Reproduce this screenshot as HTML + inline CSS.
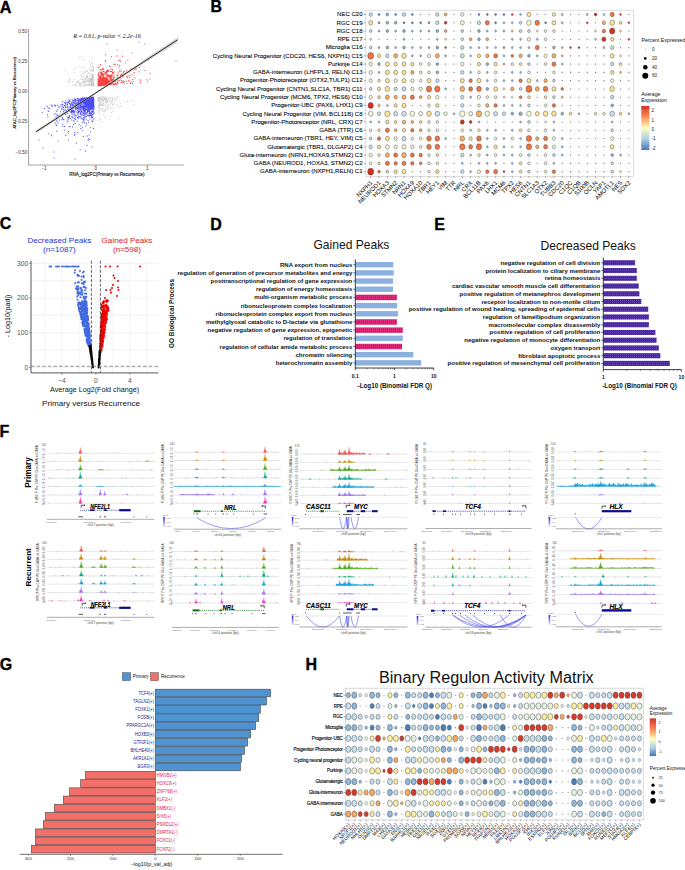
<!DOCTYPE html>
<html><head><meta charset="utf-8"><style>
html,body{margin:0;padding:0;background:#fff;}
svg{display:block;font-family:"Liberation Sans",sans-serif;}
.c0{fill:#c7e0ef;stroke:#444;stroke-width:0.45}
.c1{fill:#8db8da;stroke:#555;stroke-width:0.35}
.c2{fill:#8fb9de;stroke:#444;stroke-width:0.45}
.c3{fill:#f3f8d6;stroke:#333;stroke-width:0.4}
.c4{fill:#e6f2e4;stroke:#444;stroke-width:0.45}
.c5{fill:#fde48f;stroke:#333;stroke-width:0.4}
.c6{font-size:2.6px;text-anchor:middle;fill:#666}
.c7{stroke:#c8c8c8;stroke-width:0.45}
.c8{stroke:#555;stroke-width:0.5}
.c9{fill:#fbeea0;stroke:#444;stroke-width:0.45}
.c10{stroke:#e4e4e4;stroke-width:0.35}
.c11{fill:#c8e3ef;stroke:#333;stroke-width:0.4}
.c12{stroke:#ececec;stroke-width:0.35}
.c13{stroke:#555;stroke-width:0.45}
.c14{font-size:4.7px;text-anchor:end}
.c15{fill:#f4743f;stroke:#333;stroke-width:0.4}
.c16{stroke:#888;stroke-width:0.4}
.c17{font-size:2.4px;text-anchor:middle;fill:#666}
.c18{fill:#d93a2a;stroke:#444;stroke-width:0.45}
.c19{font-size:6.0px;text-anchor:end}
.c20{stroke:#000;stroke-width:0.08}
.c21{fill:#fcae5f;stroke:#333;stroke-width:0.4}
.c22{stroke:#111;stroke-width:0.6}
.c23{fill:#8db8da;stroke:#333;stroke-width:0.4}
.c24{font-size:6.06px;text-anchor:end;stroke:#000;stroke-width:0.08}
.c25{font-size:2.8px;text-anchor:middle;fill:#555}
.c26{fill:#c7e0ef;stroke:#555;stroke-width:0.35}
.c27{fill:none;stroke:#4848f0;stroke-width:0.55}
.c28{fill:#f6a963;stroke:#444;stroke-width:0.45}
.c29{font-size:6.1px;text-anchor:end;fill:#111;font-weight:bold}
.c30{font-size:6.03px;text-anchor:end;fill:#111;font-weight:bold}
</style></head><body>
<svg width="685" height="870" viewBox="0 0 685 870">
<rect width="685" height="870" fill="#fff"/>
<text x="-0.30" y="12.90" font-size="16.2" font-weight="bold" stroke="#000" stroke-width="0.35">A</text>
<line x1="28.60" y1="29.00" x2="28.60" y2="165.30" stroke="#9a9a9a" stroke-width="0.9"/>
<line x1="28.20" y1="165.00" x2="184.00" y2="165.00" stroke="#9a9a9a" stroke-width="0.9"/>
<line x1="27.00" y1="31.20" x2="28.60" y2="31.20" stroke="#9a9a9a" stroke-width="0.5"/>
<text x="27.00" y="32.70" font-size="4.5" text-anchor="end" fill="#333">0.50</text>
<line x1="27.00" y1="61.30" x2="28.60" y2="61.30" stroke="#9a9a9a" stroke-width="0.5"/>
<text x="27.00" y="62.80" font-size="4.5" text-anchor="end" fill="#333">0.25</text>
<line x1="27.00" y1="91.50" x2="28.60" y2="91.50" stroke="#9a9a9a" stroke-width="0.5"/>
<text x="27.00" y="93.00" font-size="4.5" text-anchor="end" fill="#333">0.00</text>
<line x1="27.00" y1="121.40" x2="28.60" y2="121.40" stroke="#9a9a9a" stroke-width="0.5"/>
<text x="27.00" y="122.90" font-size="4.5" text-anchor="end" fill="#333">−0.25</text>
<line x1="27.00" y1="152.00" x2="28.60" y2="152.00" stroke="#9a9a9a" stroke-width="0.5"/>
<text x="27.00" y="153.50" font-size="4.5" text-anchor="end" fill="#333">−0.50</text>
<line x1="44.30" y1="164.90" x2="44.30" y2="166.50" stroke="#9a9a9a" stroke-width="0.5"/>
<text x="44.30" y="170.30" font-size="4.5" text-anchor="middle" fill="#333">−1</text>
<line x1="95.70" y1="164.90" x2="95.70" y2="166.50" stroke="#9a9a9a" stroke-width="0.5"/>
<text x="95.70" y="170.30" font-size="4.5" text-anchor="middle" fill="#333">0</text>
<line x1="147.30" y1="164.90" x2="147.30" y2="166.50" stroke="#9a9a9a" stroke-width="0.5"/>
<text x="147.30" y="170.30" font-size="4.5" text-anchor="middle" fill="#333">1</text>
<text x="106.80" y="175.60" font-size="4.5" text-anchor="middle" stroke="#000" stroke-width="0.1">RNA_log2FC(Primary vs Recurrence)</text>
<text x="16.40" y="93.00" font-size="4.2" text-anchor="middle" transform="rotate(-90 16.40 93.00)" stroke="#000" stroke-width="0.1">ATAC_log2FC(Primary vs Recurrence)</text>
<path fill="#bdbdbd" opacity="0.85" d="M92.6 70.5h1v1h-1zM84.8 83.1h1v1h-1zM89.4 80.7h1v1h-1zM87.2 73.1h1v1h-1zM92.9 85.3h1v1h-1zM82.7 81.0h1v1h-1zM84.9 85.5h1v1h-1zM90.0 75.3h1v1h-1zM91.9 62.3h1v1h-1zM79.6 85.3h1v1h-1zM93.3 79.3h1v1h-1zM76.7 81.7h1v1h-1zM92.0 81.1h1v1h-1zM93.3 83.5h1v1h-1zM90.0 80.0h1v1h-1zM91.9 83.4h1v1h-1zM92.0 80.6h1v1h-1zM91.4 85.3h1v1h-1zM82.6 79.0h1v1h-1zM87.3 83.9h1v1h-1zM64.1 69.8h1v1h-1zM92.7 82.3h1v1h-1zM85.8 75.6h1v1h-1zM77.0 81.1h1v1h-1zM82.9 76.6h1v1h-1zM91.3 78.4h1v1h-1zM80.7 70.5h1v1h-1zM89.3 78.4h1v1h-1zM93.3 83.3h1v1h-1zM83.9 81.2h1v1h-1zM92.4 79.1h1v1h-1zM86.2 76.5h1v1h-1zM90.7 80.9h1v1h-1zM89.2 73.4h1v1h-1zM89.1 81.5h1v1h-1zM89.5 85.3h1v1h-1zM93.2 75.8h1v1h-1zM69.0 78.3h1v1h-1zM90.5 84.0h1v1h-1zM84.7 79.3h1v1h-1zM81.7 83.4h1v1h-1zM89.2 61.1h1v1h-1zM88.3 80.6h1v1h-1zM91.6 79.1h1v1h-1zM74.6 85.5h1v1h-1zM84.3 71.8h1v1h-1zM80.5 74.7h1v1h-1zM83.6 79.7h1v1h-1zM88.6 81.1h1v1h-1zM93.2 69.2h1v1h-1zM88.4 83.7h1v1h-1zM89.3 80.2h1v1h-1zM90.9 82.1h1v1h-1zM88.9 77.7h1v1h-1zM87.8 80.6h1v1h-1zM93.3 83.4h1v1h-1zM92.3 78.5h1v1h-1zM81.7 72.7h1v1h-1zM83.9 71.9h1v1h-1zM91.7 70.8h1v1h-1zM86.8 84.8h1v1h-1zM93.4 85.4h1v1h-1zM85.0 83.2h1v1h-1zM92.8 77.7h1v1h-1zM91.0 84.9h1v1h-1zM92.5 79.5h1v1h-1zM92.4 83.0h1v1h-1zM86.0 80.6h1v1h-1zM91.2 80.4h1v1h-1zM93.4 81.6h1v1h-1zM90.2 83.8h1v1h-1zM92.8 67.1h1v1h-1zM89.2 83.6h1v1h-1zM87.9 71.9h1v1h-1zM93.4 85.4h1v1h-1zM92.5 75.3h1v1h-1zM92.5 75.7h1v1h-1zM86.7 79.2h1v1h-1zM92.0 55.8h1v1h-1zM83.9 79.7h1v1h-1zM92.0 77.1h1v1h-1zM90.5 78.6h1v1h-1zM91.2 77.5h1v1h-1zM93.1 82.7h1v1h-1zM72.9 68.8h1v1h-1zM91.3 69.9h1v1h-1zM91.3 63.1h1v1h-1zM85.3 81.2h1v1h-1zM91.8 85.4h1v1h-1zM80.8 85.2h1v1h-1zM83.2 59.3h1v1h-1zM88.4 84.0h1v1h-1zM81.4 56.4h1v1h-1zM86.2 79.8h1v1h-1zM90.7 82.1h1v1h-1zM92.1 76.5h1v1h-1zM90.1 83.8h1v1h-1zM92.8 76.7h1v1h-1zM91.4 80.0h1v1h-1zM91.1 69.1h1v1h-1zM79.7 85.4h1v1h-1zM92.2 82.3h1v1h-1zM67.4 73.3h1v1h-1zM91.0 83.6h1v1h-1zM86.8 71.0h1v1h-1zM77.4 82.1h1v1h-1zM80.7 76.2h1v1h-1zM91.9 75.2h1v1h-1zM93.0 84.0h1v1h-1zM79.0 83.6h1v1h-1zM85.0 78.2h1v1h-1zM82.5 81.8h1v1h-1zM91.0 82.7h1v1h-1zM81.4 78.1h1v1h-1zM75.0 68.0h1v1h-1zM92.6 79.1h1v1h-1zM92.8 85.2h1v1h-1zM93.0 69.4h1v1h-1zM84.2 71.4h1v1h-1zM91.0 77.9h1v1h-1zM84.4 81.7h1v1h-1zM88.4 83.5h1v1h-1zM93.0 83.0h1v1h-1zM80.2 78.9h1v1h-1zM78.0 80.6h1v1h-1zM91.6 73.1h1v1h-1zM82.9 85.4h1v1h-1zM86.8 84.7h1v1h-1zM92.8 68.2h1v1h-1zM93.3 83.3h1v1h-1zM66.9 81.1h1v1h-1zM92.8 84.0h1v1h-1zM91.8 74.6h1v1h-1zM92.8 66.2h1v1h-1zM90.6 57.4h1v1h-1zM79.1 82.7h1v1h-1zM91.7 80.3h1v1h-1zM92.9 77.1h1v1h-1zM93.3 85.4h1v1h-1zM69.2 82.7h1v1h-1zM88.1 80.7h1v1h-1zM91.2 85.0h1v1h-1zM78.8 57.5h1v1h-1zM72.5 84.6h1v1h-1zM92.0 77.8h1v1h-1zM70.0 79.2h1v1h-1zM86.5 76.8h1v1h-1zM91.7 79.3h1v1h-1zM91.3 83.2h1v1h-1zM93.0 82.9h1v1h-1zM68.9 80.7h1v1h-1zM87.2 77.2h1v1h-1zM76.5 81.5h1v1h-1zM91.3 82.3h1v1h-1zM91.2 70.5h1v1h-1zM80.1 82.6h1v1h-1zM91.1 79.2h1v1h-1zM88.3 78.3h1v1h-1zM91.8 85.3h1v1h-1zM91.8 84.9h1v1h-1zM88.7 84.9h1v1h-1zM93.0 77.4h1v1h-1zM91.4 72.9h1v1h-1zM89.4 69.6h1v1h-1zM92.5 79.9h1v1h-1zM84.0 84.9h1v1h-1zM75.6 84.0h1v1h-1zM83.2 82.4h1v1h-1zM92.8 79.7h1v1h-1zM78.4 82.7h1v1h-1zM80.0 84.3h1v1h-1zM79.0 85.2h1v1h-1zM91.2 66.8h1v1h-1zM83.7 66.5h1v1h-1zM82.5 74.5h1v1h-1zM86.5 83.9h1v1h-1zM90.1 84.1h1v1h-1zM86.0 76.7h1v1h-1zM91.8 85.0h1v1h-1zM73.7 72.3h1v1h-1zM88.7 79.3h1v1h-1zM82.1 80.7h1v1h-1zM90.5 82.2h1v1h-1zM91.7 85.3h1v1h-1zM87.3 81.2h1v1h-1zM88.4 85.0h1v1h-1zM90.9 84.3h1v1h-1zM92.7 83.1h1v1h-1zM82.9 81.4h1v1h-1zM90.4 77.9h1v1h-1zM91.9 85.4h1v1h-1zM89.0 79.9h1v1h-1zM87.2 80.9h1v1h-1zM86.5 75.0h1v1h-1zM91.9 80.0h1v1h-1zM89.6 83.5h1v1h-1zM90.3 78.9h1v1h-1zM79.3 65.5h1v1h-1zM91.6 77.2h1v1h-1zM93.2 84.9h1v1h-1zM89.2 68.7h1v1h-1zM92.5 73.9h1v1h-1zM80.6 82.5h1v1h-1zM86.4 70.4h1v1h-1zM90.7 75.8h1v1h-1zM85.5 78.3h1v1h-1zM81.9 67.3h1v1h-1zM74.2 78.7h1v1h-1zM92.3 83.2h1v1h-1zM92.0 78.8h1v1h-1zM85.0 85.1h1v1h-1zM86.6 75.4h1v1h-1zM90.9 79.7h1v1h-1zM92.4 75.0h1v1h-1zM83.6 77.6h1v1h-1zM91.6 66.0h1v1h-1zM74.3 84.3h1v1h-1zM84.5 70.7h1v1h-1zM87.0 75.9h1v1h-1zM90.0 64.9h1v1h-1zM72.2 81.6h1v1h-1zM83.8 81.0h1v1h-1zM92.4 82.4h1v1h-1zM92.7 66.3h1v1h-1zM74.3 84.5h1v1h-1zM88.0 81.3h1v1h-1z"/>
<path fill="#c4c4c4" opacity="0.85" d="M98.5 98.6h1v1h-1zM99.8 104.8h1v1h-1zM97.5 97.8h1v1h-1zM102.1 96.6h1v1h-1zM105.4 102.1h1v1h-1zM111.9 97.9h1v1h-1zM100.2 101.2h1v1h-1zM100.1 101.8h1v1h-1zM99.8 103.4h1v1h-1zM110.0 106.4h1v1h-1zM126.6 101.2h1v1h-1zM102.9 108.1h1v1h-1zM109.2 101.6h1v1h-1zM101.4 98.5h1v1h-1zM98.4 106.4h1v1h-1zM98.5 104.8h1v1h-1zM103.8 116.6h1v1h-1zM109.0 118.3h1v1h-1zM98.7 100.7h1v1h-1zM104.3 98.7h1v1h-1zM103.1 99.1h1v1h-1zM103.5 96.5h1v1h-1zM102.2 100.1h1v1h-1zM100.4 99.6h1v1h-1zM109.7 103.4h1v1h-1zM102.9 102.8h1v1h-1zM101.3 97.9h1v1h-1zM97.5 98.5h1v1h-1zM104.8 109.3h1v1h-1zM111.6 100.8h1v1h-1zM132.3 100.2h1v1h-1zM111.9 99.7h1v1h-1zM100.4 97.6h1v1h-1zM105.2 101.0h1v1h-1zM101.1 96.5h1v1h-1zM101.4 99.8h1v1h-1zM101.7 108.4h1v1h-1zM104.5 104.4h1v1h-1zM115.8 104.8h1v1h-1zM102.9 104.7h1v1h-1zM105.7 102.8h1v1h-1zM105.4 99.6h1v1h-1zM105.4 102.5h1v1h-1zM119.6 105.7h1v1h-1zM112.5 105.3h1v1h-1zM111.0 102.1h1v1h-1zM100.9 98.3h1v1h-1zM107.3 108.9h1v1h-1zM103.8 97.5h1v1h-1zM111.8 100.5h1v1h-1zM102.5 96.8h1v1h-1zM103.2 104.7h1v1h-1zM101.9 99.1h1v1h-1zM106.1 96.6h1v1h-1zM103.2 114.0h1v1h-1zM106.9 99.6h1v1h-1zM106.8 102.1h1v1h-1zM99.4 97.9h1v1h-1zM114.9 98.4h1v1h-1zM98.1 107.2h1v1h-1zM103.4 99.3h1v1h-1zM103.2 104.5h1v1h-1zM99.0 102.9h1v1h-1zM107.5 106.6h1v1h-1zM100.0 102.1h1v1h-1zM99.6 101.4h1v1h-1zM99.0 105.9h1v1h-1zM113.6 98.9h1v1h-1zM99.5 116.4h1v1h-1zM107.3 107.6h1v1h-1zM97.7 110.3h1v1h-1zM105.3 98.8h1v1h-1zM102.0 105.1h1v1h-1zM109.8 97.8h1v1h-1zM105.4 97.6h1v1h-1zM126.4 100.0h1v1h-1zM117.0 104.3h1v1h-1zM105.0 98.3h1v1h-1zM103.5 97.4h1v1h-1zM98.7 104.0h1v1h-1zM101.1 104.9h1v1h-1zM99.7 104.1h1v1h-1zM107.6 98.7h1v1h-1zM98.4 99.5h1v1h-1zM102.9 97.1h1v1h-1zM99.2 96.8h1v1h-1zM104.8 109.7h1v1h-1zM99.5 96.7h1v1h-1zM107.2 106.6h1v1h-1zM124.1 102.2h1v1h-1zM100.9 107.4h1v1h-1zM98.5 103.6h1v1h-1zM98.3 99.6h1v1h-1zM103.0 99.3h1v1h-1zM99.0 98.1h1v1h-1zM111.2 100.2h1v1h-1zM104.4 97.9h1v1h-1zM107.5 98.9h1v1h-1zM104.7 110.9h1v1h-1zM110.3 108.2h1v1h-1zM100.6 99.4h1v1h-1zM104.4 111.6h1v1h-1zM101.6 109.2h1v1h-1zM108.9 97.5h1v1h-1zM117.1 96.6h1v1h-1zM98.8 103.1h1v1h-1zM98.0 99.4h1v1h-1zM98.6 100.2h1v1h-1zM112.2 110.7h1v1h-1zM97.8 96.9h1v1h-1zM112.2 96.8h1v1h-1zM100.1 97.2h1v1h-1zM98.3 96.7h1v1h-1zM105.6 104.7h1v1h-1zM106.8 107.7h1v1h-1zM106.2 99.5h1v1h-1zM105.5 117.5h1v1h-1zM105.7 98.2h1v1h-1zM98.0 112.9h1v1h-1zM104.6 99.1h1v1h-1zM104.9 101.4h1v1h-1zM103.4 96.9h1v1h-1zM101.0 99.7h1v1h-1zM99.3 109.2h1v1h-1zM101.9 103.0h1v1h-1zM107.5 104.7h1v1h-1zM107.7 104.9h1v1h-1zM99.8 119.0h1v1h-1zM98.8 111.6h1v1h-1zM112.9 108.0h1v1h-1zM97.9 97.1h1v1h-1zM110.9 100.3h1v1h-1zM101.2 121.6h1v1h-1zM97.8 101.0h1v1h-1zM102.2 97.3h1v1h-1zM101.5 103.9h1v1h-1zM114.6 96.6h1v1h-1zM103.4 97.1h1v1h-1zM110.4 97.0h1v1h-1zM97.8 99.4h1v1h-1zM108.1 98.8h1v1h-1zM98.6 106.0h1v1h-1zM110.7 108.1h1v1h-1zM100.4 99.8h1v1h-1zM99.8 101.4h1v1h-1zM100.7 99.0h1v1h-1zM109.7 115.3h1v1h-1zM104.5 97.2h1v1h-1zM106.0 100.1h1v1h-1zM132.9 104.1h1v1h-1zM111.9 103.7h1v1h-1zM103.6 110.1h1v1h-1zM111.8 98.6h1v1h-1zM98.9 99.3h1v1h-1zM103.4 97.1h1v1h-1zM100.9 101.6h1v1h-1zM97.9 106.6h1v1h-1zM105.9 98.8h1v1h-1zM100.3 99.1h1v1h-1zM100.6 104.8h1v1h-1zM103.1 101.0h1v1h-1zM98.8 111.2h1v1h-1zM100.7 98.9h1v1h-1zM98.1 119.8h1v1h-1zM102.7 111.1h1v1h-1zM118.5 117.5h1v1h-1zM111.0 112.1h1v1h-1zM117.9 106.2h1v1h-1zM98.7 101.0h1v1h-1zM109.8 103.8h1v1h-1zM108.5 99.2h1v1h-1zM120.3 102.7h1v1h-1zM101.6 100.2h1v1h-1zM128.7 101.1h1v1h-1zM99.0 97.5h1v1h-1zM106.8 101.5h1v1h-1zM116.5 97.7h1v1h-1zM101.7 104.3h1v1h-1zM97.9 97.1h1v1h-1zM103.8 98.4h1v1h-1zM98.4 98.3h1v1h-1zM105.5 101.0h1v1h-1zM98.2 97.0h1v1h-1zM112.7 102.7h1v1h-1zM99.0 108.4h1v1h-1zM97.7 99.3h1v1h-1zM112.6 103.9h1v1h-1zM100.2 109.8h1v1h-1zM104.8 108.5h1v1h-1zM115.4 99.8h1v1h-1zM106.5 101.2h1v1h-1zM120.7 106.1h1v1h-1zM107.9 106.6h1v1h-1zM99.3 104.7h1v1h-1zM109.3 100.8h1v1h-1zM102.8 99.6h1v1h-1z"/>
<path fill="#f42020" opacity="0.85" d="M123.9 71.0h1v1h-1zM102.4 83.6h1v1h-1zM110.6 75.1h1v1h-1zM103.7 76.7h1v1h-1zM98.3 84.4h1v1h-1zM109.9 78.5h1v1h-1zM122.7 72.3h1v1h-1zM122.1 81.6h1v1h-1zM120.3 78.2h1v1h-1zM122.2 81.9h1v1h-1zM118.2 60.0h1v1h-1zM121.1 75.8h1v1h-1zM103.5 76.6h1v1h-1zM124.1 83.3h1v1h-1zM149.6 73.2h1v1h-1zM112.3 71.5h1v1h-1zM130.1 82.9h1v1h-1zM115.1 80.3h1v1h-1zM135.9 68.6h1v1h-1zM121.1 74.3h1v1h-1zM134.1 68.7h1v1h-1zM108.7 76.1h1v1h-1zM132.3 79.1h1v1h-1zM120.7 71.2h1v1h-1zM115.5 83.3h1v1h-1zM107.1 83.5h1v1h-1zM110.1 75.9h1v1h-1zM109.7 84.0h1v1h-1zM100.0 64.1h1v1h-1zM111.4 79.9h1v1h-1zM112.9 84.5h1v1h-1zM130.2 82.0h1v1h-1zM105.2 74.3h1v1h-1zM101.4 73.0h1v1h-1zM102.5 72.9h1v1h-1zM128.7 80.6h1v1h-1zM106.3 81.9h1v1h-1zM111.6 83.0h1v1h-1zM112.6 83.2h1v1h-1zM146.4 79.2h1v1h-1zM123.3 73.7h1v1h-1zM101.9 81.2h1v1h-1zM148.0 59.4h1v1h-1zM121.0 80.0h1v1h-1zM125.1 62.4h1v1h-1zM106.7 84.0h1v1h-1zM117.2 80.6h1v1h-1zM102.3 80.4h1v1h-1zM99.1 76.7h1v1h-1zM132.7 80.9h1v1h-1zM119.5 69.4h1v1h-1zM101.3 81.1h1v1h-1zM120.4 73.9h1v1h-1zM104.0 72.7h1v1h-1zM105.7 82.0h1v1h-1zM103.2 81.1h1v1h-1zM130.3 68.2h1v1h-1zM104.8 72.6h1v1h-1zM133.7 72.0h1v1h-1zM114.0 84.1h1v1h-1zM139.9 81.9h1v1h-1zM110.9 82.6h1v1h-1zM98.6 75.7h1v1h-1zM100.1 85.2h1v1h-1zM126.7 82.7h1v1h-1zM144.5 69.9h1v1h-1zM100.2 71.9h1v1h-1zM128.9 76.9h1v1h-1zM105.4 78.5h1v1h-1zM102.3 68.5h1v1h-1zM106.5 82.0h1v1h-1zM106.1 71.9h1v1h-1zM138.8 67.1h1v1h-1zM124.3 80.9h1v1h-1zM109.8 75.8h1v1h-1zM103.2 68.8h1v1h-1zM99.0 78.0h1v1h-1zM112.7 75.6h1v1h-1zM111.9 72.1h1v1h-1zM114.8 64.3h1v1h-1zM106.0 72.4h1v1h-1zM114.1 81.1h1v1h-1zM108.1 70.4h1v1h-1zM113.5 63.5h1v1h-1zM106.8 73.4h1v1h-1zM102.5 80.2h1v1h-1zM107.3 78.5h1v1h-1zM118.7 77.2h1v1h-1zM105.0 71.8h1v1h-1zM103.2 78.1h1v1h-1zM105.6 71.7h1v1h-1zM113.2 77.0h1v1h-1zM101.5 85.2h1v1h-1zM106.9 70.9h1v1h-1zM109.8 80.9h1v1h-1zM122.0 55.7h1v1h-1zM112.2 72.3h1v1h-1zM101.8 85.0h1v1h-1zM102.8 80.0h1v1h-1zM97.7 67.0h1v1h-1zM99.9 82.5h1v1h-1zM125.9 75.7h1v1h-1zM111.4 79.0h1v1h-1zM98.3 82.0h1v1h-1zM108.2 83.7h1v1h-1zM135.1 68.4h1v1h-1zM107.1 78.8h1v1h-1zM104.3 77.3h1v1h-1zM115.0 83.5h1v1h-1zM115.2 81.2h1v1h-1zM107.0 70.3h1v1h-1zM112.6 72.3h1v1h-1zM111.5 76.7h1v1h-1zM109.5 71.2h1v1h-1zM122.9 81.6h1v1h-1zM117.0 81.9h1v1h-1zM120.2 75.0h1v1h-1zM103.8 84.0h1v1h-1zM109.9 84.4h1v1h-1zM102.2 74.0h1v1h-1zM112.1 82.3h1v1h-1zM100.7 72.1h1v1h-1zM117.5 82.5h1v1h-1zM112.9 78.2h1v1h-1zM111.7 73.5h1v1h-1zM134.5 77.5h1v1h-1zM102.6 69.0h1v1h-1zM114.4 82.7h1v1h-1zM102.3 79.5h1v1h-1zM107.0 81.8h1v1h-1zM107.6 79.7h1v1h-1zM118.6 66.6h1v1h-1zM118.9 64.8h1v1h-1zM118.4 66.5h1v1h-1zM113.4 76.7h1v1h-1zM117.5 74.4h1v1h-1zM101.2 69.4h1v1h-1zM105.8 71.0h1v1h-1zM146.8 81.2h1v1h-1zM122.6 76.5h1v1h-1zM116.2 74.8h1v1h-1zM113.9 76.5h1v1h-1zM102.4 70.9h1v1h-1zM138.6 71.2h1v1h-1zM120.4 76.1h1v1h-1zM118.8 80.2h1v1h-1zM127.9 79.8h1v1h-1zM103.4 85.1h1v1h-1zM105.9 81.2h1v1h-1zM116.2 83.9h1v1h-1zM105.0 54.3h1v1h-1zM122.0 75.5h1v1h-1zM109.4 65.9h1v1h-1zM98.6 65.8h1v1h-1zM99.1 71.5h1v1h-1zM104.9 80.1h1v1h-1zM105.0 61.3h1v1h-1zM113.5 64.1h1v1h-1zM114.1 71.5h1v1h-1zM131.9 82.9h1v1h-1zM117.6 80.3h1v1h-1zM109.4 78.5h1v1h-1zM106.2 74.3h1v1h-1zM106.4 70.4h1v1h-1zM104.2 84.7h1v1h-1zM117.1 64.2h1v1h-1zM111.0 71.0h1v1h-1zM115.7 83.6h1v1h-1zM110.9 56.2h1v1h-1zM139.8 79.8h1v1h-1zM125.6 70.1h1v1h-1zM112.0 69.4h1v1h-1zM112.2 78.9h1v1h-1zM126.2 80.8h1v1h-1zM102.3 73.5h1v1h-1zM120.4 81.9h1v1h-1zM102.1 68.1h1v1h-1zM105.0 74.1h1v1h-1zM122.6 80.3h1v1h-1zM131.8 74.3h1v1h-1zM108.9 76.3h1v1h-1zM101.1 83.7h1v1h-1zM108.8 81.7h1v1h-1zM100.5 69.4h1v1h-1zM102.4 76.7h1v1h-1zM127.4 59.8h1v1h-1zM119.8 60.9h1v1h-1zM117.5 83.0h1v1h-1zM119.3 71.1h1v1h-1zM118.7 77.2h1v1h-1zM99.1 84.7h1v1h-1zM116.3 55.5h1v1h-1zM122.1 75.3h1v1h-1zM105.6 78.3h1v1h-1zM104.8 60.1h1v1h-1zM109.5 83.1h1v1h-1zM118.1 77.6h1v1h-1zM129.4 75.1h1v1h-1zM127.0 76.9h1v1h-1zM106.9 69.2h1v1h-1zM103.2 78.6h1v1h-1zM97.7 74.5h1v1h-1zM105.9 78.6h1v1h-1zM105.3 79.6h1v1h-1zM103.3 79.4h1v1h-1zM103.4 84.3h1v1h-1zM117.4 82.6h1v1h-1zM100.0 80.6h1v1h-1zM106.8 80.4h1v1h-1zM110.0 83.5h1v1h-1zM101.6 78.1h1v1h-1zM106.5 82.4h1v1h-1zM101.7 83.2h1v1h-1zM103.8 81.1h1v1h-1zM102.0 74.0h1v1h-1zM100.4 82.5h1v1h-1zM111.6 79.3h1v1h-1zM99.6 76.7h1v1h-1zM98.4 79.8h1v1h-1zM101.3 81.4h1v1h-1zM101.3 81.0h1v1h-1zM102.0 84.4h1v1h-1zM101.7 81.6h1v1h-1zM102.2 74.4h1v1h-1zM102.7 84.1h1v1h-1zM112.1 78.7h1v1h-1zM106.5 81.0h1v1h-1zM101.6 82.5h1v1h-1zM99.8 83.5h1v1h-1zM98.1 83.3h1v1h-1zM97.7 79.3h1v1h-1zM101.9 77.4h1v1h-1zM104.3 79.2h1v1h-1zM102.8 82.9h1v1h-1zM102.3 81.6h1v1h-1zM109.9 68.7h1v1h-1zM107.0 75.2h1v1h-1zM99.5 75.5h1v1h-1zM103.2 78.6h1v1h-1zM110.2 78.1h1v1h-1zM99.8 78.5h1v1h-1zM101.2 74.1h1v1h-1zM106.7 79.9h1v1h-1zM97.7 80.7h1v1h-1zM111.5 80.0h1v1h-1zM103.4 74.4h1v1h-1zM108.4 82.2h1v1h-1zM110.0 76.9h1v1h-1zM101.5 81.6h1v1h-1zM100.0 78.0h1v1h-1zM110.1 74.9h1v1h-1zM101.4 73.9h1v1h-1zM111.0 74.8h1v1h-1zM106.0 77.3h1v1h-1zM97.5 85.0h1v1h-1zM101.4 82.2h1v1h-1zM98.2 79.3h1v1h-1zM108.5 83.6h1v1h-1zM98.8 76.5h1v1h-1zM106.0 72.2h1v1h-1zM113.2 83.9h1v1h-1zM110.9 82.2h1v1h-1zM103.1 82.6h1v1h-1zM109.8 77.6h1v1h-1zM104.5 79.0h1v1h-1zM99.8 84.8h1v1h-1zM100.8 73.8h1v1h-1zM115.1 80.5h1v1h-1zM100.5 83.7h1v1h-1zM98.5 83.7h1v1h-1zM105.1 81.7h1v1h-1zM107.9 82.3h1v1h-1zM101.0 78.2h1v1h-1zM102.8 84.5h1v1h-1zM107.9 74.6h1v1h-1zM111.3 83.0h1v1h-1zM113.5 78.7h1v1h-1zM112.1 81.1h1v1h-1zM99.5 82.1h1v1h-1zM103.0 82.2h1v1h-1zM106.6 82.7h1v1h-1zM112.7 83.5h1v1h-1zM117.6 71.7h1v1h-1zM101.9 73.5h1v1h-1zM102.4 80.1h1v1h-1zM105.0 80.9h1v1h-1zM106.8 81.5h1v1h-1zM105.2 81.0h1v1h-1zM107.1 80.9h1v1h-1zM99.4 82.1h1v1h-1zM110.7 77.8h1v1h-1zM100.3 72.8h1v1h-1zM100.7 74.6h1v1h-1zM122.7 71.6h1v1h-1zM100.2 77.3h1v1h-1zM105.4 79.4h1v1h-1zM114.7 82.8h1v1h-1zM101.5 80.0h1v1h-1zM108.3 81.7h1v1h-1zM105.5 81.2h1v1h-1zM107.8 75.5h1v1h-1zM106.4 82.3h1v1h-1zM97.7 85.0h1v1h-1zM101.3 80.4h1v1h-1zM101.3 72.1h1v1h-1zM99.8 82.9h1v1h-1zM101.4 78.3h1v1h-1zM109.0 65.8h1v1h-1zM104.0 78.0h1v1h-1zM100.3 84.7h1v1h-1zM107.6 76.1h1v1h-1zM99.6 68.8h1v1h-1zM107.4 82.1h1v1h-1zM99.8 83.6h1v1h-1zM106.5 71.7h1v1h-1zM97.9 82.9h1v1h-1zM100.1 75.3h1v1h-1zM97.9 81.1h1v1h-1zM99.1 78.3h1v1h-1zM98.0 80.1h1v1h-1zM112.8 71.9h1v1h-1zM98.9 83.1h1v1h-1zM104.8 71.7h1v1h-1zM100.2 82.7h1v1h-1zM104.6 82.7h1v1h-1zM97.5 84.0h1v1h-1zM102.8 75.4h1v1h-1zM99.2 84.2h1v1h-1zM107.5 79.7h1v1h-1zM103.4 80.2h1v1h-1zM102.7 84.3h1v1h-1zM100.7 83.0h1v1h-1zM101.0 83.5h1v1h-1zM98.1 81.3h1v1h-1zM116.8 78.3h1v1h-1zM108.0 70.6h1v1h-1zM98.4 81.0h1v1h-1zM98.5 85.1h1v1h-1zM99.5 85.1h1v1h-1zM97.7 77.5h1v1h-1zM111.1 83.7h1v1h-1zM110.2 78.5h1v1h-1zM107.1 83.0h1v1h-1zM99.2 80.3h1v1h-1zM105.2 84.5h1v1h-1zM106.6 78.9h1v1h-1zM99.2 81.6h1v1h-1zM100.2 80.4h1v1h-1zM105.2 82.1h1v1h-1zM99.2 85.1h1v1h-1zM101.2 84.8h1v1h-1zM105.8 78.2h1v1h-1zM105.6 82.8h1v1h-1zM99.4 79.8h1v1h-1zM105.0 81.9h1v1h-1zM101.8 74.3h1v1h-1zM111.9 80.7h1v1h-1zM106.8 81.6h1v1h-1zM106.6 84.7h1v1h-1zM101.9 77.6h1v1h-1zM103.0 79.6h1v1h-1zM112.4 82.1h1v1h-1zM101.9 78.3h1v1h-1zM110.8 79.9h1v1h-1zM102.3 82.0h1v1h-1zM101.5 77.2h1v1h-1zM106.0 82.8h1v1h-1zM102.0 82.2h1v1h-1zM109.1 81.1h1v1h-1zM108.5 80.1h1v1h-1zM103.0 80.6h1v1h-1zM108.1 81.1h1v1h-1zM106.2 76.1h1v1h-1zM110.8 83.8h1v1h-1zM97.8 80.1h1v1h-1zM104.7 84.3h1v1h-1zM109.4 78.6h1v1h-1zM101.3 82.0h1v1h-1zM101.0 83.6h1v1h-1zM109.0 83.9h1v1h-1zM106.0 77.8h1v1h-1zM108.1 82.4h1v1h-1zM99.7 69.3h1v1h-1zM99.1 81.6h1v1h-1zM98.5 78.0h1v1h-1zM104.3 82.2h1v1h-1zM99.8 79.0h1v1h-1zM106.3 83.6h1v1h-1zM99.6 83.5h1v1h-1zM103.4 70.9h1v1h-1zM106.1 79.3h1v1h-1zM101.6 81.7h1v1h-1zM101.8 82.5h1v1h-1zM111.5 68.8h1v1h-1zM98.1 72.5h1v1h-1zM110.0 84.3h1v1h-1zM100.8 78.3h1v1h-1zM98.4 84.0h1v1h-1zM104.5 79.1h1v1h-1zM104.3 79.5h1v1h-1zM102.0 77.3h1v1h-1zM103.3 82.4h1v1h-1zM103.6 83.5h1v1h-1zM104.4 84.5h1v1h-1zM105.5 81.0h1v1h-1zM113.7 84.0h1v1h-1zM97.7 75.0h1v1h-1zM103.8 84.6h1v1h-1zM101.5 81.9h1v1h-1zM105.2 80.3h1v1h-1zM101.7 84.9h1v1h-1zM117.1 75.6h1v1h-1zM98.1 85.2h1v1h-1zM109.5 80.6h1v1h-1zM99.3 83.5h1v1h-1zM107.4 84.2h1v1h-1zM98.3 84.4h1v1h-1zM103.0 84.8h1v1h-1zM99.6 80.3h1v1h-1zM103.3 83.5h1v1h-1zM98.1 81.1h1v1h-1zM102.0 82.1h1v1h-1zM105.8 82.4h1v1h-1zM101.5 79.5h1v1h-1zM102.6 84.7h1v1h-1zM106.1 76.5h1v1h-1zM98.5 81.6h1v1h-1zM100.5 83.6h1v1h-1zM102.1 72.7h1v1h-1zM106.7 75.2h1v1h-1zM98.9 83.9h1v1h-1zM99.2 79.7h1v1h-1zM104.8 81.2h1v1h-1zM100.7 76.3h1v1h-1zM101.4 82.3h1v1h-1zM97.6 82.4h1v1h-1zM111.5 80.9h1v1h-1zM98.7 80.3h1v1h-1zM97.6 78.9h1v1h-1zM97.5 83.9h1v1h-1zM97.6 81.3h1v1h-1zM102.7 79.4h1v1h-1zM105.8 78.2h1v1h-1zM109.5 76.1h1v1h-1zM103.9 80.6h1v1h-1zM98.0 73.6h1v1h-1zM110.1 74.7h1v1h-1zM100.6 83.3h1v1h-1zM110.3 79.4h1v1h-1zM104.9 79.7h1v1h-1zM113.7 77.1h1v1h-1zM97.7 79.4h1v1h-1zM104.7 83.3h1v1h-1zM104.7 80.5h1v1h-1zM101.7 84.8h1v1h-1zM102.6 78.0h1v1h-1zM106.2 77.6h1v1h-1zM102.7 79.4h1v1h-1zM100.5 82.8h1v1h-1zM107.2 80.5h1v1h-1zM98.6 76.4h1v1h-1zM105.0 73.9h1v1h-1zM100.6 79.0h1v1h-1zM113.4 80.1h1v1h-1zM110.9 78.2h1v1h-1zM98.7 83.2h1v1h-1zM101.3 78.0h1v1h-1zM110.3 83.4h1v1h-1zM100.2 79.7h1v1h-1zM106.8 82.9h1v1h-1zM108.3 75.5h1v1h-1zM99.7 76.6h1v1h-1zM101.2 80.2h1v1h-1zM111.7 73.7h1v1h-1zM103.7 83.9h1v1h-1zM113.1 73.4h1v1h-1zM99.0 80.8h1v1h-1zM101.6 80.6h1v1h-1zM103.7 81.6h1v1h-1zM115.7 79.3h1v1h-1zM97.8 84.8h1v1h-1zM101.0 83.2h1v1h-1zM108.9 74.8h1v1h-1zM101.1 81.7h1v1h-1zM101.1 78.2h1v1h-1zM105.6 80.2h1v1h-1zM105.7 80.3h1v1h-1zM112.3 78.9h1v1h-1zM105.4 81.3h1v1h-1zM105.0 84.4h1v1h-1zM100.4 84.2h1v1h-1zM101.3 74.9h1v1h-1zM101.2 82.0h1v1h-1zM101.4 80.0h1v1h-1zM104.7 83.1h1v1h-1zM106.8 78.7h1v1h-1zM99.8 83.3h1v1h-1zM100.8 81.9h1v1h-1zM103.2 78.1h1v1h-1zM103.8 77.0h1v1h-1zM99.0 85.3h1v1h-1zM101.2 78.6h1v1h-1zM100.1 84.8h1v1h-1zM104.4 78.9h1v1h-1zM99.5 83.5h1v1h-1zM103.0 75.6h1v1h-1zM122.2 74.6h1v1h-1zM110.8 76.2h1v1h-1zM105.7 81.6h1v1h-1zM100.2 84.0h1v1h-1zM108.3 81.0h1v1h-1zM98.5 84.5h1v1h-1zM100.5 80.2h1v1h-1zM103.4 74.0h1v1h-1zM97.6 80.1h1v1h-1zM117.1 82.6h1v1h-1zM100.6 76.6h1v1h-1zM105.6 82.8h1v1h-1zM102.5 83.1h1v1h-1zM104.7 77.7h1v1h-1zM107.1 81.4h1v1h-1zM106.8 78.7h1v1h-1zM100.8 79.9h1v1h-1zM105.3 80.2h1v1h-1zM112.4 79.0h1v1h-1zM104.4 80.7h1v1h-1zM108.1 70.0h1v1h-1zM98.1 75.3h1v1h-1zM97.7 75.1h1v1h-1zM106.7 82.9h1v1h-1zM108.7 80.4h1v1h-1zM109.9 78.8h1v1h-1zM106.2 81.9h1v1h-1zM107.6 84.0h1v1h-1zM109.7 80.5h1v1h-1zM102.9 77.8h1v1h-1zM109.7 81.2h1v1h-1zM101.2 79.1h1v1h-1zM102.0 76.5h1v1h-1zM98.6 82.8h1v1h-1zM97.9 79.6h1v1h-1zM102.1 79.3h1v1h-1zM107.4 71.1h1v1h-1zM116.8 77.0h1v1h-1zM101.8 78.6h1v1h-1zM103.3 84.7h1v1h-1zM99.5 83.8h1v1h-1zM102.9 78.8h1v1h-1zM122.8 81.7h1v1h-1zM102.0 81.7h1v1h-1zM104.6 84.6h1v1h-1zM105.0 72.3h1v1h-1zM102.6 81.4h1v1h-1zM105.5 82.6h1v1h-1zM107.3 82.6h1v1h-1zM102.8 77.4h1v1h-1zM107.8 82.3h1v1h-1zM99.0 80.4h1v1h-1zM98.0 84.9h1v1h-1zM101.5 84.8h1v1h-1zM106.0 78.5h1v1h-1zM98.6 76.7h1v1h-1zM111.1 80.0h1v1h-1zM111.7 80.0h1v1h-1zM109.6 81.1h1v1h-1zM104.0 81.4h1v1h-1zM102.3 83.7h1v1h-1zM112.4 80.3h1v1h-1zM102.6 84.1h1v1h-1zM106.1 83.7h1v1h-1zM111.1 75.4h1v1h-1zM98.3 81.6h1v1h-1zM101.6 82.8h1v1h-1zM99.1 77.4h1v1h-1zM98.4 83.2h1v1h-1zM102.7 83.1h1v1h-1zM102.6 79.5h1v1h-1zM100.3 83.4h1v1h-1zM106.0 82.4h1v1h-1zM105.6 81.8h1v1h-1zM102.3 84.9h1v1h-1zM105.7 83.1h1v1h-1zM107.5 77.9h1v1h-1zM102.0 84.6h1v1h-1zM110.5 71.0h1v1h-1zM101.9 82.2h1v1h-1zM99.6 81.2h1v1h-1zM113.2 80.4h1v1h-1zM100.5 83.5h1v1h-1zM101.8 83.9h1v1h-1zM102.5 81.1h1v1h-1zM97.8 84.4h1v1h-1zM106.2 84.2h1v1h-1zM97.9 80.1h1v1h-1zM103.6 82.3h1v1h-1zM97.6 81.6h1v1h-1zM106.2 84.3h1v1h-1zM107.1 82.7h1v1h-1zM104.3 83.7h1v1h-1zM106.3 70.9h1v1h-1zM108.1 81.3h1v1h-1zM98.7 79.9h1v1h-1zM105.0 81.0h1v1h-1zM105.5 84.2h1v1h-1zM103.0 84.0h1v1h-1zM97.8 81.3h1v1h-1zM102.5 82.4h1v1h-1zM100.8 71.8h1v1h-1zM97.9 79.9h1v1h-1zM104.4 82.9h1v1h-1zM104.4 78.4h1v1h-1zM101.9 79.6h1v1h-1zM101.1 73.2h1v1h-1zM98.9 81.0h1v1h-1zM107.4 78.8h1v1h-1zM99.9 81.9h1v1h-1zM110.7 75.6h1v1h-1zM108.0 82.4h1v1h-1zM100.4 73.4h1v1h-1zM98.0 83.2h1v1h-1zM175.5 60.5h1v1h-1zM138.5 41.5h1v1h-1zM144.5 43.5h1v1h-1zM106.5 43.5h1v1h-1zM116.5 49.5h1v1h-1zM131.5 52.5h1v1h-1zM139.5 79.5h1v1h-1zM149.5 78.5h1v1h-1zM127.5 75.5h1v1h-1zM119.5 59.5h1v1h-1z"/>
<path fill="#2a2af6" opacity="0.85" d="M76.9 109.7h1v1h-1zM89.0 110.3h1v1h-1zM56.9 114.9h1v1h-1zM74.7 109.0h1v1h-1zM78.0 115.5h1v1h-1zM86.5 144.7h1v1h-1zM93.2 105.5h1v1h-1zM68.1 108.8h1v1h-1zM71.3 119.5h1v1h-1zM41.7 112.3h1v1h-1zM90.2 106.2h1v1h-1zM80.7 100.6h1v1h-1zM82.6 100.1h1v1h-1zM83.5 102.6h1v1h-1zM80.3 109.7h1v1h-1zM84.2 122.2h1v1h-1zM88.6 105.3h1v1h-1zM84.9 105.7h1v1h-1zM91.1 115.6h1v1h-1zM43.9 108.1h1v1h-1zM70.6 111.2h1v1h-1zM82.3 102.1h1v1h-1zM85.8 104.6h1v1h-1zM77.5 108.6h1v1h-1zM70.6 107.9h1v1h-1zM48.3 110.8h1v1h-1zM90.6 107.7h1v1h-1zM91.6 97.7h1v1h-1zM91.4 101.3h1v1h-1zM87.5 107.0h1v1h-1zM81.7 126.7h1v1h-1zM92.1 104.4h1v1h-1zM85.1 102.4h1v1h-1zM79.7 149.2h1v1h-1zM61.9 105.6h1v1h-1zM87.4 105.3h1v1h-1zM79.4 109.8h1v1h-1zM93.4 113.0h1v1h-1zM74.7 114.8h1v1h-1zM91.3 102.6h1v1h-1zM93.2 99.8h1v1h-1zM81.7 114.1h1v1h-1zM72.3 114.2h1v1h-1zM55.4 113.2h1v1h-1zM92.4 98.5h1v1h-1zM58.5 114.8h1v1h-1zM55.9 119.4h1v1h-1zM82.6 120.6h1v1h-1zM61.8 117.8h1v1h-1zM87.6 100.1h1v1h-1zM61.3 109.3h1v1h-1zM64.6 104.8h1v1h-1zM68.8 125.9h1v1h-1zM92.6 119.5h1v1h-1zM82.0 102.1h1v1h-1zM82.0 99.6h1v1h-1zM87.6 115.1h1v1h-1zM85.4 99.0h1v1h-1zM75.8 142.7h1v1h-1zM71.0 108.2h1v1h-1zM85.6 102.3h1v1h-1zM61.5 108.1h1v1h-1zM63.8 109.8h1v1h-1zM71.8 105.0h1v1h-1zM70.7 110.9h1v1h-1zM58.1 106.6h1v1h-1zM85.9 100.2h1v1h-1zM56.5 120.7h1v1h-1zM86.8 103.0h1v1h-1zM55.8 124.8h1v1h-1zM68.9 116.0h1v1h-1zM71.0 110.6h1v1h-1zM79.9 105.2h1v1h-1zM82.8 119.0h1v1h-1zM68.2 110.2h1v1h-1zM88.6 100.3h1v1h-1zM78.9 106.4h1v1h-1zM76.3 111.4h1v1h-1zM85.0 150.6h1v1h-1zM68.0 139.5h1v1h-1zM66.6 104.2h1v1h-1zM91.9 106.6h1v1h-1zM86.9 114.7h1v1h-1zM81.5 103.9h1v1h-1zM61.3 103.8h1v1h-1zM91.5 120.5h1v1h-1zM64.8 114.3h1v1h-1zM72.9 110.7h1v1h-1zM80.6 108.8h1v1h-1zM82.0 102.1h1v1h-1zM47.7 110.6h1v1h-1zM85.6 108.9h1v1h-1zM72.9 124.2h1v1h-1zM75.4 103.3h1v1h-1zM50.6 104.5h1v1h-1zM60.0 111.2h1v1h-1zM70.2 111.4h1v1h-1zM51.0 135.2h1v1h-1zM56.9 109.6h1v1h-1zM87.7 101.6h1v1h-1zM90.2 97.7h1v1h-1zM87.9 138.2h1v1h-1zM83.3 117.6h1v1h-1zM68.0 116.9h1v1h-1zM68.8 115.0h1v1h-1zM74.4 133.9h1v1h-1zM64.9 108.8h1v1h-1zM64.7 105.7h1v1h-1zM87.4 106.9h1v1h-1zM83.2 101.1h1v1h-1zM66.5 106.8h1v1h-1zM80.4 125.3h1v1h-1zM86.9 105.5h1v1h-1zM87.2 102.8h1v1h-1zM73.2 119.7h1v1h-1zM77.5 104.2h1v1h-1zM74.4 115.7h1v1h-1zM93.0 128.1h1v1h-1zM88.7 134.4h1v1h-1zM63.6 104.9h1v1h-1zM88.5 115.2h1v1h-1zM56.6 114.5h1v1h-1zM78.6 124.3h1v1h-1zM62.9 106.9h1v1h-1zM83.1 113.6h1v1h-1zM81.5 110.9h1v1h-1zM63.9 129.7h1v1h-1zM54.8 105.2h1v1h-1zM86.7 135.6h1v1h-1zM64.1 125.9h1v1h-1zM86.8 107.8h1v1h-1zM91.9 121.3h1v1h-1zM67.0 103.8h1v1h-1zM67.4 116.4h1v1h-1zM62.7 118.7h1v1h-1zM74.5 100.1h1v1h-1zM87.8 122.1h1v1h-1zM46.5 105.9h1v1h-1zM83.5 121.7h1v1h-1zM89.2 100.2h1v1h-1zM90.7 114.6h1v1h-1zM85.8 104.3h1v1h-1zM73.7 118.1h1v1h-1zM67.7 117.5h1v1h-1zM69.1 108.5h1v1h-1zM80.1 105.8h1v1h-1zM81.2 103.3h1v1h-1zM73.6 118.0h1v1h-1zM54.9 122.5h1v1h-1zM68.0 109.4h1v1h-1zM61.0 115.1h1v1h-1zM56.2 130.7h1v1h-1zM86.3 104.3h1v1h-1zM85.5 119.3h1v1h-1zM84.0 106.4h1v1h-1zM89.5 118.6h1v1h-1zM89.8 127.2h1v1h-1zM63.4 119.3h1v1h-1zM73.6 120.9h1v1h-1zM82.9 136.0h1v1h-1zM89.5 99.3h1v1h-1zM67.9 131.0h1v1h-1zM90.4 114.5h1v1h-1zM93.5 109.6h1v1h-1zM86.1 113.3h1v1h-1zM88.4 98.1h1v1h-1zM83.4 102.5h1v1h-1zM87.6 139.8h1v1h-1zM51.3 105.7h1v1h-1zM92.9 100.4h1v1h-1zM86.1 113.4h1v1h-1zM65.1 113.7h1v1h-1zM86.0 101.8h1v1h-1zM77.9 108.8h1v1h-1zM85.2 99.6h1v1h-1zM75.4 103.6h1v1h-1zM83.8 116.8h1v1h-1zM62.4 123.6h1v1h-1zM85.2 105.7h1v1h-1zM62.2 125.7h1v1h-1zM93.5 118.3h1v1h-1zM62.4 103.8h1v1h-1zM87.8 110.7h1v1h-1zM52.0 105.5h1v1h-1zM85.3 110.2h1v1h-1zM68.3 101.6h1v1h-1zM66.5 121.4h1v1h-1zM83.7 107.8h1v1h-1zM84.5 108.7h1v1h-1zM89.6 106.4h1v1h-1zM47.4 116.5h1v1h-1zM74.8 117.6h1v1h-1zM74.1 132.0h1v1h-1zM92.0 101.1h1v1h-1zM85.3 125.6h1v1h-1zM87.7 110.7h1v1h-1zM87.6 120.0h1v1h-1zM54.5 105.6h1v1h-1zM84.8 100.3h1v1h-1zM79.1 104.1h1v1h-1zM59.0 106.5h1v1h-1zM90.6 97.8h1v1h-1zM70.2 105.9h1v1h-1zM79.6 101.7h1v1h-1zM92.9 107.7h1v1h-1zM55.7 125.1h1v1h-1zM91.7 111.6h1v1h-1zM92.3 100.5h1v1h-1zM55.2 105.3h1v1h-1zM87.1 98.3h1v1h-1zM72.1 108.5h1v1h-1zM88.0 108.9h1v1h-1zM83.7 105.9h1v1h-1zM77.2 132.2h1v1h-1zM69.6 117.9h1v1h-1zM91.0 100.1h1v1h-1zM88.2 98.0h1v1h-1zM90.0 115.1h1v1h-1zM65.4 134.9h1v1h-1zM81.5 99.2h1v1h-1zM81.6 99.5h1v1h-1zM85.6 101.4h1v1h-1zM79.5 101.6h1v1h-1zM75.7 100.4h1v1h-1zM92.0 116.8h1v1h-1zM74.5 114.0h1v1h-1zM76.1 102.4h1v1h-1zM82.8 115.0h1v1h-1zM56.2 124.6h1v1h-1zM92.2 100.3h1v1h-1zM75.3 104.3h1v1h-1zM89.2 113.1h1v1h-1zM67.6 118.9h1v1h-1zM58.9 119.5h1v1h-1zM87.7 101.6h1v1h-1zM89.1 105.2h1v1h-1zM75.0 108.3h1v1h-1zM92.6 101.4h1v1h-1zM81.7 122.2h1v1h-1zM47.0 114.2h1v1h-1zM65.2 104.6h1v1h-1zM83.8 116.3h1v1h-1zM80.7 100.8h1v1h-1zM72.1 110.0h1v1h-1zM53.6 113.7h1v1h-1zM90.6 98.8h1v1h-1zM80.3 127.9h1v1h-1zM65.1 106.9h1v1h-1zM80.0 100.5h1v1h-1zM81.6 117.4h1v1h-1zM73.9 134.7h1v1h-1zM61.6 106.7h1v1h-1zM87.9 101.7h1v1h-1zM80.4 114.3h1v1h-1zM72.5 101.5h1v1h-1zM81.6 118.0h1v1h-1zM79.9 113.2h1v1h-1zM74.2 105.4h1v1h-1zM65.1 102.5h1v1h-1zM71.5 116.0h1v1h-1zM67.2 116.4h1v1h-1zM61.3 119.3h1v1h-1zM73.1 107.8h1v1h-1zM86.8 100.6h1v1h-1zM89.8 131.4h1v1h-1zM67.2 120.6h1v1h-1zM70.7 106.7h1v1h-1zM47.6 107.4h1v1h-1zM85.6 109.5h1v1h-1zM61.7 116.8h1v1h-1zM87.0 104.7h1v1h-1zM76.8 120.7h1v1h-1zM86.0 123.2h1v1h-1zM71.9 101.5h1v1h-1zM77.1 102.5h1v1h-1zM92.4 100.2h1v1h-1zM66.9 112.7h1v1h-1zM85.4 107.6h1v1h-1zM92.7 106.4h1v1h-1zM71.8 116.9h1v1h-1zM89.4 114.6h1v1h-1zM84.6 115.0h1v1h-1zM72.0 126.4h1v1h-1zM67.4 109.1h1v1h-1zM88.2 99.2h1v1h-1zM87.6 98.1h1v1h-1zM83.3 116.8h1v1h-1zM68.9 117.3h1v1h-1zM49.0 108.1h1v1h-1zM89.0 139.1h1v1h-1zM69.4 126.3h1v1h-1zM92.4 100.1h1v1h-1zM71.6 101.7h1v1h-1zM77.5 99.9h1v1h-1zM82.7 104.5h1v1h-1zM66.2 102.1h1v1h-1zM84.0 104.8h1v1h-1zM85.4 107.6h1v1h-1zM63.1 111.2h1v1h-1zM70.3 103.8h1v1h-1zM77.7 117.9h1v1h-1zM88.6 113.5h1v1h-1zM76.0 100.6h1v1h-1zM67.4 132.4h1v1h-1zM56.9 117.4h1v1h-1zM93.5 106.0h1v1h-1zM55.6 116.2h1v1h-1zM67.3 102.3h1v1h-1zM80.0 99.2h1v1h-1zM57.0 104.7h1v1h-1zM89.0 111.7h1v1h-1zM81.8 129.8h1v1h-1zM76.4 103.8h1v1h-1zM76.1 115.2h1v1h-1zM67.6 117.6h1v1h-1zM92.8 99.8h1v1h-1zM84.1 108.7h1v1h-1zM84.2 104.8h1v1h-1zM54.0 104.4h1v1h-1zM93.4 99.4h1v1h-1zM88.9 104.3h1v1h-1zM81.0 111.6h1v1h-1zM88.9 103.6h1v1h-1zM62.9 109.2h1v1h-1zM91.8 102.2h1v1h-1zM69.9 106.5h1v1h-1zM92.7 107.6h1v1h-1zM84.7 102.5h1v1h-1zM57.5 122.4h1v1h-1zM83.4 100.5h1v1h-1zM75.9 105.4h1v1h-1zM84.0 100.0h1v1h-1zM78.0 103.4h1v1h-1zM91.9 105.2h1v1h-1zM92.8 101.2h1v1h-1zM66.9 105.4h1v1h-1zM89.5 97.4h1v1h-1zM68.8 110.5h1v1h-1zM67.5 108.5h1v1h-1zM82.8 107.6h1v1h-1zM90.6 100.1h1v1h-1zM86.0 115.9h1v1h-1zM91.9 107.8h1v1h-1zM78.8 104.4h1v1h-1zM92.2 103.4h1v1h-1zM90.0 100.4h1v1h-1zM83.2 102.9h1v1h-1zM92.7 98.6h1v1h-1zM84.1 100.8h1v1h-1zM80.0 112.3h1v1h-1zM79.7 101.4h1v1h-1zM74.0 105.3h1v1h-1zM72.4 106.1h1v1h-1zM80.3 103.0h1v1h-1zM89.4 114.7h1v1h-1zM81.9 100.6h1v1h-1zM92.9 97.5h1v1h-1zM84.7 98.2h1v1h-1zM91.4 104.7h1v1h-1zM85.0 98.9h1v1h-1zM69.1 101.5h1v1h-1zM92.5 104.5h1v1h-1zM84.8 102.2h1v1h-1zM92.5 109.6h1v1h-1zM87.1 108.4h1v1h-1zM76.5 100.0h1v1h-1zM87.6 102.1h1v1h-1zM90.6 112.8h1v1h-1zM79.4 104.6h1v1h-1zM80.0 101.6h1v1h-1zM92.8 103.6h1v1h-1zM79.1 107.2h1v1h-1zM87.1 109.9h1v1h-1zM74.4 102.8h1v1h-1zM77.7 101.9h1v1h-1zM86.8 104.0h1v1h-1zM91.6 112.6h1v1h-1zM91.4 96.7h1v1h-1zM77.2 105.0h1v1h-1zM78.1 105.5h1v1h-1zM87.0 103.8h1v1h-1zM69.1 103.2h1v1h-1zM88.8 106.0h1v1h-1zM77.9 107.6h1v1h-1zM86.3 106.2h1v1h-1zM91.1 107.3h1v1h-1zM85.1 98.1h1v1h-1zM85.3 109.9h1v1h-1zM73.3 110.3h1v1h-1zM88.2 99.3h1v1h-1zM88.2 104.0h1v1h-1zM69.2 100.0h1v1h-1zM80.4 104.6h1v1h-1zM77.7 98.0h1v1h-1zM71.9 110.6h1v1h-1zM84.9 102.2h1v1h-1zM90.9 111.2h1v1h-1zM93.1 101.3h1v1h-1zM87.7 101.7h1v1h-1zM92.2 102.8h1v1h-1zM88.0 97.2h1v1h-1zM84.2 110.0h1v1h-1zM72.6 110.4h1v1h-1zM74.7 101.1h1v1h-1zM89.2 97.7h1v1h-1zM91.5 100.0h1v1h-1zM77.8 100.5h1v1h-1zM82.5 99.7h1v1h-1zM91.3 100.3h1v1h-1zM80.2 112.4h1v1h-1zM78.5 99.5h1v1h-1zM90.7 101.0h1v1h-1zM73.4 105.6h1v1h-1zM89.0 100.6h1v1h-1zM88.2 104.1h1v1h-1zM73.9 99.2h1v1h-1zM88.7 103.2h1v1h-1zM77.8 112.5h1v1h-1zM92.2 99.0h1v1h-1zM79.2 98.7h1v1h-1zM89.7 98.8h1v1h-1zM91.1 98.5h1v1h-1zM91.7 103.4h1v1h-1zM69.2 106.6h1v1h-1zM90.9 105.5h1v1h-1zM72.5 112.2h1v1h-1zM90.9 108.1h1v1h-1zM91.2 106.2h1v1h-1zM73.9 110.7h1v1h-1zM82.0 106.9h1v1h-1zM83.8 102.1h1v1h-1zM89.4 102.6h1v1h-1zM80.5 107.3h1v1h-1zM87.5 114.8h1v1h-1zM88.6 101.4h1v1h-1zM87.5 100.8h1v1h-1zM87.9 103.4h1v1h-1zM82.1 106.1h1v1h-1zM79.7 102.6h1v1h-1zM90.7 98.5h1v1h-1zM89.8 106.2h1v1h-1zM91.1 101.9h1v1h-1zM89.3 102.0h1v1h-1zM80.7 111.0h1v1h-1zM74.6 98.2h1v1h-1zM81.6 108.1h1v1h-1zM76.9 105.7h1v1h-1zM92.2 102.2h1v1h-1zM88.1 99.0h1v1h-1zM83.3 110.4h1v1h-1zM83.6 109.8h1v1h-1zM88.9 102.4h1v1h-1zM88.4 103.1h1v1h-1zM93.2 107.0h1v1h-1zM88.9 101.5h1v1h-1zM72.5 106.3h1v1h-1zM91.9 97.5h1v1h-1zM67.7 100.6h1v1h-1zM88.4 108.9h1v1h-1zM92.1 114.3h1v1h-1zM78.4 103.2h1v1h-1zM89.5 104.0h1v1h-1zM90.8 101.6h1v1h-1zM68.6 103.0h1v1h-1zM88.3 103.1h1v1h-1zM90.7 103.9h1v1h-1zM79.2 104.2h1v1h-1zM76.2 102.5h1v1h-1zM91.8 104.1h1v1h-1zM75.8 104.6h1v1h-1zM89.1 101.6h1v1h-1zM83.5 98.6h1v1h-1zM93.0 98.5h1v1h-1zM71.2 109.5h1v1h-1zM84.7 109.2h1v1h-1zM91.5 106.6h1v1h-1zM86.8 104.0h1v1h-1zM90.5 98.8h1v1h-1zM85.1 106.0h1v1h-1zM86.7 104.7h1v1h-1zM81.8 101.3h1v1h-1zM77.2 105.4h1v1h-1zM72.7 106.5h1v1h-1zM89.4 101.6h1v1h-1zM88.4 106.6h1v1h-1zM84.5 98.8h1v1h-1zM91.5 102.6h1v1h-1zM87.9 102.5h1v1h-1zM86.9 102.5h1v1h-1zM89.7 102.7h1v1h-1zM84.3 114.1h1v1h-1zM82.0 101.7h1v1h-1zM92.7 103.2h1v1h-1zM90.5 103.7h1v1h-1zM87.0 103.5h1v1h-1zM81.4 114.6h1v1h-1zM87.1 105.2h1v1h-1zM82.3 112.1h1v1h-1zM79.4 100.3h1v1h-1zM84.0 98.5h1v1h-1zM84.2 98.3h1v1h-1zM88.9 98.8h1v1h-1zM80.9 106.0h1v1h-1zM92.4 97.4h1v1h-1zM92.9 104.1h1v1h-1zM77.6 102.9h1v1h-1zM90.7 97.0h1v1h-1zM81.7 98.5h1v1h-1zM83.7 110.1h1v1h-1zM93.0 111.2h1v1h-1zM87.9 100.7h1v1h-1zM91.1 103.2h1v1h-1zM91.9 98.6h1v1h-1zM72.4 111.1h1v1h-1zM87.0 107.9h1v1h-1zM84.9 103.1h1v1h-1zM59.2 115.4h1v1h-1zM86.2 106.4h1v1h-1zM86.1 97.6h1v1h-1zM88.8 97.1h1v1h-1zM90.3 104.7h1v1h-1zM82.7 109.0h1v1h-1zM91.1 116.3h1v1h-1zM80.9 98.3h1v1h-1zM79.4 102.7h1v1h-1zM90.1 101.9h1v1h-1zM91.9 103.1h1v1h-1zM93.2 99.9h1v1h-1zM80.0 106.9h1v1h-1zM90.3 103.3h1v1h-1zM92.4 99.2h1v1h-1zM89.7 102.4h1v1h-1zM92.7 98.9h1v1h-1zM92.2 97.3h1v1h-1zM92.7 96.6h1v1h-1zM89.8 99.3h1v1h-1zM84.6 107.9h1v1h-1zM76.3 104.1h1v1h-1zM86.8 107.5h1v1h-1zM76.2 100.4h1v1h-1zM91.4 104.8h1v1h-1zM92.5 96.7h1v1h-1zM80.4 103.2h1v1h-1zM73.0 101.5h1v1h-1zM70.3 104.4h1v1h-1zM84.5 102.3h1v1h-1zM90.9 99.7h1v1h-1zM80.3 100.6h1v1h-1zM83.8 106.9h1v1h-1zM88.2 107.1h1v1h-1zM89.9 102.3h1v1h-1zM91.3 102.7h1v1h-1zM87.4 97.8h1v1h-1zM86.5 102.7h1v1h-1zM91.5 106.1h1v1h-1zM89.3 112.6h1v1h-1zM91.2 97.1h1v1h-1zM92.2 101.4h1v1h-1zM90.6 101.1h1v1h-1zM84.3 106.0h1v1h-1zM87.0 101.1h1v1h-1zM86.5 103.0h1v1h-1zM91.0 112.8h1v1h-1zM88.6 115.7h1v1h-1zM86.7 112.1h1v1h-1zM75.5 106.9h1v1h-1zM86.8 101.5h1v1h-1zM89.4 112.5h1v1h-1zM87.2 97.5h1v1h-1zM88.2 99.1h1v1h-1zM85.6 99.5h1v1h-1zM92.3 102.1h1v1h-1zM91.4 98.4h1v1h-1zM93.0 97.2h1v1h-1zM87.7 107.3h1v1h-1zM89.2 111.4h1v1h-1zM83.8 101.9h1v1h-1zM83.4 105.6h1v1h-1zM86.3 97.6h1v1h-1zM83.5 100.6h1v1h-1zM90.0 98.9h1v1h-1zM91.0 109.2h1v1h-1zM81.3 102.9h1v1h-1zM91.9 100.6h1v1h-1zM91.0 98.6h1v1h-1zM89.3 99.3h1v1h-1zM91.3 108.9h1v1h-1zM81.0 105.8h1v1h-1zM92.6 100.1h1v1h-1zM86.0 105.0h1v1h-1zM85.4 112.3h1v1h-1zM74.5 111.5h1v1h-1zM87.0 99.0h1v1h-1zM76.9 98.1h1v1h-1zM93.0 100.6h1v1h-1zM79.7 99.4h1v1h-1zM84.5 97.4h1v1h-1zM91.7 99.0h1v1h-1zM87.2 108.3h1v1h-1zM81.3 106.7h1v1h-1zM86.1 100.5h1v1h-1zM91.9 99.6h1v1h-1zM87.0 109.9h1v1h-1zM87.3 100.4h1v1h-1zM76.8 107.7h1v1h-1zM91.6 99.3h1v1h-1zM86.1 97.2h1v1h-1zM90.1 102.3h1v1h-1zM87.9 107.3h1v1h-1zM80.1 100.2h1v1h-1zM60.3 104.5h1v1h-1zM93.4 107.1h1v1h-1zM90.4 99.1h1v1h-1zM86.7 98.0h1v1h-1zM82.8 100.9h1v1h-1zM80.0 101.3h1v1h-1zM70.1 105.3h1v1h-1zM88.3 98.3h1v1h-1zM80.0 106.5h1v1h-1zM85.5 103.6h1v1h-1zM83.4 100.4h1v1h-1zM74.7 123.1h1v1h-1zM70.2 104.2h1v1h-1zM71.6 99.3h1v1h-1zM77.7 100.5h1v1h-1zM83.1 99.0h1v1h-1zM89.4 101.3h1v1h-1zM84.6 98.2h1v1h-1zM89.6 107.5h1v1h-1zM89.3 111.8h1v1h-1zM86.8 100.1h1v1h-1zM86.7 99.6h1v1h-1zM86.8 105.1h1v1h-1zM86.6 99.1h1v1h-1zM90.5 103.3h1v1h-1zM91.2 102.0h1v1h-1zM75.0 99.1h1v1h-1zM89.7 102.2h1v1h-1zM83.2 103.2h1v1h-1zM91.6 116.2h1v1h-1zM91.6 97.3h1v1h-1zM80.8 97.8h1v1h-1zM82.5 100.0h1v1h-1zM80.2 102.4h1v1h-1zM67.5 106.8h1v1h-1zM92.1 96.7h1v1h-1zM73.6 113.2h1v1h-1zM89.3 101.3h1v1h-1zM91.9 98.5h1v1h-1zM90.1 100.4h1v1h-1zM89.8 101.1h1v1h-1zM88.4 101.8h1v1h-1zM76.6 98.2h1v1h-1zM89.3 97.1h1v1h-1zM73.6 103.2h1v1h-1zM91.5 98.3h1v1h-1zM69.7 109.7h1v1h-1zM87.1 98.4h1v1h-1zM83.6 118.3h1v1h-1zM84.5 107.8h1v1h-1zM75.0 104.6h1v1h-1zM88.4 107.4h1v1h-1zM90.6 102.3h1v1h-1zM87.2 100.2h1v1h-1zM80.0 107.3h1v1h-1zM75.0 98.8h1v1h-1zM90.1 99.2h1v1h-1zM86.7 98.0h1v1h-1zM82.6 99.5h1v1h-1zM84.7 105.1h1v1h-1zM89.0 109.3h1v1h-1zM77.1 112.5h1v1h-1zM84.1 100.4h1v1h-1zM86.4 97.8h1v1h-1zM76.4 107.0h1v1h-1zM84.1 101.4h1v1h-1zM85.9 97.5h1v1h-1zM80.6 109.6h1v1h-1zM90.0 99.3h1v1h-1zM88.2 110.0h1v1h-1zM91.1 101.4h1v1h-1zM91.0 115.7h1v1h-1zM91.6 103.8h1v1h-1zM79.3 116.0h1v1h-1zM91.5 97.2h1v1h-1zM88.4 105.1h1v1h-1zM90.6 97.2h1v1h-1zM89.5 106.3h1v1h-1zM71.6 111.6h1v1h-1zM91.8 102.7h1v1h-1zM92.1 97.3h1v1h-1zM82.2 98.1h1v1h-1zM90.6 113.4h1v1h-1zM82.6 97.5h1v1h-1zM89.6 104.8h1v1h-1zM93.3 106.3h1v1h-1zM85.6 99.6h1v1h-1zM87.2 97.2h1v1h-1zM90.1 109.3h1v1h-1zM88.0 99.1h1v1h-1zM72.9 105.7h1v1h-1zM77.4 114.1h1v1h-1zM72.3 99.8h1v1h-1zM72.6 103.9h1v1h-1zM90.2 100.3h1v1h-1zM82.6 106.9h1v1h-1zM86.5 98.4h1v1h-1zM78.6 110.5h1v1h-1zM89.4 99.8h1v1h-1zM84.8 98.6h1v1h-1zM93.3 97.5h1v1h-1zM80.7 109.7h1v1h-1zM82.3 100.9h1v1h-1zM89.9 109.3h1v1h-1zM91.4 100.7h1v1h-1zM84.2 100.7h1v1h-1zM84.8 99.4h1v1h-1zM64.1 102.3h1v1h-1zM85.6 97.4h1v1h-1zM86.0 104.9h1v1h-1zM92.6 99.8h1v1h-1zM92.7 96.6h1v1h-1zM91.6 102.6h1v1h-1zM88.8 111.1h1v1h-1zM90.8 116.8h1v1h-1zM89.8 112.4h1v1h-1zM88.3 100.4h1v1h-1zM92.5 100.0h1v1h-1zM85.4 101.3h1v1h-1zM90.3 100.2h1v1h-1zM88.9 106.6h1v1h-1zM88.0 110.8h1v1h-1zM74.5 101.3h1v1h-1zM90.3 105.0h1v1h-1zM79.1 111.1h1v1h-1zM91.4 100.1h1v1h-1zM82.9 106.9h1v1h-1zM80.0 102.6h1v1h-1zM81.8 97.5h1v1h-1zM78.5 102.4h1v1h-1zM93.4 104.6h1v1h-1zM86.9 102.3h1v1h-1zM78.7 98.9h1v1h-1zM72.5 105.6h1v1h-1zM83.1 108.2h1v1h-1zM90.3 100.1h1v1h-1zM89.7 101.9h1v1h-1zM88.0 108.3h1v1h-1zM90.4 101.5h1v1h-1zM89.3 107.6h1v1h-1zM85.9 106.2h1v1h-1zM78.4 101.9h1v1h-1zM92.1 107.4h1v1h-1zM77.6 102.6h1v1h-1zM80.2 101.4h1v1h-1zM93.3 105.6h1v1h-1zM81.4 100.7h1v1h-1zM80.8 99.4h1v1h-1zM92.6 114.0h1v1h-1zM88.2 98.7h1v1h-1zM80.4 98.2h1v1h-1zM89.9 98.1h1v1h-1zM89.9 112.3h1v1h-1zM86.6 98.1h1v1h-1zM91.6 101.7h1v1h-1zM88.8 101.8h1v1h-1zM77.8 99.8h1v1h-1zM87.3 98.7h1v1h-1zM92.8 102.2h1v1h-1zM65.2 100.2h1v1h-1zM81.3 110.8h1v1h-1zM91.4 97.6h1v1h-1zM85.9 98.7h1v1h-1zM84.7 108.6h1v1h-1zM74.7 107.3h1v1h-1zM80.9 103.2h1v1h-1zM89.7 97.6h1v1h-1zM92.1 98.6h1v1h-1zM87.3 102.3h1v1h-1zM85.0 116.4h1v1h-1zM87.4 102.3h1v1h-1zM86.6 101.5h1v1h-1zM73.6 111.8h1v1h-1zM83.3 107.7h1v1h-1zM86.8 99.6h1v1h-1zM87.9 101.4h1v1h-1zM70.8 108.4h1v1h-1zM86.0 98.2h1v1h-1zM87.2 112.5h1v1h-1zM79.8 99.9h1v1h-1zM91.8 102.1h1v1h-1zM89.0 97.6h1v1h-1zM65.1 102.9h1v1h-1zM90.8 107.8h1v1h-1zM90.9 103.2h1v1h-1zM62.8 111.5h1v1h-1zM77.9 112.1h1v1h-1zM76.8 107.5h1v1h-1zM92.4 102.3h1v1h-1zM91.9 97.3h1v1h-1zM92.0 106.0h1v1h-1zM84.0 100.1h1v1h-1zM79.9 105.8h1v1h-1zM90.8 100.3h1v1h-1zM89.4 104.3h1v1h-1zM70.5 107.5h1v1h-1zM78.5 117.1h1v1h-1zM90.3 104.4h1v1h-1zM89.2 100.0h1v1h-1zM81.5 101.5h1v1h-1zM85.7 106.2h1v1h-1zM90.4 106.1h1v1h-1zM83.6 102.7h1v1h-1zM85.2 100.3h1v1h-1zM82.1 106.9h1v1h-1zM78.5 102.6h1v1h-1zM83.1 101.5h1v1h-1zM88.5 101.2h1v1h-1zM86.1 97.4h1v1h-1zM71.0 102.5h1v1h-1zM80.8 118.6h1v1h-1zM87.1 101.7h1v1h-1zM90.8 98.9h1v1h-1zM82.3 100.5h1v1h-1zM83.8 112.9h1v1h-1zM73.3 99.9h1v1h-1zM86.6 105.3h1v1h-1zM86.5 100.3h1v1h-1zM84.0 107.9h1v1h-1zM88.4 104.4h1v1h-1zM82.1 99.1h1v1h-1zM92.8 99.6h1v1h-1zM85.9 106.6h1v1h-1zM79.2 107.6h1v1h-1zM90.7 107.6h1v1h-1zM92.5 103.2h1v1h-1zM82.8 108.2h1v1h-1zM90.3 108.6h1v1h-1zM88.2 106.5h1v1h-1zM84.8 107.7h1v1h-1zM78.0 105.8h1v1h-1zM73.4 99.9h1v1h-1zM90.6 98.5h1v1h-1zM87.8 102.5h1v1h-1zM84.1 97.9h1v1h-1zM83.9 99.5h1v1h-1zM86.4 99.1h1v1h-1zM85.0 98.8h1v1h-1zM65.6 110.1h1v1h-1zM82.8 110.1h1v1h-1zM91.1 98.0h1v1h-1zM82.9 98.8h1v1h-1zM83.0 109.7h1v1h-1zM92.2 98.3h1v1h-1zM91.5 97.0h1v1h-1zM84.3 105.3h1v1h-1zM75.4 105.2h1v1h-1zM92.5 98.2h1v1h-1zM77.5 108.6h1v1h-1zM89.1 99.5h1v1h-1zM91.7 97.3h1v1h-1zM83.9 103.6h1v1h-1zM90.3 107.2h1v1h-1zM87.7 105.1h1v1h-1zM86.6 98.4h1v1h-1zM81.1 98.0h1v1h-1zM93.4 107.9h1v1h-1zM83.8 102.5h1v1h-1zM74.4 99.5h1v1h-1zM71.6 103.7h1v1h-1zM79.5 112.6h1v1h-1zM84.7 113.0h1v1h-1zM89.4 98.4h1v1h-1zM84.0 105.6h1v1h-1zM85.6 107.5h1v1h-1zM88.4 100.9h1v1h-1zM84.3 112.2h1v1h-1zM91.3 99.6h1v1h-1zM93.3 103.3h1v1h-1zM90.0 98.3h1v1h-1zM75.0 103.9h1v1h-1zM83.7 99.9h1v1h-1zM91.8 106.4h1v1h-1zM86.8 97.8h1v1h-1zM84.6 111.0h1v1h-1zM84.1 97.3h1v1h-1zM89.9 100.6h1v1h-1zM89.8 100.2h1v1h-1zM93.0 105.5h1v1h-1zM78.0 111.2h1v1h-1zM82.6 97.7h1v1h-1zM79.5 106.3h1v1h-1zM78.2 101.0h1v1h-1zM88.6 104.8h1v1h-1zM92.4 100.7h1v1h-1zM87.9 103.7h1v1h-1zM85.1 99.1h1v1h-1zM91.1 105.2h1v1h-1zM87.4 103.7h1v1h-1zM82.1 106.1h1v1h-1zM89.0 101.6h1v1h-1zM85.3 106.2h1v1h-1zM83.4 113.1h1v1h-1zM83.7 97.8h1v1h-1zM88.8 107.9h1v1h-1zM92.9 99.5h1v1h-1zM88.6 104.2h1v1h-1zM91.5 99.4h1v1h-1zM90.8 96.7h1v1h-1zM89.3 98.4h1v1h-1zM84.6 105.0h1v1h-1zM56.1 110.8h1v1h-1zM78.4 102.9h1v1h-1zM88.1 103.4h1v1h-1zM80.3 116.4h1v1h-1zM84.8 101.3h1v1h-1zM75.1 105.1h1v1h-1zM88.4 97.0h1v1h-1zM77.4 98.6h1v1h-1zM82.3 108.5h1v1h-1zM87.4 100.3h1v1h-1zM78.6 102.7h1v1h-1zM77.0 117.1h1v1h-1zM83.7 97.9h1v1h-1zM88.4 107.5h1v1h-1zM83.0 109.4h1v1h-1zM90.4 97.5h1v1h-1zM75.2 119.0h1v1h-1zM91.8 97.9h1v1h-1zM90.4 99.8h1v1h-1zM92.8 108.3h1v1h-1zM80.6 102.2h1v1h-1zM68.6 98.6h1v1h-1zM77.5 110.5h1v1h-1zM88.5 101.6h1v1h-1zM92.7 101.6h1v1h-1zM83.3 102.2h1v1h-1zM73.3 110.1h1v1h-1zM90.0 104.1h1v1h-1zM87.8 101.8h1v1h-1zM85.8 101.0h1v1h-1zM79.2 107.9h1v1h-1zM69.6 103.6h1v1h-1zM80.3 109.2h1v1h-1zM62.2 101.1h1v1h-1zM92.0 100.2h1v1h-1zM92.5 105.3h1v1h-1zM90.3 99.6h1v1h-1zM82.7 99.2h1v1h-1zM92.2 96.8h1v1h-1zM90.1 105.6h1v1h-1zM88.4 101.0h1v1h-1zM79.7 98.9h1v1h-1zM81.2 101.3h1v1h-1zM89.9 108.1h1v1h-1zM82.5 107.0h1v1h-1zM93.2 109.4h1v1h-1zM90.0 96.9h1v1h-1zM79.5 116.3h1v1h-1zM90.5 97.7h1v1h-1zM77.1 103.3h1v1h-1zM74.2 102.8h1v1h-1zM82.7 104.8h1v1h-1zM81.7 105.2h1v1h-1zM88.4 100.9h1v1h-1zM86.3 100.4h1v1h-1zM87.4 105.7h1v1h-1zM92.2 110.8h1v1h-1zM77.9 108.1h1v1h-1zM83.7 110.9h1v1h-1zM82.8 105.9h1v1h-1zM83.4 119.6h1v1h-1zM90.2 104.4h1v1h-1zM86.9 111.1h1v1h-1zM87.8 103.6h1v1h-1zM65.7 112.4h1v1h-1zM84.5 111.0h1v1h-1zM85.8 101.1h1v1h-1zM88.4 108.9h1v1h-1zM86.0 102.2h1v1h-1zM77.8 102.5h1v1h-1zM93.4 112.1h1v1h-1zM73.3 102.5h1v1h-1zM70.8 112.0h1v1h-1zM90.3 98.5h1v1h-1zM93.1 101.9h1v1h-1zM86.7 103.2h1v1h-1zM65.2 111.6h1v1h-1zM69.5 108.5h1v1h-1zM74.6 102.3h1v1h-1zM88.7 103.6h1v1h-1zM88.2 109.7h1v1h-1zM81.6 113.7h1v1h-1zM92.3 97.4h1v1h-1zM86.9 103.4h1v1h-1zM89.8 97.5h1v1h-1zM86.2 105.2h1v1h-1zM91.4 106.0h1v1h-1zM87.6 104.4h1v1h-1zM71.5 102.9h1v1h-1zM89.3 101.7h1v1h-1zM82.4 98.0h1v1h-1zM90.9 101.8h1v1h-1zM88.4 100.1h1v1h-1zM86.1 100.0h1v1h-1zM92.7 100.1h1v1h-1zM91.7 117.3h1v1h-1zM87.2 99.2h1v1h-1zM92.6 97.9h1v1h-1zM91.5 100.8h1v1h-1zM83.0 102.2h1v1h-1zM82.4 102.2h1v1h-1zM71.2 110.4h1v1h-1zM88.5 98.0h1v1h-1zM90.1 103.1h1v1h-1zM77.9 100.5h1v1h-1zM73.7 105.3h1v1h-1zM85.0 98.2h1v1h-1zM85.6 99.5h1v1h-1zM90.9 96.9h1v1h-1zM86.1 98.7h1v1h-1zM93.1 101.4h1v1h-1zM93.0 106.3h1v1h-1zM89.1 97.6h1v1h-1zM69.6 101.1h1v1h-1zM82.0 98.6h1v1h-1zM75.2 105.0h1v1h-1zM91.3 104.8h1v1h-1zM89.3 102.7h1v1h-1zM89.1 97.4h1v1h-1zM83.2 105.9h1v1h-1zM70.8 113.4h1v1h-1zM76.6 108.0h1v1h-1zM84.8 104.6h1v1h-1zM92.7 101.6h1v1h-1zM90.1 104.9h1v1h-1zM83.6 99.5h1v1h-1zM92.4 111.1h1v1h-1zM86.5 109.0h1v1h-1zM87.0 102.1h1v1h-1zM84.0 102.5h1v1h-1zM83.0 112.3h1v1h-1zM91.6 101.1h1v1h-1zM85.1 104.0h1v1h-1zM82.5 106.9h1v1h-1zM80.5 102.3h1v1h-1zM86.3 101.2h1v1h-1zM90.1 103.8h1v1h-1zM89.3 100.2h1v1h-1zM86.1 104.5h1v1h-1zM80.8 111.2h1v1h-1zM91.4 110.7h1v1h-1zM87.7 106.5h1v1h-1zM86.8 97.2h1v1h-1zM83.6 101.3h1v1h-1zM91.6 107.8h1v1h-1zM85.8 104.4h1v1h-1zM86.0 100.2h1v1h-1zM91.2 105.5h1v1h-1zM85.4 98.9h1v1h-1zM84.0 98.6h1v1h-1zM90.6 104.4h1v1h-1zM75.9 108.8h1v1h-1zM88.1 105.2h1v1h-1zM81.6 98.6h1v1h-1zM87.9 99.2h1v1h-1zM87.1 97.2h1v1h-1zM77.6 102.5h1v1h-1zM84.4 108.7h1v1h-1zM90.5 96.9h1v1h-1zM91.3 97.6h1v1h-1zM83.5 101.1h1v1h-1zM91.1 103.3h1v1h-1zM73.5 104.9h1v1h-1zM77.6 107.3h1v1h-1zM93.4 100.6h1v1h-1zM79.4 108.5h1v1h-1zM88.4 109.4h1v1h-1zM77.8 107.2h1v1h-1z"/>
<path fill="#3a3af6" opacity="0.85" d="M38.5 139.5h1v1h-1zM42.5 147.5h1v1h-1zM53.5 151.5h1v1h-1zM91.5 146.5h1v1h-1zM74.5 158.5h1v1h-1zM53.5 157.5h1v1h-1zM48.5 133.5h1v1h-1zM57.5 140.5h1v1h-1z"/>
<path d="M36,129.9 L100,89.3 L177.6,37.3 L177.6,42.3 L100,90.9 L36,133.5 Z" fill="#c4c4c4" opacity="0.7"/>
<line x1="36.20" y1="131.70" x2="177.60" y2="39.80" stroke="#111" stroke-width="0.9"/>
<text x="106.90" y="37.90" font-size="7.0" text-anchor="middle" fill="#111" font-style="italic" font-family="Liberation Serif" textLength="67.5" lengthAdjust="spacingAndGlyphs">R = 0.61, p-value &lt; 2.2e-16</text>
<text x="210.60" y="11.80" font-size="15.8" font-weight="bold" stroke="#000" stroke-width="0.35">B</text>
<line x1="370.70" y1="10.20" x2="370.70" y2="176.30" class="c10" stroke-dasharray="0.8,0.8"/>
<line x1="379.03" y1="10.20" x2="379.03" y2="176.30" class="c10" stroke-dasharray="0.8,0.8"/>
<line x1="387.36" y1="10.20" x2="387.36" y2="176.30" class="c10" stroke-dasharray="0.8,0.8"/>
<line x1="395.68" y1="10.20" x2="395.68" y2="176.30" class="c10" stroke-dasharray="0.8,0.8"/>
<line x1="404.01" y1="10.20" x2="404.01" y2="176.30" class="c10" stroke-dasharray="0.8,0.8"/>
<line x1="412.34" y1="10.20" x2="412.34" y2="176.30" class="c10" stroke-dasharray="0.8,0.8"/>
<line x1="420.67" y1="10.20" x2="420.67" y2="176.30" class="c10" stroke-dasharray="0.8,0.8"/>
<line x1="429.00" y1="10.20" x2="429.00" y2="176.30" class="c10" stroke-dasharray="0.8,0.8"/>
<line x1="437.32" y1="10.20" x2="437.32" y2="176.30" class="c10" stroke-dasharray="0.8,0.8"/>
<line x1="445.65" y1="10.20" x2="445.65" y2="176.30" class="c10" stroke-dasharray="0.8,0.8"/>
<line x1="453.98" y1="10.20" x2="453.98" y2="176.30" class="c10" stroke-dasharray="0.8,0.8"/>
<line x1="462.31" y1="10.20" x2="462.31" y2="176.30" class="c10" stroke-dasharray="0.8,0.8"/>
<line x1="470.64" y1="10.20" x2="470.64" y2="176.30" class="c10" stroke-dasharray="0.8,0.8"/>
<line x1="478.96" y1="10.20" x2="478.96" y2="176.30" class="c10" stroke-dasharray="0.8,0.8"/>
<line x1="487.29" y1="10.20" x2="487.29" y2="176.30" class="c10" stroke-dasharray="0.8,0.8"/>
<line x1="495.62" y1="10.20" x2="495.62" y2="176.30" class="c10" stroke-dasharray="0.8,0.8"/>
<line x1="503.95" y1="10.20" x2="503.95" y2="176.30" class="c10" stroke-dasharray="0.8,0.8"/>
<line x1="512.28" y1="10.20" x2="512.28" y2="176.30" class="c10" stroke-dasharray="0.8,0.8"/>
<line x1="520.60" y1="10.20" x2="520.60" y2="176.30" class="c10" stroke-dasharray="0.8,0.8"/>
<line x1="528.93" y1="10.20" x2="528.93" y2="176.30" class="c10" stroke-dasharray="0.8,0.8"/>
<line x1="537.26" y1="10.20" x2="537.26" y2="176.30" class="c10" stroke-dasharray="0.8,0.8"/>
<line x1="545.59" y1="10.20" x2="545.59" y2="176.30" class="c10" stroke-dasharray="0.8,0.8"/>
<line x1="553.92" y1="10.20" x2="553.92" y2="176.30" class="c10" stroke-dasharray="0.8,0.8"/>
<line x1="562.24" y1="10.20" x2="562.24" y2="176.30" class="c10" stroke-dasharray="0.8,0.8"/>
<line x1="570.57" y1="10.20" x2="570.57" y2="176.30" class="c10" stroke-dasharray="0.8,0.8"/>
<line x1="578.90" y1="10.20" x2="578.90" y2="176.30" class="c10" stroke-dasharray="0.8,0.8"/>
<line x1="587.23" y1="10.20" x2="587.23" y2="176.30" class="c10" stroke-dasharray="0.8,0.8"/>
<line x1="595.56" y1="10.20" x2="595.56" y2="176.30" class="c10" stroke-dasharray="0.8,0.8"/>
<line x1="603.88" y1="10.20" x2="603.88" y2="176.30" class="c10" stroke-dasharray="0.8,0.8"/>
<line x1="612.21" y1="10.20" x2="612.21" y2="176.30" class="c10" stroke-dasharray="0.8,0.8"/>
<line x1="620.54" y1="10.20" x2="620.54" y2="176.30" class="c10" stroke-dasharray="0.8,0.8"/>
<line x1="628.87" y1="10.20" x2="628.87" y2="176.30" class="c10" stroke-dasharray="0.8,0.8"/>
<line x1="365.80" y1="14.50" x2="633.50" y2="14.50" class="c10" stroke-dasharray="0.8,0.8"/>
<line x1="365.80" y1="22.77" x2="633.50" y2="22.77" class="c10" stroke-dasharray="0.8,0.8"/>
<line x1="365.80" y1="31.04" x2="633.50" y2="31.04" class="c10" stroke-dasharray="0.8,0.8"/>
<line x1="365.80" y1="39.31" x2="633.50" y2="39.31" class="c10" stroke-dasharray="0.8,0.8"/>
<line x1="365.80" y1="47.58" x2="633.50" y2="47.58" class="c10" stroke-dasharray="0.8,0.8"/>
<line x1="365.80" y1="55.85" x2="633.50" y2="55.85" class="c10" stroke-dasharray="0.8,0.8"/>
<line x1="365.80" y1="64.12" x2="633.50" y2="64.12" class="c10" stroke-dasharray="0.8,0.8"/>
<line x1="365.80" y1="72.39" x2="633.50" y2="72.39" class="c10" stroke-dasharray="0.8,0.8"/>
<line x1="365.80" y1="80.66" x2="633.50" y2="80.66" class="c10" stroke-dasharray="0.8,0.8"/>
<line x1="365.80" y1="88.93" x2="633.50" y2="88.93" class="c10" stroke-dasharray="0.8,0.8"/>
<line x1="365.80" y1="97.20" x2="633.50" y2="97.20" class="c10" stroke-dasharray="0.8,0.8"/>
<line x1="365.80" y1="105.47" x2="633.50" y2="105.47" class="c10" stroke-dasharray="0.8,0.8"/>
<line x1="365.80" y1="113.74" x2="633.50" y2="113.74" class="c10" stroke-dasharray="0.8,0.8"/>
<line x1="365.80" y1="122.01" x2="633.50" y2="122.01" class="c10" stroke-dasharray="0.8,0.8"/>
<line x1="365.80" y1="130.28" x2="633.50" y2="130.28" class="c10" stroke-dasharray="0.8,0.8"/>
<line x1="365.80" y1="138.55" x2="633.50" y2="138.55" class="c10" stroke-dasharray="0.8,0.8"/>
<line x1="365.80" y1="146.82" x2="633.50" y2="146.82" class="c10" stroke-dasharray="0.8,0.8"/>
<line x1="365.80" y1="155.09" x2="633.50" y2="155.09" class="c10" stroke-dasharray="0.8,0.8"/>
<line x1="365.80" y1="163.36" x2="633.50" y2="163.36" class="c10" stroke-dasharray="0.8,0.8"/>
<line x1="365.80" y1="171.63" x2="633.50" y2="171.63" class="c10" stroke-dasharray="0.8,0.8"/>
<rect x="365.8" y="10.2" width="267.70" height="166.10" fill="none" stroke="#c8c8c8" stroke-width="0.6"/>
<line x1="363.80" y1="14.50" x2="365.80" y2="14.50" class="c8"/>
<text x="362.60" y="16.30" font-size="6.06" text-anchor="end" class="c20">NEC C20</text>
<line x1="363.80" y1="22.77" x2="365.80" y2="22.77" class="c8"/>
<text x="362.60" y="24.57" font-size="6.06" text-anchor="end" class="c20">RGC C19</text>
<line x1="363.80" y1="31.04" x2="365.80" y2="31.04" class="c8"/>
<text x="362.60" y="32.84" font-size="6.06" text-anchor="end" class="c20">RGC C18</text>
<line x1="363.80" y1="39.31" x2="365.80" y2="39.31" class="c8"/>
<text x="362.60" y="41.11" font-size="6.06" text-anchor="end" class="c20">RPE C17</text>
<line x1="363.80" y1="47.58" x2="365.80" y2="47.58" class="c8"/>
<text x="362.60" y="49.38" font-size="6.06" text-anchor="end" class="c20">Microglia C16</text>
<line x1="363.80" y1="55.85" x2="365.80" y2="55.85" class="c8"/>
<text x="362.60" y="57.65" font-size="6.06" text-anchor="end" class="c20">Cycling Neural Progenitor (CDC20, HES6, NXPH1) C15</text>
<line x1="363.80" y1="64.12" x2="365.80" y2="64.12" class="c8"/>
<text x="362.60" y="65.92" font-size="6.06" text-anchor="end" class="c20">Purkinje C14</text>
<line x1="363.80" y1="72.39" x2="365.80" y2="72.39" class="c8"/>
<text x="362.60" y="74.19" font-size="6.06" text-anchor="end" class="c20">GABA-interneuron (LHFPL3, RELN) C13</text>
<line x1="363.80" y1="80.66" x2="365.80" y2="80.66" class="c8"/>
<text x="362.60" y="82.46" font-size="6.06" text-anchor="end" class="c20">Progenitor-Photoreceptor (OTX2,TULP1) C12</text>
<line x1="363.80" y1="88.93" x2="365.80" y2="88.93" class="c8"/>
<text x="362.60" y="90.73" font-size="6.06" text-anchor="end" class="c20">Cycling Neural Progenitor (CNTN1,SLC1A, TBR1) C11</text>
<line x1="363.80" y1="97.20" x2="365.80" y2="97.20" class="c8"/>
<text x="362.60" y="99.00" font-size="6.06" text-anchor="end" class="c20">Cycling Neural Progenitor (MCM6, TPX2, HES6) C10</text>
<line x1="363.80" y1="105.47" x2="365.80" y2="105.47" class="c8"/>
<text x="362.60" y="107.27" font-size="6.06" text-anchor="end" class="c20">Progenitor-UBC (PAX6, LHX1) C9</text>
<line x1="363.80" y1="113.74" x2="365.80" y2="113.74" class="c8"/>
<text x="362.60" y="115.54" font-size="6.06" text-anchor="end" class="c20">Cycling Neural Progenitor (VIM, BCL11B) C8</text>
<line x1="363.80" y1="122.01" x2="365.80" y2="122.01" class="c8"/>
<text x="362.60" y="123.81" font-size="6.06" text-anchor="end" class="c20">Progenitor-Photoreceptor (NRL, CRX) C7</text>
<line x1="363.80" y1="130.28" x2="365.80" y2="130.28" class="c8"/>
<text x="362.60" y="132.08" font-size="6.06" text-anchor="end" class="c20">GABA (TTR) C6</text>
<line x1="363.80" y1="138.55" x2="365.80" y2="138.55" class="c8"/>
<text x="362.60" y="140.35" font-size="6.06" text-anchor="end" class="c20">GABA-interneuron (TBR1, HEY, VIM) C5</text>
<line x1="363.80" y1="146.82" x2="365.80" y2="146.82" class="c8"/>
<text x="362.60" y="148.62" font-size="6.06" text-anchor="end" class="c20">Glutamatergic (TBR1, DLGAP2) C4</text>
<line x1="363.80" y1="155.09" x2="365.80" y2="155.09" class="c8"/>
<text x="362.60" y="156.89" font-size="6.06" text-anchor="end" class="c20">Gluta-interneuron (NRN1,HOXA9,STMN2) C3</text>
<line x1="363.80" y1="163.36" x2="365.80" y2="163.36" class="c8"/>
<text x="362.60" y="165.16" font-size="6.06" text-anchor="end" class="c20">GABA (NEUROD1, HOXA3, STMN2) C2</text>
<line x1="363.80" y1="171.63" x2="365.80" y2="171.63" class="c8"/>
<text x="362.60" y="173.43" font-size="6.06" text-anchor="end" class="c20">GABA-interneuron (NXPH1,RELN) C1</text>
<ellipse cx="370.70" cy="14.50" rx="1.64" ry="1.84" class="c11"/>
<ellipse cx="379.03" cy="14.50" rx="0.97" ry="1.09" fill="#4575b4" stroke="#555" stroke-width="0.35"/>
<ellipse cx="387.36" cy="14.50" rx="1.31" ry="1.46" class="c23"/>
<ellipse cx="395.68" cy="14.50" rx="0.97" ry="1.09" fill="#4575b4" stroke="#555" stroke-width="0.35"/>
<ellipse cx="404.01" cy="14.50" rx="1.64" ry="1.84" class="c11"/>
<ellipse cx="412.34" cy="14.50" rx="0.97" ry="1.09" fill="#4575b4" stroke="#555" stroke-width="0.35"/>
<circle cx="420.67" cy="14.50" r="0.55" fill="#666"/>
<circle cx="429.00" cy="14.50" r="0.55" fill="#666"/>
<ellipse cx="437.32" cy="14.50" rx="1.64" ry="1.84" class="c11"/>
<ellipse cx="445.65" cy="14.50" rx="1.31" ry="1.46" class="c21"/>
<circle cx="453.98" cy="14.50" r="0.55" fill="#666"/>
<ellipse cx="462.31" cy="14.50" rx="1.64" ry="1.84" class="c3"/>
<circle cx="470.64" cy="14.50" r="0.55" fill="#666"/>
<ellipse cx="478.96" cy="14.50" rx="0.97" ry="1.09" fill="#4575b4" stroke="#555" stroke-width="0.35"/>
<ellipse cx="487.29" cy="14.50" rx="0.97" ry="1.09" fill="#4575b4" stroke="#555" stroke-width="0.35"/>
<ellipse cx="495.62" cy="14.50" rx="0.97" ry="1.09" fill="#4575b4" stroke="#555" stroke-width="0.35"/>
<ellipse cx="503.95" cy="14.50" rx="0.97" ry="1.09" fill="#4575b4" stroke="#555" stroke-width="0.35"/>
<ellipse cx="512.28" cy="14.50" rx="0.97" ry="1.09" fill="#d7301f" stroke="#555" stroke-width="0.35"/>
<ellipse cx="520.60" cy="14.50" rx="0.97" ry="1.09" class="c1"/>
<ellipse cx="528.93" cy="14.50" rx="1.98" ry="2.21" class="c5"/>
<circle cx="537.26" cy="14.50" r="0.55" fill="#666"/>
<circle cx="545.59" cy="14.50" r="0.55" fill="#666"/>
<ellipse cx="553.92" cy="14.50" rx="1.64" ry="1.84" class="c5"/>
<ellipse cx="562.24" cy="14.50" rx="0.97" ry="1.09" class="c1"/>
<circle cx="570.57" cy="14.50" r="0.55" fill="#666"/>
<circle cx="578.90" cy="14.50" r="0.55" fill="#666"/>
<ellipse cx="587.23" cy="14.50" rx="0.97" ry="1.09" class="c1"/>
<ellipse cx="595.56" cy="14.50" rx="1.31" ry="1.46" fill="#d7301f" stroke="#333" stroke-width="0.4"/>
<ellipse cx="603.88" cy="14.50" rx="0.97" ry="1.09" class="c1"/>
<ellipse cx="612.21" cy="14.50" rx="1.98" ry="2.21" class="c15"/>
<ellipse cx="620.54" cy="14.50" rx="0.97" ry="1.09" fill="#d7301f" stroke="#555" stroke-width="0.35"/>
<circle cx="628.87" cy="14.50" r="0.55" fill="#666"/>
<ellipse cx="370.70" cy="22.77" rx="1.98" ry="2.21" class="c5"/>
<ellipse cx="379.03" cy="22.77" rx="0.97" ry="1.09" fill="#4575b4" stroke="#555" stroke-width="0.35"/>
<ellipse cx="387.36" cy="22.77" rx="1.31" ry="1.46" class="c23"/>
<ellipse cx="395.68" cy="22.77" rx="1.31" ry="1.46" class="c23"/>
<ellipse cx="404.01" cy="22.77" rx="0.97" ry="1.09" fill="#4575b4" stroke="#555" stroke-width="0.35"/>
<ellipse cx="412.34" cy="22.77" rx="0.97" ry="1.09" fill="#4575b4" stroke="#555" stroke-width="0.35"/>
<ellipse cx="420.67" cy="22.77" rx="0.97" ry="1.09" fill="#4575b4" stroke="#555" stroke-width="0.35"/>
<ellipse cx="429.00" cy="22.77" rx="0.97" ry="1.09" fill="#4575b4" stroke="#555" stroke-width="0.35"/>
<ellipse cx="437.32" cy="22.77" rx="1.64" ry="1.84" class="c11"/>
<ellipse cx="445.65" cy="22.77" rx="1.31" ry="1.46" fill="#d7301f" stroke="#333" stroke-width="0.4"/>
<circle cx="453.98" cy="22.77" r="0.55" fill="#666"/>
<ellipse cx="462.31" cy="22.77" rx="1.98" ry="2.21" class="c3"/>
<circle cx="470.64" cy="22.77" r="0.55" fill="#666"/>
<ellipse cx="478.96" cy="22.77" rx="1.64" ry="1.84" class="c11"/>
<ellipse cx="487.29" cy="22.77" rx="1.98" ry="2.21" class="c15"/>
<ellipse cx="495.62" cy="22.77" rx="0.97" ry="1.09" fill="#4575b4" stroke="#555" stroke-width="0.35"/>
<ellipse cx="503.95" cy="22.77" rx="0.97" ry="1.09" class="c1"/>
<ellipse cx="512.28" cy="22.77" rx="0.97" ry="1.09" class="c1"/>
<ellipse cx="520.60" cy="22.77" rx="1.31" ry="1.46" class="c11"/>
<ellipse cx="528.93" cy="22.77" rx="2.31" ry="2.59" class="c3"/>
<ellipse cx="537.26" cy="22.77" rx="2.31" ry="2.59" class="c15"/>
<ellipse cx="545.59" cy="22.77" rx="0.97" ry="1.09" fill="#4575b4" stroke="#555" stroke-width="0.35"/>
<ellipse cx="553.92" cy="22.77" rx="1.98" ry="2.21" class="c5"/>
<ellipse cx="562.24" cy="22.77" rx="0.97" ry="1.09" class="c1"/>
<circle cx="570.57" cy="22.77" r="0.55" fill="#666"/>
<circle cx="578.90" cy="22.77" r="0.55" fill="#666"/>
<ellipse cx="587.23" cy="22.77" rx="0.97" ry="1.09" fill="#d7301f" stroke="#555" stroke-width="0.35"/>
<circle cx="595.56" cy="22.77" r="0.55" fill="#666"/>
<ellipse cx="603.88" cy="22.77" rx="1.64" ry="1.84" class="c21"/>
<ellipse cx="612.21" cy="22.77" rx="2.31" ry="2.59" class="c5"/>
<ellipse cx="620.54" cy="22.77" rx="1.31" ry="1.46" class="c5"/>
<ellipse cx="628.87" cy="22.77" rx="0.97" ry="1.09" fill="#d7301f" stroke="#555" stroke-width="0.35"/>
<ellipse cx="370.70" cy="31.04" rx="1.31" ry="1.46" class="c11"/>
<ellipse cx="379.03" cy="31.04" rx="0.97" ry="1.09" class="c1"/>
<ellipse cx="387.36" cy="31.04" rx="1.31" ry="1.46" class="c23"/>
<ellipse cx="395.68" cy="31.04" rx="0.97" ry="1.09" class="c1"/>
<ellipse cx="404.01" cy="31.04" rx="1.31" ry="1.46" class="c23"/>
<ellipse cx="412.34" cy="31.04" rx="0.97" ry="1.09" class="c1"/>
<ellipse cx="420.67" cy="31.04" rx="0.97" ry="1.09" class="c1"/>
<ellipse cx="429.00" cy="31.04" rx="0.97" ry="1.09" class="c1"/>
<ellipse cx="437.32" cy="31.04" rx="1.31" ry="1.46" class="c23"/>
<ellipse cx="445.65" cy="31.04" rx="1.31" ry="1.46" class="c21"/>
<circle cx="453.98" cy="31.04" r="0.55" fill="#666"/>
<ellipse cx="462.31" cy="31.04" rx="1.31" ry="1.46" class="c11"/>
<circle cx="470.64" cy="31.04" r="0.55" fill="#666"/>
<ellipse cx="478.96" cy="31.04" rx="1.31" ry="1.46" class="c23"/>
<ellipse cx="487.29" cy="31.04" rx="0.97" ry="1.09" class="c1"/>
<ellipse cx="495.62" cy="31.04" rx="0.97" ry="1.09" class="c1"/>
<ellipse cx="503.95" cy="31.04" rx="0.97" ry="1.09" class="c1"/>
<ellipse cx="512.28" cy="31.04" rx="0.97" ry="1.09" fill="#fcae5f" stroke="#555" stroke-width="0.35"/>
<ellipse cx="520.60" cy="31.04" rx="1.31" ry="1.46" class="c11"/>
<ellipse cx="528.93" cy="31.04" rx="1.31" ry="1.46" class="c11"/>
<ellipse cx="537.26" cy="31.04" rx="0.97" ry="1.09" fill="#fde48f" stroke="#555" stroke-width="0.35"/>
<ellipse cx="545.59" cy="31.04" rx="1.31" ry="1.46" class="c3"/>
<ellipse cx="553.92" cy="31.04" rx="1.31" ry="1.46" class="c3"/>
<circle cx="562.24" cy="31.04" r="0.55" fill="#666"/>
<circle cx="570.57" cy="31.04" r="0.55" fill="#666"/>
<circle cx="578.90" cy="31.04" r="0.55" fill="#666"/>
<circle cx="587.23" cy="31.04" r="0.55" fill="#666"/>
<ellipse cx="595.56" cy="31.04" rx="0.97" ry="1.09" fill="#fde48f" stroke="#555" stroke-width="0.35"/>
<ellipse cx="603.88" cy="31.04" rx="1.64" ry="1.84" class="c15"/>
<ellipse cx="612.21" cy="31.04" rx="2.65" ry="2.96" fill="#d7301f" stroke="#333" stroke-width="0.4"/>
<ellipse cx="620.54" cy="31.04" rx="0.97" ry="1.09" fill="#fde48f" stroke="#555" stroke-width="0.35"/>
<circle cx="628.87" cy="31.04" r="0.55" fill="#666"/>
<ellipse cx="370.70" cy="39.31" rx="0.97" ry="1.09" fill="#c8e3ef" stroke="#555" stroke-width="0.35"/>
<circle cx="379.03" cy="39.31" r="0.55" fill="#666"/>
<circle cx="387.36" cy="39.31" r="0.55" fill="#666"/>
<circle cx="395.68" cy="39.31" r="0.55" fill="#666"/>
<ellipse cx="404.01" cy="39.31" rx="0.97" ry="1.09" class="c1"/>
<circle cx="412.34" cy="39.31" r="0.55" fill="#666"/>
<circle cx="420.67" cy="39.31" r="0.55" fill="#666"/>
<circle cx="429.00" cy="39.31" r="0.55" fill="#666"/>
<ellipse cx="437.32" cy="39.31" rx="0.97" ry="1.09" class="c1"/>
<ellipse cx="445.65" cy="39.31" rx="0.97" ry="1.09" fill="#fde48f" stroke="#555" stroke-width="0.35"/>
<circle cx="453.98" cy="39.31" r="0.55" fill="#666"/>
<ellipse cx="462.31" cy="39.31" rx="1.31" ry="1.46" class="c11"/>
<ellipse cx="470.64" cy="39.31" rx="1.31" ry="1.46" class="c21"/>
<ellipse cx="478.96" cy="39.31" rx="1.31" ry="1.46" class="c23"/>
<ellipse cx="487.29" cy="39.31" rx="1.31" ry="1.46" class="c21"/>
<circle cx="495.62" cy="39.31" r="0.55" fill="#666"/>
<circle cx="503.95" cy="39.31" r="0.55" fill="#666"/>
<ellipse cx="512.28" cy="39.31" rx="0.97" ry="1.09" class="c1"/>
<ellipse cx="520.60" cy="39.31" rx="0.97" ry="1.09" class="c1"/>
<ellipse cx="528.93" cy="39.31" rx="1.64" ry="1.84" class="c3"/>
<ellipse cx="537.26" cy="39.31" rx="0.97" ry="1.09" class="c1"/>
<ellipse cx="545.59" cy="39.31" rx="1.31" ry="1.46" class="c3"/>
<circle cx="553.92" cy="39.31" r="0.55" fill="#666"/>
<circle cx="562.24" cy="39.31" r="0.55" fill="#666"/>
<circle cx="570.57" cy="39.31" r="0.55" fill="#666"/>
<circle cx="578.90" cy="39.31" r="0.55" fill="#666"/>
<circle cx="587.23" cy="39.31" r="0.55" fill="#666"/>
<ellipse cx="595.56" cy="39.31" rx="0.97" ry="1.09" fill="#fcae5f" stroke="#555" stroke-width="0.35"/>
<ellipse cx="603.88" cy="39.31" rx="1.98" ry="2.21" fill="#d7301f" stroke="#333" stroke-width="0.4"/>
<ellipse cx="612.21" cy="39.31" rx="1.64" ry="1.84" class="c5"/>
<circle cx="620.54" cy="39.31" r="0.55" fill="#666"/>
<ellipse cx="628.87" cy="39.31" rx="0.97" ry="1.09" fill="#d7301f" stroke="#555" stroke-width="0.35"/>
<ellipse cx="370.70" cy="47.58" rx="1.31" ry="1.46" class="c11"/>
<ellipse cx="379.03" cy="47.58" rx="0.97" ry="1.09" class="c1"/>
<ellipse cx="387.36" cy="47.58" rx="1.31" ry="1.46" class="c23"/>
<ellipse cx="395.68" cy="47.58" rx="0.97" ry="1.09" class="c1"/>
<ellipse cx="404.01" cy="47.58" rx="1.31" ry="1.46" class="c23"/>
<ellipse cx="412.34" cy="47.58" rx="0.97" ry="1.09" class="c1"/>
<ellipse cx="420.67" cy="47.58" rx="0.97" ry="1.09" class="c1"/>
<ellipse cx="429.00" cy="47.58" rx="0.97" ry="1.09" class="c1"/>
<ellipse cx="437.32" cy="47.58" rx="1.31" ry="1.46" class="c23"/>
<ellipse cx="445.65" cy="47.58" rx="0.97" ry="1.09" fill="#d7301f" stroke="#555" stroke-width="0.35"/>
<circle cx="453.98" cy="47.58" r="0.55" fill="#666"/>
<ellipse cx="462.31" cy="47.58" rx="1.64" ry="1.84" class="c11"/>
<ellipse cx="470.64" cy="47.58" rx="0.97" ry="1.09" class="c1"/>
<ellipse cx="478.96" cy="47.58" rx="0.97" ry="1.09" class="c1"/>
<ellipse cx="487.29" cy="47.58" rx="0.97" ry="1.09" class="c1"/>
<ellipse cx="495.62" cy="47.58" rx="0.97" ry="1.09" class="c1"/>
<ellipse cx="503.95" cy="47.58" rx="0.97" ry="1.09" fill="#f4743f" stroke="#555" stroke-width="0.35"/>
<ellipse cx="512.28" cy="47.58" rx="0.97" ry="1.09" class="c1"/>
<ellipse cx="520.60" cy="47.58" rx="0.97" ry="1.09" class="c1"/>
<ellipse cx="528.93" cy="47.58" rx="0.97" ry="1.09" class="c1"/>
<ellipse cx="537.26" cy="47.58" rx="1.98" ry="2.21" class="c15"/>
<circle cx="545.59" cy="47.58" r="0.55" fill="#666"/>
<ellipse cx="553.92" cy="47.58" rx="1.31" ry="1.46" class="c23"/>
<ellipse cx="562.24" cy="47.58" rx="0.97" ry="1.09" fill="#fcae5f" stroke="#555" stroke-width="0.35"/>
<ellipse cx="570.57" cy="47.58" rx="0.97" ry="1.09" fill="#d7301f" stroke="#555" stroke-width="0.35"/>
<ellipse cx="578.90" cy="47.58" rx="0.97" ry="1.09" fill="#d7301f" stroke="#555" stroke-width="0.35"/>
<circle cx="587.23" cy="47.58" r="0.55" fill="#666"/>
<circle cx="595.56" cy="47.58" r="0.55" fill="#666"/>
<ellipse cx="603.88" cy="47.58" rx="0.97" ry="1.09" class="c1"/>
<ellipse cx="612.21" cy="47.58" rx="1.64" ry="1.84" class="c11"/>
<circle cx="620.54" cy="47.58" r="0.55" fill="#666"/>
<circle cx="628.87" cy="47.58" r="0.55" fill="#666"/>
<ellipse cx="370.70" cy="55.85" rx="2.98" ry="3.34" class="c15"/>
<ellipse cx="379.03" cy="55.85" rx="1.64" ry="1.84" class="c5"/>
<ellipse cx="387.36" cy="55.85" rx="1.64" ry="1.84" class="c11"/>
<ellipse cx="395.68" cy="55.85" rx="1.98" ry="2.21" class="c21"/>
<ellipse cx="404.01" cy="55.85" rx="2.31" ry="2.59" class="c5"/>
<ellipse cx="412.34" cy="55.85" rx="0.97" ry="1.09" class="c1"/>
<ellipse cx="420.67" cy="55.85" rx="0.97" ry="1.09" class="c1"/>
<ellipse cx="429.00" cy="55.85" rx="1.64" ry="1.84" class="c3"/>
<ellipse cx="437.32" cy="55.85" rx="1.98" ry="2.21" class="c21"/>
<ellipse cx="445.65" cy="55.85" rx="0.97" ry="1.09" class="c1"/>
<circle cx="453.98" cy="55.85" r="0.55" fill="#666"/>
<ellipse cx="462.31" cy="55.85" rx="1.98" ry="2.21" class="c11"/>
<ellipse cx="470.64" cy="55.85" rx="0.97" ry="1.09" class="c1"/>
<ellipse cx="478.96" cy="55.85" rx="1.64" ry="1.84" class="c5"/>
<ellipse cx="487.29" cy="55.85" rx="1.64" ry="1.84" class="c21"/>
<ellipse cx="495.62" cy="55.85" rx="1.98" ry="2.21" class="c15"/>
<ellipse cx="503.95" cy="55.85" rx="0.97" ry="1.09" class="c1"/>
<ellipse cx="512.28" cy="55.85" rx="1.31" ry="1.46" class="c15"/>
<ellipse cx="520.60" cy="55.85" rx="1.64" ry="1.84" class="c21"/>
<ellipse cx="528.93" cy="55.85" rx="1.31" ry="1.46" class="c23"/>
<ellipse cx="537.26" cy="55.85" rx="0.97" ry="1.09" class="c1"/>
<ellipse cx="545.59" cy="55.85" rx="1.64" ry="1.84" class="c3"/>
<ellipse cx="553.92" cy="55.85" rx="1.98" ry="2.21" class="c21"/>
<ellipse cx="562.24" cy="55.85" rx="0.97" ry="1.09" fill="#fcae5f" stroke="#555" stroke-width="0.35"/>
<circle cx="570.57" cy="55.85" r="0.55" fill="#666"/>
<circle cx="578.90" cy="55.85" r="0.55" fill="#666"/>
<circle cx="587.23" cy="55.85" r="0.55" fill="#666"/>
<circle cx="595.56" cy="55.85" r="0.55" fill="#666"/>
<circle cx="603.88" cy="55.85" r="0.55" fill="#666"/>
<ellipse cx="612.21" cy="55.85" rx="1.98" ry="2.21" class="c5"/>
<ellipse cx="620.54" cy="55.85" rx="0.97" ry="1.09" fill="#fde48f" stroke="#555" stroke-width="0.35"/>
<circle cx="628.87" cy="55.85" r="0.55" fill="#666"/>
<ellipse cx="370.70" cy="64.12" rx="1.64" ry="1.84" class="c3"/>
<ellipse cx="379.03" cy="64.12" rx="1.31" ry="1.46" class="c23"/>
<ellipse cx="387.36" cy="64.12" rx="1.98" ry="2.21" class="c5"/>
<ellipse cx="395.68" cy="64.12" rx="1.64" ry="1.84" class="c5"/>
<ellipse cx="404.01" cy="64.12" rx="1.98" ry="2.21" class="c5"/>
<ellipse cx="412.34" cy="64.12" rx="1.64" ry="1.84" class="c5"/>
<ellipse cx="420.67" cy="64.12" rx="1.31" ry="1.46" class="c3"/>
<ellipse cx="429.00" cy="64.12" rx="1.31" ry="1.46" class="c3"/>
<ellipse cx="437.32" cy="64.12" rx="1.31" ry="1.46" class="c23"/>
<circle cx="445.65" cy="64.12" r="0.55" fill="#666"/>
<circle cx="453.98" cy="64.12" r="0.55" fill="#666"/>
<ellipse cx="462.31" cy="64.12" rx="1.64" ry="1.84" class="c3"/>
<circle cx="470.64" cy="64.12" r="0.55" fill="#666"/>
<ellipse cx="478.96" cy="64.12" rx="1.64" ry="1.84" class="c5"/>
<ellipse cx="487.29" cy="64.12" rx="1.31" ry="1.46" class="c23"/>
<ellipse cx="495.62" cy="64.12" rx="1.64" ry="1.84" class="c5"/>
<ellipse cx="503.95" cy="64.12" rx="0.97" ry="1.09" fill="#fcae5f" stroke="#555" stroke-width="0.35"/>
<ellipse cx="512.28" cy="64.12" rx="1.31" ry="1.46" class="c3"/>
<ellipse cx="520.60" cy="64.12" rx="1.31" ry="1.46" class="c5"/>
<ellipse cx="528.93" cy="64.12" rx="1.31" ry="1.46" class="c11"/>
<circle cx="537.26" cy="64.12" r="0.55" fill="#666"/>
<ellipse cx="545.59" cy="64.12" rx="1.31" ry="1.46" class="c3"/>
<ellipse cx="553.92" cy="64.12" rx="1.98" ry="2.21" class="c15"/>
<ellipse cx="562.24" cy="64.12" rx="0.97" ry="1.09" class="c1"/>
<circle cx="570.57" cy="64.12" r="0.55" fill="#666"/>
<circle cx="578.90" cy="64.12" r="0.55" fill="#666"/>
<circle cx="587.23" cy="64.12" r="0.55" fill="#666"/>
<circle cx="595.56" cy="64.12" r="0.55" fill="#666"/>
<circle cx="603.88" cy="64.12" r="0.55" fill="#666"/>
<ellipse cx="612.21" cy="64.12" rx="1.64" ry="1.84" class="c11"/>
<ellipse cx="620.54" cy="64.12" rx="1.31" ry="1.46" class="c5"/>
<circle cx="628.87" cy="64.12" r="0.55" fill="#666"/>
<ellipse cx="370.70" cy="72.39" rx="1.64" ry="1.84" class="c3"/>
<ellipse cx="379.03" cy="72.39" rx="0.97" ry="1.09" class="c1"/>
<ellipse cx="387.36" cy="72.39" rx="1.98" ry="2.21" class="c5"/>
<ellipse cx="395.68" cy="72.39" rx="1.98" ry="2.21" class="c5"/>
<ellipse cx="404.01" cy="72.39" rx="1.98" ry="2.21" class="c5"/>
<ellipse cx="412.34" cy="72.39" rx="1.64" ry="1.84" class="c21"/>
<ellipse cx="420.67" cy="72.39" rx="1.31" ry="1.46" class="c5"/>
<ellipse cx="429.00" cy="72.39" rx="1.31" ry="1.46" class="c3"/>
<ellipse cx="437.32" cy="72.39" rx="1.31" ry="1.46" class="c23"/>
<circle cx="445.65" cy="72.39" r="0.55" fill="#666"/>
<circle cx="453.98" cy="72.39" r="0.55" fill="#666"/>
<ellipse cx="462.31" cy="72.39" rx="1.64" ry="1.84" class="c11"/>
<ellipse cx="470.64" cy="72.39" rx="0.97" ry="1.09" class="c1"/>
<ellipse cx="478.96" cy="72.39" rx="1.31" ry="1.46" class="c3"/>
<ellipse cx="487.29" cy="72.39" rx="0.97" ry="1.09" class="c1"/>
<ellipse cx="495.62" cy="72.39" rx="1.31" ry="1.46" class="c3"/>
<circle cx="503.95" cy="72.39" r="0.55" fill="#666"/>
<ellipse cx="512.28" cy="72.39" rx="0.97" ry="1.09" class="c1"/>
<ellipse cx="520.60" cy="72.39" rx="0.97" ry="1.09" class="c1"/>
<ellipse cx="528.93" cy="72.39" rx="1.31" ry="1.46" class="c3"/>
<circle cx="537.26" cy="72.39" r="0.55" fill="#666"/>
<circle cx="545.59" cy="72.39" r="0.55" fill="#666"/>
<ellipse cx="553.92" cy="72.39" rx="1.31" ry="1.46" class="c3"/>
<circle cx="562.24" cy="72.39" r="0.55" fill="#666"/>
<circle cx="570.57" cy="72.39" r="0.55" fill="#666"/>
<circle cx="578.90" cy="72.39" r="0.55" fill="#666"/>
<circle cx="587.23" cy="72.39" r="0.55" fill="#666"/>
<circle cx="595.56" cy="72.39" r="0.55" fill="#666"/>
<circle cx="603.88" cy="72.39" r="0.55" fill="#666"/>
<ellipse cx="612.21" cy="72.39" rx="1.64" ry="1.84" class="c5"/>
<ellipse cx="620.54" cy="72.39" rx="0.97" ry="1.09" fill="#fcae5f" stroke="#555" stroke-width="0.35"/>
<circle cx="628.87" cy="72.39" r="0.55" fill="#666"/>
<ellipse cx="370.70" cy="80.66" rx="1.64" ry="1.84" class="c3"/>
<ellipse cx="379.03" cy="80.66" rx="1.31" ry="1.46" class="c5"/>
<ellipse cx="387.36" cy="80.66" rx="1.98" ry="2.21" class="c5"/>
<ellipse cx="395.68" cy="80.66" rx="1.64" ry="1.84" class="c3"/>
<ellipse cx="404.01" cy="80.66" rx="1.98" ry="2.21" class="c5"/>
<ellipse cx="412.34" cy="80.66" rx="1.64" ry="1.84" class="c3"/>
<ellipse cx="420.67" cy="80.66" rx="1.31" ry="1.46" class="c3"/>
<ellipse cx="429.00" cy="80.66" rx="1.98" ry="2.21" class="c5"/>
<ellipse cx="437.32" cy="80.66" rx="1.64" ry="1.84" class="c11"/>
<circle cx="445.65" cy="80.66" r="0.55" fill="#666"/>
<circle cx="453.98" cy="80.66" r="0.55" fill="#666"/>
<ellipse cx="462.31" cy="80.66" rx="1.98" ry="2.21" class="c5"/>
<ellipse cx="470.64" cy="80.66" rx="1.64" ry="1.84" class="c15"/>
<ellipse cx="478.96" cy="80.66" rx="1.98" ry="2.21" class="c5"/>
<ellipse cx="487.29" cy="80.66" rx="0.97" ry="1.09" class="c1"/>
<ellipse cx="495.62" cy="80.66" rx="1.31" ry="1.46" class="c3"/>
<ellipse cx="503.95" cy="80.66" rx="0.97" ry="1.09" class="c1"/>
<ellipse cx="512.28" cy="80.66" rx="0.97" ry="1.09" class="c1"/>
<ellipse cx="520.60" cy="80.66" rx="1.64" ry="1.84" class="c15"/>
<ellipse cx="528.93" cy="80.66" rx="1.98" ry="2.21" class="c5"/>
<ellipse cx="537.26" cy="80.66" rx="0.97" ry="1.09" class="c1"/>
<ellipse cx="545.59" cy="80.66" rx="1.64" ry="1.84" class="c21"/>
<ellipse cx="553.92" cy="80.66" rx="1.31" ry="1.46" class="c11"/>
<circle cx="562.24" cy="80.66" r="0.55" fill="#666"/>
<circle cx="570.57" cy="80.66" r="0.55" fill="#666"/>
<circle cx="578.90" cy="80.66" r="0.55" fill="#666"/>
<circle cx="587.23" cy="80.66" r="0.55" fill="#666"/>
<circle cx="595.56" cy="80.66" r="0.55" fill="#666"/>
<circle cx="603.88" cy="80.66" r="0.55" fill="#666"/>
<ellipse cx="612.21" cy="80.66" rx="1.64" ry="1.84" class="c3"/>
<circle cx="620.54" cy="80.66" r="0.55" fill="#666"/>
<circle cx="628.87" cy="80.66" r="0.55" fill="#666"/>
<ellipse cx="370.70" cy="88.93" rx="1.31" ry="1.46" class="c11"/>
<ellipse cx="379.03" cy="88.93" rx="1.64" ry="1.84" class="c5"/>
<ellipse cx="387.36" cy="88.93" rx="2.31" ry="2.59" class="c5"/>
<ellipse cx="395.68" cy="88.93" rx="1.64" ry="1.84" class="c11"/>
<ellipse cx="404.01" cy="88.93" rx="1.98" ry="2.21" class="c11"/>
<ellipse cx="412.34" cy="88.93" rx="1.64" ry="1.84" class="c3"/>
<ellipse cx="420.67" cy="88.93" rx="1.64" ry="1.84" class="c3"/>
<ellipse cx="429.00" cy="88.93" rx="2.65" ry="2.96" class="c15"/>
<ellipse cx="437.32" cy="88.93" rx="2.65" ry="2.96" class="c15"/>
<ellipse cx="445.65" cy="88.93" rx="0.97" ry="1.09" class="c1"/>
<circle cx="453.98" cy="88.93" r="0.55" fill="#666"/>
<ellipse cx="462.31" cy="88.93" rx="2.31" ry="2.59" class="c21"/>
<ellipse cx="470.64" cy="88.93" rx="1.98" ry="2.21" class="c15"/>
<ellipse cx="478.96" cy="88.93" rx="2.31" ry="2.59" class="c15"/>
<ellipse cx="487.29" cy="88.93" rx="1.31" ry="1.46" class="c23"/>
<ellipse cx="495.62" cy="88.93" rx="1.98" ry="2.21" class="c5"/>
<ellipse cx="503.95" cy="88.93" rx="0.97" ry="1.09" fill="#fde48f" stroke="#555" stroke-width="0.35"/>
<ellipse cx="512.28" cy="88.93" rx="1.64" ry="1.84" class="c21"/>
<ellipse cx="520.60" cy="88.93" rx="1.31" ry="1.46" class="c11"/>
<ellipse cx="528.93" cy="88.93" rx="2.98" ry="3.34" class="c15"/>
<ellipse cx="537.26" cy="88.93" rx="1.98" ry="2.21" class="c21"/>
<ellipse cx="545.59" cy="88.93" rx="2.31" ry="2.59" class="c15"/>
<ellipse cx="553.92" cy="88.93" rx="1.98" ry="2.21" class="c5"/>
<ellipse cx="562.24" cy="88.93" rx="1.31" ry="1.46" class="c15"/>
<circle cx="570.57" cy="88.93" r="0.55" fill="#666"/>
<circle cx="578.90" cy="88.93" r="0.55" fill="#666"/>
<circle cx="587.23" cy="88.93" r="0.55" fill="#666"/>
<circle cx="595.56" cy="88.93" r="0.55" fill="#666"/>
<circle cx="603.88" cy="88.93" r="0.55" fill="#666"/>
<ellipse cx="612.21" cy="88.93" rx="2.31" ry="2.59" class="c5"/>
<circle cx="620.54" cy="88.93" r="0.55" fill="#666"/>
<circle cx="628.87" cy="88.93" r="0.55" fill="#666"/>
<ellipse cx="370.70" cy="97.20" rx="1.64" ry="1.84" class="c3"/>
<ellipse cx="379.03" cy="97.20" rx="1.31" ry="1.46" class="c5"/>
<ellipse cx="387.36" cy="97.20" rx="1.98" ry="2.21" class="c21"/>
<ellipse cx="395.68" cy="97.20" rx="1.64" ry="1.84" class="c21"/>
<ellipse cx="404.01" cy="97.20" rx="1.98" ry="2.21" class="c21"/>
<ellipse cx="412.34" cy="97.20" rx="1.98" ry="2.21" class="c15"/>
<ellipse cx="420.67" cy="97.20" rx="1.31" ry="1.46" class="c21"/>
<ellipse cx="429.00" cy="97.20" rx="1.64" ry="1.84" class="c5"/>
<ellipse cx="437.32" cy="97.20" rx="1.64" ry="1.84" class="c3"/>
<circle cx="445.65" cy="97.20" r="0.55" fill="#666"/>
<circle cx="453.98" cy="97.20" r="0.55" fill="#666"/>
<ellipse cx="462.31" cy="97.20" rx="1.64" ry="1.84" class="c11"/>
<ellipse cx="470.64" cy="97.20" rx="0.97" ry="1.09" class="c1"/>
<ellipse cx="478.96" cy="97.20" rx="1.64" ry="1.84" class="c3"/>
<ellipse cx="487.29" cy="97.20" rx="1.31" ry="1.46" class="c3"/>
<ellipse cx="495.62" cy="97.20" rx="1.31" ry="1.46" class="c3"/>
<ellipse cx="503.95" cy="97.20" rx="0.97" ry="1.09" fill="#fde48f" stroke="#555" stroke-width="0.35"/>
<ellipse cx="512.28" cy="97.20" rx="0.97" ry="1.09" fill="#f3f8d6" stroke="#555" stroke-width="0.35"/>
<ellipse cx="520.60" cy="97.20" rx="1.31" ry="1.46" class="c15"/>
<ellipse cx="528.93" cy="97.20" rx="1.31" ry="1.46" class="c5"/>
<circle cx="537.26" cy="97.20" r="0.55" fill="#666"/>
<ellipse cx="545.59" cy="97.20" rx="1.31" ry="1.46" class="c5"/>
<ellipse cx="553.92" cy="97.20" rx="1.31" ry="1.46" class="c11"/>
<ellipse cx="562.24" cy="97.20" rx="0.97" ry="1.09" fill="#fcae5f" stroke="#555" stroke-width="0.35"/>
<circle cx="570.57" cy="97.20" r="0.55" fill="#666"/>
<circle cx="578.90" cy="97.20" r="0.55" fill="#666"/>
<circle cx="587.23" cy="97.20" r="0.55" fill="#666"/>
<circle cx="595.56" cy="97.20" r="0.55" fill="#666"/>
<circle cx="603.88" cy="97.20" r="0.55" fill="#666"/>
<ellipse cx="612.21" cy="97.20" rx="1.64" ry="1.84" class="c11"/>
<circle cx="620.54" cy="97.20" r="0.55" fill="#666"/>
<circle cx="628.87" cy="97.20" r="0.55" fill="#666"/>
<ellipse cx="370.70" cy="105.47" rx="2.65" ry="2.96" fill="#d7301f" stroke="#333" stroke-width="0.4"/>
<ellipse cx="379.03" cy="105.47" rx="1.31" ry="1.46" class="c5"/>
<ellipse cx="387.36" cy="105.47" rx="0.97" ry="1.09" class="c1"/>
<ellipse cx="395.68" cy="105.47" rx="1.64" ry="1.84" class="c5"/>
<ellipse cx="404.01" cy="105.47" rx="1.98" ry="2.21" class="c5"/>
<circle cx="412.34" cy="105.47" r="0.55" fill="#666"/>
<circle cx="420.67" cy="105.47" r="0.55" fill="#666"/>
<ellipse cx="429.00" cy="105.47" rx="1.31" ry="1.46" class="c3"/>
<ellipse cx="437.32" cy="105.47" rx="1.64" ry="1.84" class="c5"/>
<circle cx="445.65" cy="105.47" r="0.55" fill="#666"/>
<circle cx="453.98" cy="105.47" r="0.55" fill="#666"/>
<ellipse cx="462.31" cy="105.47" rx="1.64" ry="1.84" class="c11"/>
<circle cx="470.64" cy="105.47" r="0.55" fill="#666"/>
<ellipse cx="478.96" cy="105.47" rx="1.31" ry="1.46" class="c3"/>
<ellipse cx="487.29" cy="105.47" rx="1.64" ry="1.84" class="c21"/>
<ellipse cx="495.62" cy="105.47" rx="1.64" ry="1.84" class="c15"/>
<ellipse cx="503.95" cy="105.47" rx="0.97" ry="1.09" class="c1"/>
<ellipse cx="512.28" cy="105.47" rx="0.97" ry="1.09" class="c1"/>
<ellipse cx="520.60" cy="105.47" rx="0.97" ry="1.09" class="c1"/>
<ellipse cx="528.93" cy="105.47" rx="1.31" ry="1.46" class="c11"/>
<circle cx="537.26" cy="105.47" r="0.55" fill="#666"/>
<ellipse cx="545.59" cy="105.47" rx="1.31" ry="1.46" class="c3"/>
<ellipse cx="553.92" cy="105.47" rx="1.64" ry="1.84" class="c15"/>
<circle cx="562.24" cy="105.47" r="0.55" fill="#666"/>
<circle cx="570.57" cy="105.47" r="0.55" fill="#666"/>
<circle cx="578.90" cy="105.47" r="0.55" fill="#666"/>
<circle cx="587.23" cy="105.47" r="0.55" fill="#666"/>
<circle cx="595.56" cy="105.47" r="0.55" fill="#666"/>
<circle cx="603.88" cy="105.47" r="0.55" fill="#666"/>
<ellipse cx="612.21" cy="105.47" rx="1.31" ry="1.46" class="c23"/>
<circle cx="620.54" cy="105.47" r="0.55" fill="#666"/>
<circle cx="628.87" cy="105.47" r="0.55" fill="#666"/>
<ellipse cx="370.70" cy="113.74" rx="2.31" ry="2.59" class="c3"/>
<ellipse cx="379.03" cy="113.74" rx="1.64" ry="1.84" class="c11"/>
<ellipse cx="387.36" cy="113.74" rx="2.65" ry="2.96" class="c5"/>
<ellipse cx="395.68" cy="113.74" rx="1.98" ry="2.21" class="c11"/>
<ellipse cx="404.01" cy="113.74" rx="2.31" ry="2.59" class="c11"/>
<ellipse cx="412.34" cy="113.74" rx="2.31" ry="2.59" class="c3"/>
<ellipse cx="420.67" cy="113.74" rx="1.98" ry="2.21" class="c3"/>
<ellipse cx="429.00" cy="113.74" rx="2.31" ry="2.59" class="c5"/>
<ellipse cx="437.32" cy="113.74" rx="2.31" ry="2.59" class="c11"/>
<ellipse cx="445.65" cy="113.74" rx="1.64" ry="1.84" class="c3"/>
<ellipse cx="453.98" cy="113.74" rx="0.97" ry="1.09" class="c1"/>
<ellipse cx="462.31" cy="113.74" rx="2.65" ry="2.96" class="c3"/>
<ellipse cx="470.64" cy="113.74" rx="1.98" ry="2.21" class="c3"/>
<ellipse cx="478.96" cy="113.74" rx="2.65" ry="2.96" class="c21"/>
<ellipse cx="487.29" cy="113.74" rx="2.31" ry="2.59" class="c3"/>
<ellipse cx="495.62" cy="113.74" rx="1.98" ry="2.21" class="c11"/>
<ellipse cx="503.95" cy="113.74" rx="1.64" ry="1.84" class="c11"/>
<ellipse cx="512.28" cy="113.74" rx="1.31" ry="1.46" class="c23"/>
<ellipse cx="520.60" cy="113.74" rx="1.64" ry="1.84" class="c23"/>
<ellipse cx="528.93" cy="113.74" rx="2.31" ry="2.59" class="c3"/>
<ellipse cx="537.26" cy="113.74" rx="1.98" ry="2.21" class="c5"/>
<ellipse cx="545.59" cy="113.74" rx="2.31" ry="2.59" class="c5"/>
<ellipse cx="553.92" cy="113.74" rx="2.31" ry="2.59" class="c5"/>
<ellipse cx="562.24" cy="113.74" rx="1.31" ry="1.46" class="c23"/>
<ellipse cx="570.57" cy="113.74" rx="1.31" ry="1.46" class="c5"/>
<ellipse cx="578.90" cy="113.74" rx="0.97" ry="1.09" class="c1"/>
<circle cx="587.23" cy="113.74" r="0.55" fill="#666"/>
<ellipse cx="595.56" cy="113.74" rx="1.31" ry="1.46" class="c5"/>
<ellipse cx="603.88" cy="113.74" rx="1.31" ry="1.46" class="c3"/>
<ellipse cx="612.21" cy="113.74" rx="2.31" ry="2.59" class="c11"/>
<ellipse cx="620.54" cy="113.74" rx="1.31" ry="1.46" class="c5"/>
<ellipse cx="628.87" cy="113.74" rx="0.97" ry="1.09" class="c1"/>
<ellipse cx="370.70" cy="122.01" rx="0.97" ry="1.09" class="c1"/>
<ellipse cx="379.03" cy="122.01" rx="0.97" ry="1.09" class="c1"/>
<ellipse cx="387.36" cy="122.01" rx="1.64" ry="1.84" class="c5"/>
<ellipse cx="395.68" cy="122.01" rx="1.31" ry="1.46" class="c5"/>
<ellipse cx="404.01" cy="122.01" rx="1.64" ry="1.84" class="c21"/>
<ellipse cx="412.34" cy="122.01" rx="1.31" ry="1.46" class="c21"/>
<ellipse cx="420.67" cy="122.01" rx="1.31" ry="1.46" class="c5"/>
<ellipse cx="429.00" cy="122.01" rx="1.31" ry="1.46" class="c3"/>
<ellipse cx="437.32" cy="122.01" rx="1.31" ry="1.46" class="c3"/>
<circle cx="445.65" cy="122.01" r="0.55" fill="#666"/>
<circle cx="453.98" cy="122.01" r="0.55" fill="#666"/>
<ellipse cx="462.31" cy="122.01" rx="1.98" ry="2.21" fill="#d7301f" stroke="#333" stroke-width="0.4"/>
<ellipse cx="470.64" cy="122.01" rx="1.31" ry="1.46" fill="#d7301f" stroke="#333" stroke-width="0.4"/>
<ellipse cx="478.96" cy="122.01" rx="0.97" ry="1.09" class="c1"/>
<circle cx="487.29" cy="122.01" r="0.55" fill="#666"/>
<circle cx="495.62" cy="122.01" r="0.55" fill="#666"/>
<circle cx="503.95" cy="122.01" r="0.55" fill="#666"/>
<circle cx="512.28" cy="122.01" r="0.55" fill="#666"/>
<ellipse cx="520.60" cy="122.01" rx="0.97" ry="1.09" class="c1"/>
<ellipse cx="528.93" cy="122.01" rx="1.31" ry="1.46" class="c11"/>
<circle cx="537.26" cy="122.01" r="0.55" fill="#666"/>
<ellipse cx="545.59" cy="122.01" rx="0.97" ry="1.09" fill="#fde48f" stroke="#555" stroke-width="0.35"/>
<ellipse cx="553.92" cy="122.01" rx="0.97" ry="1.09" class="c1"/>
<circle cx="562.24" cy="122.01" r="0.55" fill="#666"/>
<circle cx="570.57" cy="122.01" r="0.55" fill="#666"/>
<circle cx="578.90" cy="122.01" r="0.55" fill="#666"/>
<circle cx="587.23" cy="122.01" r="0.55" fill="#666"/>
<circle cx="595.56" cy="122.01" r="0.55" fill="#666"/>
<circle cx="603.88" cy="122.01" r="0.55" fill="#666"/>
<ellipse cx="612.21" cy="122.01" rx="0.97" ry="1.09" class="c1"/>
<circle cx="620.54" cy="122.01" r="0.55" fill="#666"/>
<circle cx="628.87" cy="122.01" r="0.55" fill="#666"/>
<ellipse cx="370.70" cy="130.28" rx="1.31" ry="1.46" class="c3"/>
<ellipse cx="379.03" cy="130.28" rx="1.31" ry="1.46" class="c5"/>
<ellipse cx="387.36" cy="130.28" rx="1.98" ry="2.21" class="c15"/>
<ellipse cx="395.68" cy="130.28" rx="1.31" ry="1.46" class="c21"/>
<ellipse cx="404.01" cy="130.28" rx="1.64" ry="1.84" class="c5"/>
<ellipse cx="412.34" cy="130.28" rx="1.64" ry="1.84" class="c15"/>
<ellipse cx="420.67" cy="130.28" rx="1.31" ry="1.46" class="c21"/>
<ellipse cx="429.00" cy="130.28" rx="1.31" ry="1.46" class="c3"/>
<ellipse cx="437.32" cy="130.28" rx="1.31" ry="1.46" class="c3"/>
<circle cx="445.65" cy="130.28" r="0.55" fill="#666"/>
<circle cx="453.98" cy="130.28" r="0.55" fill="#666"/>
<ellipse cx="462.31" cy="130.28" rx="1.31" ry="1.46" class="c3"/>
<ellipse cx="470.64" cy="130.28" rx="0.97" ry="1.09" class="c1"/>
<ellipse cx="478.96" cy="130.28" rx="1.31" ry="1.46" class="c3"/>
<ellipse cx="487.29" cy="130.28" rx="0.97" ry="1.09" class="c1"/>
<ellipse cx="495.62" cy="130.28" rx="0.97" ry="1.09" class="c1"/>
<circle cx="503.95" cy="130.28" r="0.55" fill="#666"/>
<ellipse cx="512.28" cy="130.28" rx="0.97" ry="1.09" class="c1"/>
<ellipse cx="520.60" cy="130.28" rx="1.31" ry="1.46" class="c5"/>
<ellipse cx="528.93" cy="130.28" rx="1.31" ry="1.46" class="c3"/>
<circle cx="537.26" cy="130.28" r="0.55" fill="#666"/>
<ellipse cx="545.59" cy="130.28" rx="1.31" ry="1.46" class="c3"/>
<ellipse cx="553.92" cy="130.28" rx="0.97" ry="1.09" class="c1"/>
<circle cx="562.24" cy="130.28" r="0.55" fill="#666"/>
<circle cx="570.57" cy="130.28" r="0.55" fill="#666"/>
<circle cx="578.90" cy="130.28" r="0.55" fill="#666"/>
<circle cx="587.23" cy="130.28" r="0.55" fill="#666"/>
<circle cx="595.56" cy="130.28" r="0.55" fill="#666"/>
<circle cx="603.88" cy="130.28" r="0.55" fill="#666"/>
<ellipse cx="612.21" cy="130.28" rx="1.31" ry="1.46" class="c11"/>
<circle cx="620.54" cy="130.28" r="0.55" fill="#666"/>
<circle cx="628.87" cy="130.28" r="0.55" fill="#666"/>
<ellipse cx="370.70" cy="138.55" rx="1.31" ry="1.46" class="c11"/>
<ellipse cx="379.03" cy="138.55" rx="1.64" ry="1.84" class="c15"/>
<ellipse cx="387.36" cy="138.55" rx="1.98" ry="2.21" class="c5"/>
<ellipse cx="395.68" cy="138.55" rx="1.64" ry="1.84" class="c3"/>
<ellipse cx="404.01" cy="138.55" rx="1.98" ry="2.21" class="c11"/>
<ellipse cx="412.34" cy="138.55" rx="1.31" ry="1.46" class="c3"/>
<ellipse cx="420.67" cy="138.55" rx="1.31" ry="1.46" class="c3"/>
<ellipse cx="429.00" cy="138.55" rx="2.31" ry="2.59" class="c15"/>
<ellipse cx="437.32" cy="138.55" rx="2.31" ry="2.59" class="c15"/>
<ellipse cx="445.65" cy="138.55" rx="0.97" ry="1.09" class="c1"/>
<circle cx="453.98" cy="138.55" r="0.55" fill="#666"/>
<ellipse cx="462.31" cy="138.55" rx="2.31" ry="2.59" class="c21"/>
<ellipse cx="470.64" cy="138.55" rx="1.64" ry="1.84" class="c5"/>
<ellipse cx="478.96" cy="138.55" rx="2.31" ry="2.59" class="c15"/>
<ellipse cx="487.29" cy="138.55" rx="0.97" ry="1.09" class="c1"/>
<ellipse cx="495.62" cy="138.55" rx="1.31" ry="1.46" class="c3"/>
<ellipse cx="503.95" cy="138.55" rx="0.97" ry="1.09" class="c1"/>
<ellipse cx="512.28" cy="138.55" rx="1.31" ry="1.46" class="c3"/>
<ellipse cx="520.60" cy="138.55" rx="0.97" ry="1.09" class="c1"/>
<ellipse cx="528.93" cy="138.55" rx="2.65" ry="2.96" class="c15"/>
<ellipse cx="537.26" cy="138.55" rx="1.64" ry="1.84" class="c21"/>
<ellipse cx="545.59" cy="138.55" rx="1.98" ry="2.21" class="c15"/>
<ellipse cx="553.92" cy="138.55" rx="1.64" ry="1.84" class="c3"/>
<ellipse cx="562.24" cy="138.55" rx="0.97" ry="1.09" class="c1"/>
<circle cx="570.57" cy="138.55" r="0.55" fill="#666"/>
<circle cx="578.90" cy="138.55" r="0.55" fill="#666"/>
<circle cx="587.23" cy="138.55" r="0.55" fill="#666"/>
<circle cx="595.56" cy="138.55" r="0.55" fill="#666"/>
<circle cx="603.88" cy="138.55" r="0.55" fill="#666"/>
<ellipse cx="612.21" cy="138.55" rx="1.64" ry="1.84" class="c3"/>
<circle cx="620.54" cy="138.55" r="0.55" fill="#666"/>
<circle cx="628.87" cy="138.55" r="0.55" fill="#666"/>
<ellipse cx="370.70" cy="146.82" rx="1.64" ry="1.84" class="c11"/>
<ellipse cx="379.03" cy="146.82" rx="1.64" ry="1.84" class="c5"/>
<ellipse cx="387.36" cy="146.82" rx="1.98" ry="2.21" class="c3"/>
<ellipse cx="395.68" cy="146.82" rx="1.64" ry="1.84" class="c3"/>
<ellipse cx="404.01" cy="146.82" rx="1.98" ry="2.21" class="c3"/>
<ellipse cx="412.34" cy="146.82" rx="1.64" ry="1.84" class="c3"/>
<ellipse cx="420.67" cy="146.82" rx="1.31" ry="1.46" class="c3"/>
<ellipse cx="429.00" cy="146.82" rx="2.31" ry="2.59" class="c15"/>
<ellipse cx="437.32" cy="146.82" rx="2.31" ry="2.59" class="c15"/>
<circle cx="445.65" cy="146.82" r="0.55" fill="#666"/>
<circle cx="453.98" cy="146.82" r="0.55" fill="#666"/>
<ellipse cx="462.31" cy="146.82" rx="2.65" ry="2.96" class="c15"/>
<ellipse cx="470.64" cy="146.82" rx="1.98" ry="2.21" class="c15"/>
<ellipse cx="478.96" cy="146.82" rx="2.65" ry="2.96" class="c15"/>
<ellipse cx="487.29" cy="146.82" rx="0.97" ry="1.09" class="c1"/>
<ellipse cx="495.62" cy="146.82" rx="1.64" ry="1.84" class="c5"/>
<ellipse cx="503.95" cy="146.82" rx="0.97" ry="1.09" class="c1"/>
<ellipse cx="512.28" cy="146.82" rx="0.97" ry="1.09" fill="#f3f8d6" stroke="#555" stroke-width="0.35"/>
<ellipse cx="520.60" cy="146.82" rx="0.97" ry="1.09" class="c1"/>
<ellipse cx="528.93" cy="146.82" rx="2.65" ry="2.96" class="c15"/>
<ellipse cx="537.26" cy="146.82" rx="1.64" ry="1.84" class="c21"/>
<ellipse cx="545.59" cy="146.82" rx="1.98" ry="2.21" class="c15"/>
<ellipse cx="553.92" cy="146.82" rx="1.64" ry="1.84" class="c3"/>
<ellipse cx="562.24" cy="146.82" rx="0.97" ry="1.09" class="c1"/>
<circle cx="570.57" cy="146.82" r="0.55" fill="#666"/>
<circle cx="578.90" cy="146.82" r="0.55" fill="#666"/>
<circle cx="587.23" cy="146.82" r="0.55" fill="#666"/>
<circle cx="595.56" cy="146.82" r="0.55" fill="#666"/>
<circle cx="603.88" cy="146.82" r="0.55" fill="#666"/>
<ellipse cx="612.21" cy="146.82" rx="1.98" ry="2.21" class="c5"/>
<circle cx="620.54" cy="146.82" r="0.55" fill="#666"/>
<circle cx="628.87" cy="146.82" r="0.55" fill="#666"/>
<ellipse cx="370.70" cy="155.09" rx="1.64" ry="1.84" class="c3"/>
<ellipse cx="379.03" cy="155.09" rx="1.31" ry="1.46" class="c3"/>
<ellipse cx="387.36" cy="155.09" rx="1.98" ry="2.21" class="c21"/>
<ellipse cx="395.68" cy="155.09" rx="1.98" ry="2.21" class="c15"/>
<ellipse cx="404.01" cy="155.09" rx="2.31" ry="2.59" class="c21"/>
<ellipse cx="412.34" cy="155.09" rx="1.98" ry="2.21" class="c15"/>
<ellipse cx="420.67" cy="155.09" rx="1.64" ry="1.84" class="c15"/>
<ellipse cx="429.00" cy="155.09" rx="1.31" ry="1.46" class="c3"/>
<ellipse cx="437.32" cy="155.09" rx="1.31" ry="1.46" class="c5"/>
<circle cx="445.65" cy="155.09" r="0.55" fill="#666"/>
<circle cx="453.98" cy="155.09" r="0.55" fill="#666"/>
<ellipse cx="462.31" cy="155.09" rx="1.64" ry="1.84" class="c11"/>
<ellipse cx="470.64" cy="155.09" rx="0.97" ry="1.09" class="c1"/>
<ellipse cx="478.96" cy="155.09" rx="1.31" ry="1.46" class="c3"/>
<ellipse cx="487.29" cy="155.09" rx="0.97" ry="1.09" class="c1"/>
<ellipse cx="495.62" cy="155.09" rx="1.31" ry="1.46" class="c3"/>
<ellipse cx="503.95" cy="155.09" rx="0.97" ry="1.09" class="c1"/>
<ellipse cx="512.28" cy="155.09" rx="0.97" ry="1.09" class="c1"/>
<ellipse cx="520.60" cy="155.09" rx="1.31" ry="1.46" class="c3"/>
<ellipse cx="528.93" cy="155.09" rx="1.31" ry="1.46" class="c11"/>
<circle cx="537.26" cy="155.09" r="0.55" fill="#666"/>
<ellipse cx="545.59" cy="155.09" rx="1.31" ry="1.46" class="c3"/>
<ellipse cx="553.92" cy="155.09" rx="1.31" ry="1.46" class="c11"/>
<ellipse cx="562.24" cy="155.09" rx="0.97" ry="1.09" class="c1"/>
<circle cx="570.57" cy="155.09" r="0.55" fill="#666"/>
<circle cx="578.90" cy="155.09" r="0.55" fill="#666"/>
<circle cx="587.23" cy="155.09" r="0.55" fill="#666"/>
<circle cx="595.56" cy="155.09" r="0.55" fill="#666"/>
<circle cx="603.88" cy="155.09" r="0.55" fill="#666"/>
<ellipse cx="612.21" cy="155.09" rx="1.31" ry="1.46" class="c23"/>
<ellipse cx="620.54" cy="155.09" rx="0.97" ry="1.09" class="c1"/>
<circle cx="628.87" cy="155.09" r="0.55" fill="#666"/>
<ellipse cx="370.70" cy="163.36" rx="1.31" ry="1.46" class="c3"/>
<ellipse cx="379.03" cy="163.36" rx="1.31" ry="1.46" class="c5"/>
<ellipse cx="387.36" cy="163.36" rx="1.98" ry="2.21" class="c15"/>
<ellipse cx="395.68" cy="163.36" rx="1.64" ry="1.84" class="c15"/>
<ellipse cx="404.01" cy="163.36" rx="1.98" ry="2.21" class="c15"/>
<ellipse cx="412.34" cy="163.36" rx="1.64" ry="1.84" class="c15"/>
<ellipse cx="420.67" cy="163.36" rx="1.31" ry="1.46" class="c15"/>
<ellipse cx="429.00" cy="163.36" rx="1.31" ry="1.46" class="c3"/>
<ellipse cx="437.32" cy="163.36" rx="1.31" ry="1.46" class="c3"/>
<circle cx="445.65" cy="163.36" r="0.55" fill="#666"/>
<circle cx="453.98" cy="163.36" r="0.55" fill="#666"/>
<ellipse cx="462.31" cy="163.36" rx="0.97" ry="1.09" class="c1"/>
<circle cx="470.64" cy="163.36" r="0.55" fill="#666"/>
<ellipse cx="478.96" cy="163.36" rx="0.97" ry="1.09" class="c1"/>
<ellipse cx="487.29" cy="163.36" rx="0.97" ry="1.09" class="c1"/>
<ellipse cx="495.62" cy="163.36" rx="0.97" ry="1.09" class="c1"/>
<circle cx="503.95" cy="163.36" r="0.55" fill="#666"/>
<ellipse cx="512.28" cy="163.36" rx="0.97" ry="1.09" class="c1"/>
<ellipse cx="520.60" cy="163.36" rx="1.31" ry="1.46" class="c5"/>
<ellipse cx="528.93" cy="163.36" rx="1.31" ry="1.46" class="c3"/>
<circle cx="537.26" cy="163.36" r="0.55" fill="#666"/>
<ellipse cx="545.59" cy="163.36" rx="1.31" ry="1.46" class="c3"/>
<ellipse cx="553.92" cy="163.36" rx="0.97" ry="1.09" class="c1"/>
<circle cx="562.24" cy="163.36" r="0.55" fill="#666"/>
<circle cx="570.57" cy="163.36" r="0.55" fill="#666"/>
<circle cx="578.90" cy="163.36" r="0.55" fill="#666"/>
<circle cx="587.23" cy="163.36" r="0.55" fill="#666"/>
<circle cx="595.56" cy="163.36" r="0.55" fill="#666"/>
<circle cx="603.88" cy="163.36" r="0.55" fill="#666"/>
<ellipse cx="612.21" cy="163.36" rx="1.31" ry="1.46" class="c11"/>
<circle cx="620.54" cy="163.36" r="0.55" fill="#666"/>
<circle cx="628.87" cy="163.36" r="0.55" fill="#666"/>
<ellipse cx="370.70" cy="171.63" rx="2.98" ry="3.34" fill="#d7301f" stroke="#333" stroke-width="0.4"/>
<ellipse cx="379.03" cy="171.63" rx="1.31" ry="1.46" class="c15"/>
<ellipse cx="387.36" cy="171.63" rx="1.31" ry="1.46" class="c11"/>
<ellipse cx="395.68" cy="171.63" rx="1.64" ry="1.84" class="c5"/>
<ellipse cx="404.01" cy="171.63" rx="1.98" ry="2.21" class="c5"/>
<circle cx="412.34" cy="171.63" r="0.55" fill="#666"/>
<circle cx="420.67" cy="171.63" r="0.55" fill="#666"/>
<ellipse cx="429.00" cy="171.63" rx="1.31" ry="1.46" class="c3"/>
<ellipse cx="437.32" cy="171.63" rx="1.64" ry="1.84" class="c5"/>
<circle cx="445.65" cy="171.63" r="0.55" fill="#666"/>
<circle cx="453.98" cy="171.63" r="0.55" fill="#666"/>
<ellipse cx="462.31" cy="171.63" rx="1.64" ry="1.84" class="c11"/>
<ellipse cx="470.64" cy="171.63" rx="0.97" ry="1.09" class="c1"/>
<ellipse cx="478.96" cy="171.63" rx="1.64" ry="1.84" class="c3"/>
<ellipse cx="487.29" cy="171.63" rx="1.64" ry="1.84" class="c15"/>
<ellipse cx="495.62" cy="171.63" rx="1.98" ry="2.21" class="c15"/>
<ellipse cx="503.95" cy="171.63" rx="0.97" ry="1.09" fill="#d7301f" stroke="#555" stroke-width="0.35"/>
<ellipse cx="512.28" cy="171.63" rx="0.97" ry="1.09" class="c1"/>
<ellipse cx="520.60" cy="171.63" rx="1.31" ry="1.46" class="c5"/>
<ellipse cx="528.93" cy="171.63" rx="1.31" ry="1.46" class="c11"/>
<circle cx="537.26" cy="171.63" r="0.55" fill="#666"/>
<ellipse cx="545.59" cy="171.63" rx="1.31" ry="1.46" class="c3"/>
<ellipse cx="553.92" cy="171.63" rx="1.64" ry="1.84" class="c15"/>
<circle cx="562.24" cy="171.63" r="0.55" fill="#666"/>
<circle cx="570.57" cy="171.63" r="0.55" fill="#666"/>
<circle cx="578.90" cy="171.63" r="0.55" fill="#666"/>
<circle cx="587.23" cy="171.63" r="0.55" fill="#666"/>
<circle cx="595.56" cy="171.63" r="0.55" fill="#666"/>
<circle cx="603.88" cy="171.63" r="0.55" fill="#666"/>
<ellipse cx="612.21" cy="171.63" rx="1.31" ry="1.46" class="c11"/>
<ellipse cx="620.54" cy="171.63" rx="0.97" ry="1.09" fill="#fde48f" stroke="#555" stroke-width="0.35"/>
<circle cx="628.87" cy="171.63" r="0.55" fill="#666"/>
<line x1="370.70" y1="176.30" x2="370.70" y2="178.00" class="c8"/>
<text x="372.90" y="183.20" class="c19" transform="rotate(-45 372.90 183.20)" class="c20">NXPH1</text>
<line x1="379.03" y1="176.30" x2="379.03" y2="178.00" class="c8"/>
<text x="381.23" y="183.20" class="c19" transform="rotate(-45 381.23 183.20)" class="c20">NEUROD1</text>
<line x1="387.36" y1="176.30" x2="387.36" y2="178.00" class="c8"/>
<text x="389.56" y="183.20" class="c19" transform="rotate(-45 389.56 183.20)" class="c20">HOXA3</text>
<line x1="395.68" y1="176.30" x2="395.68" y2="178.00" class="c8"/>
<text x="397.88" y="183.20" class="c19" transform="rotate(-45 397.88 183.20)" class="c20">STMN2</text>
<line x1="404.01" y1="176.30" x2="404.01" y2="178.00" class="c8"/>
<text x="406.21" y="183.20" class="c19" transform="rotate(-45 406.21 183.20)" class="c20">NRN1</text>
<line x1="412.34" y1="176.30" x2="412.34" y2="178.00" class="c8"/>
<text x="414.54" y="183.20" class="c19" transform="rotate(-45 414.54 183.20)" class="c20">HOXA9</text>
<line x1="420.67" y1="176.30" x2="420.67" y2="178.00" class="c8"/>
<text x="422.87" y="183.20" class="c19" transform="rotate(-45 422.87 183.20)" class="c20">HOXA10</text>
<line x1="429.00" y1="176.30" x2="429.00" y2="178.00" class="c8"/>
<text x="431.20" y="183.20" class="c19" transform="rotate(-45 431.20 183.20)" class="c20">TBR1</text>
<line x1="437.32" y1="176.30" x2="437.32" y2="178.00" class="c8"/>
<text x="439.52" y="183.20" class="c19" transform="rotate(-45 439.52 183.20)" class="c20">HEY1</text>
<line x1="445.65" y1="176.30" x2="445.65" y2="178.00" class="c8"/>
<text x="447.85" y="183.20" class="c19" transform="rotate(-45 447.85 183.20)" class="c20">VIM</text>
<line x1="453.98" y1="176.30" x2="453.98" y2="178.00" class="c8"/>
<text x="456.18" y="183.20" class="c19" transform="rotate(-45 456.18 183.20)" class="c20">TTR</text>
<line x1="462.31" y1="176.30" x2="462.31" y2="178.00" class="c8"/>
<text x="464.51" y="183.20" class="c19" transform="rotate(-45 464.51 183.20)" class="c20">NRL</text>
<line x1="470.64" y1="176.30" x2="470.64" y2="178.00" class="c8"/>
<text x="472.84" y="183.20" class="c19" transform="rotate(-45 472.84 183.20)" class="c20">CRX</text>
<line x1="478.96" y1="176.30" x2="478.96" y2="178.00" class="c8"/>
<text x="481.16" y="183.20" class="c19" transform="rotate(-45 481.16 183.20)" class="c20">BCL11B</text>
<line x1="487.29" y1="176.30" x2="487.29" y2="178.00" class="c8"/>
<text x="489.49" y="183.20" class="c19" transform="rotate(-45 489.49 183.20)" class="c20">PAX6</text>
<line x1="495.62" y1="176.30" x2="495.62" y2="178.00" class="c8"/>
<text x="497.82" y="183.20" class="c19" transform="rotate(-45 497.82 183.20)" class="c20">LHX1</text>
<line x1="503.95" y1="176.30" x2="503.95" y2="178.00" class="c8"/>
<text x="506.15" y="183.20" class="c19" transform="rotate(-45 506.15 183.20)" class="c20">MCM6</text>
<line x1="512.28" y1="176.30" x2="512.28" y2="178.00" class="c8"/>
<text x="514.48" y="183.20" class="c19" transform="rotate(-45 514.48 183.20)" class="c20">TPX2</text>
<line x1="520.60" y1="176.30" x2="520.60" y2="178.00" class="c8"/>
<text x="522.80" y="183.20" class="c19" transform="rotate(-45 522.80 183.20)" class="c20">HES6</text>
<line x1="528.93" y1="176.30" x2="528.93" y2="178.00" class="c8"/>
<text x="531.13" y="183.20" class="c19" transform="rotate(-45 531.13 183.20)" class="c20">CNTN1</text>
<line x1="537.26" y1="176.30" x2="537.26" y2="178.00" class="c8"/>
<text x="539.46" y="183.20" class="c19" transform="rotate(-45 539.46 183.20)" class="c20">SLC1A3</text>
<line x1="545.59" y1="176.30" x2="545.59" y2="178.00" class="c8"/>
<text x="547.79" y="183.20" class="c19" transform="rotate(-45 547.79 183.20)" class="c20">OTX2</text>
<line x1="553.92" y1="176.30" x2="553.92" y2="178.00" class="c8"/>
<text x="556.12" y="183.20" class="c19" transform="rotate(-45 556.12 183.20)" class="c20">TUBB3</text>
<line x1="562.24" y1="176.30" x2="562.24" y2="178.00" class="c8"/>
<text x="564.44" y="183.20" class="c19" transform="rotate(-45 564.44 183.20)" class="c20">CDC20</text>
<line x1="570.57" y1="176.30" x2="570.57" y2="178.00" class="c8"/>
<text x="572.77" y="183.20" class="c19" transform="rotate(-45 572.77 183.20)" class="c20">C1QC</text>
<line x1="578.90" y1="176.30" x2="578.90" y2="178.00" class="c8"/>
<text x="581.10" y="183.20" class="c19" transform="rotate(-45 581.10 183.20)" class="c20">C1QB</text>
<line x1="587.23" y1="176.30" x2="587.23" y2="178.00" class="c8"/>
<text x="589.43" y="183.20" class="c19" transform="rotate(-45 589.43 183.20)" class="c20">S100B</text>
<line x1="595.56" y1="176.30" x2="595.56" y2="178.00" class="c8"/>
<text x="597.76" y="183.20" class="c19" transform="rotate(-45 597.76 183.20)" class="c20">OCLN</text>
<line x1="603.88" y1="176.30" x2="603.88" y2="178.00" class="c8"/>
<text x="606.08" y="183.20" class="c19" transform="rotate(-45 606.08 183.20)" class="c20">YAP1</text>
<line x1="612.21" y1="176.30" x2="612.21" y2="178.00" class="c8"/>
<text x="614.41" y="183.20" class="c19" transform="rotate(-45 614.41 183.20)" class="c20">AMOTL1</text>
<line x1="620.54" y1="176.30" x2="620.54" y2="178.00" class="c8"/>
<text x="622.74" y="183.20" class="c19" transform="rotate(-45 622.74 183.20)" class="c20">NES</text>
<line x1="628.87" y1="176.30" x2="628.87" y2="178.00" class="c8"/>
<text x="631.07" y="183.20" class="c19" transform="rotate(-45 631.07 183.20)" class="c20">SOX2</text>
<text x="641.50" y="41.50" font-size="5.2" fill="#111">Percent Expressed</text>
<circle cx="645.30" cy="49.30" r="0.35" fill="#000"/>
<text x="652.00" y="51.00" font-size="4.6" fill="#222">0</text>
<circle cx="645.30" cy="58.40" r="1.30" fill="#000"/>
<text x="652.00" y="60.10" font-size="4.6" fill="#222">20</text>
<circle cx="645.30" cy="67.20" r="2.25" fill="#000"/>
<text x="652.00" y="68.90" font-size="4.6" fill="#222">40</text>
<circle cx="645.30" cy="75.70" r="3.00" fill="#000"/>
<text x="652.00" y="77.40" font-size="4.6" fill="#222">60</text>
<text x="641.20" y="95.80" font-size="5.2" fill="#111">Average</text>
<text x="641.20" y="102.20" font-size="5.2" fill="#111">Expression</text>
<defs><linearGradient id="gB" x1="0" y1="0" x2="0" y2="1"><stop offset="0" stop-color="#d7301f"/><stop offset="0.25" stop-color="#fc8d59"/><stop offset="0.5" stop-color="#ffffbf"/><stop offset="0.75" stop-color="#abd0e6"/><stop offset="1" stop-color="#4575b4"/></linearGradient></defs>
<rect x="641.20" y="106.00" width="8.20" height="44.00" fill="url(#gB)"/>
<line x1="641.20" y1="110.60" x2="643.00" y2="110.60" stroke="#fff" stroke-width="0.4"/>
<line x1="647.40" y1="110.60" x2="649.40" y2="110.60" stroke="#fff" stroke-width="0.4"/>
<text x="651.50" y="112.30" font-size="4.6" fill="#222">2</text>
<line x1="641.20" y1="119.80" x2="643.00" y2="119.80" stroke="#fff" stroke-width="0.4"/>
<line x1="647.40" y1="119.80" x2="649.40" y2="119.80" stroke="#fff" stroke-width="0.4"/>
<text x="651.50" y="121.50" font-size="4.6" fill="#222">1</text>
<line x1="641.20" y1="129.20" x2="643.00" y2="129.20" stroke="#fff" stroke-width="0.4"/>
<line x1="647.40" y1="129.20" x2="649.40" y2="129.20" stroke="#fff" stroke-width="0.4"/>
<text x="651.50" y="130.90" font-size="4.6" fill="#222">0</text>
<line x1="641.20" y1="138.40" x2="643.00" y2="138.40" stroke="#fff" stroke-width="0.4"/>
<line x1="647.40" y1="138.40" x2="649.40" y2="138.40" stroke="#fff" stroke-width="0.4"/>
<text x="651.50" y="140.10" font-size="4.6" fill="#222">-1</text>
<line x1="641.20" y1="147.80" x2="643.00" y2="147.80" stroke="#fff" stroke-width="0.4"/>
<line x1="647.40" y1="147.80" x2="649.40" y2="147.80" stroke="#fff" stroke-width="0.4"/>
<text x="651.50" y="149.50" font-size="4.6" fill="#222">-2</text>
<text x="-0.20" y="229.30" font-size="16" font-weight="bold" stroke="#000" stroke-width="0.35">C</text>
<text x="59.40" y="242.60" font-size="8.1" text-anchor="middle" fill="#2236d4">Decreased Peaks</text>
<text x="59.40" y="252.30" font-size="8.1" text-anchor="middle" fill="#2236d4">(n=1087)</text>
<text x="127.00" y="242.60" font-size="8.1" text-anchor="middle" fill="#e8161e">Gained Peaks</text>
<text x="127.00" y="252.30" font-size="8.1" text-anchor="middle" fill="#e8161e">(n=598)</text>
<line x1="45.05" y1="260.70" x2="45.05" y2="372.90" stroke="#ebebeb" stroke-width="0.6"/>
<line x1="62.00" y1="260.70" x2="62.00" y2="372.90" stroke="#ebebeb" stroke-width="0.6"/>
<line x1="78.95" y1="260.70" x2="78.95" y2="372.90" stroke="#ebebeb" stroke-width="0.6"/>
<line x1="95.90" y1="260.70" x2="95.90" y2="372.90" stroke="#ebebeb" stroke-width="0.6"/>
<line x1="112.85" y1="260.70" x2="112.85" y2="372.90" stroke="#ebebeb" stroke-width="0.6"/>
<line x1="129.80" y1="260.70" x2="129.80" y2="372.90" stroke="#ebebeb" stroke-width="0.6"/>
<line x1="146.75" y1="260.70" x2="146.75" y2="372.90" stroke="#ebebeb" stroke-width="0.6"/>
<line x1="31.00" y1="367.60" x2="158.40" y2="367.60" stroke="#ebebeb" stroke-width="0.6"/>
<line x1="31.00" y1="350.22" x2="158.40" y2="350.22" stroke="#ebebeb" stroke-width="0.6"/>
<line x1="31.00" y1="332.83" x2="158.40" y2="332.83" stroke="#ebebeb" stroke-width="0.6"/>
<line x1="31.00" y1="315.45" x2="158.40" y2="315.45" stroke="#ebebeb" stroke-width="0.6"/>
<line x1="31.00" y1="298.06" x2="158.40" y2="298.06" stroke="#ebebeb" stroke-width="0.6"/>
<line x1="31.00" y1="280.68" x2="158.40" y2="280.68" stroke="#ebebeb" stroke-width="0.6"/>
<line x1="31.00" y1="263.29" x2="158.40" y2="263.29" stroke="#ebebeb" stroke-width="0.6"/>
<path stroke="#4169e1" stroke-width="2.0" stroke-linecap="round" d="M88.6 324.6h0M88.2 332.2h0M87.1 339.6h0M83.4 326.1h0M87.6 329.5h0M86.6 303.1h0M85.9 310.9h0M87.2 325.4h0M89.4 331.4h0M86.5 322.7h0M89.2 337.7h0M83.1 315.1h0M85.4 332.9h0M86.9 319.4h0M86.1 302.8h0M87.5 340.0h0M84.5 317.1h0M85.5 309.8h0M85.2 321.7h0M87.3 329.3h0M80.1 312.1h0M87.3 336.3h0M82.7 324.8h0M86.2 313.3h0M88.3 342.1h0M87.4 341.8h0M85.0 331.3h0M81.3 313.5h0M87.8 343.9h0M86.1 304.3h0M88.2 328.7h0M88.9 343.2h0M81.2 304.6h0M87.1 333.5h0M88.5 322.9h0M81.0 308.2h0M81.1 309.8h0M89.3 341.7h0M90.8 345.1h0M88.6 327.0h0M90.4 343.5h0M79.5 311.5h0M88.3 336.8h0M90.2 345.0h0M87.0 312.8h0M89.2 332.7h0M89.5 331.7h0M84.7 332.7h0M82.3 310.6h0M85.9 332.4h0M90.4 345.8h0M80.2 314.0h0M81.4 311.3h0M82.5 313.5h0M90.7 344.1h0M83.7 304.4h0M78.1 305.7h0M84.4 304.5h0M83.8 326.4h0M84.5 312.1h0M84.1 324.5h0M80.8 307.5h0M85.4 318.0h0M88.5 345.6h0M84.0 303.4h0M86.8 341.1h0M87.7 319.7h0M80.6 307.8h0M81.3 302.8h0M89.2 344.5h0M81.5 303.5h0M85.0 332.8h0M86.7 338.9h0M86.7 313.0h0M89.5 344.2h0M84.4 329.1h0M86.7 339.8h0M87.7 334.5h0M89.6 333.0h0M89.7 338.5h0M85.1 319.7h0M85.6 330.9h0M85.0 316.6h0M85.6 330.5h0M84.1 307.3h0M86.7 327.1h0M86.7 333.8h0M88.2 337.7h0M85.7 336.0h0M82.9 321.4h0M85.4 305.4h0M84.4 330.6h0M87.0 312.1h0M81.4 315.8h0M88.3 324.0h0M79.2 309.3h0M88.9 341.3h0M79.2 302.2h0M88.5 333.5h0M88.3 319.9h0M87.6 331.0h0M86.5 326.4h0M80.7 315.5h0M86.7 339.7h0M86.4 313.5h0M85.9 329.9h0M86.4 322.1h0M84.4 325.7h0M89.0 337.6h0M84.7 331.1h0M88.8 332.8h0M86.7 317.4h0M89.3 334.6h0M90.8 344.7h0M85.1 319.2h0M86.5 305.9h0M85.1 313.5h0M86.1 334.9h0M88.9 341.6h0M82.1 322.2h0M88.2 345.0h0M84.7 320.9h0M89.4 340.9h0M82.5 310.1h0M82.5 303.3h0M88.1 336.2h0M86.8 328.9h0M84.0 318.0h0M82.6 320.3h0M89.6 341.9h0M85.9 302.5h0M84.4 319.8h0M82.6 308.7h0M82.9 319.1h0M85.9 334.3h0M81.8 314.4h0M84.4 329.0h0M84.6 322.5h0M86.5 330.7h0M85.3 326.2h0M89.9 335.3h0M82.6 314.9h0M87.6 334.4h0M88.6 324.0h0M87.1 318.9h0M87.4 319.4h0M81.4 318.7h0M88.5 335.0h0M87.1 336.0h0M84.2 316.9h0M88.7 325.1h0M86.7 318.5h0M89.3 330.1h0M84.7 323.2h0M87.4 323.0h0M87.9 333.5h0M89.7 336.8h0M86.2 308.6h0M78.1 303.0h0M80.2 313.4h0M89.3 337.9h0M86.2 304.7h0M84.5 313.4h0M81.9 309.0h0M89.9 335.5h0M89.2 337.8h0M87.1 312.2h0M81.3 306.4h0M85.5 308.0h0M89.6 343.0h0M81.8 301.6h0M89.5 343.8h0M89.2 333.8h0M87.2 342.9h0M80.9 309.2h0M83.6 325.9h0M82.8 305.5h0M88.3 320.1h0M85.8 319.2h0M84.1 317.9h0M86.5 306.4h0M88.8 336.4h0M85.1 303.1h0M87.5 324.3h0M87.8 330.8h0M89.2 334.8h0M78.5 307.7h0M89.8 337.9h0M90.7 345.0h0M84.7 330.0h0M85.9 318.1h0M88.6 340.3h0M89.7 342.7h0M86.2 303.7h0M87.1 334.3h0M86.3 310.6h0M89.1 341.2h0M79.5 304.6h0M87.4 309.9h0M84.0 308.4h0M89.2 328.8h0M87.1 341.7h0M81.2 313.1h0M85.3 303.4h0M86.6 333.1h0M81.1 305.4h0M84.5 324.8h0M88.0 337.4h0M87.6 325.0h0M85.1 325.6h0M87.1 333.0h0M90.0 342.0h0M89.1 327.9h0M81.7 304.2h0M84.1 309.2h0M81.0 304.1h0M86.9 334.7h0M89.6 339.9h0M82.9 323.5h0M89.8 345.3h0M87.8 322.5h0M82.7 314.9h0M89.2 334.2h0M84.7 303.5h0M86.6 313.4h0M89.3 334.8h0M82.8 323.6h0M79.9 308.3h0M81.3 319.2h0M84.9 306.1h0M88.1 318.3h0M86.9 323.7h0M89.8 342.9h0M86.3 304.5h0M85.6 303.9h0M88.1 344.0h0M85.1 313.3h0M87.4 343.0h0M87.2 308.3h0M87.4 340.5h0M88.0 317.0h0M85.6 306.8h0M82.0 318.2h0M90.2 345.2h0M82.0 304.3h0M82.3 307.1h0M86.9 305.3h0M78.2 304.4h0M89.9 342.1h0M88.6 339.2h0M86.1 306.3h0M82.7 314.6h0M82.1 313.2h0M87.7 327.5h0M87.7 315.9h0M79.0 309.2h0M86.1 320.7h0M85.5 326.6h0M82.4 318.2h0M88.3 323.7h0M86.0 312.0h0M87.9 330.1h0M87.4 318.8h0M88.0 329.4h0M86.7 341.4h0M89.0 334.1h0M83.4 314.2h0M86.2 302.1h0M86.4 336.2h0M80.4 312.1h0M82.1 303.3h0M84.6 306.1h0M84.5 310.4h0M86.5 305.1h0M86.1 328.2h0M88.0 324.6h0M87.9 322.8h0M84.4 315.1h0M88.7 341.5h0M88.6 325.4h0M89.6 340.5h0M89.6 344.0h0M79.2 310.5h0M90.2 343.6h0M87.5 319.5h0M87.1 339.6h0M87.1 340.8h0M89.6 337.2h0M83.5 325.3h0M89.2 343.1h0M85.1 333.2h0M80.5 314.4h0M78.2 305.3h0M89.8 335.7h0M84.5 306.4h0M82.5 307.9h0M87.0 313.1h0M86.9 315.7h0M87.3 340.9h0M86.8 312.8h0M88.3 333.4h0M82.3 319.7h0M88.0 317.6h0M87.1 312.2h0M86.5 328.0h0M87.7 326.2h0M88.3 339.8h0M87.9 339.5h0M88.7 338.1h0M89.2 335.3h0M82.8 317.2h0M89.6 337.3h0M89.7 336.3h0M89.7 333.9h0M88.7 325.6h0M83.2 319.1h0M89.6 333.8h0M88.4 334.3h0M86.2 304.8h0M79.3 311.0h0M82.9 319.2h0M85.4 335.1h0M86.3 307.1h0M81.1 315.5h0M87.5 317.6h0M85.7 308.4h0M87.2 313.7h0M85.5 334.4h0M88.7 334.2h0M83.0 322.7h0M87.3 325.6h0M83.5 309.9h0M84.6 329.3h0M87.2 326.0h0M86.5 314.9h0M82.0 302.2h0M88.3 343.8h0M89.7 338.4h0M88.1 318.5h0M86.4 313.4h0M82.9 325.4h0M85.9 328.9h0M87.1 326.9h0M85.5 333.7h0M88.8 324.5h0M88.5 328.7h0M86.7 326.4h0M81.3 310.0h0M89.7 341.0h0M88.0 330.5h0M86.7 324.9h0M81.0 305.7h0M89.8 340.8h0M86.3 305.4h0M87.0 334.1h0M87.0 313.9h0M83.1 315.9h0M85.6 318.4h0M85.7 318.6h0M88.6 345.4h0M83.2 321.7h0M87.2 320.6h0M87.6 331.0h0M84.7 315.5h0M85.6 303.8h0M87.3 309.5h0M81.6 318.5h0M86.6 318.3h0M85.4 309.5h0M85.2 325.9h0M82.5 323.7h0M86.4 336.6h0M83.1 321.5h0M87.4 338.7h0M88.2 329.9h0M90.5 344.8h0M84.9 321.8h0M84.0 321.6h0M88.0 343.6h0M81.0 313.5h0M79.0 307.2h0M81.4 311.6h0M84.2 325.7h0M87.8 325.9h0M87.2 317.6h0M89.8 343.3h0M83.0 303.9h0M83.2 311.4h0M87.2 338.8h0M88.7 344.7h0M88.9 332.1h0M87.1 310.6h0M87.0 313.4h0M81.0 317.2h0M86.3 335.1h0M88.2 344.7h0M85.8 321.4h0M83.6 321.5h0M87.4 326.1h0M89.3 341.1h0M86.9 308.8h0M87.2 308.9h0M83.7 308.1h0M87.5 342.5h0M86.1 332.5h0M84.1 317.9h0M90.0 344.6h0M84.5 323.9h0M84.4 316.5h0M86.0 309.1h0M83.1 321.1h0M89.2 333.1h0M90.5 345.9h0M80.6 303.2h0M79.7 302.6h0M85.9 319.2h0M90.5 341.9h0M87.6 341.2h0M85.9 321.8h0M86.7 325.8h0M87.8 340.9h0M84.3 307.6h0M85.5 329.7h0M89.7 339.8h0M82.5 319.9h0M83.4 316.5h0M82.6 311.3h0M86.7 325.2h0M83.2 315.9h0M88.0 326.0h0M88.8 339.6h0M87.2 326.5h0M82.8 323.0h0M85.8 316.2h0M85.3 335.2h0M83.1 305.5h0M86.2 331.9h0M87.0 333.8h0M84.3 312.8h0M86.7 340.5h0M87.8 341.7h0M90.6 344.1h0M87.8 339.8h0M78.4 293.0h0M83.9 296.8h0M80.0 271.1h0M84.6 297.0h0M77.8 291.8h0M84.4 299.2h0M81.5 276.4h0M81.5 289.2h0M86.3 296.8h0M82.5 293.0h0M83.5 276.1h0M78.5 289.2h0M76.5 286.4h0M78.4 275.5h0M77.4 274.8h0M78.3 292.3h0M77.4 290.6h0M83.9 301.5h0M78.3 295.2h0M80.9 294.6h0M82.4 290.6h0M78.9 282.3h0M83.7 271.5h0M85.1 300.7h0M83.0 272.5h0M85.0 299.0h0M75.1 283.3h0M86.5 301.4h0M77.7 282.4h0M77.5 299.8h0M84.3 296.5h0M77.2 293.2h0M83.0 272.6h0M85.6 298.3h0M83.6 284.2h0M84.7 282.0h0M83.8 277.3h0M83.4 297.5h0M83.3 287.0h0M85.1 290.2h0M78.0 286.2h0M77.2 296.5h0M75.9 288.4h0M76.9 289.3h0M80.7 288.4h0M84.6 286.7h0M85.2 301.5h0M81.5 289.2h0M84.1 282.1h0M80.1 292.3h0M75.0 270.2h0M81.9 283.2h0M82.7 301.2h0M85.1 281.4h0M86.3 293.7h0M80.5 287.8h0M74.7 272.8h0M81.6 280.1h0M85.0 293.5h0M80.7 292.6h0M83.7 287.2h0M80.5 297.2h0M81.5 290.8h0M77.7 275.7h0M79.0 275.7h0M78.2 288.0h0M85.9 287.9h0M83.6 282.5h0M79.0 293.7h0M82.1 294.7h0M49.6 266.6h0M51.0 266.6h0M56.0 266.6h0M57.5 266.6h0M59.0 266.6h0M64.0 266.6h0M66.0 266.6h0M68.0 266.6h0M70.0 266.6h0M72.0 266.6h0M73.5 266.6h0M75.0 266.6h0M77.0 266.6h0M78.5 266.6h0M62.0 266.6h0M67.0 266.6h0"/>
<path stroke="#f20000" stroke-width="2.0" stroke-linecap="round" d="M104.0 330.1h0M104.3 315.3h0M105.0 313.1h0M104.2 328.7h0M105.0 313.8h0M103.0 331.1h0M103.4 326.4h0M101.4 327.3h0M102.5 328.2h0M101.3 322.5h0M106.0 321.8h0M102.0 328.8h0M105.6 319.0h0M101.1 334.4h0M100.3 349.7h0M100.4 348.8h0M104.9 329.7h0M104.0 319.7h0M103.9 313.3h0M104.4 332.6h0M104.4 309.6h0M100.1 343.2h0M101.3 329.5h0M101.7 325.1h0M101.5 324.2h0M105.1 325.4h0M101.1 324.5h0M103.5 330.4h0M103.1 340.4h0M100.9 325.2h0M101.4 319.3h0M101.1 349.2h0M100.2 338.9h0M101.1 345.9h0M101.9 341.7h0M101.2 346.1h0M102.1 330.4h0M101.9 344.8h0M106.6 311.7h0M101.2 334.1h0M104.8 326.0h0M100.9 348.0h0M107.3 309.8h0M101.5 332.1h0M102.6 342.3h0M101.5 345.3h0M104.3 332.0h0M102.3 319.9h0M101.5 342.6h0M106.2 319.4h0M106.1 319.6h0M101.2 333.8h0M106.0 317.3h0M105.2 327.1h0M99.8 347.1h0M103.3 334.9h0M102.6 312.5h0M103.2 331.7h0M100.5 340.1h0M103.2 320.8h0M101.9 322.0h0M104.1 333.3h0M104.2 315.3h0M101.9 339.4h0M101.0 346.2h0M101.1 343.8h0M103.8 308.7h0M101.6 321.1h0M101.6 332.3h0M100.3 336.9h0M103.8 316.4h0M101.1 334.1h0M102.9 321.5h0M106.5 311.7h0M106.8 319.2h0M103.7 334.7h0M103.1 340.5h0M101.7 313.8h0M101.8 332.2h0M105.0 329.7h0M102.2 328.0h0M100.3 341.1h0M108.6 310.5h0M107.2 314.2h0M101.4 318.1h0M104.7 321.1h0M105.2 329.4h0M106.0 323.0h0M101.8 327.6h0M103.5 332.6h0M100.5 339.2h0M100.8 327.5h0M101.5 325.2h0M106.7 316.4h0M104.6 317.8h0M100.8 340.9h0M103.5 318.9h0M101.0 330.5h0M103.3 325.4h0M102.7 318.0h0M101.6 348.8h0M101.4 328.1h0M100.8 339.4h0M102.4 346.1h0M108.3 308.6h0M101.6 314.6h0M102.0 324.7h0M101.8 309.8h0M102.6 319.9h0M103.9 318.4h0M102.4 313.7h0M100.7 333.8h0M101.5 325.5h0M102.3 331.6h0M103.4 331.4h0M104.1 319.6h0M102.6 324.3h0M101.0 324.9h0M102.6 319.7h0M106.3 317.8h0M100.2 338.5h0M104.0 313.8h0M102.5 316.1h0M100.0 345.9h0M101.1 345.7h0M101.4 341.3h0M106.1 319.3h0M101.1 348.6h0M101.7 345.1h0M104.4 311.2h0M101.9 337.3h0M100.3 335.8h0M102.7 310.4h0M101.4 326.3h0M102.2 333.5h0M101.1 326.1h0M105.4 316.2h0M101.6 338.4h0M100.1 343.6h0M104.0 332.6h0M101.5 323.5h0M106.7 318.8h0M100.8 344.6h0M103.9 318.0h0M102.5 344.2h0M102.5 321.7h0M103.1 341.9h0M106.3 320.1h0M105.9 319.4h0M108.0 311.0h0M101.9 330.2h0M100.4 336.2h0M101.3 342.0h0M106.7 310.3h0M105.3 312.2h0M106.2 319.8h0M101.5 315.3h0M101.5 329.7h0M101.7 327.5h0M103.9 335.5h0M101.3 330.9h0M101.5 336.8h0M103.0 311.4h0M100.8 349.5h0M104.6 311.1h0M100.6 336.0h0M100.2 350.2h0M99.9 350.6h0M104.5 318.0h0M102.8 333.9h0M101.6 340.4h0M102.2 331.4h0M99.9 349.2h0M101.2 345.0h0M102.3 316.7h0M102.0 334.7h0M101.5 350.8h0M101.1 350.1h0M103.5 316.1h0M102.1 341.6h0M106.3 310.9h0M101.3 346.8h0M104.2 331.2h0M103.7 319.1h0M104.6 323.9h0M103.1 322.7h0M104.7 321.2h0M102.0 313.5h0M101.4 316.1h0M103.8 322.3h0M103.6 338.2h0M101.8 333.8h0M105.8 321.3h0M101.8 331.7h0M101.2 340.9h0M102.0 324.9h0M101.2 344.5h0M100.5 344.9h0M105.7 321.1h0M101.5 338.1h0M100.6 333.2h0M103.1 313.2h0M106.1 317.7h0M102.5 310.9h0M102.7 342.4h0M102.0 334.2h0M106.3 313.2h0M104.2 335.8h0M101.8 337.0h0M102.2 327.1h0M101.1 346.5h0M102.1 346.8h0M102.9 327.6h0M101.2 343.9h0M103.9 333.7h0M104.4 310.6h0M101.7 341.6h0M103.6 308.7h0M103.2 336.3h0M107.2 309.8h0M100.5 337.3h0M105.4 314.7h0M107.1 319.1h0M103.5 315.1h0M101.8 337.4h0M103.0 330.4h0M102.3 346.7h0M100.7 330.0h0M102.1 343.3h0M100.9 349.5h0M104.3 317.8h0M101.3 328.1h0M101.9 338.2h0M104.1 336.2h0M101.7 333.6h0M101.3 322.7h0M103.2 336.7h0M103.9 331.4h0M102.3 322.1h0M102.2 325.3h0M101.5 333.2h0M101.0 341.0h0M104.4 333.2h0M101.7 341.6h0M107.0 312.6h0M101.6 349.0h0M102.5 319.4h0M104.6 332.0h0M103.5 338.3h0M101.6 325.1h0M101.5 349.3h0M102.7 339.0h0M100.0 346.4h0M103.1 310.2h0M100.6 334.4h0M101.4 336.1h0M100.0 343.8h0M100.1 346.8h0M101.9 328.3h0M101.7 318.2h0M102.5 341.4h0M101.7 320.0h0M101.4 346.7h0M102.4 345.3h0M100.7 337.8h0M100.3 340.8h0M101.7 325.8h0M104.7 314.4h0M100.2 345.8h0M101.1 331.6h0M101.8 316.0h0M101.9 337.3h0M107.2 306.1h0M106.3 305.1h0M103.5 303.6h0M101.7 305.1h0M107.8 307.0h0M106.3 305.7h0M105.5 307.5h0M105.0 305.3h0M101.5 305.9h0M102.8 305.8h0M106.7 307.4h0M104.2 306.0h0M107.2 300.6h0M107.9 300.8h0M103.2 307.3h0M106.4 308.2h0M103.8 302.7h0M106.3 304.9h0M103.0 302.4h0M103.8 301.1h0M102.5 303.0h0M108.3 307.5h0M106.7 302.1h0M101.3 308.1h0M102.6 307.1h0M104.0 305.9h0M103.5 308.1h0M102.4 302.9h0M105.6 301.2h0M103.0 302.3h0M105.5 266.6h0M110.0 266.6h0M117.6 266.6h0M140.0 266.6h0M113.5 275.5h0M114.5 278.0h0M118.0 281.0h0M113.0 285.0h0M118.0 287.5h0M110.5 290.0h0M106.0 290.0h0M111.0 292.7h0M105.0 298.0h0M117.0 296.0h0M103.0 302.0h0M107.0 300.0h0M112.0 288.0h0M118.5 290.0h0"/>
<path stroke="#000" stroke-width="2.0" stroke-linecap="round" d="M90.8 346.2h0M92.5 363.8h0M92.7 365.1h0M92.5 363.0h0M92.1 359.4h0M92.0 358.1h0M89.8 347.2h0M91.4 355.7h0M92.6 363.7h0M90.2 346.8h0M90.8 351.5h0M91.7 357.6h0M92.6 365.0h0M92.4 363.6h0M92.8 366.1h0M91.9 356.5h0M92.4 363.7h0M92.1 359.1h0M92.3 362.3h0M90.7 349.2h0M91.7 356.0h0M91.0 352.2h0M93.0 367.3h0M92.0 360.8h0M92.6 363.5h0M91.6 353.8h0M93.0 367.6h0M92.2 360.9h0M92.7 365.9h0M91.0 350.9h0M92.4 361.9h0M92.7 366.1h0M91.0 350.3h0M91.3 356.6h0M91.0 352.6h0M92.8 365.8h0M90.5 350.5h0M91.4 353.0h0M91.6 354.6h0M92.2 362.0h0M91.2 355.8h0M92.1 359.2h0M91.5 357.9h0M92.2 358.9h0M91.1 351.0h0M90.8 351.7h0M90.9 350.5h0M91.5 358.9h0M93.0 367.3h0M91.6 356.2h0M90.2 346.1h0M92.1 360.6h0M91.2 351.2h0M92.0 359.6h0M92.5 362.8h0M92.3 362.8h0M91.5 357.4h0M90.5 353.1h0M91.7 356.9h0M91.5 354.7h0M92.9 366.4h0M92.3 363.4h0M92.2 360.7h0M92.6 365.0h0M91.2 349.7h0M91.3 357.7h0M92.4 361.7h0M92.2 362.8h0M92.1 362.1h0M92.3 363.2h0M91.2 349.9h0M92.2 360.4h0M92.6 364.3h0M90.7 347.0h0M91.4 351.1h0M91.4 355.1h0M92.6 364.0h0M92.3 362.9h0M91.2 350.7h0M92.1 362.0h0M91.0 349.0h0M90.6 348.2h0M91.7 357.2h0M90.0 350.2h0M90.2 351.5h0M90.6 347.2h0M93.0 367.5h0M91.3 354.3h0M93.0 367.3h0M92.3 361.7h0M92.7 364.8h0M90.8 347.5h0M92.5 364.7h0M91.8 358.4h0M91.5 352.4h0M92.0 358.8h0M91.9 360.7h0M92.5 362.7h0M91.9 357.9h0M92.6 363.6h0M92.9 366.4h0M90.6 353.7h0M91.1 353.7h0M91.8 358.2h0M90.5 352.3h0M93.0 367.4h0M91.9 358.3h0M89.6 346.7h0M93.0 367.5h0M91.2 349.4h0M91.9 360.9h0M89.8 348.7h0M91.2 351.1h0M91.1 348.7h0M90.0 347.9h0M91.8 356.5h0M90.7 353.9h0M91.7 354.9h0M91.3 351.8h0M92.5 363.5h0M91.0 349.7h0M92.7 365.5h0M92.3 360.4h0M92.6 365.0h0M90.4 352.2h0M92.1 359.1h0M92.3 360.2h0M90.5 347.7h0M91.3 352.1h0M91.0 347.3h0M91.5 352.6h0M90.8 353.0h0M89.7 348.1h0M91.2 352.8h0M91.8 357.9h0M90.6 353.5h0M92.1 358.2h0M92.5 363.6h0M90.9 355.3h0M91.9 356.4h0M90.8 349.1h0M92.6 364.3h0M91.5 354.8h0M92.8 365.3h0M90.4 350.3h0M90.7 346.7h0M93.0 367.4h0M91.0 352.2h0M90.5 346.5h0M91.0 354.6h0M91.4 351.3h0M92.7 365.4h0M89.2 346.1h0M91.2 350.1h0M92.2 361.2h0M91.1 352.1h0M91.2 351.3h0M91.3 357.5h0M92.7 364.9h0M92.2 359.7h0M90.3 350.4h0M91.3 353.2h0M92.0 358.3h0M90.7 350.8h0M92.9 366.8h0M90.8 347.0h0M92.6 363.4h0M91.4 356.8h0M89.5 347.3h0M90.2 347.0h0M92.9 367.2h0M92.9 366.6h0M92.2 361.7h0M91.9 358.0h0M92.1 360.4h0M91.7 354.6h0M91.3 353.2h0M92.1 359.5h0M92.6 364.9h0M92.8 366.1h0M92.0 359.1h0M92.2 361.5h0M90.8 354.8h0M92.5 363.3h0M91.5 353.8h0M92.7 365.2h0M91.2 356.9h0M91.3 356.5h0M92.0 360.0h0M91.8 360.7h0M91.0 346.9h0M92.8 365.4h0M92.1 358.9h0M93.0 367.4h0M92.2 360.6h0M91.0 352.8h0M91.5 358.7h0M91.3 351.5h0M92.1 361.3h0M92.9 366.8h0M90.3 351.2h0M92.6 364.7h0M92.4 363.7h0M92.9 366.8h0M91.2 354.4h0M90.7 347.2h0M92.5 364.4h0M92.9 367.2h0M91.5 352.7h0M91.5 352.3h0M90.5 350.1h0M91.1 350.4h0M90.4 351.8h0M91.0 353.6h0M92.1 362.5h0M92.1 358.0h0M91.8 360.6h0M92.8 365.7h0M92.4 363.3h0M92.3 363.2h0M92.2 360.5h0M92.3 360.2h0M92.3 361.0h0M90.4 346.5h0M92.8 366.2h0M90.2 348.9h0M92.7 365.6h0M93.0 367.5h0M93.0 367.3h0M91.4 355.4h0M90.1 350.4h0M91.0 348.9h0M92.0 360.3h0M92.2 362.3h0M91.5 354.0h0M91.1 352.2h0M91.3 357.3h0M91.6 356.4h0M91.9 359.3h0M91.6 354.9h0M91.9 357.4h0M91.1 351.2h0M91.8 360.9h0M92.2 360.9h0M91.2 354.6h0M92.2 360.5h0M91.7 358.2h0M90.1 346.9h0M92.2 361.1h0M91.3 355.5h0M92.7 365.1h0M91.4 357.0h0M92.1 360.9h0M91.0 353.7h0M91.6 359.5h0M90.8 349.5h0M92.9 366.7h0M98.8 365.2h0M98.8 364.7h0M98.6 367.2h0M99.2 356.9h0M98.9 364.4h0M98.7 365.3h0M98.7 366.8h0M99.1 358.6h0M98.6 367.3h0M99.5 360.4h0M99.2 362.4h0M99.0 360.0h0M98.9 364.6h0M100.5 352.6h0M98.7 366.7h0M99.7 357.8h0M99.5 359.0h0M99.0 364.0h0M98.6 367.5h0M98.9 365.1h0M99.8 355.8h0M100.2 352.5h0M99.2 362.4h0M99.3 356.4h0M99.7 356.9h0M99.1 358.8h0M99.2 361.3h0M98.9 365.6h0M99.4 352.6h0M99.3 355.7h0M98.9 362.7h0M99.5 360.5h0M100.0 352.4h0M99.3 354.5h0M99.7 352.5h0M98.8 364.3h0M99.0 361.4h0M99.5 352.4h0M99.4 353.5h0M98.9 365.5h0M100.2 354.6h0M99.3 359.3h0M99.3 361.9h0M99.3 354.5h0M99.6 359.0h0M99.8 351.9h0M99.2 358.4h0M99.4 357.7h0M99.4 360.9h0M99.0 364.2h0M99.6 352.4h0M99.0 361.8h0M99.0 359.3h0M99.5 356.6h0M99.7 357.0h0M98.9 362.9h0M99.6 351.4h0M99.3 355.6h0M99.8 356.6h0M98.6 367.3h0M99.3 360.5h0M99.0 364.0h0M99.2 356.8h0M100.2 352.8h0M98.7 365.8h0M98.7 366.6h0M98.8 364.9h0M99.6 351.1h0M99.4 358.9h0M99.6 353.4h0M98.9 364.4h0M99.7 352.9h0M98.7 366.4h0M99.2 360.5h0M99.9 351.7h0M99.0 360.3h0M99.1 362.4h0M99.8 355.7h0M99.7 354.5h0M98.7 366.9h0M99.1 358.2h0M98.9 363.9h0M99.0 361.1h0M99.3 358.5h0M99.4 356.7h0M99.4 359.0h0M98.6 367.0h0M99.0 361.8h0M99.3 357.5h0M99.2 358.4h0M99.3 356.5h0M98.6 367.4h0M100.1 351.9h0M99.0 360.4h0M99.0 361.7h0M98.8 363.9h0M99.3 357.6h0M99.3 361.7h0M99.0 364.4h0M99.4 352.9h0M99.7 353.2h0M99.5 353.2h0M99.4 360.3h0M99.4 356.3h0M99.4 353.6h0M99.5 358.4h0M99.0 362.1h0M100.1 355.3h0"/>
<line x1="91.40" y1="260.70" x2="91.40" y2="372.90" stroke="#222" stroke-width="0.7" stroke-dasharray="3,1.6"/>
<line x1="100.40" y1="260.70" x2="100.40" y2="372.90" stroke="#222" stroke-width="0.7" stroke-dasharray="3,1.6"/>
<line x1="31.00" y1="366.30" x2="158.40" y2="366.30" stroke="#777" stroke-width="0.8" stroke-dasharray="3.6,2"/>
<line x1="31.00" y1="260.70" x2="31.00" y2="372.90" stroke="#444" stroke-width="0.9"/>
<line x1="31.00" y1="372.90" x2="158.40" y2="372.90" stroke="#444" stroke-width="0.9"/>
<line x1="29.20" y1="367.60" x2="31.00" y2="367.60" stroke="#444" stroke-width="0.6"/>
<text x="28.20" y="370.00" font-size="6.7" text-anchor="end" fill="#555">0</text>
<line x1="29.20" y1="332.83" x2="31.00" y2="332.83" stroke="#444" stroke-width="0.6"/>
<text x="28.20" y="335.23" font-size="6.7" text-anchor="end" fill="#555">100</text>
<line x1="29.20" y1="298.06" x2="31.00" y2="298.06" stroke="#444" stroke-width="0.6"/>
<text x="28.20" y="300.46" font-size="6.7" text-anchor="end" fill="#555">200</text>
<line x1="29.20" y1="263.29" x2="31.00" y2="263.29" stroke="#444" stroke-width="0.6"/>
<text x="28.20" y="265.69" font-size="6.7" text-anchor="end" fill="#555">300</text>
<line x1="62.00" y1="372.90" x2="62.00" y2="374.70" stroke="#444" stroke-width="0.6"/>
<text x="62.00" y="382.50" font-size="6.7" text-anchor="middle" fill="#555">−4</text>
<line x1="95.90" y1="372.90" x2="95.90" y2="374.70" stroke="#444" stroke-width="0.6"/>
<text x="95.90" y="382.50" font-size="6.7" text-anchor="middle" fill="#555">0</text>
<line x1="129.80" y1="372.90" x2="129.80" y2="374.70" stroke="#444" stroke-width="0.6"/>
<text x="129.80" y="382.50" font-size="6.7" text-anchor="middle" fill="#555">4</text>
<text x="94.60" y="392.20" font-size="7.2" text-anchor="middle" fill="#111">Average Log2(Fold change)</text>
<text x="10.00" y="316.00" font-size="7.2" text-anchor="middle" fill="#111" transform="rotate(-90 10.00 316.00)">- Log10(padj)</text>
<text x="91.10" y="406.20" font-size="8.1" text-anchor="middle" fill="#111">Primary versus Recurrence</text>
<text x="210.20" y="229.60" font-size="16" font-weight="bold" stroke="#000" stroke-width="0.35">D</text>
<text x="434.20" y="229.60" font-size="16" font-weight="bold" stroke="#000" stroke-width="0.35">E</text>
<text x="351.40" y="249.10" font-size="12.1" text-anchor="middle" fill="#111">Gained Peaks</text>
<text x="588.20" y="249.80" font-size="12.1" text-anchor="middle" fill="#111">Decreased Peaks</text>
<text x="174.00" y="313.50" font-size="6.4" text-anchor="middle" fill="#111" font-weight="bold" transform="rotate(-90 174.00 313.50)">GO Biological Process</text>
<rect x="355.30" y="262.00" width="38.00" height="5.40" fill="#8db1df"/>
<line x1="353.30" y1="264.70" x2="355.30" y2="264.70" class="c22"/>
<text x="352.30" y="266.70" class="c30">RNA export from nucleus</text>
<rect x="355.30" y="270.18" width="38.40" height="5.40" fill="#8db1df"/>
<line x1="353.30" y1="272.88" x2="355.30" y2="272.88" class="c22"/>
<text x="352.30" y="274.88" class="c30">regulation of generation of precursor metabolites and energy</text>
<rect x="355.30" y="278.36" width="37.70" height="5.40" fill="#8db1df"/>
<line x1="353.30" y1="281.06" x2="355.30" y2="281.06" class="c22"/>
<text x="352.30" y="283.06" class="c30">posttranscriptional regulation of gene expression</text>
<rect x="355.30" y="286.54" width="37.70" height="5.40" fill="#8db1df"/>
<line x1="353.30" y1="289.24" x2="355.30" y2="289.24" class="c22"/>
<text x="352.30" y="291.24" class="c30">regulation of energy homeostasis</text>
<rect x="355.30" y="294.72" width="41.60" height="5.40" fill="#e0156f"/>
<rect x="355.30" y="294.72" width="41.60" height="5.4" fill="url(#dotsP)"/>
<line x1="353.30" y1="297.42" x2="355.30" y2="297.42" class="c22"/>
<text x="352.30" y="299.42" class="c30">multi-organism metabolic process</text>
<rect x="355.30" y="302.90" width="41.90" height="5.40" fill="#8db1df"/>
<line x1="353.30" y1="305.60" x2="355.30" y2="305.60" class="c22"/>
<text x="352.30" y="307.60" class="c30">ribonucleoprotein complex localization</text>
<rect x="355.30" y="311.08" width="42.70" height="5.40" fill="#8db1df"/>
<line x1="353.30" y1="313.78" x2="355.30" y2="313.78" class="c22"/>
<text x="352.30" y="315.78" class="c30">ribonucleoprotein complex export from nucleus</text>
<rect x="355.30" y="319.26" width="41.60" height="5.40" fill="#e0156f"/>
<rect x="355.30" y="319.26" width="41.60" height="5.4" fill="url(#dotsP)"/>
<line x1="353.30" y1="321.96" x2="355.30" y2="321.96" class="c22"/>
<text x="352.30" y="323.96" class="c30">methylglyoxal catabolic to D-lactate via glutathione</text>
<rect x="355.30" y="327.44" width="47.50" height="5.40" fill="#e0156f"/>
<rect x="355.30" y="327.44" width="47.50" height="5.4" fill="url(#dotsP)"/>
<line x1="353.30" y1="330.14" x2="355.30" y2="330.14" class="c22"/>
<text x="352.30" y="332.14" class="c30">negative regulation of gene expression, epigenetic</text>
<rect x="355.30" y="335.62" width="47.50" height="5.40" fill="#8db1df"/>
<line x1="353.30" y1="338.32" x2="355.30" y2="338.32" class="c22"/>
<text x="352.30" y="340.32" class="c30">regulation of translation</text>
<rect x="355.30" y="343.80" width="46.70" height="5.40" fill="#e0156f"/>
<rect x="355.30" y="343.80" width="46.70" height="5.4" fill="url(#dotsP)"/>
<line x1="353.30" y1="346.50" x2="355.30" y2="346.50" class="c22"/>
<text x="352.30" y="348.50" class="c30">regulation of cellular amide metabolic process</text>
<rect x="355.30" y="351.98" width="58.00" height="5.40" fill="#8db1df"/>
<line x1="353.30" y1="354.68" x2="355.30" y2="354.68" class="c22"/>
<text x="352.30" y="356.68" class="c30">chromatin silencing</text>
<rect x="355.30" y="360.16" width="65.90" height="5.40" fill="#8db1df"/>
<line x1="353.30" y1="362.86" x2="355.30" y2="362.86" class="c22"/>
<text x="352.30" y="364.86" class="c30">heterochromatin assembly</text>
<line x1="355.30" y1="259.40" x2="355.30" y2="368.00" stroke="#111" stroke-width="0.8"/>
<line x1="355.30" y1="368.00" x2="433.70" y2="368.00" stroke="#111" stroke-width="0.8"/>
<line x1="355.30" y1="368.00" x2="355.30" y2="370.20" stroke="#111" stroke-width="0.7"/>
<text x="355.30" y="377.80" font-size="5.0" text-anchor="middle" fill="#111" font-weight="bold">0.1</text>
<line x1="367.10" y1="368.00" x2="367.10" y2="369.20" stroke="#111" stroke-width="0.5"/>
<line x1="374.00" y1="368.00" x2="374.00" y2="369.20" stroke="#111" stroke-width="0.5"/>
<line x1="378.90" y1="368.00" x2="378.90" y2="369.20" stroke="#111" stroke-width="0.5"/>
<line x1="382.70" y1="368.00" x2="382.70" y2="369.20" stroke="#111" stroke-width="0.5"/>
<line x1="385.80" y1="368.00" x2="385.80" y2="369.20" stroke="#111" stroke-width="0.5"/>
<line x1="388.43" y1="368.00" x2="388.43" y2="369.20" stroke="#111" stroke-width="0.5"/>
<line x1="390.70" y1="368.00" x2="390.70" y2="369.20" stroke="#111" stroke-width="0.5"/>
<line x1="392.71" y1="368.00" x2="392.71" y2="369.20" stroke="#111" stroke-width="0.5"/>
<line x1="394.50" y1="368.00" x2="394.50" y2="370.20" stroke="#111" stroke-width="0.7"/>
<text x="394.50" y="377.80" font-size="5.0" text-anchor="middle" fill="#111" font-weight="bold">1</text>
<line x1="406.30" y1="368.00" x2="406.30" y2="369.20" stroke="#111" stroke-width="0.5"/>
<line x1="413.20" y1="368.00" x2="413.20" y2="369.20" stroke="#111" stroke-width="0.5"/>
<line x1="418.10" y1="368.00" x2="418.10" y2="369.20" stroke="#111" stroke-width="0.5"/>
<line x1="421.90" y1="368.00" x2="421.90" y2="369.20" stroke="#111" stroke-width="0.5"/>
<line x1="425.00" y1="368.00" x2="425.00" y2="369.20" stroke="#111" stroke-width="0.5"/>
<line x1="427.63" y1="368.00" x2="427.63" y2="369.20" stroke="#111" stroke-width="0.5"/>
<line x1="429.90" y1="368.00" x2="429.90" y2="369.20" stroke="#111" stroke-width="0.5"/>
<line x1="431.91" y1="368.00" x2="431.91" y2="369.20" stroke="#111" stroke-width="0.5"/>
<line x1="433.70" y1="368.00" x2="433.70" y2="370.20" stroke="#111" stroke-width="0.7"/>
<text x="433.70" y="377.80" font-size="5.0" text-anchor="middle" fill="#111" font-weight="bold">10</text>
<text x="394.80" y="388.00" font-size="6.3" text-anchor="middle" fill="#111" font-weight="bold">-Log10 (Binomial FDR Q)</text>
<rect x="603.30" y="260.25" width="31.80" height="5.10" fill="#4a25a0"/>
<rect x="603.30" y="260.25" width="31.80" height="5.1" fill="url(#dotsE)"/>
<line x1="601.30" y1="262.80" x2="603.30" y2="262.80" class="c22"/>
<text x="600.30" y="264.80" class="c29">negative regulation of cell division</text>
<rect x="603.30" y="267.99" width="33.50" height="5.10" fill="#4a25a0"/>
<rect x="603.30" y="267.99" width="33.50" height="5.1" fill="url(#dotsE)"/>
<line x1="601.30" y1="270.54" x2="603.30" y2="270.54" class="c22"/>
<text x="600.30" y="272.54" class="c29">protein localization to ciliary membrane</text>
<rect x="603.30" y="275.73" width="33.50" height="5.10" fill="#4a25a0"/>
<rect x="603.30" y="275.73" width="33.50" height="5.1" fill="url(#dotsE)"/>
<line x1="601.30" y1="278.28" x2="603.30" y2="278.28" class="c22"/>
<text x="600.30" y="280.28" class="c29">retina homeostasis</text>
<rect x="603.30" y="283.47" width="35.40" height="5.10" fill="#4a25a0"/>
<rect x="603.30" y="283.47" width="35.40" height="5.1" fill="url(#dotsE)"/>
<line x1="601.30" y1="286.02" x2="603.30" y2="286.02" class="c22"/>
<text x="600.30" y="288.02" class="c29">cardiac vascular smooth muscle cell differentiation</text>
<rect x="603.30" y="291.21" width="36.10" height="5.10" fill="#4a25a0"/>
<rect x="603.30" y="291.21" width="36.10" height="5.1" fill="url(#dotsE)"/>
<line x1="601.30" y1="293.76" x2="603.30" y2="293.76" class="c22"/>
<text x="600.30" y="295.76" class="c29">positive regulation of metanephros development</text>
<rect x="603.30" y="298.95" width="38.00" height="5.10" fill="#4a25a0"/>
<rect x="603.30" y="298.95" width="38.00" height="5.1" fill="url(#dotsE)"/>
<line x1="601.30" y1="301.50" x2="603.30" y2="301.50" class="c22"/>
<text x="600.30" y="303.50" class="c29">receptor localization to non-motile cilium</text>
<rect x="603.30" y="306.69" width="44.90" height="5.10" fill="#4a25a0"/>
<rect x="603.30" y="306.69" width="44.90" height="5.1" fill="url(#dotsE)"/>
<line x1="601.30" y1="309.24" x2="603.30" y2="309.24" class="c22"/>
<text x="600.30" y="311.24" class="c29">positive regulation of wound healing, spreading of epidermal cells</text>
<rect x="603.30" y="314.43" width="45.60" height="5.10" fill="#4a25a0"/>
<rect x="603.30" y="314.43" width="45.60" height="5.1" fill="url(#dotsE)"/>
<line x1="601.30" y1="316.98" x2="603.30" y2="316.98" class="c22"/>
<text x="600.30" y="318.98" class="c29">regulation of lamellipodium organization</text>
<rect x="603.30" y="322.17" width="45.60" height="5.10" fill="#4a25a0"/>
<rect x="603.30" y="322.17" width="45.60" height="5.1" fill="url(#dotsE)"/>
<line x1="601.30" y1="324.72" x2="603.30" y2="324.72" class="c22"/>
<text x="600.30" y="326.72" class="c29">macromolecular complex disassembly</text>
<rect x="603.30" y="329.91" width="52.10" height="5.10" fill="#4a25a0"/>
<rect x="603.30" y="329.91" width="52.10" height="5.1" fill="url(#dotsE)"/>
<line x1="601.30" y1="332.46" x2="603.30" y2="332.46" class="c22"/>
<text x="600.30" y="334.46" class="c29">positive regulation of cell proliferation</text>
<rect x="603.30" y="337.65" width="53.20" height="5.10" fill="#4a25a0"/>
<rect x="603.30" y="337.65" width="53.20" height="5.1" fill="url(#dotsE)"/>
<line x1="601.30" y1="340.20" x2="603.30" y2="340.20" class="c22"/>
<text x="600.30" y="342.20" class="c29">negative regulation of monocyte differentiation</text>
<rect x="603.30" y="345.39" width="55.50" height="5.10" fill="#4a25a0"/>
<rect x="603.30" y="345.39" width="55.50" height="5.1" fill="url(#dotsE)"/>
<line x1="601.30" y1="347.94" x2="603.30" y2="347.94" class="c22"/>
<text x="600.30" y="349.94" class="c29">oxygen transport</text>
<rect x="603.30" y="353.13" width="57.00" height="5.10" fill="#4a25a0"/>
<rect x="603.30" y="353.13" width="57.00" height="5.1" fill="url(#dotsE)"/>
<line x1="601.30" y1="355.68" x2="603.30" y2="355.68" class="c22"/>
<text x="600.30" y="357.68" class="c29">fibroblast apoptotic process</text>
<rect x="603.30" y="360.87" width="66.50" height="5.10" fill="#4a25a0"/>
<rect x="603.30" y="360.87" width="66.50" height="5.1" fill="url(#dotsE)"/>
<line x1="601.30" y1="363.42" x2="603.30" y2="363.42" class="c22"/>
<text x="600.30" y="365.42" class="c29">positive regulation of mesenchymal cell proliferation</text>
<line x1="603.30" y1="257.50" x2="603.30" y2="369.60" stroke="#111" stroke-width="0.8"/>
<line x1="603.30" y1="369.60" x2="681.40" y2="369.60" stroke="#111" stroke-width="0.8"/>
<line x1="603.30" y1="369.60" x2="603.30" y2="371.80" stroke="#111" stroke-width="0.7"/>
<text x="603.30" y="379.40" font-size="5.0" text-anchor="middle" fill="#111" font-weight="bold">1</text>
<line x1="626.81" y1="369.60" x2="626.81" y2="370.80" stroke="#111" stroke-width="0.5"/>
<line x1="640.56" y1="369.60" x2="640.56" y2="370.80" stroke="#111" stroke-width="0.5"/>
<line x1="650.32" y1="369.60" x2="650.32" y2="370.80" stroke="#111" stroke-width="0.5"/>
<line x1="657.89" y1="369.60" x2="657.89" y2="370.80" stroke="#111" stroke-width="0.5"/>
<line x1="664.07" y1="369.60" x2="664.07" y2="370.80" stroke="#111" stroke-width="0.5"/>
<line x1="669.30" y1="369.60" x2="669.30" y2="370.80" stroke="#111" stroke-width="0.5"/>
<line x1="673.83" y1="369.60" x2="673.83" y2="370.80" stroke="#111" stroke-width="0.5"/>
<line x1="677.83" y1="369.60" x2="677.83" y2="370.80" stroke="#111" stroke-width="0.5"/>
<line x1="681.40" y1="369.60" x2="681.40" y2="371.80" stroke="#111" stroke-width="0.7"/>
<text x="681.40" y="379.40" font-size="5.0" text-anchor="middle" fill="#111" font-weight="bold">10</text>
<text x="639.50" y="388.20" font-size="6.3" text-anchor="middle" fill="#111" font-weight="bold">-Log10 (Binomial FDR Q)</text>
<defs><pattern id="dotsE" width="2" height="2" patternUnits="userSpaceOnUse"><rect x="0" y="0" width="0.8" height="0.8" fill="#8a70d0" opacity="0.6"/></pattern><pattern id="dotsP" width="2" height="2" patternUnits="userSpaceOnUse"><rect x="0" y="0" width="0.8" height="0.8" fill="#f070a8" opacity="0.5"/></pattern></defs>
<defs><linearGradient id="gF" x1="0" y1="0" x2="0" y2="1"><stop offset="0" stop-color="#2a1af0"/><stop offset="1" stop-color="#e8e4fb"/></linearGradient></defs>
<text x="-0.60" y="436.60" font-size="16" font-weight="bold" stroke="#000" stroke-width="0.35">F</text>
<text x="30.60" y="472.40" font-size="8.2" text-anchor="middle" font-weight="bold" transform="rotate(-90 30.60 472.40)">Primary</text>
<text x="30.60" y="567.30" font-size="8.1" text-anchor="middle" font-weight="bold" transform="rotate(-90 30.60 567.30)">Recurrent</text>
<text x="37.90" y="474.25" font-size="3.3" text-anchor="middle" fill="#333" transform="rotate(-90 37.90 474.25)" textLength="57.9" lengthAdjust="spacingAndGlyphs">P-UBC P-Pho CNP PE Glut GABA-int GABA</text>
<text x="43.80" y="446.00" class="c25">140</text>
<text x="44.60" y="451.80" class="c6" transform="rotate(-90 44.60 451.80)">0-140</text>
<text x="44.60" y="459.90" class="c6" transform="rotate(-90 44.60 459.90)">0-140</text>
<text x="44.60" y="468.50" class="c6" transform="rotate(-90 44.60 468.50)">0-140</text>
<text x="44.60" y="476.80" class="c6" transform="rotate(-90 44.60 476.80)">0-140</text>
<text x="44.60" y="485.00" class="c6" transform="rotate(-90 44.60 485.00)">0-140</text>
<text x="44.60" y="493.50" class="c6" transform="rotate(-90 44.60 493.50)">0-140</text>
<text x="44.60" y="501.70" class="c6" transform="rotate(-90 44.60 501.70)">0-140</text>
<text x="43.80" y="504.00" class="c25">0</text>
<line x1="47.00" y1="453.30" x2="154.30" y2="453.30" class="c7"/>
<path fill="#f25c5c" opacity="0.7" d="M66.8 453.3h0.5v-0.6h-0.5zM114.6 453.3h0.5v-0.8h-0.5zM57.1 453.3h0.5v-0.5h-0.5zM56.7 453.3h0.5v-0.8h-0.5zM121.4 453.3h0.5v-0.3h-0.5zM152.4 453.3h0.5v-0.9h-0.5zM117.2 453.3h0.5v-0.7h-0.5zM63.9 453.3h0.5v-0.3h-0.5zM103.7 453.3h0.5v-0.3h-0.5zM67.4 453.3h0.5v-0.4h-0.5z"/>
<path fill="#f25c5c" stroke="#f25c5c" stroke-width="0.25" d="M78.5 453.3L79.4 452.0L80.0 449.4L80.3 447.3L80.6 450.0L81.2 451.8L82.3 453.3ZM79.8 453.3L80.2 451.1L80.6 453.3ZM81.0 453.3L81.4 451.3L81.8 453.3ZM79.9 453.3L80.3 451.0L80.7 453.3Z"/>
<line x1="47.00" y1="461.40" x2="154.30" y2="461.40" class="c7"/>
<path fill="#c8900a" opacity="0.7" d="M100.6 461.4h0.5v-0.7h-0.5zM96.1 461.4h0.5v-0.5h-0.5zM154.0 461.4h0.5v-0.9h-0.5zM137.2 461.4h0.5v-0.7h-0.5zM80.8 461.4h0.5v-0.4h-0.5zM78.0 461.4h0.5v-0.3h-0.5zM129.2 461.4h0.5v-0.5h-0.5zM137.8 461.4h0.5v-0.5h-0.5zM149.8 461.4h0.5v-0.8h-0.5zM47.1 461.4h0.5v-0.4h-0.5zM144.7 461.4h0.5v-0.6h-0.5zM152.2 461.4h0.5v-0.5h-0.5zM54.8 461.4h0.5v-0.7h-0.5zM130.5 461.4h0.5v-0.5h-0.5z"/>
<path fill="#c8900a" stroke="#c8900a" stroke-width="0.25" d="M78.5 461.4L79.4 460.1L80.0 457.5L80.3 455.4L80.6 458.1L81.2 459.9L82.3 461.4ZM78.6 461.4L79.0 459.4L79.4 461.4ZM79.7 461.4L80.1 458.7L80.5 461.4ZM80.0 461.4L80.4 459.0L80.8 461.4ZM145.0 461.4L146.0 461.2L146.7 460.8L147.0 460.4L147.3 460.8L148.0 461.1L149.2 461.4Z"/>
<line x1="47.00" y1="470.00" x2="154.30" y2="470.00" class="c7"/>
<path fill="#4caf14" opacity="0.7" d="M57.8 470.0h0.5v-0.3h-0.5zM132.5 470.0h0.5v-0.4h-0.5zM107.0 470.0h0.5v-0.6h-0.5zM67.5 470.0h0.5v-0.7h-0.5zM61.1 470.0h0.5v-0.7h-0.5zM59.5 470.0h0.5v-0.6h-0.5zM69.8 470.0h0.5v-0.5h-0.5zM151.2 470.0h0.5v-0.8h-0.5zM79.6 470.0h0.5v-0.8h-0.5zM69.6 470.0h0.5v-0.5h-0.5zM138.7 470.0h0.5v-0.7h-0.5zM57.8 470.0h0.5v-0.9h-0.5zM69.9 470.0h0.5v-0.5h-0.5zM129.9 470.0h0.5v-0.5h-0.5zM78.8 470.0h0.5v-0.3h-0.5zM56.7 470.0h0.5v-0.6h-0.5zM73.1 470.0h0.5v-0.7h-0.5zM86.9 470.0h0.5v-0.6h-0.5zM149.9 470.0h0.5v-0.6h-0.5zM108.7 470.0h0.5v-0.8h-0.5z"/>
<path fill="#4caf14" stroke="#4caf14" stroke-width="0.25" d="M78.5 470.0L79.4 468.8L80.0 466.4L80.3 464.5L80.6 467.0L81.2 468.6L82.3 470.0ZM78.8 470.0L79.2 468.4L79.6 470.0ZM81.2 470.0L81.6 467.6L82.0 470.0ZM78.9 470.0L79.3 468.5L79.7 470.0ZM98.0 470.0L99.5 469.8L100.5 469.4L101.0 469.0L101.5 469.4L102.5 469.8L104.3 470.0Z"/>
<line x1="47.00" y1="478.30" x2="154.30" y2="478.30" class="c7"/>
<path fill="#16b08e" opacity="0.7" d="M126.3 478.3h0.5v-0.9h-0.5zM68.1 478.3h0.5v-0.9h-0.5zM141.7 478.3h0.5v-0.7h-0.5zM92.2 478.3h0.5v-0.4h-0.5zM51.2 478.3h0.5v-0.9h-0.5zM72.6 478.3h0.5v-0.7h-0.5zM74.6 478.3h0.5v-0.8h-0.5zM111.0 478.3h0.5v-0.5h-0.5zM65.8 478.3h0.5v-0.7h-0.5zM54.4 478.3h0.5v-0.4h-0.5zM107.0 478.3h0.5v-0.8h-0.5zM112.9 478.3h0.5v-0.5h-0.5zM145.4 478.3h0.5v-0.4h-0.5zM48.8 478.3h0.5v-0.5h-0.5zM94.8 478.3h0.5v-0.3h-0.5zM65.9 478.3h0.5v-0.5h-0.5zM108.4 478.3h0.5v-0.4h-0.5zM85.9 478.3h0.5v-0.8h-0.5zM152.2 478.3h0.5v-0.7h-0.5zM121.2 478.3h0.5v-0.7h-0.5zM62.1 478.3h0.5v-0.3h-0.5zM48.9 478.3h0.5v-0.8h-0.5zM122.2 478.3h0.5v-0.9h-0.5zM49.3 478.3h0.5v-0.7h-0.5zM98.7 478.3h0.5v-0.7h-0.5zM81.2 478.3h0.5v-0.9h-0.5z"/>
<path fill="#16b08e" stroke="#16b08e" stroke-width="0.25" d="M78.5 478.3L79.4 476.9L80.0 474.1L80.3 471.8L80.6 474.7L81.2 476.7L82.3 478.3ZM79.0 478.3L79.4 476.7L79.8 478.3ZM81.0 478.3L81.4 475.4L81.8 478.3ZM79.2 478.3L79.6 476.6L80.0 478.3Z"/>
<line x1="47.00" y1="486.50" x2="154.30" y2="486.50" class="c7"/>
<path fill="#18a6e2" opacity="0.7" d="M55.1 486.5h0.5v-0.6h-0.5zM126.1 486.5h0.5v-0.8h-0.5zM126.1 486.5h0.5v-0.7h-0.5zM132.1 486.5h0.5v-0.8h-0.5zM84.8 486.5h0.5v-0.7h-0.5zM143.7 486.5h0.5v-0.8h-0.5zM91.8 486.5h0.5v-0.8h-0.5zM139.7 486.5h0.5v-0.6h-0.5zM114.1 486.5h0.5v-0.5h-0.5zM109.5 486.5h0.5v-0.7h-0.5zM55.6 486.5h0.5v-0.7h-0.5zM153.6 486.5h0.5v-0.8h-0.5zM125.1 486.5h0.5v-0.5h-0.5zM125.9 486.5h0.5v-0.6h-0.5zM94.3 486.5h0.5v-0.8h-0.5zM56.0 486.5h0.5v-0.8h-0.5zM50.2 486.5h0.5v-0.7h-0.5zM98.6 486.5h0.5v-0.4h-0.5zM121.9 486.5h0.5v-0.6h-0.5zM112.9 486.5h0.5v-0.9h-0.5zM74.5 486.5h0.5v-0.3h-0.5zM79.3 486.5h0.5v-0.7h-0.5z"/>
<path fill="#18a6e2" stroke="#18a6e2" stroke-width="0.25" d="M77.9 486.5L79.1 486.0L79.9 485.0L80.3 484.2L80.7 485.2L81.5 485.9L82.9 486.5ZM96.0 486.5L98.0 486.3L99.4 486.0L100.0 485.7L100.6 486.1L102.0 486.3L104.4 486.5Z"/>
<line x1="47.00" y1="495.00" x2="154.30" y2="495.00" class="c7"/>
<path fill="#9d74f4" opacity="0.7" d="M136.8 495.0h0.5v-0.8h-0.5zM123.3 495.0h0.5v-0.9h-0.5zM76.7 495.0h0.5v-0.4h-0.5zM95.4 495.0h0.5v-0.5h-0.5zM70.0 495.0h0.5v-0.5h-0.5zM114.1 495.0h0.5v-0.6h-0.5zM80.8 495.0h0.5v-0.8h-0.5zM152.4 495.0h0.5v-0.6h-0.5zM55.0 495.0h0.5v-0.3h-0.5zM140.7 495.0h0.5v-0.3h-0.5zM123.0 495.0h0.5v-0.6h-0.5zM80.2 495.0h0.5v-0.8h-0.5zM49.1 495.0h0.5v-0.4h-0.5zM95.8 495.0h0.5v-0.3h-0.5zM136.0 495.0h0.5v-0.4h-0.5zM62.1 495.0h0.5v-0.3h-0.5z"/>
<path fill="#9d74f4" stroke="#9d74f4" stroke-width="0.25" d="M78.5 495.0L79.4 493.7L80.0 491.1L80.3 489.0L80.6 491.7L81.2 493.5L82.3 495.0ZM79.1 495.0L79.5 493.5L79.9 495.0ZM81.0 495.0L81.4 492.6L81.8 495.0ZM79.7 495.0L80.1 492.2L80.5 495.0ZM99.0 495.0L99.6 493.7L100.0 491.1L100.2 489.0L100.4 491.7L100.8 493.5L101.5 495.0ZM99.5 495.0L99.9 492.6L100.3 495.0ZM99.3 495.0L99.7 493.0L100.1 495.0ZM100.4 495.0L100.8 492.2L101.2 495.0ZM103.6 495.0L104.2 494.1L104.6 492.4L104.8 491.0L105.0 492.8L105.4 494.0L106.1 495.0ZM105.1 495.0L105.5 493.7L105.9 495.0ZM104.5 495.0L104.9 493.8L105.3 495.0ZM103.7 495.0L104.1 493.6L104.5 495.0ZM125.8 495.0L126.4 494.7L126.8 494.0L127.0 493.5L127.2 494.2L127.6 494.6L128.3 495.0Z"/>
<line x1="47.00" y1="503.20" x2="154.30" y2="503.20" class="c7"/>
<path fill="#f23ec8" opacity="0.7" d="M120.4 503.2h0.5v-0.4h-0.5zM98.0 503.2h0.5v-0.4h-0.5zM48.2 503.2h0.5v-0.6h-0.5zM123.6 503.2h0.5v-0.4h-0.5zM76.2 503.2h0.5v-0.5h-0.5zM121.8 503.2h0.5v-0.6h-0.5z"/>
<path fill="#f23ec8" stroke="#f23ec8" stroke-width="0.25" d="M78.5 503.2L79.4 501.8L80.0 499.0L80.3 496.7L80.6 499.6L81.2 501.6L82.3 503.2ZM80.2 503.2L80.6 501.0L81.0 503.2ZM80.3 503.2L80.7 500.6L81.1 503.2ZM80.7 503.2L81.1 500.0L81.5 503.2Z"/>
<text x="90.30" y="509.20" font-size="6.3" font-weight="bold" font-style="italic" textLength="19.5" lengthAdjust="spacingAndGlyphs" stroke="#000" stroke-width="0.15">NFE2L1</text>
<path d="M81.2 507.8V505.2H84.4" fill="none" stroke="#111" stroke-width="0.7"/>
<path d="M85.3 505.2l-1.3 -0.9v1.8z" fill="#111"/>
<line x1="80.30" y1="510.20" x2="130.60" y2="510.20" stroke="#1a1aa0" stroke-width="0.8" stroke-dasharray="1,0.9"/>
<rect x="119.20" y="509.10" width="11.40" height="2.20" fill="#0a0a90"/>
<rect x="89.80" y="509.40" width="4.70" height="1.60" fill="#0a0a90"/>
<rect x="104.00" y="509.40" width="2.80" height="1.60" fill="#0a0a90"/>
<rect x="78.50" y="516.35" width="4.50" height="0.90" fill="#444"/>
<rect x="99.50" y="516.35" width="1.50" height="0.90" fill="#444"/>
<rect x="104.00" y="516.35" width="2.00" height="0.90" fill="#444"/>
<rect x="133.50" y="516.35" width="1.00" height="0.90" fill="#444"/>
<rect x="146.30" y="516.35" width="1.00" height="0.90" fill="#444"/>
<line x1="47.00" y1="519.30" x2="154.30" y2="519.30" stroke="#777" stroke-width="0.6"/>
<line x1="51.30" y1="519.30" x2="51.30" y2="520.30" class="c16"/>
<text x="51.30" y="522.50" class="c17">45400000</text>
<line x1="88.80" y1="519.30" x2="88.80" y2="520.30" class="c16"/>
<text x="88.80" y="522.50" class="c17">45500000</text>
<line x1="125.80" y1="519.30" x2="125.80" y2="520.30" class="c16"/>
<text x="125.80" y="522.50" class="c17">45600000</text>
<text x="100.65" y="525.90" font-size="3.2" text-anchor="middle" fill="#444">chr17 position (bp)</text>
<text x="163.90" y="473.75" font-size="3.3" text-anchor="middle" fill="#333" transform="rotate(-90 163.90 473.75)" textLength="58.9" lengthAdjust="spacingAndGlyphs">P-UBC P-Pho CNP PE Glut GABA-int GABA</text>
<text x="172.00" y="445.00" class="c25">140</text>
<text x="172.80" y="450.80" class="c6" transform="rotate(-90 172.80 450.80)">0-140</text>
<text x="172.80" y="459.00" class="c6" transform="rotate(-90 172.80 459.00)">0-140</text>
<text x="172.80" y="467.90" class="c6" transform="rotate(-90 172.80 467.90)">0-140</text>
<text x="172.80" y="476.50" class="c6" transform="rotate(-90 172.80 476.50)">0-140</text>
<text x="172.80" y="485.00" class="c6" transform="rotate(-90 172.80 485.00)">0-140</text>
<text x="172.80" y="493.50" class="c6" transform="rotate(-90 172.80 493.50)">0-140</text>
<text x="172.80" y="501.70" class="c6" transform="rotate(-90 172.80 501.70)">0-140</text>
<text x="172.00" y="504.00" class="c25">0</text>
<line x1="174.00" y1="452.30" x2="281.20" y2="452.30" class="c7"/>
<path fill="#f25c5c" opacity="0.7" d="M274.0 452.3h0.5v-0.7h-0.5zM187.9 452.3h0.5v-0.6h-0.5zM241.1 452.3h0.5v-0.8h-0.5zM214.4 452.3h0.5v-0.6h-0.5zM268.3 452.3h0.5v-0.8h-0.5zM275.2 452.3h0.5v-0.6h-0.5zM243.8 452.3h0.5v-0.4h-0.5zM251.4 452.3h0.5v-0.8h-0.5z"/>
<path fill="#f25c5c" stroke="#f25c5c" stroke-width="0.25" d="M263.2 452.3L264.1 451.1L264.7 448.7L265.0 446.8L265.3 449.3L265.9 450.9L267.0 452.3ZM264.9 452.3L265.3 450.0L265.7 452.3ZM264.3 452.3L264.7 449.9L265.1 452.3ZM265.7 452.3L266.1 451.1L266.5 452.3ZM195.3 452.3L196.0 452.1L196.5 451.7L196.7 451.3L196.9 451.8L197.4 452.1L198.2 452.3ZM221.9 452.3L222.6 452.1L223.1 451.7L223.3 451.3L223.5 451.8L224.0 452.1L224.8 452.3Z"/>
<line x1="174.00" y1="460.50" x2="281.20" y2="460.50" class="c7"/>
<path fill="#c8900a" opacity="0.7" d="M231.6 460.5h0.5v-0.8h-0.5zM208.3 460.5h0.5v-0.8h-0.5zM265.7 460.5h0.5v-0.5h-0.5zM182.9 460.5h0.5v-0.6h-0.5zM233.0 460.5h0.5v-0.8h-0.5zM226.3 460.5h0.5v-0.3h-0.5zM260.7 460.5h0.5v-0.3h-0.5zM259.7 460.5h0.5v-0.4h-0.5zM209.9 460.5h0.5v-0.8h-0.5zM189.1 460.5h0.5v-0.4h-0.5zM229.4 460.5h0.5v-0.7h-0.5zM264.0 460.5h0.5v-0.7h-0.5z"/>
<path fill="#c8900a" stroke="#c8900a" stroke-width="0.25" d="M263.2 460.5L264.1 459.1L264.7 456.3L265.0 454.0L265.3 456.9L265.9 458.9L267.0 460.5ZM265.0 460.5L265.4 457.8L265.8 460.5ZM263.8 460.5L264.2 457.4L264.6 460.5ZM265.9 460.5L266.3 457.3L266.7 460.5ZM194.7 460.5L195.7 460.3L196.4 459.9L196.7 459.5L197.0 459.9L197.7 460.2L198.9 460.5ZM221.3 460.5L222.3 460.3L223.0 459.9L223.3 459.5L223.6 459.9L224.3 460.2L225.5 460.5Z"/>
<line x1="174.00" y1="469.40" x2="281.20" y2="469.40" class="c7"/>
<path fill="#4caf14" opacity="0.7" d="M205.1 469.4h0.5v-0.7h-0.5zM242.5 469.4h0.5v-0.6h-0.5zM264.4 469.4h0.5v-0.6h-0.5zM207.4 469.4h0.5v-0.5h-0.5zM264.6 469.4h0.5v-0.8h-0.5zM196.3 469.4h0.5v-0.8h-0.5zM277.8 469.4h0.5v-0.6h-0.5zM235.4 469.4h0.5v-0.4h-0.5z"/>
<path fill="#4caf14" stroke="#4caf14" stroke-width="0.25" d="M263.2 469.4L264.1 468.1L264.7 465.5L265.0 463.4L265.3 466.1L265.9 467.9L267.0 469.4ZM265.8 469.4L266.2 467.3L266.6 469.4ZM265.8 469.4L266.2 468.0L266.6 469.4ZM263.8 469.4L264.2 467.3L264.6 469.4ZM194.7 469.4L195.7 469.2L196.4 468.8L196.7 468.4L197.0 468.8L197.7 469.1L198.9 469.4ZM221.9 469.4L222.6 469.2L223.1 468.8L223.3 468.4L223.5 468.8L224.0 469.1L224.8 469.4Z"/>
<line x1="174.00" y1="478.00" x2="281.20" y2="478.00" class="c7"/>
<path fill="#16b08e" opacity="0.7" d="M216.9 478.0h0.5v-0.8h-0.5zM234.3 478.0h0.5v-0.6h-0.5zM248.1 478.0h0.5v-0.3h-0.5zM231.8 478.0h0.5v-0.5h-0.5zM276.6 478.0h0.5v-0.9h-0.5zM202.9 478.0h0.5v-0.6h-0.5zM187.6 478.0h0.5v-0.6h-0.5zM261.4 478.0h0.5v-0.8h-0.5zM225.1 478.0h0.5v-0.5h-0.5zM194.5 478.0h0.5v-0.7h-0.5zM273.2 478.0h0.5v-0.4h-0.5zM257.5 478.0h0.5v-0.3h-0.5zM194.8 478.0h0.5v-0.4h-0.5zM247.7 478.0h0.5v-0.5h-0.5zM212.1 478.0h0.5v-0.7h-0.5zM185.2 478.0h0.5v-0.7h-0.5zM187.2 478.0h0.5v-0.6h-0.5zM200.9 478.0h0.5v-0.4h-0.5zM230.9 478.0h0.5v-0.6h-0.5zM214.3 478.0h0.5v-0.5h-0.5zM230.7 478.0h0.5v-0.4h-0.5zM195.9 478.0h0.5v-0.7h-0.5zM242.4 478.0h0.5v-0.6h-0.5zM265.3 478.0h0.5v-0.7h-0.5z"/>
<path fill="#16b08e" stroke="#16b08e" stroke-width="0.25" d="M263.2 478.0L264.1 476.6L264.7 473.8L265.0 471.5L265.3 474.4L265.9 476.4L267.0 478.0ZM264.7 478.0L265.1 475.7L265.5 478.0ZM264.9 478.0L265.3 476.6L265.7 478.0ZM265.9 478.0L266.3 475.7L266.7 478.0ZM194.7 478.0L195.7 477.7L196.4 477.0L196.7 476.5L197.0 477.2L197.7 477.6L198.9 478.0ZM221.9 478.0L222.6 477.7L223.1 477.0L223.3 476.5L223.5 477.2L224.0 477.6L224.8 478.0Z"/>
<line x1="174.00" y1="486.50" x2="281.20" y2="486.50" class="c7"/>
<path fill="#18a6e2" opacity="0.7" d="M265.8 486.5h0.5v-0.4h-0.5zM253.4 486.5h0.5v-0.8h-0.5zM270.8 486.5h0.5v-0.5h-0.5zM207.8 486.5h0.5v-0.9h-0.5zM197.4 486.5h0.5v-0.9h-0.5zM269.1 486.5h0.5v-0.4h-0.5zM199.7 486.5h0.5v-0.7h-0.5zM201.8 486.5h0.5v-0.4h-0.5zM263.2 486.5h0.5v-0.6h-0.5zM258.7 486.5h0.5v-0.4h-0.5zM217.2 486.5h0.5v-0.7h-0.5zM175.9 486.5h0.5v-0.4h-0.5zM247.2 486.5h0.5v-0.8h-0.5zM277.8 486.5h0.5v-0.4h-0.5zM228.2 486.5h0.5v-0.8h-0.5zM227.9 486.5h0.5v-0.7h-0.5zM194.3 486.5h0.5v-0.3h-0.5zM185.4 486.5h0.5v-0.3h-0.5zM233.1 486.5h0.5v-0.6h-0.5zM235.0 486.5h0.5v-0.4h-0.5zM193.8 486.5h0.5v-0.4h-0.5zM264.1 486.5h0.5v-0.9h-0.5zM273.4 486.5h0.5v-0.4h-0.5zM180.6 486.5h0.5v-0.9h-0.5zM223.5 486.5h0.5v-0.8h-0.5zM209.0 486.5h0.5v-0.6h-0.5zM229.2 486.5h0.5v-0.6h-0.5zM238.4 486.5h0.5v-0.3h-0.5zM249.2 486.5h0.5v-0.8h-0.5zM193.4 486.5h0.5v-0.6h-0.5z"/>
<path fill="#18a6e2" stroke="#18a6e2" stroke-width="0.25" d="M262.6 486.5L263.8 485.9L264.6 484.9L265.0 484.0L265.4 485.1L266.2 485.9L267.6 486.5ZM194.7 486.5L195.7 486.3L196.4 485.9L196.7 485.5L197.0 485.9L197.7 486.2L198.9 486.5ZM221.9 486.5L222.6 486.2L223.1 485.7L223.3 485.3L223.5 485.8L224.0 486.2L224.8 486.5ZM174.0 486.5L174.0 486.0L174.9 486.2L175.8 486.3L176.7 486.3L177.6 486.1L178.5 486.3L179.4 485.9L180.3 485.9L181.2 486.0L182.1 485.9L183.0 486.1L183.9 486.2L184.8 486.1L185.7 486.1L186.6 485.8L187.5 485.9L188.4 486.3L189.3 485.9L190.2 486.0L191.1 486.0L192.0 485.9L192.9 486.2L193.8 485.9L194.7 485.9L195.6 486.0L196.5 486.0L197.4 486.0L198.3 486.2L199.2 486.0L200.1 486.3L201.0 486.2L201.9 486.2L202.8 486.3L203.7 486.2L204.6 486.1L205.5 486.1L206.4 486.3L207.3 485.8L208.2 486.0L209.1 486.2L210.0 486.0L210.9 486.1L211.8 486.1L212.7 486.2L213.6 485.8L214.5 486.1L215.4 486.0L216.3 486.0L217.2 485.8L218.1 486.3L219.0 486.1L219.9 486.0L220.8 486.3L221.7 486.2L222.6 486.3L223.5 486.3L224.4 486.2L225.3 486.3L226.2 486.3L227.1 485.9L228.0 486.1L228.9 486.1L229.8 485.8L230.7 486.1L231.6 485.8L232.5 486.1L233.4 485.9L234.3 486.3L235.2 486.1L236.1 486.0L237.0 486.3L237.9 485.9L238.8 486.3L239.7 486.2L240.6 486.3L241.5 486.1L242.4 486.1L243.3 486.3L244.2 485.8L245.1 486.2L246.0 486.1L246.9 486.1L247.8 486.2L248.7 486.2L249.6 486.0L250.5 486.1L251.4 486.2L252.3 486.0L253.2 486.2L254.1 486.3L255.0 486.3L255.9 486.3L256.8 486.3L257.7 486.0L258.6 486.2L259.5 485.9L260.4 486.0L261.3 486.3L262.2 485.8L263.1 485.8L264.0 486.3L264.9 485.9L265.8 486.2L266.7 486.2L267.6 485.8L268.5 486.3L269.4 486.1L270.3 485.8L271.2 486.0L272.1 486.2L273.0 485.8L273.9 485.9L274.8 486.1L275.7 486.3L276.6 486.1L277.5 486.2L278.4 486.3L279.3 486.3L280.2 486.1L281.0 486.5Z"/>
<line x1="174.00" y1="495.00" x2="281.20" y2="495.00" class="c7"/>
<path fill="#9d74f4" opacity="0.7" d="M219.0 495.0h0.5v-0.8h-0.5zM230.9 495.0h0.5v-0.9h-0.5zM276.1 495.0h0.5v-0.7h-0.5zM199.6 495.0h0.5v-0.4h-0.5zM269.7 495.0h0.5v-0.8h-0.5zM241.0 495.0h0.5v-0.5h-0.5zM203.1 495.0h0.5v-0.7h-0.5zM234.6 495.0h0.5v-0.7h-0.5zM241.9 495.0h0.5v-0.8h-0.5zM194.3 495.0h0.5v-0.4h-0.5zM279.0 495.0h0.5v-0.8h-0.5zM268.2 495.0h0.5v-0.3h-0.5zM180.5 495.0h0.5v-0.5h-0.5zM219.6 495.0h0.5v-0.7h-0.5zM185.0 495.0h0.5v-0.6h-0.5zM181.8 495.0h0.5v-0.4h-0.5zM246.5 495.0h0.5v-0.6h-0.5zM241.7 495.0h0.5v-0.5h-0.5zM225.3 495.0h0.5v-0.4h-0.5zM210.8 495.0h0.5v-0.7h-0.5zM263.9 495.0h0.5v-0.3h-0.5zM186.8 495.0h0.5v-0.8h-0.5zM240.9 495.0h0.5v-0.8h-0.5zM196.9 495.0h0.5v-0.6h-0.5zM201.7 495.0h0.5v-0.8h-0.5zM213.6 495.0h0.5v-0.7h-0.5z"/>
<path fill="#9d74f4" stroke="#9d74f4" stroke-width="0.25" d="M263.2 495.0L264.1 493.7L264.7 491.1L265.0 489.0L265.3 491.7L265.9 493.5L267.0 495.0ZM263.6 495.0L264.0 493.0L264.4 495.0ZM265.1 495.0L265.5 493.0L265.9 495.0ZM264.0 495.0L264.4 492.8L264.8 495.0ZM194.7 495.0L195.7 494.6L196.4 493.7L196.7 493.0L197.0 493.9L197.7 494.5L198.9 495.0ZM207.0 495.0L207.5 494.6L207.8 493.8L208.0 493.2L208.2 494.0L208.5 494.6L209.1 495.0ZM222.3 495.0L222.8 494.6L223.2 493.7L223.3 493.0L223.5 493.9L223.8 494.5L224.4 495.0ZM231.8 495.0L232.3 494.7L232.7 494.0L232.8 493.5L233.0 494.2L233.3 494.6L233.9 495.0ZM180.0 495.0L180.0 494.0L180.9 494.6L181.8 494.4L182.7 494.3L183.6 494.1L184.5 494.5L185.4 494.6L186.3 494.7L187.2 494.1L188.1 494.7L189.0 494.7L189.9 494.4L190.8 494.5L191.7 494.3L192.6 494.6L193.5 494.2L194.4 494.7L195.3 494.7L196.2 494.3L197.1 494.7L198.0 494.6L198.9 494.3L199.8 494.3L200.7 494.6L201.6 494.7L202.5 494.6L203.4 494.3L204.3 494.6L205.2 494.7L206.1 494.3L207.0 494.4L207.9 494.1L208.8 494.1L209.7 494.1L210.6 494.5L211.5 494.2L212.4 494.6L213.3 494.6L214.2 494.6L215.0 495.0Z"/>
<line x1="174.00" y1="503.20" x2="281.20" y2="503.20" class="c7"/>
<path fill="#f23ec8" opacity="0.7" d="M216.4 503.2h0.5v-0.5h-0.5zM194.9 503.2h0.5v-0.6h-0.5zM259.4 503.2h0.5v-0.6h-0.5zM263.7 503.2h0.5v-0.6h-0.5zM192.9 503.2h0.5v-0.8h-0.5zM268.4 503.2h0.5v-0.5h-0.5zM176.4 503.2h0.5v-0.6h-0.5zM232.3 503.2h0.5v-0.6h-0.5z"/>
<path fill="#f23ec8" stroke="#f23ec8" stroke-width="0.25" d="M263.2 503.2L264.1 501.8L264.7 499.0L265.0 496.7L265.3 499.6L265.9 501.6L267.0 503.2ZM265.8 503.2L266.2 500.2L266.6 503.2ZM263.9 503.2L264.3 501.2L264.7 503.2ZM264.2 503.2L264.6 501.2L265.0 503.2Z"/>
<text x="224.30" y="510.30" font-size="6.3" font-weight="bold" font-style="italic" textLength="12.3" lengthAdjust="spacingAndGlyphs" stroke="#000" stroke-width="0.15">NRL</text>
<path d="M265.3 508.6V506.0H262.1" fill="none" stroke="#111" stroke-width="0.7"/>
<path d="M261.2 506.0l1.3 -0.9v1.8z" fill="#111"/>
<line x1="193.90" y1="511.20" x2="265.60" y2="511.20" stroke="#1a7a1a" stroke-width="0.8" stroke-dasharray="1,0.9"/>
<rect x="193.90" y="510.20" width="6.60" height="2.00" fill="#1a6a1a"/>
<rect x="221.00" y="510.40" width="2.00" height="1.60" fill="#1a6a1a"/>
<rect x="193.50" y="513.55" width="1.00" height="0.90" fill="#444"/>
<rect x="196.50" y="513.55" width="1.50" height="0.90" fill="#444"/>
<rect x="207.50" y="513.55" width="1.00" height="0.90" fill="#444"/>
<rect x="215.20" y="513.55" width="1.00" height="0.90" fill="#444"/>
<rect x="222.50" y="513.55" width="1.50" height="0.90" fill="#444"/>
<rect x="226.50" y="513.55" width="1.00" height="0.90" fill="#444"/>
<rect x="233.20" y="513.55" width="1.00" height="0.90" fill="#444"/>
<rect x="252.80" y="513.55" width="1.00" height="0.90" fill="#444"/>
<rect x="263.50" y="513.55" width="3.50" height="0.90" fill="#444"/>
<line x1="174.00" y1="517.80" x2="281.20" y2="517.80" stroke="#d8d8d8" stroke-width="0.6"/>
<path d="M196.7 517.8Q231.2 539.4 265.6 517.8" class="c27"/>
<rect x="163.2" y="517.0" width="1.6" height="10" fill="url(#gF)"/>
<text x="162.90" y="516.40" font-size="2.2" fill="#555">score</text>
<text x="166.20" y="518.50" font-size="2.2" fill="#555">0.25</text>
<text x="166.20" y="522.50" font-size="2.2" fill="#555">0.5</text>
<text x="166.20" y="526.50" font-size="2.2" fill="#555">0.75</text>
<line x1="174.00" y1="529.20" x2="281.20" y2="529.20" stroke="#777" stroke-width="0.6"/>
<line x1="178.00" y1="529.20" x2="178.00" y2="530.20" class="c16"/>
<text x="178.00" y="532.40" class="c17">chr19</text>
<line x1="196.00" y1="529.20" x2="196.00" y2="530.20" class="c16"/>
<text x="196.00" y="532.40" class="c17">24000</text>
<line x1="214.50" y1="529.20" x2="214.50" y2="530.20" class="c16"/>
<text x="214.50" y="532.40" class="c17">25000</text>
<line x1="233.00" y1="529.20" x2="233.00" y2="530.20" class="c16"/>
<text x="233.00" y="532.40" class="c17">26000</text>
<line x1="252.00" y1="529.20" x2="252.00" y2="530.20" class="c16"/>
<text x="252.00" y="532.40" class="c17">27000</text>
<line x1="270.50" y1="529.20" x2="270.50" y2="530.20" class="c16"/>
<text x="270.50" y="532.40" class="c17">28000</text>
<text x="227.60" y="535.80" font-size="3.2" text-anchor="middle" fill="#444">chr14 position (bp)</text>
<text x="291.60" y="474.90" font-size="3.3" text-anchor="middle" fill="#333" transform="rotate(-90 291.60 474.90)" textLength="57.4" lengthAdjust="spacingAndGlyphs">P-UBC P-Pho CNP PE Glut GABA-int GABA</text>
<text x="297.20" y="446.90" class="c25">670</text>
<text x="298.00" y="452.70" class="c6" transform="rotate(-90 298.00 452.70)">0-670</text>
<text x="298.00" y="460.90" class="c6" transform="rotate(-90 298.00 460.90)">0-670</text>
<text x="298.00" y="468.90" class="c6" transform="rotate(-90 298.00 468.90)">0-670</text>
<text x="298.00" y="477.80" class="c6" transform="rotate(-90 298.00 477.80)">0-670</text>
<text x="298.00" y="485.90" class="c6" transform="rotate(-90 298.00 485.90)">0-670</text>
<text x="298.00" y="493.90" class="c6" transform="rotate(-90 298.00 493.90)">0-670</text>
<text x="298.00" y="502.10" class="c6" transform="rotate(-90 298.00 502.10)">0-670</text>
<text x="297.20" y="504.40" class="c25">0</text>
<line x1="299.40" y1="454.20" x2="407.50" y2="454.20" class="c7"/>
<path fill="#f25c5c" opacity="0.7" d="M352.8 454.2h0.5v-0.6h-0.5zM377.3 454.2h0.5v-0.7h-0.5zM398.3 454.2h0.5v-0.5h-0.5zM388.7 454.2h0.5v-0.7h-0.5zM391.7 454.2h0.5v-0.8h-0.5zM389.5 454.2h0.5v-0.8h-0.5zM402.9 454.2h0.5v-0.7h-0.5zM356.0 454.2h0.5v-0.7h-0.5zM386.1 454.2h0.5v-0.6h-0.5zM344.9 454.2h0.5v-0.4h-0.5zM379.5 454.2h0.5v-0.9h-0.5zM340.0 454.2h0.5v-0.4h-0.5zM321.5 454.2h0.5v-0.6h-0.5zM331.0 454.2h0.5v-0.9h-0.5zM305.8 454.2h0.5v-0.5h-0.5zM311.8 454.2h0.5v-0.7h-0.5z"/>
<path fill="#f25c5c" stroke="#f25c5c" stroke-width="0.25" d="M337.8 454.2L338.7 453.1L339.3 450.9L339.6 449.2L339.9 451.4L340.5 452.9L341.6 454.2ZM340.5 454.2L340.9 452.2L341.3 454.2ZM340.0 454.2L340.4 453.1L340.8 454.2ZM339.3 454.2L339.7 452.0L340.1 454.2ZM342.4 454.2L343.3 453.3L343.9 451.6L344.2 450.2L344.5 452.0L345.1 453.2L346.2 454.2ZM342.7 454.2L343.1 453.3L343.5 454.2ZM344.4 454.2L344.8 452.3L345.2 454.2ZM342.7 454.2L343.1 452.6L343.5 454.2ZM343.9 454.2L344.6 453.1L345.1 450.9L345.3 449.2L345.5 451.4L346.0 452.9L346.8 454.2ZM344.2 454.2L344.6 452.1L345.0 454.2ZM345.2 454.2L345.6 452.8L346.0 454.2ZM344.3 454.2L344.7 452.1L345.1 454.2ZM347.1 454.2L348.1 452.7L348.8 449.6L349.1 447.2L349.4 450.3L350.1 452.4L351.3 454.2ZM348.8 454.2L349.2 451.2L349.6 454.2ZM348.4 454.2L348.8 452.1L349.2 454.2ZM350.1 454.2L350.5 451.4L350.9 454.2ZM349.6 454.2L350.8 453.6L351.6 452.6L352.0 451.7L352.4 452.8L353.2 453.6L354.6 454.2ZM368.6 454.2L369.3 453.9L369.8 453.4L370.0 453.0L370.2 453.5L370.7 453.9L371.5 454.2ZM386.8 454.2L387.4 454.0L387.8 453.6L388.0 453.2L388.2 453.6L388.6 453.9L389.3 454.2ZM338.0 454.2L338.0 452.8L338.8 453.6L339.6 453.7L340.4 453.3L341.2 453.1L342.0 452.6L342.8 453.7L343.6 453.7L344.4 453.6L345.2 453.6L346.0 453.6L346.8 452.9L347.6 453.1L348.4 453.6L349.2 453.6L350.0 453.5L350.8 453.7L351.6 452.9L352.4 453.5L353.2 453.2L354.0 452.8L354.8 453.3L355.6 453.6L356.4 452.6L357.2 452.6L358.0 453.5L358.8 453.2L359.6 452.5L360.4 453.3L361.2 453.6L362.0 453.7L362.8 452.5L363.6 452.8L364.4 453.4L365.2 453.2L366.0 454.2Z"/>
<line x1="299.40" y1="462.40" x2="407.50" y2="462.40" class="c7"/>
<path fill="#c8900a" opacity="0.7" d="M350.5 462.4h0.5v-0.5h-0.5zM385.5 462.4h0.5v-0.7h-0.5zM364.9 462.4h0.5v-0.4h-0.5zM316.4 462.4h0.5v-0.5h-0.5zM327.4 462.4h0.5v-0.8h-0.5zM355.2 462.4h0.5v-0.7h-0.5z"/>
<path fill="#c8900a" stroke="#c8900a" stroke-width="0.25" d="M337.8 462.4L338.7 461.9L339.3 460.9L339.6 460.1L339.9 461.2L340.5 461.8L341.6 462.4ZM342.4 462.4L343.3 462.0L343.9 461.2L344.2 460.6L344.5 461.4L345.1 461.9L346.2 462.4ZM343.9 462.4L344.6 461.9L345.1 460.9L345.3 460.1L345.5 461.2L346.0 461.8L346.8 462.4ZM347.1 462.4L348.1 461.7L348.8 460.4L349.1 459.2L349.4 460.7L350.1 461.6L351.3 462.4ZM348.7 462.4L349.1 461.5L349.5 462.4ZM350.2 462.4L350.6 461.1L351.0 462.4ZM347.9 462.4L348.3 461.8L348.7 462.4ZM349.6 462.4L350.8 462.2L351.6 461.7L352.0 461.3L352.4 461.8L353.2 462.1L354.6 462.4Z"/>
<line x1="299.40" y1="470.40" x2="407.50" y2="470.40" class="c7"/>
<path fill="#4caf14" opacity="0.7" d="M321.9 470.4h0.5v-0.6h-0.5zM356.2 470.4h0.5v-0.4h-0.5zM389.3 470.4h0.5v-0.5h-0.5zM333.0 470.4h0.5v-0.3h-0.5zM332.4 470.4h0.5v-0.6h-0.5zM376.7 470.4h0.5v-0.5h-0.5zM373.7 470.4h0.5v-0.4h-0.5zM342.0 470.4h0.5v-0.6h-0.5zM403.9 470.4h0.5v-0.8h-0.5zM370.1 470.4h0.5v-0.3h-0.5zM340.2 470.4h0.5v-0.7h-0.5zM325.1 470.4h0.5v-0.6h-0.5zM348.9 470.4h0.5v-0.3h-0.5zM406.6 470.4h0.5v-0.8h-0.5zM321.7 470.4h0.5v-0.7h-0.5zM330.8 470.4h0.5v-0.5h-0.5zM357.7 470.4h0.5v-0.5h-0.5zM335.9 470.4h0.5v-0.5h-0.5zM371.5 470.4h0.5v-0.5h-0.5zM321.0 470.4h0.5v-0.7h-0.5z"/>
<path fill="#4caf14" stroke="#4caf14" stroke-width="0.25" d="M337.8 470.4L338.7 469.6L339.3 468.0L339.6 466.6L339.9 468.3L340.5 469.5L341.6 470.4ZM340.5 470.4L340.9 469.4L341.3 470.4ZM339.3 470.4L339.7 469.5L340.1 470.4ZM339.9 470.4L340.3 469.6L340.7 470.4ZM342.4 470.4L343.3 469.7L343.9 468.4L344.2 467.4L344.5 468.8L345.1 469.6L346.2 470.4ZM344.7 470.4L345.1 469.0L345.5 470.4ZM344.7 470.4L345.1 469.7L345.5 470.4ZM343.2 470.4L343.6 469.2L344.0 470.4ZM343.9 470.4L344.6 469.6L345.1 468.0L345.3 466.6L345.5 468.3L346.0 469.5L346.8 470.4ZM344.1 470.4L344.5 469.1L344.9 470.4ZM344.8 470.4L345.2 468.6L345.6 470.4ZM345.1 470.4L345.5 468.7L345.9 470.4ZM347.1 470.4L348.1 469.2L348.8 467.0L349.1 465.1L349.4 467.5L350.1 469.1L351.3 470.4ZM348.1 470.4L348.5 468.1L348.9 470.4ZM348.5 470.4L348.9 467.9L349.3 470.4ZM347.5 470.4L347.9 468.0L348.3 470.4ZM349.6 470.4L350.8 470.0L351.6 469.2L352.0 468.5L352.4 469.4L353.2 469.9L354.6 470.4ZM330.0 470.4L330.0 469.9L330.8 469.1L331.6 469.6L332.4 469.4L333.2 469.8L334.0 469.3L334.8 470.0L335.6 470.0L336.4 470.0L337.2 469.5L338.0 469.4L338.8 470.0L339.6 469.8L340.4 469.2L341.2 469.6L342.0 470.0L342.8 469.9L343.6 470.0L344.4 470.0L345.2 469.8L346.0 470.0L346.8 469.1L347.6 469.8L348.4 469.7L349.2 469.5L350.0 469.3L350.8 469.3L351.6 469.8L352.4 469.8L353.2 469.8L354.0 470.0L354.8 469.8L355.6 469.4L356.4 469.0L357.2 469.3L358.0 469.5L358.8 469.6L359.6 470.0L360.4 469.9L361.2 469.8L362.0 469.5L362.8 470.0L363.6 469.8L364.4 469.7L365.2 469.3L366.0 469.3L366.8 469.5L367.6 470.0L368.4 469.3L369.2 469.1L370.0 469.6L370.8 469.8L371.6 469.7L372.4 470.0L373.2 469.4L374.0 469.0L374.8 469.7L375.6 469.4L376.0 470.4Z"/>
<line x1="299.40" y1="479.30" x2="407.50" y2="479.30" class="c7"/>
<path fill="#16b08e" opacity="0.7" d="M364.4 479.3h0.5v-0.4h-0.5zM388.5 479.3h0.5v-0.5h-0.5zM396.4 479.3h0.5v-0.4h-0.5zM361.4 479.3h0.5v-0.8h-0.5zM319.5 479.3h0.5v-0.6h-0.5zM307.6 479.3h0.5v-0.3h-0.5zM318.9 479.3h0.5v-0.9h-0.5zM401.0 479.3h0.5v-0.7h-0.5zM332.7 479.3h0.5v-0.7h-0.5zM379.1 479.3h0.5v-0.5h-0.5zM363.4 479.3h0.5v-0.8h-0.5zM301.2 479.3h0.5v-0.4h-0.5zM350.0 479.3h0.5v-0.4h-0.5zM341.2 479.3h0.5v-0.6h-0.5zM318.2 479.3h0.5v-0.6h-0.5zM327.9 479.3h0.5v-0.6h-0.5zM335.3 479.3h0.5v-0.7h-0.5zM303.5 479.3h0.5v-0.7h-0.5zM315.0 479.3h0.5v-0.9h-0.5zM364.3 479.3h0.5v-0.6h-0.5z"/>
<path fill="#16b08e" stroke="#16b08e" stroke-width="0.25" d="M337.8 479.3L338.7 478.5L339.3 476.9L339.6 475.6L339.9 477.2L340.5 478.4L341.6 479.3ZM340.1 479.3L340.5 478.3L340.9 479.3ZM340.4 479.3L340.8 477.8L341.2 479.3ZM338.4 479.3L338.8 478.5L339.2 479.3ZM342.4 479.3L343.3 478.6L343.9 477.4L344.2 476.3L344.5 477.7L345.1 478.6L346.2 479.3ZM343.1 479.3L343.5 478.2L343.9 479.3ZM344.3 479.3L344.7 478.4L345.1 479.3ZM345.0 479.3L345.4 478.4L345.8 479.3ZM343.9 479.3L344.6 478.5L345.1 476.9L345.3 475.6L345.5 477.2L346.0 478.4L346.8 479.3ZM344.8 479.3L345.2 478.4L345.6 479.3ZM345.9 479.3L346.3 478.4L346.7 479.3ZM345.7 479.3L346.1 477.9L346.5 479.3ZM347.1 479.3L348.1 478.1L348.8 475.9L349.1 474.1L349.4 476.4L350.1 478.0L351.3 479.3ZM348.9 479.3L349.3 477.4L349.7 479.3ZM348.0 479.3L348.4 476.8L348.8 479.3ZM350.2 479.3L350.6 477.0L351.0 479.3ZM349.6 479.3L350.8 478.9L351.6 478.1L352.0 477.4L352.4 478.3L353.2 478.8L354.6 479.3ZM308.6 479.3L309.3 479.1L309.8 478.7L310.0 478.3L310.2 478.8L310.7 479.1L311.5 479.3ZM384.6 479.3L385.3 479.1L385.8 478.7L386.0 478.3L386.2 478.8L386.7 479.1L387.5 479.3ZM338.0 479.3L338.0 478.8L338.9 478.6L339.8 478.5L340.7 478.4L341.6 478.4L342.5 478.7L343.4 478.1L344.3 478.3L345.2 478.3L346.1 478.8L347.0 478.7L347.9 478.6L348.8 478.2L349.7 478.7L350.6 478.7L351.5 478.7L352.4 478.2L353.3 478.8L354.2 479.0L355.1 478.4L356.0 478.2L356.9 478.4L357.8 478.6L358.7 478.4L359.6 478.8L360.5 478.6L361.4 479.0L362.0 479.3Z"/>
<line x1="299.40" y1="487.40" x2="407.50" y2="487.40" class="c7"/>
<path fill="#18a6e2" opacity="0.7" d="M312.8 487.4h0.5v-0.6h-0.5zM402.2 487.4h0.5v-0.3h-0.5zM325.8 487.4h0.5v-0.5h-0.5zM334.5 487.4h0.5v-0.3h-0.5zM396.2 487.4h0.5v-0.8h-0.5zM342.3 487.4h0.5v-0.5h-0.5zM362.7 487.4h0.5v-0.3h-0.5zM302.8 487.4h0.5v-0.8h-0.5zM332.7 487.4h0.5v-0.6h-0.5zM400.4 487.4h0.5v-0.9h-0.5zM350.5 487.4h0.5v-0.4h-0.5zM331.3 487.4h0.5v-0.9h-0.5zM396.3 487.4h0.5v-0.4h-0.5zM390.0 487.4h0.5v-0.5h-0.5zM350.5 487.4h0.5v-0.4h-0.5zM394.5 487.4h0.5v-0.9h-0.5z"/>
<path fill="#18a6e2" stroke="#18a6e2" stroke-width="0.25" d="M337.8 487.4L338.7 486.6L339.3 485.0L339.6 483.6L339.9 485.3L340.5 486.5L341.6 487.4ZM338.2 487.4L338.6 486.1L339.0 487.4ZM339.2 487.4L339.6 486.2L340.0 487.4ZM338.0 487.4L338.4 485.9L338.8 487.4ZM342.4 487.4L343.3 486.7L343.9 485.4L344.2 484.4L344.5 485.8L345.1 486.6L346.2 487.4ZM343.9 487.4L344.3 486.6L344.7 487.4ZM343.3 487.4L343.7 486.4L344.1 487.4ZM343.1 487.4L343.5 486.7L343.9 487.4ZM343.9 487.4L344.6 486.6L345.1 485.0L345.3 483.6L345.5 485.3L346.0 486.5L346.8 487.4ZM345.8 487.4L346.2 485.6L346.6 487.4ZM345.2 487.4L345.6 485.7L346.0 487.4ZM344.7 487.4L345.1 485.7L345.5 487.4ZM347.1 487.4L348.1 486.2L348.8 484.0L349.1 482.1L349.4 484.5L350.1 486.1L351.3 487.4ZM347.9 487.4L348.3 485.2L348.7 487.4ZM348.9 487.4L349.3 484.9L349.7 487.4ZM347.5 487.4L347.9 485.1L348.3 487.4ZM349.6 487.4L350.8 487.0L351.6 486.2L352.0 485.5L352.4 486.4L353.2 486.9L354.6 487.4ZM333.0 487.4L333.0 486.8L333.8 486.3L334.6 486.8L335.4 485.8L336.2 486.9L337.0 486.9L337.8 486.1L338.6 486.7L339.4 485.8L340.2 485.9L341.0 486.1L341.8 486.9L342.6 486.2L343.4 485.7L344.2 486.5L345.0 486.9L345.8 486.8L346.6 486.7L347.4 486.1L348.2 486.8L349.0 486.8L349.8 486.8L350.6 486.2L351.4 486.0L352.2 486.6L353.0 486.2L353.8 485.8L354.6 486.3L355.4 486.8L356.2 486.7L357.0 485.7L357.8 486.2L358.6 486.8L359.4 486.3L360.2 486.9L361.0 485.6L361.8 486.6L362.6 486.4L363.4 486.4L364.2 486.9L365.0 486.3L365.8 486.7L366.6 486.8L367.4 486.0L368.2 486.9L369.0 486.7L369.8 486.1L370.6 486.8L371.4 486.8L372.2 486.4L373.0 486.8L373.8 485.8L374.0 487.4Z"/>
<line x1="299.40" y1="495.40" x2="407.50" y2="495.40" class="c7"/>
<path fill="#9d74f4" opacity="0.7" d="M402.3 495.4h0.5v-0.4h-0.5zM383.7 495.4h0.5v-0.4h-0.5zM365.1 495.4h0.5v-0.4h-0.5zM347.0 495.4h0.5v-0.8h-0.5zM384.4 495.4h0.5v-0.8h-0.5zM324.9 495.4h0.5v-0.6h-0.5zM323.3 495.4h0.5v-0.6h-0.5zM353.3 495.4h0.5v-0.3h-0.5zM363.9 495.4h0.5v-0.7h-0.5zM361.3 495.4h0.5v-0.8h-0.5z"/>
<path fill="#9d74f4" stroke="#9d74f4" stroke-width="0.25" d="M337.8 495.4L338.7 494.7L339.3 493.4L339.6 492.4L339.9 493.8L340.5 494.6L341.6 495.4ZM340.5 495.4L340.9 494.8L341.3 495.4ZM339.1 495.4L339.5 494.1L339.9 495.4ZM338.9 495.4L339.3 494.0L339.7 495.4ZM342.4 495.4L343.3 494.9L343.9 493.8L344.2 493.0L344.5 494.1L345.1 494.8L346.2 495.4ZM343.9 495.4L344.6 494.7L345.1 493.4L345.3 492.4L345.5 493.8L346.0 494.6L346.8 495.4ZM344.9 495.4L345.3 494.6L345.7 495.4ZM345.0 495.4L345.4 494.2L345.8 495.4ZM344.6 495.4L345.0 494.2L345.4 495.4ZM347.1 495.4L348.1 494.5L348.8 492.7L349.1 491.2L349.4 493.1L350.1 494.3L351.3 495.4ZM349.5 495.4L349.9 493.9L350.3 495.4ZM348.7 495.4L349.1 493.5L349.5 495.4ZM349.3 495.4L349.7 493.9L350.1 495.4ZM349.6 495.4L350.8 495.1L351.6 494.4L352.0 493.9L352.4 494.6L353.2 495.0L354.6 495.4ZM338.0 495.4L338.0 495.1L338.9 495.1L339.8 495.1L340.7 494.9L341.6 494.9L342.5 494.9L343.4 495.0L344.3 494.6L345.2 495.1L346.1 494.5L347.0 494.8L347.9 494.8L348.8 494.6L349.7 495.1L350.6 495.1L351.5 495.0L352.4 495.1L353.3 495.0L354.2 494.8L355.1 494.9L356.0 495.0L356.9 494.8L357.8 495.1L358.7 494.6L359.6 495.1L360.5 495.1L361.4 495.1L362.3 494.7L363.2 494.6L364.1 494.6L365.0 495.1L365.9 495.0L366.0 495.4Z"/>
<line x1="299.40" y1="503.60" x2="407.50" y2="503.60" class="c7"/>
<path fill="#f23ec8" opacity="0.7" d="M338.8 503.6h0.5v-0.4h-0.5zM404.3 503.6h0.5v-0.3h-0.5zM352.3 503.6h0.5v-0.8h-0.5zM406.0 503.6h0.5v-0.4h-0.5zM348.6 503.6h0.5v-0.7h-0.5zM303.6 503.6h0.5v-0.4h-0.5z"/>
<path fill="#f23ec8" stroke="#f23ec8" stroke-width="0.25" d="M337.8 503.6L338.7 503.4L339.3 502.9L339.6 502.5L339.9 503.0L340.5 503.3L341.6 503.6ZM342.4 503.6L343.3 503.4L343.9 503.0L344.2 502.7L344.5 503.1L345.1 503.4L346.2 503.6ZM343.9 503.6L344.6 503.4L345.1 502.9L345.3 502.5L345.5 503.0L346.0 503.3L346.8 503.6ZM347.1 503.6L348.1 503.3L348.8 502.6L349.1 502.1L349.4 502.8L350.1 503.2L351.3 503.6ZM349.6 503.6L350.8 503.5L351.6 503.2L352.0 503.1L352.4 503.3L353.2 503.5L354.6 503.6Z"/>
<text x="306.00" y="509.20" font-size="6.3" font-weight="bold" font-style="italic" textLength="24.7" lengthAdjust="spacingAndGlyphs" stroke="#000" stroke-width="0.15">CASC11</text>
<text x="354.00" y="509.20" font-size="6.3" font-weight="bold" font-style="italic" textLength="13.7" lengthAdjust="spacingAndGlyphs" stroke="#000" stroke-width="0.15">MYC</text>
<path d="M346.2 507.9V505.3H349.4" fill="none" stroke="#111" stroke-width="0.7"/>
<path d="M350.3 505.3l-1.3 -0.9v1.8z" fill="#111"/>
<line x1="306.00" y1="511.20" x2="339.20" y2="511.20" stroke="#1a7a1a" stroke-width="0.8" stroke-dasharray="1,0.9"/>
<rect x="320.30" y="510.20" width="3.70" height="2.00" fill="#1a6a1a"/>
<line x1="346.80" y1="511.20" x2="377.60" y2="511.20" stroke="#1a1aa0" stroke-width="0.8" stroke-dasharray="1,0.9"/>
<rect x="346.80" y="510.20" width="6.60" height="2.00" fill="#0a0a90"/>
<rect x="361.00" y="510.20" width="4.20" height="2.00" fill="#0a0a90"/>
<rect x="372.00" y="510.20" width="5.60" height="2.00" fill="#0a0a90"/>
<rect x="305.00" y="513.95" width="1.00" height="0.90" fill="#444"/>
<rect x="339.00" y="513.95" width="1.00" height="0.90" fill="#444"/>
<rect x="343.00" y="513.95" width="8.60" height="0.90" fill="#444"/>
<rect x="356.30" y="513.95" width="3.70" height="0.90" fill="#444"/>
<line x1="299.40" y1="517.20" x2="407.50" y2="517.20" stroke="#d8d8d8" stroke-width="0.6"/>
<path d="M339.6 517.2Q343.1 540.4 346.5 517.2" class="c27"/>
<path d="M346.5 517.2Q347.4 540.4 348.3 517.2" class="c27"/>
<path d="M347.0 517.2Q348.0 540.4 349.0 517.2" class="c27"/>
<path d="M351.0 517.2Q354.8 540.4 358.5 517.2" class="c27"/>
<rect x="291.8" y="517.0" width="1.6" height="10" fill="url(#gF)"/>
<text x="291.50" y="516.40" font-size="2.2" fill="#555">score</text>
<text x="294.80" y="518.50" font-size="2.2" fill="#555">0.25</text>
<text x="294.80" y="522.50" font-size="2.2" fill="#555">0.5</text>
<text x="294.80" y="526.50" font-size="2.2" fill="#555">0.75</text>
<line x1="299.40" y1="528.80" x2="407.50" y2="528.80" stroke="#777" stroke-width="0.6"/>
<line x1="318.00" y1="528.80" x2="318.00" y2="529.80" class="c16"/>
<text x="318.00" y="532.00" class="c17">127700000</text>
<line x1="342.00" y1="528.80" x2="342.00" y2="529.80" class="c16"/>
<text x="342.00" y="532.00" class="c17">127730000</text>
<line x1="366.00" y1="528.80" x2="366.00" y2="529.80" class="c16"/>
<text x="366.00" y="532.00" class="c17">127760000</text>
<line x1="390.00" y1="528.80" x2="390.00" y2="529.80" class="c16"/>
<text x="390.00" y="532.00" class="c17">127790000</text>
<text x="353.45" y="535.40" font-size="3.2" text-anchor="middle" fill="#444">chr8 position (bp)</text>
<text x="417.90" y="473.65" font-size="3.3" text-anchor="middle" fill="#333" transform="rotate(-90 417.90 473.65)" textLength="59.5" lengthAdjust="spacingAndGlyphs">P-UBC P-Pho CNP PE Glut GABA-int GABA</text>
<text x="424.80" y="444.60" class="c25">60</text>
<text x="425.60" y="450.40" class="c6" transform="rotate(-90 425.60 450.40)">0-60</text>
<text x="425.60" y="459.20" class="c6" transform="rotate(-90 425.60 459.20)">0-60</text>
<text x="425.60" y="467.90" class="c6" transform="rotate(-90 425.60 467.90)">0-60</text>
<text x="425.60" y="476.70" class="c6" transform="rotate(-90 425.60 476.70)">0-60</text>
<text x="425.60" y="485.00" class="c6" transform="rotate(-90 425.60 485.00)">0-60</text>
<text x="425.60" y="493.50" class="c6" transform="rotate(-90 425.60 493.50)">0-60</text>
<text x="425.60" y="501.90" class="c6" transform="rotate(-90 425.60 501.90)">0-60</text>
<text x="424.80" y="504.20" class="c25">0</text>
<line x1="425.30" y1="451.90" x2="531.50" y2="451.90" class="c7"/>
<path fill="#f25c5c" opacity="0.7" d="M519.8 451.9h0.5v-0.4h-0.5zM467.0 451.9h0.5v-0.5h-0.5zM470.4 451.9h0.5v-0.3h-0.5zM428.9 451.9h0.5v-0.9h-0.5zM506.4 451.9h0.5v-0.7h-0.5z"/>
<path fill="#f25c5c" stroke="#f25c5c" stroke-width="0.25" d="M452.1 451.9L452.4 451.7L452.6 451.2L452.7 450.9L452.8 451.3L453.0 451.6L453.4 451.9ZM469.6 451.9L469.9 451.7L470.1 451.4L470.2 451.1L470.3 451.5L470.5 451.7L470.9 451.9ZM474.0 451.9L474.3 451.7L474.5 451.4L474.6 451.2L474.7 451.5L474.9 451.7L475.3 451.9ZM483.8 451.9L484.1 451.8L484.3 451.5L484.4 451.3L484.5 451.6L484.7 451.8L485.1 451.9ZM509.0 451.9L509.3 451.5L509.5 450.9L509.6 450.3L509.7 451.0L509.9 451.5L510.3 451.9Z"/>
<line x1="425.30" y1="460.70" x2="531.50" y2="460.70" class="c7"/>
<path fill="#c8900a" opacity="0.7" d="M449.7 460.7h0.5v-0.5h-0.5zM483.9 460.7h0.5v-0.4h-0.5zM474.3 460.7h0.5v-0.9h-0.5zM464.0 460.7h0.5v-0.5h-0.5zM529.5 460.7h0.5v-0.7h-0.5z"/>
<path fill="#c8900a" stroke="#c8900a" stroke-width="0.25" d="M452.1 460.7L452.4 460.5L452.6 460.1L452.7 459.7L452.8 460.1L453.0 460.4L453.4 460.7ZM469.6 460.7L469.9 460.5L470.1 460.2L470.2 459.9L470.3 460.3L470.5 460.5L470.9 460.7ZM474.0 460.7L474.3 460.5L474.5 460.2L474.6 460.0L474.7 460.3L474.9 460.5L475.3 460.7ZM483.8 460.7L484.1 460.6L484.3 460.3L484.4 460.1L484.5 460.4L484.7 460.6L485.1 460.7ZM509.0 460.7L509.3 460.3L509.5 459.7L509.6 459.1L509.7 459.8L509.9 460.3L510.3 460.7Z"/>
<line x1="425.30" y1="469.40" x2="531.50" y2="469.40" class="c7"/>
<path fill="#4caf14" opacity="0.7" d="M429.5 469.4h0.5v-0.5h-0.5zM494.3 469.4h0.5v-0.3h-0.5zM461.7 469.4h0.5v-0.7h-0.5zM517.1 469.4h0.5v-0.7h-0.5zM519.4 469.4h0.5v-0.6h-0.5z"/>
<path fill="#4caf14" stroke="#4caf14" stroke-width="0.25" d="M452.1 469.4L452.4 469.2L452.6 468.8L452.7 468.4L452.8 468.8L453.0 469.1L453.4 469.4ZM469.6 469.4L469.9 469.2L470.1 468.9L470.2 468.6L470.3 469.0L470.5 469.2L470.9 469.4ZM474.0 469.4L474.3 469.2L474.5 468.9L474.6 468.7L474.7 469.0L474.9 469.2L475.3 469.4ZM483.8 469.4L484.1 469.3L484.3 469.0L484.4 468.8L484.5 469.1L484.7 469.2L485.1 469.4ZM509.0 469.4L509.3 469.0L509.5 468.4L509.6 467.8L509.7 468.5L509.9 469.0L510.3 469.4Z"/>
<line x1="425.30" y1="478.20" x2="531.50" y2="478.20" class="c7"/>
<path fill="#16b08e" opacity="0.7" d="M467.0 478.2h0.5v-0.8h-0.5zM465.8 478.2h0.5v-0.8h-0.5zM448.2 478.2h0.5v-0.5h-0.5zM444.8 478.2h0.5v-0.6h-0.5zM442.7 478.2h0.5v-0.4h-0.5zM448.1 478.2h0.5v-0.6h-0.5zM458.1 478.2h0.5v-0.6h-0.5zM530.8 478.2h0.5v-0.7h-0.5zM516.9 478.2h0.5v-0.4h-0.5zM466.0 478.2h0.5v-0.3h-0.5z"/>
<path fill="#16b08e" stroke="#16b08e" stroke-width="0.25" d="M432.4 478.2L432.7 478.0L432.9 477.6L433.0 477.2L433.1 477.6L433.3 477.9L433.7 478.2ZM452.1 478.2L452.4 477.9L452.6 477.2L452.7 476.7L452.8 477.4L453.0 477.8L453.4 478.2ZM455.4 478.2L455.7 478.0L455.9 477.6L456.0 477.2L456.1 477.6L456.3 477.9L456.7 478.2ZM469.6 478.2L469.9 478.0L470.1 477.6L470.2 477.2L470.3 477.6L470.5 477.9L470.9 478.2ZM483.8 478.2L484.1 478.0L484.3 477.6L484.4 477.2L484.5 477.6L484.7 477.9L485.1 478.2ZM509.0 478.2L509.3 477.9L509.5 477.3L509.6 476.8L509.7 477.4L509.9 477.8L510.3 478.2Z"/>
<line x1="425.30" y1="486.50" x2="531.50" y2="486.50" class="c7"/>
<path fill="#18a6e2" opacity="0.7" d="M498.7 486.5h0.5v-0.5h-0.5zM454.5 486.5h0.5v-0.3h-0.5zM444.6 486.5h0.5v-0.5h-0.5zM467.0 486.5h0.5v-0.9h-0.5zM501.3 486.5h0.5v-0.5h-0.5zM463.6 486.5h0.5v-0.4h-0.5z"/>
<path fill="#18a6e2" stroke="#18a6e2" stroke-width="0.25" d="M452.1 486.5L452.4 486.3L452.6 485.9L452.7 485.5L452.8 485.9L453.0 486.2L453.4 486.5ZM469.6 486.5L469.9 486.3L470.1 486.0L470.2 485.7L470.3 486.1L470.5 486.3L470.9 486.5ZM474.0 486.5L474.3 486.3L474.5 486.0L474.6 485.8L474.7 486.1L474.9 486.3L475.3 486.5ZM483.8 486.5L484.1 486.4L484.3 486.1L484.4 485.9L484.5 486.2L484.7 486.4L485.1 486.5ZM509.0 486.5L509.3 486.1L509.5 485.5L509.6 484.9L509.7 485.6L509.9 486.1L510.3 486.5Z"/>
<line x1="425.30" y1="495.00" x2="531.50" y2="495.00" class="c7"/>
<path fill="#9d74f4" opacity="0.7" d="M524.8 495.0h0.5v-0.5h-0.5zM506.6 495.0h0.5v-0.7h-0.5zM521.6 495.0h0.5v-0.3h-0.5zM459.5 495.0h0.5v-0.5h-0.5zM434.1 495.0h0.5v-0.8h-0.5z"/>
<path fill="#9d74f4" stroke="#9d74f4" stroke-width="0.25" d="M452.1 495.0L452.4 494.7L452.6 494.0L452.7 493.5L452.8 494.2L453.0 494.6L453.4 495.0ZM474.0 495.0L474.3 494.8L474.5 494.5L474.6 494.2L474.7 494.6L474.9 494.8L475.3 495.0ZM509.0 495.0L509.3 494.6L509.5 493.8L509.6 493.2L509.7 494.0L509.9 494.6L510.3 495.0Z"/>
<line x1="425.30" y1="503.40" x2="531.50" y2="503.40" class="c7"/>
<path fill="#f23ec8" opacity="0.7" d="M459.8 503.4h0.5v-0.8h-0.5zM480.4 503.4h0.5v-0.3h-0.5zM467.1 503.4h0.5v-0.4h-0.5zM429.6 503.4h0.5v-0.4h-0.5zM488.5 503.4h0.5v-0.3h-0.5z"/>
<path fill="#f23ec8" stroke="#f23ec8" stroke-width="0.25" d="M469.6 503.4L469.9 503.2L470.1 502.9L470.2 502.6L470.3 503.0L470.5 503.2L470.9 503.4ZM509.0 503.4L509.3 503.2L509.5 502.8L509.6 502.4L509.7 502.8L509.9 503.1L510.3 503.4Z"/>
<text x="464.70" y="509.00" font-size="6.3" font-weight="bold" font-style="italic" textLength="16.1" lengthAdjust="spacingAndGlyphs" stroke="#000" stroke-width="0.15">TCF4</text>
<path d="M526.0 508.4V505.8H522.8" fill="none" stroke="#111" stroke-width="0.7"/>
<path d="M521.9 505.8l1.3 -0.9v1.8z" fill="#111"/>
<line x1="433.00" y1="511.20" x2="526.00" y2="511.20" stroke="#1a1aa0" stroke-width="0.8" stroke-dasharray="1,0.9"/>
<rect x="432.50" y="510.30" width="3.00" height="1.80" fill="#0a0a90"/>
<rect x="443.00" y="510.40" width="3.00" height="1.60" fill="#0a0a90"/>
<rect x="508.50" y="510.40" width="2.00" height="1.60" fill="#0a0a90"/>
<rect x="433.50" y="513.75" width="1.00" height="0.90" fill="#444"/>
<rect x="443.00" y="513.75" width="1.00" height="0.90" fill="#444"/>
<rect x="452.00" y="513.75" width="1.00" height="0.90" fill="#444"/>
<rect x="455.00" y="513.75" width="1.00" height="0.90" fill="#444"/>
<rect x="460.00" y="513.75" width="1.00" height="0.90" fill="#444"/>
<rect x="470.00" y="513.75" width="1.00" height="0.90" fill="#444"/>
<rect x="474.00" y="513.75" width="1.00" height="0.90" fill="#444"/>
<rect x="484.00" y="513.75" width="1.00" height="0.90" fill="#444"/>
<rect x="494.00" y="513.75" width="1.00" height="0.90" fill="#444"/>
<rect x="509.00" y="513.75" width="1.50" height="0.90" fill="#444"/>
<rect x="521.00" y="513.75" width="1.00" height="0.90" fill="#444"/>
<line x1="425.30" y1="528.50" x2="531.50" y2="528.50" stroke="#777" stroke-width="0.6"/>
<line x1="427.00" y1="528.50" x2="427.00" y2="529.50" class="c16"/>
<text x="427.00" y="531.70" class="c17">52800000</text>
<line x1="447.00" y1="528.50" x2="447.00" y2="529.50" class="c16"/>
<text x="447.00" y="531.70" class="c17">52900000</text>
<line x1="466.00" y1="528.50" x2="466.00" y2="529.50" class="c16"/>
<text x="466.00" y="531.70" class="c17">53000000</text>
<line x1="485.50" y1="528.50" x2="485.50" y2="529.50" class="c16"/>
<text x="485.50" y="531.70" class="c17">53100000</text>
<line x1="506.00" y1="528.50" x2="506.00" y2="529.50" class="c16"/>
<text x="506.00" y="531.70" class="c17">53200000</text>
<text x="478.40" y="535.10" font-size="3.2" text-anchor="middle" fill="#444">chr18 position (bp)</text>
<text x="548.30" y="473.65" font-size="3.3" text-anchor="middle" fill="#333" transform="rotate(-90 548.30 473.65)" textLength="59.5" lengthAdjust="spacingAndGlyphs">P-UBC P-Pho CNP PE Glut GABA-int GABA</text>
<text x="553.20" y="444.60" class="c25">550</text>
<text x="554.00" y="450.40" class="c6" transform="rotate(-90 554.00 450.40)">0-550</text>
<text x="554.00" y="459.20" class="c6" transform="rotate(-90 554.00 459.20)">0-550</text>
<text x="554.00" y="467.90" class="c6" transform="rotate(-90 554.00 467.90)">0-550</text>
<text x="554.00" y="476.70" class="c6" transform="rotate(-90 554.00 476.70)">0-550</text>
<text x="554.00" y="485.00" class="c6" transform="rotate(-90 554.00 485.00)">0-550</text>
<text x="554.00" y="493.50" class="c6" transform="rotate(-90 554.00 493.50)">0-550</text>
<text x="554.00" y="501.90" class="c6" transform="rotate(-90 554.00 501.90)">0-550</text>
<text x="553.20" y="504.20" class="c25">0</text>
<line x1="555.80" y1="451.90" x2="662.00" y2="451.90" class="c7"/>
<path fill="#f25c5c" opacity="0.7" d="M589.0 451.9h0.5v-0.6h-0.5zM613.6 451.9h0.5v-0.4h-0.5zM630.8 451.9h0.5v-0.5h-0.5zM632.8 451.9h0.5v-0.7h-0.5zM571.4 451.9h0.5v-0.4h-0.5zM585.6 451.9h0.5v-0.7h-0.5z"/>
<path fill="#f25c5c" stroke="#f25c5c" stroke-width="0.25" d="M573.8 451.9L574.4 451.7L574.8 451.2L575.0 450.9L575.2 451.3L575.6 451.6L576.3 451.9ZM598.6 451.9L599.8 451.6L600.6 451.1L601.0 450.7L601.4 451.2L602.2 451.6L603.6 451.9ZM643.4 451.9L644.2 451.7L644.8 451.2L645.0 450.9L645.2 451.3L645.8 451.6L646.8 451.9Z"/>
<line x1="555.80" y1="460.70" x2="662.00" y2="460.70" class="c7"/>
<path fill="#c8900a" opacity="0.7" d="M598.8 460.7h0.5v-0.5h-0.5zM647.8 460.7h0.5v-0.4h-0.5zM586.8 460.7h0.5v-0.5h-0.5zM578.7 460.7h0.5v-0.3h-0.5zM558.4 460.7h0.5v-0.7h-0.5zM615.9 460.7h0.5v-0.8h-0.5z"/>
<path fill="#c8900a" stroke="#c8900a" stroke-width="0.25" d="M573.8 460.7L574.4 460.5L574.8 460.2L575.0 459.9L575.2 460.3L575.6 460.5L576.3 460.7ZM599.0 460.7L600.0 460.5L600.7 460.1L601.0 459.7L601.3 460.1L602.0 460.4L603.2 460.7ZM643.8 460.7L644.4 460.5L644.8 460.1L645.0 459.7L645.2 460.1L645.6 460.4L646.3 460.7Z"/>
<line x1="555.80" y1="469.40" x2="662.00" y2="469.40" class="c7"/>
<path fill="#4caf14" opacity="0.7" d="M659.4 469.4h0.5v-0.5h-0.5zM627.0 469.4h0.5v-0.9h-0.5zM578.8 469.4h0.5v-0.7h-0.5zM626.6 469.4h0.5v-0.9h-0.5zM648.0 469.4h0.5v-0.4h-0.5zM623.0 469.4h0.5v-0.4h-0.5zM601.2 469.4h0.5v-0.5h-0.5zM562.2 469.4h0.5v-0.5h-0.5z"/>
<path fill="#4caf14" stroke="#4caf14" stroke-width="0.25" d="M573.8 469.4L574.4 469.2L574.8 468.8L575.0 468.4L575.2 468.8L575.6 469.1L576.3 469.4ZM598.6 469.4L599.8 469.1L600.6 468.6L601.0 468.2L601.4 468.7L602.2 469.1L603.6 469.4ZM626.8 469.4L627.4 469.2L627.8 468.8L628.0 468.4L628.2 468.8L628.6 469.1L629.3 469.4ZM643.4 469.4L644.2 469.1L644.8 468.6L645.0 468.2L645.2 468.7L645.8 469.1L646.8 469.4Z"/>
<line x1="555.80" y1="478.20" x2="662.00" y2="478.20" class="c7"/>
<path fill="#16b08e" opacity="0.7" d="M590.7 478.2h0.5v-0.6h-0.5zM585.5 478.2h0.5v-0.4h-0.5zM598.5 478.2h0.5v-0.6h-0.5zM573.5 478.2h0.5v-0.7h-0.5zM581.3 478.2h0.5v-0.4h-0.5zM592.1 478.2h0.5v-0.6h-0.5zM571.8 478.2h0.5v-0.6h-0.5zM630.3 478.2h0.5v-0.6h-0.5zM630.2 478.2h0.5v-0.3h-0.5zM597.4 478.2h0.5v-0.5h-0.5z"/>
<path fill="#16b08e" stroke="#16b08e" stroke-width="0.25" d="M573.8 478.2L574.4 477.9L574.8 477.2L575.0 476.7L575.2 477.4L575.6 477.8L576.3 478.2ZM598.6 478.2L599.8 477.9L600.6 477.2L601.0 476.7L601.4 477.4L602.2 477.8L603.6 478.2ZM626.8 478.2L627.4 477.9L627.8 477.4L628.0 477.0L628.2 477.5L628.6 477.9L629.3 478.2ZM643.4 478.2L644.2 477.9L644.8 477.2L645.0 476.7L645.2 477.4L645.8 477.8L646.8 478.2Z"/>
<line x1="555.80" y1="486.50" x2="662.00" y2="486.50" class="c7"/>
<path fill="#18a6e2" stroke="#18a6e2" stroke-width="0.25" d="M598.6 486.5L599.8 485.3L600.6 482.9L601.0 481.0L601.4 483.5L602.2 485.1L603.6 486.5ZM599.0 486.5L599.4 484.7L599.8 486.5ZM599.0 486.5L599.4 484.6L599.8 486.5ZM600.9 486.5L601.3 484.6L601.7 486.5ZM596.8 486.5L597.4 485.6L597.8 483.9L598.0 482.5L598.2 484.3L598.6 485.5L599.3 486.5ZM597.3 486.5L597.7 485.4L598.1 486.5ZM596.7 486.5L597.1 485.3L597.5 486.5ZM598.3 486.5L598.7 485.0L599.1 486.5ZM573.4 486.5L574.2 485.7L574.8 484.2L575.0 483.0L575.2 484.6L575.8 485.6L576.8 486.5ZM574.0 486.5L574.4 485.1L574.8 486.5ZM573.8 486.5L574.2 485.3L574.6 486.5ZM574.9 486.5L575.3 484.8L575.7 486.5ZM643.4 486.5L644.2 485.6L644.8 483.9L645.0 482.5L645.2 484.3L645.8 485.5L646.8 486.5ZM644.3 486.5L644.7 485.0L645.1 486.5ZM645.7 486.5L646.1 484.8L646.5 486.5ZM644.9 486.5L645.3 485.0L645.7 486.5ZM618.8 486.5L619.4 485.7L619.8 484.2L620.0 483.0L620.2 484.6L620.6 485.6L621.3 486.5ZM619.4 486.5L619.8 485.4L620.2 486.5ZM619.2 486.5L619.6 484.9L620.0 486.5ZM620.3 486.5L620.7 485.4L621.1 486.5ZM557.0 486.5L557.0 485.4L557.7 486.2L558.4 486.2L559.1 485.9L559.8 486.0L560.5 486.0L561.2 485.3L561.9 486.1L562.6 486.1L563.3 486.1L564.0 485.7L564.7 486.1L565.4 486.2L566.1 485.8L566.8 486.0L567.5 486.1L568.2 485.9L568.9 485.7L569.6 485.8L570.3 485.8L571.0 485.8L571.7 485.5L572.4 485.3L573.1 486.0L573.8 486.0L574.5 485.4L575.0 486.5ZM575.0 486.5L575.0 485.1L575.6 484.0L576.2 484.0L576.8 484.1L577.4 483.0L578.0 483.6L578.6 485.4L579.2 484.3L579.8 484.7L580.4 484.5L581.0 485.0L581.6 485.2L582.2 483.8L582.8 484.5L583.4 485.3L584.0 485.3L584.6 485.1L585.2 485.4L585.8 484.6L586.4 485.5L587.0 485.6L587.6 485.6L588.2 485.5L588.8 484.0L589.4 485.5L590.0 484.8L590.6 483.8L591.2 484.7L591.8 485.4L592.4 483.4L593.0 483.4L593.6 485.6L594.2 485.3L594.8 484.6L595.4 483.7L596.0 484.9L596.6 484.0L597.2 485.3L597.8 484.0L598.4 485.1L599.0 485.1L599.6 483.8L600.2 483.5L600.8 483.6L601.4 484.4L602.0 484.9L602.6 484.0L603.2 484.3L603.8 483.6L604.4 483.7L605.0 485.5L605.6 485.0L606.2 484.1L606.8 485.3L607.4 485.4L608.0 485.6L608.6 484.4L609.2 483.1L609.8 483.0L610.4 485.5L611.0 484.1L611.6 484.9L612.2 484.2L612.8 484.9L613.4 483.2L614.0 482.9L614.6 485.6L615.2 484.0L615.8 485.5L616.4 485.6L617.0 485.2L617.6 483.9L618.2 482.9L618.8 485.5L619.4 485.1L620.0 485.6L620.6 484.5L621.2 484.7L621.8 485.0L622.4 485.1L623.0 483.7L623.6 483.5L624.2 485.2L624.8 484.9L625.4 484.3L626.0 483.8L626.6 483.0L627.2 484.9L627.8 484.0L628.4 484.5L629.0 483.7L629.6 485.4L630.2 485.4L630.8 485.5L631.4 483.2L632.0 485.3L632.6 484.7L633.2 485.5L633.8 485.1L634.4 485.6L635.0 484.5L635.6 485.5L636.2 484.3L636.8 485.2L637.4 485.3L638.0 484.7L638.6 485.0L639.2 485.2L639.8 485.6L640.4 485.6L641.0 483.3L641.6 485.1L642.2 485.5L642.8 485.4L643.4 484.7L644.0 482.9L644.6 485.4L645.2 483.4L645.8 484.7L646.4 484.9L647.0 483.6L647.6 484.9L648.2 485.6L648.8 484.5L649.4 484.2L650.0 484.3L650.6 485.2L651.2 483.1L651.8 483.4L652.4 482.9L653.0 484.8L653.6 483.5L654.2 483.9L654.8 485.4L655.4 485.6L656.0 485.4L656.5 486.5Z"/>
<line x1="555.80" y1="495.00" x2="662.00" y2="495.00" class="c7"/>
<path fill="#9d74f4" opacity="0.7" d="M568.4 495.0h0.5v-0.3h-0.5zM593.9 495.0h0.5v-0.8h-0.5zM588.7 495.0h0.5v-0.6h-0.5zM556.9 495.0h0.5v-0.4h-0.5zM657.7 495.0h0.5v-0.3h-0.5zM611.8 495.0h0.5v-0.8h-0.5zM639.9 495.0h0.5v-0.7h-0.5zM598.2 495.0h0.5v-0.8h-0.5z"/>
<path fill="#9d74f4" stroke="#9d74f4" stroke-width="0.25" d="M598.0 495.0L599.5 494.8L600.5 494.5L601.0 494.2L601.5 494.6L602.5 494.8L604.3 495.0Z"/>
<line x1="555.80" y1="503.40" x2="662.00" y2="503.40" class="c7"/>
<path fill="#f23ec8" opacity="0.7" d="M643.7 503.4h0.5v-0.8h-0.5zM660.5 503.4h0.5v-0.4h-0.5zM656.7 503.4h0.5v-0.5h-0.5zM630.7 503.4h0.5v-0.5h-0.5zM652.4 503.4h0.5v-0.3h-0.5zM617.1 503.4h0.5v-0.4h-0.5z"/>
<path fill="#f23ec8" stroke="#f23ec8" stroke-width="0.25" d="M619.0 503.4L619.5 503.3L619.9 503.0L620.0 502.8L620.1 503.1L620.5 503.2L621.1 503.4Z"/>
<text x="609.40" y="509.00" font-size="6.3" font-weight="bold" font-style="italic" textLength="13.2" lengthAdjust="spacingAndGlyphs" stroke="#000" stroke-width="0.15">HLX</text>
<path d="M602.0 508.8V506.2H605.2" fill="none" stroke="#111" stroke-width="0.7"/>
<path d="M606.1 506.2l-1.3 -0.9v1.8z" fill="#111"/>
<rect x="601.80" y="510.10" width="29.50" height="2.20" fill="#0a0a90"/>
<rect x="575.00" y="513.45" width="1.00" height="0.90" fill="#444"/>
<line x1="555.80" y1="517.60" x2="662.00" y2="517.60" stroke="#d8d8d8" stroke-width="0.6"/>
<path d="M575.5 517.6Q588.6 540.4 601.8 517.6" class="c27"/>
<rect x="548.6" y="517.0" width="1.6" height="10" fill="url(#gF)"/>
<text x="548.30" y="516.40" font-size="2.2" fill="#555">score</text>
<text x="551.60" y="518.50" font-size="2.2" fill="#555">0.25</text>
<text x="551.60" y="522.50" font-size="2.2" fill="#555">0.5</text>
<text x="551.60" y="526.50" font-size="2.2" fill="#555">0.75</text>
<line x1="555.80" y1="528.80" x2="662.00" y2="528.80" stroke="#777" stroke-width="0.6"/>
<line x1="578.00" y1="528.80" x2="578.00" y2="529.80" class="c16"/>
<text x="578.00" y="532.00" class="c17">220860000</text>
<line x1="604.00" y1="528.80" x2="604.00" y2="529.80" class="c16"/>
<text x="604.00" y="532.00" class="c17">220880000</text>
<line x1="630.00" y1="528.80" x2="630.00" y2="529.80" class="c16"/>
<text x="630.00" y="532.00" class="c17">220900000</text>
<line x1="656.00" y1="528.80" x2="656.00" y2="529.80" class="c16"/>
<text x="656.00" y="532.00" class="c17">220920000</text>
<text x="608.90" y="535.40" font-size="3.2" text-anchor="middle" fill="#444">chr1 position (bp)</text>
<text x="39.40" y="572.15" font-size="3.3" text-anchor="middle" fill="#333" transform="rotate(-90 39.40 572.15)" textLength="57.7" lengthAdjust="spacingAndGlyphs">RPE P-Pho CMP PE Glut GABA-int GABA</text>
<text x="44.30" y="544.00" class="c25">200</text>
<text x="45.10" y="549.80" class="c6" transform="rotate(-90 45.10 549.80)">0-200</text>
<text x="45.10" y="557.80" class="c6" transform="rotate(-90 45.10 557.80)">0-200</text>
<text x="45.10" y="565.90" class="c6" transform="rotate(-90 45.10 565.90)">0-200</text>
<text x="45.10" y="574.50" class="c6" transform="rotate(-90 45.10 574.50)">0-200</text>
<text x="45.10" y="582.60" class="c6" transform="rotate(-90 45.10 582.60)">0-200</text>
<text x="45.10" y="591.10" class="c6" transform="rotate(-90 45.10 591.10)">0-200</text>
<text x="45.10" y="599.50" class="c6" transform="rotate(-90 45.10 599.50)">0-200</text>
<text x="44.30" y="601.80" class="c25">0</text>
<line x1="47.00" y1="551.30" x2="154.30" y2="551.30" class="c7"/>
<path fill="#f25c5c" opacity="0.7" d="M85.0 551.3h0.5v-0.5h-0.5zM144.1 551.3h0.5v-0.5h-0.5zM57.1 551.3h0.5v-0.5h-0.5zM126.6 551.3h0.5v-0.4h-0.5zM126.7 551.3h0.5v-0.6h-0.5zM120.0 551.3h0.5v-0.4h-0.5zM58.4 551.3h0.5v-0.4h-0.5zM84.6 551.3h0.5v-0.6h-0.5z"/>
<path fill="#f25c5c" stroke="#f25c5c" stroke-width="0.25" d="M79.2 551.3L80.2 550.0L80.9 547.4L81.2 545.3L81.5 548.0L82.2 549.8L83.4 551.3ZM80.5 551.3L80.9 549.4L81.3 551.3ZM81.3 551.3L81.7 548.6L82.1 551.3ZM80.4 551.3L80.8 549.0L81.2 551.3ZM99.6 551.3L100.4 551.0L101.0 550.5L101.2 550.1L101.4 550.6L102.0 551.0L103.0 551.3ZM103.4 551.3L104.2 551.1L104.8 550.6L105.0 550.3L105.2 550.8L105.8 551.0L106.8 551.3Z"/>
<line x1="47.00" y1="559.30" x2="154.30" y2="559.30" class="c7"/>
<path fill="#c8900a" opacity="0.7" d="M76.3 559.3h0.5v-0.7h-0.5zM148.7 559.3h0.5v-0.5h-0.5zM66.7 559.3h0.5v-0.5h-0.5zM153.2 559.3h0.5v-0.4h-0.5zM115.1 559.3h0.5v-0.5h-0.5zM116.1 559.3h0.5v-0.4h-0.5zM113.1 559.3h0.5v-0.8h-0.5zM138.9 559.3h0.5v-0.7h-0.5zM101.2 559.3h0.5v-0.6h-0.5zM59.2 559.3h0.5v-0.8h-0.5zM121.0 559.3h0.5v-0.6h-0.5zM118.4 559.3h0.5v-0.6h-0.5z"/>
<path fill="#c8900a" stroke="#c8900a" stroke-width="0.25" d="M79.2 559.3L80.2 558.0L80.9 555.4L81.2 553.3L81.5 556.0L82.2 557.8L83.4 559.3ZM79.3 559.3L79.7 557.2L80.1 559.3ZM80.5 559.3L80.9 557.5L81.3 559.3ZM80.9 559.3L81.3 556.4L81.7 559.3ZM99.4 559.3L100.3 558.4L100.9 556.7L101.2 555.3L101.5 557.1L102.1 558.3L103.2 559.3ZM100.0 559.3L100.4 557.4L100.8 559.3ZM100.3 559.3L100.7 557.6L101.1 559.3ZM99.7 559.3L100.1 557.3L100.5 559.3ZM103.2 559.3L104.1 558.5L104.7 557.0L105.0 555.8L105.3 557.4L105.9 558.4L107.0 559.3ZM104.4 559.3L104.8 557.6L105.2 559.3ZM103.8 559.3L104.2 558.2L104.6 559.3ZM105.2 559.3L105.6 558.4L106.0 559.3ZM132.4 559.3L133.2 559.0L133.8 558.5L134.0 558.0L134.2 558.6L134.8 559.0L135.8 559.3Z"/>
<line x1="47.00" y1="567.40" x2="154.30" y2="567.40" class="c7"/>
<path fill="#4caf14" opacity="0.7" d="M90.1 567.4h0.5v-0.8h-0.5zM60.6 567.4h0.5v-0.9h-0.5zM99.7 567.4h0.5v-0.4h-0.5zM137.2 567.4h0.5v-0.7h-0.5zM147.6 567.4h0.5v-0.8h-0.5zM132.6 567.4h0.5v-0.6h-0.5zM153.6 567.4h0.5v-0.3h-0.5zM140.4 567.4h0.5v-0.7h-0.5zM73.9 567.4h0.5v-0.8h-0.5zM95.7 567.4h0.5v-0.6h-0.5zM139.9 567.4h0.5v-0.4h-0.5zM77.0 567.4h0.5v-0.7h-0.5zM54.9 567.4h0.5v-0.6h-0.5zM131.5 567.4h0.5v-0.6h-0.5zM72.9 567.4h0.5v-0.8h-0.5zM138.7 567.4h0.5v-0.8h-0.5zM105.9 567.4h0.5v-0.8h-0.5zM132.5 567.4h0.5v-0.4h-0.5zM86.3 567.4h0.5v-0.4h-0.5zM50.9 567.4h0.5v-0.5h-0.5z"/>
<path fill="#4caf14" stroke="#4caf14" stroke-width="0.25" d="M79.2 567.4L80.2 566.1L80.9 563.5L81.2 561.4L81.5 564.1L82.2 565.9L83.4 567.4ZM80.5 567.4L80.9 565.8L81.3 567.4ZM81.1 567.4L81.5 565.2L81.9 567.4ZM80.8 567.4L81.2 566.1L81.6 567.4ZM91.5 567.4L92.5 567.1L93.2 566.4L93.5 565.9L93.8 566.6L94.5 567.0L95.7 567.4ZM99.4 567.4L100.3 566.5L100.9 564.8L101.2 563.4L101.5 565.2L102.1 566.4L103.2 567.4ZM101.1 567.4L101.5 566.1L101.9 567.4ZM101.1 567.4L101.5 565.9L101.9 567.4ZM102.0 567.4L102.4 566.4L102.8 567.4ZM103.2 567.4L104.1 566.7L104.7 565.4L105.0 564.4L105.3 565.8L105.9 566.6L107.0 567.4ZM104.5 567.4L104.9 565.9L105.3 567.4ZM105.2 567.4L105.6 566.5L106.0 567.4ZM105.2 567.4L105.6 565.9L106.0 567.4ZM132.4 567.4L133.2 567.1L133.8 566.4L134.0 565.9L134.2 566.6L134.8 567.0L135.8 567.4Z"/>
<line x1="47.00" y1="576.00" x2="154.30" y2="576.00" class="c7"/>
<path fill="#16b08e" opacity="0.7" d="M113.2 576.0h0.5v-0.8h-0.5zM54.7 576.0h0.5v-0.9h-0.5zM69.2 576.0h0.5v-0.7h-0.5zM141.1 576.0h0.5v-0.7h-0.5zM68.1 576.0h0.5v-0.7h-0.5zM93.2 576.0h0.5v-0.3h-0.5zM83.4 576.0h0.5v-0.5h-0.5zM114.6 576.0h0.5v-0.5h-0.5zM111.7 576.0h0.5v-0.7h-0.5zM66.4 576.0h0.5v-0.4h-0.5zM121.4 576.0h0.5v-0.6h-0.5zM60.9 576.0h0.5v-0.4h-0.5zM148.0 576.0h0.5v-0.7h-0.5zM85.4 576.0h0.5v-0.4h-0.5z"/>
<path fill="#16b08e" stroke="#16b08e" stroke-width="0.25" d="M79.2 576.0L80.2 574.8L80.9 572.4L81.2 570.5L81.5 573.0L82.2 574.6L83.4 576.0ZM81.9 576.0L82.3 573.5L82.7 576.0ZM79.7 576.0L80.1 574.6L80.5 576.0ZM80.5 576.0L80.9 573.5L81.3 576.0ZM100.2 576.0L100.7 575.7L101.0 575.0L101.2 574.5L101.4 575.2L101.7 575.6L102.3 576.0ZM104.0 576.0L104.5 575.7L104.8 575.0L105.0 574.5L105.2 575.2L105.5 575.6L106.1 576.0ZM62.2 576.0L62.6 575.8L62.9 575.4L63.0 575.0L63.1 575.5L63.4 575.8L63.9 576.0ZM135.2 576.0L135.6 575.7L135.9 575.2L136.0 574.8L136.1 575.3L136.4 575.7L136.9 576.0ZM141.2 576.0L141.6 575.7L141.9 575.2L142.0 574.8L142.1 575.3L142.4 575.7L142.9 576.0Z"/>
<line x1="47.00" y1="584.10" x2="154.30" y2="584.10" class="c7"/>
<path fill="#18a6e2" opacity="0.7" d="M77.6 584.1h0.5v-0.8h-0.5zM77.7 584.1h0.5v-0.8h-0.5zM119.6 584.1h0.5v-0.6h-0.5zM147.2 584.1h0.5v-0.5h-0.5zM126.8 584.1h0.5v-0.7h-0.5zM95.1 584.1h0.5v-0.3h-0.5zM92.0 584.1h0.5v-0.5h-0.5zM94.3 584.1h0.5v-0.9h-0.5zM78.4 584.1h0.5v-0.7h-0.5zM119.1 584.1h0.5v-0.4h-0.5zM91.2 584.1h0.5v-0.4h-0.5zM143.1 584.1h0.5v-0.5h-0.5zM92.1 584.1h0.5v-0.5h-0.5zM135.0 584.1h0.5v-0.8h-0.5z"/>
<path fill="#18a6e2" stroke="#18a6e2" stroke-width="0.25" d="M79.2 584.1L80.2 582.9L80.9 580.5L81.2 578.6L81.5 581.1L82.2 582.7L83.4 584.1ZM82.3 584.1L82.7 581.9L83.1 584.1ZM81.5 584.1L81.9 582.4L82.3 584.1ZM80.2 584.1L80.6 582.3L81.0 584.1ZM91.9 584.1L92.7 583.8L93.3 583.1L93.5 582.6L93.7 583.3L94.3 583.7L95.3 584.1ZM99.4 584.1L100.3 583.3L100.9 581.8L101.2 580.6L101.5 582.2L102.1 583.2L103.2 584.1ZM99.8 584.1L100.2 582.7L100.6 584.1ZM100.6 584.1L101.0 582.5L101.4 584.1ZM100.6 584.1L101.0 582.9L101.4 584.1ZM103.2 584.1L104.1 583.4L104.7 582.1L105.0 581.1L105.3 582.5L105.9 583.4L107.0 584.1ZM104.6 584.1L105.0 582.7L105.4 584.1ZM104.2 584.1L104.6 582.9L105.0 584.1ZM103.9 584.1L104.3 583.0L104.7 584.1ZM132.4 584.1L133.2 583.8L133.8 583.1L134.0 582.6L134.2 583.3L134.8 583.7L135.8 584.1Z"/>
<line x1="47.00" y1="592.60" x2="154.30" y2="592.60" class="c7"/>
<path fill="#9d74f4" opacity="0.7" d="M87.2 592.6h0.5v-0.7h-0.5zM118.8 592.6h0.5v-0.5h-0.5zM143.3 592.6h0.5v-0.9h-0.5zM49.5 592.6h0.5v-0.7h-0.5zM97.3 592.6h0.5v-0.5h-0.5zM96.9 592.6h0.5v-0.5h-0.5zM119.0 592.6h0.5v-0.7h-0.5zM151.1 592.6h0.5v-0.9h-0.5zM153.5 592.6h0.5v-0.5h-0.5zM135.9 592.6h0.5v-0.7h-0.5zM122.2 592.6h0.5v-0.9h-0.5zM54.1 592.6h0.5v-0.6h-0.5z"/>
<path fill="#9d74f4" stroke="#9d74f4" stroke-width="0.25" d="M79.2 592.6L80.2 591.3L80.9 588.7L81.2 586.6L81.5 589.3L82.2 591.1L83.4 592.6ZM81.1 592.6L81.5 590.4L81.9 592.6ZM79.6 592.6L80.0 589.8L80.4 592.6ZM79.6 592.6L80.0 590.7L80.4 592.6ZM99.4 592.6L100.3 592.2L100.9 591.3L101.2 590.6L101.5 591.5L102.1 592.1L103.2 592.6ZM103.2 592.6L104.1 592.2L104.7 591.3L105.0 590.6L105.3 591.5L105.9 592.1L107.0 592.6ZM132.8 592.6L133.4 592.4L133.8 592.0L134.0 591.6L134.2 592.1L134.6 592.4L135.3 592.6Z"/>
<line x1="47.00" y1="601.00" x2="154.30" y2="601.00" class="c7"/>
<path fill="#f23ec8" opacity="0.7" d="M62.3 601.0h0.5v-0.5h-0.5zM126.6 601.0h0.5v-0.4h-0.5zM64.9 601.0h0.5v-0.7h-0.5zM113.8 601.0h0.5v-0.7h-0.5zM74.2 601.0h0.5v-0.8h-0.5zM125.4 601.0h0.5v-0.8h-0.5zM59.8 601.0h0.5v-0.6h-0.5zM48.7 601.0h0.5v-0.8h-0.5zM148.3 601.0h0.5v-0.8h-0.5zM49.6 601.0h0.5v-0.5h-0.5zM104.5 601.0h0.5v-0.6h-0.5zM58.9 601.0h0.5v-0.8h-0.5zM79.4 601.0h0.5v-0.6h-0.5zM60.4 601.0h0.5v-0.6h-0.5zM60.9 601.0h0.5v-0.4h-0.5zM102.0 601.0h0.5v-0.5h-0.5zM130.4 601.0h0.5v-0.4h-0.5zM91.4 601.0h0.5v-0.3h-0.5z"/>
<path fill="#f23ec8" stroke="#f23ec8" stroke-width="0.25" d="M79.4 601.0L80.3 599.8L80.9 597.4L81.2 595.5L81.5 598.0L82.1 599.6L83.2 601.0ZM80.5 601.0L80.9 598.8L81.3 601.0ZM80.0 601.0L80.4 598.3L80.8 601.0ZM80.0 601.0L80.4 599.3L80.8 601.0ZM77.2 601.0L77.6 600.6L77.9 599.7L78.0 599.0L78.1 599.9L78.4 600.5L78.9 601.0ZM89.2 601.0L89.6 600.8L89.9 600.4L90.0 600.0L90.1 600.5L90.4 600.8L90.9 601.0ZM103.2 601.0L103.6 600.7L103.9 600.0L104.0 599.5L104.1 600.2L104.4 600.6L104.9 601.0ZM107.2 601.0L107.6 600.7L107.9 600.0L108.0 599.5L108.1 600.2L108.4 600.6L108.9 601.0ZM51.2 601.0L51.6 600.8L51.9 600.4L52.0 600.0L52.1 600.5L52.4 600.8L52.9 601.0ZM123.2 601.0L123.6 600.8L123.9 600.4L124.0 600.0L124.1 600.5L124.4 600.8L124.9 601.0Z"/>
<text x="90.70" y="607.20" font-size="6.3" font-weight="bold" font-style="italic" textLength="19.9" lengthAdjust="spacingAndGlyphs" stroke="#000" stroke-width="0.15">NFE2L1</text>
<path d="M82.2 605.9V603.3H85.4" fill="none" stroke="#111" stroke-width="0.7"/>
<path d="M86.3 603.3l-1.3 -0.9v1.8z" fill="#111"/>
<line x1="80.30" y1="607.80" x2="130.60" y2="607.80" stroke="#1a1aa0" stroke-width="0.8" stroke-dasharray="1,0.9"/>
<rect x="119.20" y="606.70" width="11.40" height="2.20" fill="#0a0a90"/>
<rect x="89.80" y="607.00" width="4.70" height="1.60" fill="#0a0a90"/>
<rect x="104.00" y="607.00" width="2.80" height="1.60" fill="#0a0a90"/>
<rect x="78.50" y="613.85" width="4.50" height="0.90" fill="#444"/>
<rect x="99.50" y="613.85" width="1.50" height="0.90" fill="#444"/>
<rect x="104.00" y="613.85" width="2.00" height="0.90" fill="#444"/>
<rect x="133.50" y="613.85" width="1.00" height="0.90" fill="#444"/>
<rect x="146.30" y="613.85" width="1.00" height="0.90" fill="#444"/>
<line x1="47.00" y1="617.30" x2="154.30" y2="617.30" stroke="#777" stroke-width="0.6"/>
<line x1="51.30" y1="617.30" x2="51.30" y2="618.30" class="c16"/>
<text x="51.30" y="620.50" class="c17">45400000</text>
<line x1="88.80" y1="617.30" x2="88.80" y2="618.30" class="c16"/>
<text x="88.80" y="620.50" class="c17">45500000</text>
<line x1="125.80" y1="617.30" x2="125.80" y2="618.30" class="c16"/>
<text x="125.80" y="620.50" class="c17">45600000</text>
<text x="100.65" y="623.90" font-size="3.2" text-anchor="middle" fill="#444">chr17 position (bp)</text>
<text x="164.30" y="573.25" font-size="3.3" text-anchor="middle" fill="#333" transform="rotate(-90 164.30 573.25)" textLength="59.5" lengthAdjust="spacingAndGlyphs">RPE P-Pho CMP PE Glut GABA-int GABA</text>
<text x="171.50" y="544.20" class="c25">140</text>
<text x="172.30" y="550.00" class="c6" transform="rotate(-90 172.30 550.00)">0-140</text>
<text x="172.30" y="558.50" class="c6" transform="rotate(-90 172.30 558.50)">0-140</text>
<text x="172.30" y="566.80" class="c6" transform="rotate(-90 172.30 566.80)">0-140</text>
<text x="172.30" y="575.10" class="c6" transform="rotate(-90 172.30 575.10)">0-140</text>
<text x="172.30" y="583.70" class="c6" transform="rotate(-90 172.30 583.70)">0-140</text>
<text x="172.30" y="592.70" class="c6" transform="rotate(-90 172.30 592.70)">0-140</text>
<text x="172.30" y="601.50" class="c6" transform="rotate(-90 172.30 601.50)">0-140</text>
<text x="171.50" y="603.80" class="c25">0</text>
<line x1="172.00" y1="551.50" x2="279.00" y2="551.50" class="c7"/>
<path fill="#f25c5c" opacity="0.7" d="M263.0 551.5h0.5v-0.4h-0.5zM275.8 551.5h0.5v-0.6h-0.5zM215.5 551.5h0.5v-0.7h-0.5zM264.4 551.5h0.5v-0.9h-0.5zM216.2 551.5h0.5v-0.3h-0.5zM188.5 551.5h0.5v-0.8h-0.5z"/>
<path fill="#f25c5c" stroke="#f25c5c" stroke-width="0.25" d="M262.1 551.5L263.0 550.4L263.6 548.2L263.9 546.5L264.2 548.8L264.8 550.2L265.9 551.5ZM262.7 551.5L263.1 549.8L263.5 551.5ZM263.7 551.5L264.1 549.8L264.5 551.5ZM264.4 551.5L264.8 550.3L265.2 551.5ZM194.0 551.5L195.0 551.2L195.7 550.5L196.0 550.0L196.3 550.7L197.0 551.1L198.2 551.5ZM220.6 551.5L221.2 551.2L221.6 550.5L221.8 550.0L222.0 550.7L222.4 551.1L223.1 551.5Z"/>
<line x1="172.00" y1="560.00" x2="279.00" y2="560.00" class="c7"/>
<path fill="#c8900a" opacity="0.7" d="M180.4 560.0h0.5v-0.5h-0.5zM184.0 560.0h0.5v-0.9h-0.5zM207.2 560.0h0.5v-0.6h-0.5zM242.0 560.0h0.5v-0.8h-0.5zM273.3 560.0h0.5v-0.6h-0.5zM225.6 560.0h0.5v-0.8h-0.5zM214.2 560.0h0.5v-0.5h-0.5zM251.1 560.0h0.5v-0.5h-0.5zM211.4 560.0h0.5v-0.6h-0.5zM223.0 560.0h0.5v-0.5h-0.5zM218.1 560.0h0.5v-0.6h-0.5zM177.3 560.0h0.5v-0.8h-0.5zM178.6 560.0h0.5v-0.6h-0.5zM230.6 560.0h0.5v-0.5h-0.5zM195.8 560.0h0.5v-0.4h-0.5zM211.8 560.0h0.5v-0.5h-0.5z"/>
<path fill="#c8900a" stroke="#c8900a" stroke-width="0.25" d="M262.1 560.0L263.0 558.8L263.6 556.4L263.9 554.5L264.2 557.0L264.8 558.6L265.9 560.0ZM264.1 560.0L264.5 557.7L264.9 560.0ZM262.6 560.0L263.0 558.0L263.4 560.0ZM262.2 560.0L262.6 558.7L263.0 560.0ZM194.0 560.0L195.0 559.5L195.7 558.4L196.0 557.5L196.3 558.6L197.0 559.4L198.2 560.0ZM220.6 560.0L221.2 559.3L221.6 558.0L221.8 557.0L222.0 558.4L222.4 559.2L223.1 560.0ZM221.0 560.0L221.4 558.5L221.8 560.0ZM221.7 560.0L222.1 558.6L222.5 560.0ZM220.6 560.0L221.0 559.0L221.4 560.0ZM204.0 560.0L204.5 559.7L204.8 559.0L205.0 558.5L205.2 559.2L205.5 559.6L206.1 560.0ZM214.0 560.0L214.5 559.8L214.8 559.4L215.0 559.0L215.2 559.5L215.5 559.8L216.1 560.0Z"/>
<line x1="172.00" y1="568.30" x2="279.00" y2="568.30" class="c7"/>
<path fill="#4caf14" opacity="0.7" d="M211.5 568.3h0.5v-0.5h-0.5zM237.2 568.3h0.5v-0.7h-0.5zM205.7 568.3h0.5v-0.6h-0.5zM227.2 568.3h0.5v-0.8h-0.5zM177.7 568.3h0.5v-0.4h-0.5zM199.0 568.3h0.5v-0.5h-0.5zM257.1 568.3h0.5v-0.6h-0.5zM264.0 568.3h0.5v-0.5h-0.5zM202.6 568.3h0.5v-0.7h-0.5zM181.1 568.3h0.5v-0.9h-0.5zM261.0 568.3h0.5v-0.5h-0.5zM206.0 568.3h0.5v-0.8h-0.5zM256.3 568.3h0.5v-0.7h-0.5zM178.1 568.3h0.5v-0.8h-0.5z"/>
<path fill="#4caf14" stroke="#4caf14" stroke-width="0.25" d="M262.1 568.3L263.0 567.1L263.6 564.7L263.9 562.8L264.2 565.3L264.8 566.9L265.9 568.3ZM263.5 568.3L263.9 566.8L264.3 568.3ZM264.2 568.3L264.6 566.4L265.0 568.3ZM262.2 568.3L262.6 566.5L263.0 568.3ZM194.0 568.3L195.0 567.8L195.7 566.7L196.0 565.8L196.3 566.9L197.0 567.7L198.2 568.3ZM220.6 568.3L221.2 567.6L221.6 566.3L221.8 565.3L222.0 566.6L222.4 567.5L223.1 568.3ZM222.2 568.3L222.6 567.7L223.0 568.3ZM221.6 568.3L222.0 566.8L222.4 568.3ZM221.2 568.3L221.6 567.2L222.0 568.3ZM204.0 568.3L204.5 568.0L204.8 567.3L205.0 566.8L205.2 567.5L205.5 567.9L206.1 568.3ZM214.0 568.3L214.5 568.1L214.8 567.6L215.0 567.3L215.2 567.8L215.5 568.0L216.1 568.3Z"/>
<line x1="172.00" y1="576.60" x2="279.00" y2="576.60" class="c7"/>
<path fill="#16b08e" opacity="0.7" d="M244.7 576.6h0.5v-0.9h-0.5zM270.1 576.6h0.5v-0.3h-0.5zM255.6 576.6h0.5v-0.6h-0.5zM252.4 576.6h0.5v-0.5h-0.5zM219.9 576.6h0.5v-0.6h-0.5zM184.6 576.6h0.5v-0.5h-0.5zM250.6 576.6h0.5v-0.3h-0.5zM184.4 576.6h0.5v-0.8h-0.5zM243.3 576.6h0.5v-0.6h-0.5zM184.1 576.6h0.5v-0.4h-0.5zM205.2 576.6h0.5v-0.9h-0.5zM231.9 576.6h0.5v-0.9h-0.5zM194.6 576.6h0.5v-0.5h-0.5zM229.4 576.6h0.5v-0.8h-0.5zM185.2 576.6h0.5v-0.8h-0.5zM222.5 576.6h0.5v-0.3h-0.5zM218.2 576.6h0.5v-0.5h-0.5zM244.2 576.6h0.5v-0.9h-0.5z"/>
<path fill="#16b08e" stroke="#16b08e" stroke-width="0.25" d="M262.1 576.6L263.0 575.2L263.6 572.4L263.9 570.1L264.2 573.0L264.8 575.0L265.9 576.6ZM262.3 576.6L262.7 574.1L263.1 576.6ZM263.6 576.6L264.0 573.5L264.4 576.6ZM263.9 576.6L264.3 575.3L264.7 576.6ZM220.6 576.6L221.2 575.5L221.6 573.4L221.8 571.6L222.0 573.9L222.4 575.4L223.1 576.6ZM222.2 576.6L222.6 574.5L223.0 576.6ZM221.5 576.6L221.9 575.6L222.3 576.6ZM221.8 576.6L222.2 575.0L222.6 576.6ZM195.0 576.6L195.5 576.2L195.8 575.3L196.0 574.6L196.2 575.5L196.5 576.1L197.1 576.6ZM247.2 576.6L247.6 576.3L247.9 575.6L248.0 575.1L248.1 575.8L248.4 576.2L248.9 576.6ZM239.2 576.6L239.6 576.3L239.9 575.8L240.0 575.4L240.1 575.9L240.4 576.3L240.9 576.6ZM267.0 576.6L267.5 576.3L267.9 575.6L268.0 575.1L268.1 575.8L268.5 576.2L269.1 576.6Z"/>
<line x1="172.00" y1="585.20" x2="279.00" y2="585.20" class="c7"/>
<path fill="#18a6e2" opacity="0.7" d="M235.3 585.2h0.5v-0.6h-0.5zM213.6 585.2h0.5v-0.6h-0.5zM262.1 585.2h0.5v-0.5h-0.5zM234.5 585.2h0.5v-0.6h-0.5zM276.9 585.2h0.5v-0.5h-0.5zM246.6 585.2h0.5v-0.4h-0.5zM200.0 585.2h0.5v-0.7h-0.5zM233.5 585.2h0.5v-0.5h-0.5zM178.9 585.2h0.5v-0.8h-0.5zM212.4 585.2h0.5v-0.7h-0.5zM218.3 585.2h0.5v-0.7h-0.5zM231.9 585.2h0.5v-0.9h-0.5zM269.3 585.2h0.5v-0.6h-0.5zM224.1 585.2h0.5v-0.4h-0.5zM252.6 585.2h0.5v-0.4h-0.5zM204.8 585.2h0.5v-0.8h-0.5z"/>
<path fill="#18a6e2" stroke="#18a6e2" stroke-width="0.25" d="M262.1 585.2L263.0 584.0L263.6 581.6L263.9 579.7L264.2 582.2L264.8 583.8L265.9 585.2ZM263.5 585.2L263.9 583.0L264.3 585.2ZM263.2 585.2L263.6 582.8L264.0 585.2ZM262.4 585.2L262.8 582.9L263.2 585.2ZM194.0 585.2L195.0 584.7L195.7 583.6L196.0 582.7L196.3 583.8L197.0 584.6L198.2 585.2ZM220.6 585.2L221.2 584.5L221.6 583.2L221.8 582.2L222.0 583.6L222.4 584.5L223.1 585.2ZM220.8 585.2L221.2 584.1L221.6 585.2ZM220.9 585.2L221.3 584.3L221.7 585.2ZM220.8 585.2L221.2 584.3L221.6 585.2ZM204.0 585.2L204.5 584.9L204.8 584.2L205.0 583.7L205.2 584.4L205.5 584.8L206.1 585.2ZM214.0 585.2L214.5 585.0L214.8 584.6L215.0 584.2L215.2 584.7L215.5 585.0L216.1 585.2Z"/>
<line x1="172.00" y1="594.20" x2="279.00" y2="594.20" class="c7"/>
<path fill="#9d74f4" opacity="0.7" d="M193.3 594.2h0.5v-0.6h-0.5zM237.3 594.2h0.5v-0.4h-0.5zM253.8 594.2h0.5v-0.6h-0.5zM268.2 594.2h0.5v-0.9h-0.5zM245.8 594.2h0.5v-0.5h-0.5zM273.8 594.2h0.5v-0.7h-0.5zM203.1 594.2h0.5v-0.8h-0.5zM249.8 594.2h0.5v-0.5h-0.5zM198.7 594.2h0.5v-0.3h-0.5zM229.5 594.2h0.5v-0.5h-0.5zM203.4 594.2h0.5v-0.5h-0.5zM186.1 594.2h0.5v-0.6h-0.5zM201.2 594.2h0.5v-0.5h-0.5zM201.7 594.2h0.5v-0.6h-0.5zM265.5 594.2h0.5v-0.4h-0.5zM264.0 594.2h0.5v-0.8h-0.5zM237.2 594.2h0.5v-0.6h-0.5zM250.5 594.2h0.5v-0.6h-0.5zM242.6 594.2h0.5v-0.9h-0.5zM254.9 594.2h0.5v-0.5h-0.5zM177.8 594.2h0.5v-0.9h-0.5zM210.8 594.2h0.5v-0.8h-0.5zM197.0 594.2h0.5v-0.6h-0.5zM211.6 594.2h0.5v-0.7h-0.5zM273.0 594.2h0.5v-0.6h-0.5zM232.6 594.2h0.5v-0.5h-0.5z"/>
<path fill="#9d74f4" stroke="#9d74f4" stroke-width="0.25" d="M262.1 594.2L263.0 593.0L263.6 590.6L263.9 588.7L264.2 591.2L264.8 592.8L265.9 594.2ZM262.2 594.2L262.6 591.9L263.0 594.2ZM263.7 594.2L264.1 592.2L264.5 594.2ZM263.0 594.2L263.4 592.8L263.8 594.2ZM194.0 594.2L195.0 593.7L195.7 592.6L196.0 591.7L196.3 592.8L197.0 593.6L198.2 594.2ZM220.6 594.2L221.2 593.5L221.6 592.2L221.8 591.2L222.0 592.6L222.4 593.5L223.1 594.2ZM222.2 594.2L222.6 592.9L223.0 594.2ZM222.0 594.2L222.4 593.5L222.8 594.2ZM221.9 594.2L222.3 593.4L222.7 594.2ZM204.0 594.2L204.5 593.9L204.8 593.2L205.0 592.7L205.2 593.4L205.5 593.8L206.1 594.2ZM214.0 594.2L214.5 594.0L214.8 593.6L215.0 593.2L215.2 593.7L215.5 594.0L216.1 594.2Z"/>
<line x1="172.00" y1="603.00" x2="279.00" y2="603.00" class="c7"/>
<path fill="#f23ec8" opacity="0.7" d="M277.2 603.0h0.5v-0.7h-0.5zM263.5 603.0h0.5v-0.8h-0.5zM227.8 603.0h0.5v-0.3h-0.5zM228.4 603.0h0.5v-0.4h-0.5zM228.4 603.0h0.5v-0.5h-0.5zM225.4 603.0h0.5v-0.4h-0.5zM247.4 603.0h0.5v-0.6h-0.5zM224.0 603.0h0.5v-0.3h-0.5zM224.1 603.0h0.5v-0.6h-0.5zM276.1 603.0h0.5v-0.6h-0.5z"/>
<path fill="#f23ec8" stroke="#f23ec8" stroke-width="0.25" d="M262.1 603.0L263.0 601.8L263.6 599.4L263.9 597.5L264.2 600.0L264.8 601.6L265.9 603.0ZM262.8 603.0L263.2 600.3L263.6 603.0ZM262.4 603.0L262.8 600.3L263.2 603.0ZM263.9 603.0L264.3 601.8L264.7 603.0ZM194.4 603.0L195.2 602.0L195.8 600.1L196.0 598.5L196.2 600.5L196.8 601.9L197.8 603.0ZM196.6 603.0L197.0 602.0L197.4 603.0ZM195.8 603.0L196.2 601.9L196.6 603.0ZM196.8 603.0L197.2 601.7L197.6 603.0ZM220.8 603.0L221.3 601.9L221.7 599.8L221.8 598.0L222.0 600.2L222.3 601.8L222.9 603.0ZM222.0 603.0L222.4 601.9L222.8 603.0ZM221.6 603.0L222.0 601.9L222.4 603.0ZM220.7 603.0L221.1 601.1L221.5 603.0ZM189.2 603.0L189.6 602.7L189.9 602.2L190.0 601.8L190.1 602.3L190.4 602.7L190.9 603.0ZM199.2 603.0L199.6 602.7L199.9 602.2L200.0 601.8L200.1 602.3L200.4 602.7L200.9 603.0Z"/>
<text x="222.50" y="609.80" font-size="6.3" font-weight="bold" font-style="italic" textLength="12.3" lengthAdjust="spacingAndGlyphs" stroke="#000" stroke-width="0.15">NRL</text>
<path d="M264.2 608.4V605.8H261.0" fill="none" stroke="#111" stroke-width="0.7"/>
<path d="M260.1 605.8l1.3 -0.9v1.8z" fill="#111"/>
<line x1="192.70" y1="610.40" x2="265.00" y2="610.40" stroke="#1a7a1a" stroke-width="0.8" stroke-dasharray="1,0.9"/>
<rect x="192.70" y="609.40" width="6.80" height="2.00" fill="#1a6a1a"/>
<rect x="219.50" y="609.60" width="2.50" height="1.60" fill="#1a6a1a"/>
<rect x="192.00" y="613.25" width="1.00" height="0.90" fill="#444"/>
<rect x="195.00" y="613.25" width="1.50" height="0.90" fill="#444"/>
<rect x="205.50" y="613.25" width="1.00" height="0.90" fill="#444"/>
<rect x="213.50" y="613.25" width="1.00" height="0.90" fill="#444"/>
<rect x="220.50" y="613.25" width="1.50" height="0.90" fill="#444"/>
<rect x="224.50" y="613.25" width="1.00" height="0.90" fill="#444"/>
<rect x="231.50" y="613.25" width="1.00" height="0.90" fill="#444"/>
<rect x="251.50" y="613.25" width="1.00" height="0.90" fill="#444"/>
<rect x="262.00" y="613.25" width="3.50" height="0.90" fill="#444"/>
<line x1="172.00" y1="627.40" x2="279.00" y2="627.40" stroke="#777" stroke-width="0.6"/>
<line x1="177.00" y1="627.40" x2="177.00" y2="628.40" class="c16"/>
<text x="177.00" y="630.60" class="c17">5380000</text>
<line x1="195.00" y1="627.40" x2="195.00" y2="628.40" class="c16"/>
<text x="195.00" y="630.60" class="c17">5400000</text>
<line x1="214.00" y1="627.40" x2="214.00" y2="628.40" class="c16"/>
<text x="214.00" y="630.60" class="c17">5420000</text>
<line x1="233.00" y1="627.40" x2="233.00" y2="628.40" class="c16"/>
<text x="233.00" y="630.60" class="c17">5440000</text>
<line x1="252.00" y1="627.40" x2="252.00" y2="628.40" class="c16"/>
<text x="252.00" y="630.60" class="c17">5460000</text>
<line x1="270.00" y1="627.40" x2="270.00" y2="628.40" class="c16"/>
<text x="270.00" y="630.60" class="c17">5480000</text>
<text x="225.50" y="634.00" font-size="3.2" text-anchor="middle" fill="#444">chr14 position (bp)</text>
<text x="293.00" y="573.30" font-size="3.3" text-anchor="middle" fill="#333" transform="rotate(-90 293.00 573.30)" textLength="58.8" lengthAdjust="spacingAndGlyphs">RPE P-Pho CMP PE Glut GABA-int GABA</text>
<text x="298.80" y="544.60" class="c25">780</text>
<text x="299.60" y="550.40" class="c6" transform="rotate(-90 299.60 550.40)">0-780</text>
<text x="299.60" y="558.70" class="c6" transform="rotate(-90 299.60 558.70)">0-780</text>
<text x="299.60" y="567.30" class="c6" transform="rotate(-90 299.60 567.30)">0-780</text>
<text x="299.60" y="575.50" class="c6" transform="rotate(-90 299.60 575.50)">0-780</text>
<text x="299.60" y="583.90" class="c6" transform="rotate(-90 299.60 583.90)">0-780</text>
<text x="299.60" y="592.50" class="c6" transform="rotate(-90 299.60 592.50)">0-780</text>
<text x="299.60" y="601.20" class="c6" transform="rotate(-90 299.60 601.20)">0-780</text>
<text x="298.80" y="603.50" class="c25">0</text>
<line x1="299.40" y1="551.90" x2="407.50" y2="551.90" class="c7"/>
<path fill="#f25c5c" opacity="0.7" d="M314.0 551.9h0.5v-0.5h-0.5zM335.7 551.9h0.5v-0.7h-0.5zM400.9 551.9h0.5v-0.9h-0.5zM402.1 551.9h0.5v-0.9h-0.5zM392.2 551.9h0.5v-0.9h-0.5zM301.6 551.9h0.5v-0.6h-0.5zM363.2 551.9h0.5v-0.7h-0.5zM365.6 551.9h0.5v-0.7h-0.5zM400.3 551.9h0.5v-0.4h-0.5zM355.5 551.9h0.5v-0.9h-0.5z"/>
<path fill="#f25c5c" stroke="#f25c5c" stroke-width="0.25" d="M337.8 551.9L338.7 551.6L339.3 550.9L339.6 550.4L339.9 551.1L340.5 551.5L341.6 551.9ZM342.4 551.9L343.3 551.6L343.9 551.1L344.2 550.7L344.5 551.2L345.1 551.6L346.2 551.9ZM343.9 551.9L344.6 551.6L345.1 550.9L345.3 550.4L345.5 551.1L346.0 551.5L346.8 551.9ZM347.1 551.9L348.1 551.4L348.8 550.5L349.1 549.8L349.4 550.7L350.1 551.4L351.3 551.9ZM349.6 551.9L350.8 551.7L351.6 551.4L352.0 551.1L352.4 551.5L353.2 551.7L354.6 551.9Z"/>
<line x1="299.40" y1="560.20" x2="407.50" y2="560.20" class="c7"/>
<path fill="#c8900a" opacity="0.7" d="M356.3 560.2h0.5v-0.5h-0.5zM372.4 560.2h0.5v-0.6h-0.5zM324.7 560.2h0.5v-0.8h-0.5zM318.4 560.2h0.5v-0.4h-0.5zM326.8 560.2h0.5v-0.6h-0.5zM384.1 560.2h0.5v-0.5h-0.5zM325.2 560.2h0.5v-0.7h-0.5zM327.5 560.2h0.5v-0.6h-0.5z"/>
<path fill="#c8900a" stroke="#c8900a" stroke-width="0.25" d="M337.8 560.2L338.7 559.1L339.3 557.0L339.6 555.2L339.9 557.5L340.5 559.0L341.6 560.2ZM337.9 560.2L338.3 559.0L338.7 560.2ZM340.2 560.2L340.6 557.8L341.0 560.2ZM337.9 560.2L338.3 559.2L338.7 560.2ZM342.4 560.2L343.3 559.3L343.9 557.6L344.2 556.2L344.5 558.0L345.1 559.2L346.2 560.2ZM344.7 560.2L345.1 558.6L345.5 560.2ZM343.9 560.2L344.3 558.7L344.7 560.2ZM344.5 560.2L344.9 558.4L345.3 560.2ZM343.9 560.2L344.6 559.1L345.1 557.0L345.3 555.2L345.5 557.5L346.0 559.0L346.8 560.2ZM343.9 560.2L344.3 559.1L344.7 560.2ZM345.5 560.2L345.9 557.7L346.3 560.2ZM345.6 560.2L346.0 558.6L346.4 560.2ZM347.1 560.2L348.1 558.7L348.8 555.7L349.1 553.2L349.4 556.4L350.1 558.5L351.3 560.2ZM348.2 560.2L348.6 558.1L349.0 560.2ZM347.2 560.2L347.6 557.2L348.0 560.2ZM348.0 560.2L348.4 557.6L348.8 560.2ZM349.6 560.2L350.8 559.7L351.6 558.6L352.0 557.7L352.4 558.8L353.2 559.6L354.6 560.2ZM337.0 560.2L337.0 559.4L337.8 558.3L338.6 559.5L339.4 559.5L340.2 559.4L341.0 559.3L341.8 558.6L342.6 558.7L343.4 558.5L344.2 559.0L345.0 559.6L345.8 558.5L346.6 559.5L347.4 559.5L348.2 559.2L349.0 558.0L349.8 559.3L350.6 559.3L351.4 558.2L352.2 558.0L353.0 559.3L353.8 559.6L354.6 558.5L355.4 558.5L356.2 559.3L357.0 558.5L357.8 559.3L358.6 559.4L359.4 558.9L360.2 558.6L361.0 559.1L361.8 558.4L362.6 559.6L363.4 559.1L364.2 559.3L365.0 559.6L365.8 558.2L366.6 559.6L367.4 559.5L368.0 560.2Z"/>
<line x1="299.40" y1="568.80" x2="407.50" y2="568.80" class="c7"/>
<path fill="#4caf14" opacity="0.7" d="M319.2 568.8h0.5v-0.4h-0.5zM356.4 568.8h0.5v-0.6h-0.5zM360.8 568.8h0.5v-0.8h-0.5zM356.3 568.8h0.5v-0.9h-0.5zM308.2 568.8h0.5v-0.4h-0.5zM307.7 568.8h0.5v-0.5h-0.5zM381.6 568.8h0.5v-0.9h-0.5zM353.9 568.8h0.5v-0.4h-0.5zM335.1 568.8h0.5v-0.6h-0.5zM331.2 568.8h0.5v-0.8h-0.5zM404.5 568.8h0.5v-0.6h-0.5zM364.6 568.8h0.5v-0.8h-0.5zM349.7 568.8h0.5v-0.4h-0.5zM401.5 568.8h0.5v-0.9h-0.5zM302.0 568.8h0.5v-0.8h-0.5zM342.7 568.8h0.5v-0.3h-0.5z"/>
<path fill="#4caf14" stroke="#4caf14" stroke-width="0.25" d="M337.8 568.8L338.7 567.7L339.3 565.5L339.6 563.8L339.9 566.0L340.5 567.5L341.6 568.8ZM340.2 568.8L340.6 566.4L341.0 568.8ZM340.4 568.8L340.8 567.3L341.2 568.8ZM340.4 568.8L340.8 567.6L341.2 568.8ZM342.4 568.8L343.3 567.9L343.9 566.2L344.2 564.8L344.5 566.6L345.1 567.8L346.2 568.8ZM344.4 568.8L344.8 566.9L345.2 568.8ZM343.0 568.8L343.4 567.8L343.8 568.8ZM344.3 568.8L344.7 566.9L345.1 568.8ZM343.9 568.8L344.6 567.7L345.1 565.5L345.3 563.8L345.5 566.0L346.0 567.5L346.8 568.8ZM345.4 568.8L345.8 566.4L346.2 568.8ZM344.8 568.8L345.2 567.2L345.6 568.8ZM344.1 568.8L344.5 567.4L344.9 568.8ZM347.1 568.8L348.1 567.3L348.8 564.2L349.1 561.8L349.4 564.9L350.1 567.0L351.3 568.8ZM350.0 568.8L350.4 567.2L350.8 568.8ZM347.8 568.8L348.2 566.7L348.6 568.8ZM347.3 568.8L347.7 566.8L348.1 568.8ZM349.6 568.8L350.8 568.2L351.6 567.2L352.0 566.3L352.4 567.4L353.2 568.2L354.6 568.8ZM333.0 568.8L333.0 568.3L333.8 568.3L334.6 567.6L335.4 568.3L336.2 568.4L337.0 568.3L337.8 567.5L338.6 568.0L339.4 567.8L340.2 568.0L341.0 568.3L341.8 568.4L342.6 568.2L343.4 568.4L344.2 568.2L345.0 567.8L345.8 568.1L346.6 568.0L347.4 567.8L348.2 568.2L349.0 568.1L349.8 567.4L350.6 567.9L351.4 568.1L352.2 567.9L353.0 568.0L353.8 568.2L354.6 567.4L355.4 568.3L356.2 567.3L357.0 567.5L357.8 567.4L358.6 568.3L359.4 568.0L360.2 567.2L361.0 568.2L361.8 568.3L362.6 567.7L363.4 568.3L364.2 567.9L365.0 568.3L365.8 567.3L366.6 568.2L367.4 568.4L368.2 567.7L369.0 568.2L369.8 567.9L370.6 568.0L371.4 567.3L372.2 568.0L373.0 568.1L373.8 568.4L374.6 568.0L375.4 568.2L376.2 567.9L377.0 567.8L377.8 568.0L378.0 568.8Z"/>
<line x1="299.40" y1="577.00" x2="407.50" y2="577.00" class="c7"/>
<path fill="#16b08e" opacity="0.7" d="M309.1 577.0h0.5v-0.6h-0.5zM351.5 577.0h0.5v-0.7h-0.5zM404.3 577.0h0.5v-0.5h-0.5zM347.3 577.0h0.5v-0.4h-0.5zM385.9 577.0h0.5v-0.4h-0.5zM389.0 577.0h0.5v-0.8h-0.5zM326.9 577.0h0.5v-0.8h-0.5zM353.9 577.0h0.5v-0.6h-0.5zM359.4 577.0h0.5v-0.9h-0.5zM352.4 577.0h0.5v-0.6h-0.5zM330.8 577.0h0.5v-0.8h-0.5zM353.8 577.0h0.5v-0.5h-0.5zM320.6 577.0h0.5v-0.4h-0.5zM389.6 577.0h0.5v-0.8h-0.5z"/>
<path fill="#16b08e" stroke="#16b08e" stroke-width="0.25" d="M337.8 577.0L338.7 576.7L339.3 576.2L339.6 575.8L339.9 576.3L340.5 576.7L341.6 577.0ZM342.4 577.0L343.3 576.8L343.9 576.4L344.2 576.0L344.5 576.5L345.1 576.8L346.2 577.0ZM343.9 577.0L344.6 576.7L345.1 576.2L345.3 575.8L345.5 576.3L346.0 576.7L346.8 577.0ZM347.1 577.0L348.1 576.6L348.8 575.9L349.1 575.2L349.4 576.0L350.1 576.6L351.3 577.0ZM349.6 577.0L350.8 576.9L351.6 576.6L352.0 576.4L352.4 576.7L353.2 576.8L354.6 577.0Z"/>
<line x1="299.40" y1="585.40" x2="407.50" y2="585.40" class="c7"/>
<path fill="#18a6e2" opacity="0.7" d="M393.6 585.4h0.5v-0.5h-0.5zM319.5 585.4h0.5v-0.7h-0.5zM381.4 585.4h0.5v-0.9h-0.5zM366.7 585.4h0.5v-0.4h-0.5zM378.0 585.4h0.5v-0.3h-0.5zM393.2 585.4h0.5v-0.8h-0.5zM384.3 585.4h0.5v-0.8h-0.5zM360.9 585.4h0.5v-0.9h-0.5zM368.5 585.4h0.5v-0.6h-0.5zM341.0 585.4h0.5v-0.5h-0.5zM301.9 585.4h0.5v-0.4h-0.5zM385.4 585.4h0.5v-0.4h-0.5z"/>
<path fill="#18a6e2" stroke="#18a6e2" stroke-width="0.25" d="M337.8 585.4L338.7 584.4L339.3 582.3L339.6 580.6L339.9 582.8L340.5 584.2L341.6 585.4ZM340.5 585.4L340.9 583.1L341.3 585.4ZM339.7 585.4L340.1 583.3L340.5 585.4ZM339.8 585.4L340.2 583.3L340.6 585.4ZM342.4 585.4L343.3 584.6L343.9 582.9L344.2 581.6L344.5 583.3L345.1 584.4L346.2 585.4ZM344.6 585.4L345.0 584.4L345.4 585.4ZM344.6 585.4L345.0 584.3L345.4 585.4ZM343.1 585.4L343.5 583.6L343.9 585.4ZM343.9 585.4L344.6 584.4L345.1 582.3L345.3 580.6L345.5 582.8L346.0 584.2L346.8 585.4ZM343.9 585.4L344.3 583.7L344.7 585.4ZM344.6 585.4L345.0 583.3L345.4 585.4ZM345.1 585.4L345.5 583.2L345.9 585.4ZM347.1 585.4L348.1 583.9L348.8 581.1L349.1 578.8L349.4 581.7L350.1 583.7L351.3 585.4ZM350.0 585.4L350.4 582.8L350.8 585.4ZM347.4 585.4L347.8 582.7L348.2 585.4ZM347.5 585.4L347.9 582.1L348.3 585.4ZM349.6 585.4L350.8 584.9L351.6 583.9L352.0 583.0L352.4 584.1L353.2 584.8L354.6 585.4ZM336.0 585.4L336.0 584.1L336.8 583.9L337.6 584.0L338.4 584.3L339.2 584.6L340.0 584.7L340.8 584.8L341.6 584.1L342.4 584.0L343.2 583.5L344.0 584.6L344.8 583.6L345.6 583.6L346.4 584.7L347.2 583.5L348.0 584.2L348.8 583.5L349.6 583.9L350.4 584.6L351.2 584.7L352.0 584.3L352.8 584.4L353.6 584.9L354.4 583.7L355.2 584.3L356.0 584.4L356.8 583.9L357.6 584.7L358.4 584.8L359.2 584.2L360.0 584.7L360.8 584.6L361.6 584.9L362.4 584.9L363.2 584.6L364.0 584.3L364.8 583.5L365.6 584.1L366.4 584.5L367.2 584.5L368.0 584.7L368.8 584.4L369.6 583.5L370.4 584.8L371.2 584.5L372.0 584.0L372.8 583.9L373.6 584.3L374.0 585.4Z"/>
<line x1="299.40" y1="594.00" x2="407.50" y2="594.00" class="c7"/>
<path fill="#9d74f4" opacity="0.7" d="M368.7 594.0h0.5v-0.9h-0.5zM397.0 594.0h0.5v-0.5h-0.5zM357.9 594.0h0.5v-0.9h-0.5zM356.4 594.0h0.5v-0.4h-0.5zM382.2 594.0h0.5v-0.3h-0.5zM315.6 594.0h0.5v-0.6h-0.5zM328.9 594.0h0.5v-0.7h-0.5zM378.0 594.0h0.5v-0.5h-0.5z"/>
<path fill="#9d74f4" stroke="#9d74f4" stroke-width="0.25" d="M337.8 594.0L338.7 593.8L339.3 593.5L339.6 593.2L339.9 593.6L340.5 593.8L341.6 594.0ZM342.4 594.0L343.3 593.9L343.9 593.6L344.2 593.4L344.5 593.7L345.1 593.9L346.2 594.0ZM343.9 594.0L344.6 593.8L345.1 593.5L345.3 593.2L345.5 593.6L346.0 593.8L346.8 594.0ZM347.1 594.0L348.1 593.8L348.8 593.3L349.1 593.0L349.4 593.4L350.1 593.7L351.3 594.0ZM349.6 594.0L350.8 593.9L351.6 593.8L352.0 593.6L352.4 593.8L353.2 593.9L354.6 594.0Z"/>
<line x1="299.40" y1="602.70" x2="407.50" y2="602.70" class="c7"/>
<path fill="#f23ec8" opacity="0.7" d="M382.3 602.7h0.5v-0.7h-0.5zM375.7 602.7h0.5v-0.6h-0.5zM346.1 602.7h0.5v-0.4h-0.5zM350.7 602.7h0.5v-0.9h-0.5z"/>
<path fill="#f23ec8" stroke="#f23ec8" stroke-width="0.25" d="M337.8 602.7L338.7 602.6L339.3 602.4L339.6 602.2L339.9 602.4L340.5 602.6L341.6 602.7ZM342.4 602.7L343.3 602.6L343.9 602.4L344.2 602.3L344.5 602.5L345.1 602.6L346.2 602.7ZM343.9 602.7L344.6 602.6L345.1 602.4L345.3 602.2L345.5 602.4L346.0 602.6L346.8 602.7ZM347.1 602.7L348.1 602.5L348.8 602.2L349.1 602.0L349.4 602.3L350.1 602.5L351.3 602.7ZM349.6 602.7L350.8 602.6L351.6 602.5L352.0 602.5L352.4 602.6L353.2 602.6L354.6 602.7Z"/>
<text x="306.00" y="607.90" font-size="6.3" font-weight="bold" font-style="italic" textLength="24.7" lengthAdjust="spacingAndGlyphs" stroke="#000" stroke-width="0.15">CASC11</text>
<text x="354.00" y="607.90" font-size="6.3" font-weight="bold" font-style="italic" textLength="13.7" lengthAdjust="spacingAndGlyphs" stroke="#000" stroke-width="0.15">MYC</text>
<path d="M346.2 606.6V604.0H349.4" fill="none" stroke="#111" stroke-width="0.7"/>
<path d="M350.3 604.0l-1.3 -0.9v1.8z" fill="#111"/>
<line x1="306.00" y1="609.30" x2="339.20" y2="609.30" stroke="#1a7a1a" stroke-width="0.8" stroke-dasharray="1,0.9"/>
<rect x="320.30" y="608.30" width="3.70" height="2.00" fill="#1a6a1a"/>
<line x1="346.80" y1="609.30" x2="377.60" y2="609.30" stroke="#1a1aa0" stroke-width="0.8" stroke-dasharray="1,0.9"/>
<rect x="346.80" y="608.30" width="6.60" height="2.00" fill="#0a0a90"/>
<rect x="361.00" y="608.30" width="4.20" height="2.00" fill="#0a0a90"/>
<rect x="372.00" y="608.30" width="5.60" height="2.00" fill="#0a0a90"/>
<rect x="305.00" y="612.55" width="1.00" height="0.90" fill="#444"/>
<rect x="339.00" y="612.55" width="1.00" height="0.90" fill="#444"/>
<rect x="343.00" y="612.55" width="8.60" height="0.90" fill="#444"/>
<rect x="356.30" y="612.55" width="3.70" height="0.90" fill="#444"/>
<line x1="299.40" y1="616.00" x2="407.50" y2="616.00" stroke="#d8d8d8" stroke-width="0.6"/>
<path d="M306.4 616.0Q322.9 638.0 339.3 616.0" class="c27"/>
<path d="M339.6 616.0Q343.1 638.0 346.5 616.0" class="c27"/>
<path d="M346.5 616.0Q347.4 638.0 348.3 616.0" class="c27"/>
<path d="M347.0 616.0Q348.0 638.0 349.0 616.0" class="c27"/>
<path d="M351.0 616.0Q354.8 638.0 358.5 616.0" class="c27"/>
<rect x="291.8" y="615.5" width="1.6" height="10" fill="url(#gF)"/>
<text x="291.50" y="614.90" font-size="2.2" fill="#555">score</text>
<text x="294.80" y="617.00" font-size="2.2" fill="#555">0.25</text>
<text x="294.80" y="621.00" font-size="2.2" fill="#555">0.5</text>
<text x="294.80" y="625.00" font-size="2.2" fill="#555">0.75</text>
<line x1="299.40" y1="627.00" x2="407.50" y2="627.00" stroke="#777" stroke-width="0.6"/>
<line x1="318.00" y1="627.00" x2="318.00" y2="628.00" class="c16"/>
<text x="318.00" y="630.20" class="c17">127700000</text>
<line x1="342.00" y1="627.00" x2="342.00" y2="628.00" class="c16"/>
<text x="342.00" y="630.20" class="c17">127730000</text>
<line x1="366.00" y1="627.00" x2="366.00" y2="628.00" class="c16"/>
<text x="366.00" y="630.20" class="c17">127760000</text>
<line x1="390.00" y1="627.00" x2="390.00" y2="628.00" class="c16"/>
<text x="390.00" y="630.20" class="c17">127790000</text>
<text x="353.45" y="633.60" font-size="3.2" text-anchor="middle" fill="#444">chr8 position (bp)</text>
<text x="417.00" y="573.40" font-size="3.3" text-anchor="middle" fill="#333" transform="rotate(-90 417.00 573.40)" textLength="60.2" lengthAdjust="spacingAndGlyphs">RPE P-Pho CMP PE Glut GABA-int GABA</text>
<text x="424.00" y="544.00" class="c25">60</text>
<text x="424.80" y="549.80" class="c6" transform="rotate(-90 424.80 549.80)">0-60</text>
<text x="424.80" y="557.90" class="c6" transform="rotate(-90 424.80 557.90)">0-60</text>
<text x="424.80" y="566.90" class="c6" transform="rotate(-90 424.80 566.90)">0-60</text>
<text x="424.80" y="575.80" class="c6" transform="rotate(-90 424.80 575.80)">0-60</text>
<text x="424.80" y="584.30" class="c6" transform="rotate(-90 424.80 584.30)">0-60</text>
<text x="424.80" y="593.00" class="c6" transform="rotate(-90 424.80 593.00)">0-60</text>
<text x="424.80" y="602.00" class="c6" transform="rotate(-90 424.80 602.00)">0-60</text>
<text x="424.00" y="604.30" class="c25">0</text>
<line x1="425.30" y1="551.30" x2="531.50" y2="551.30" class="c7"/>
<path fill="#f25c5c" opacity="0.7" d="M519.7 551.3h0.5v-0.3h-0.5zM432.8 551.3h0.5v-0.5h-0.5zM499.1 551.3h0.5v-0.6h-0.5zM438.9 551.3h0.5v-0.6h-0.5zM486.2 551.3h0.5v-0.7h-0.5zM468.1 551.3h0.5v-0.7h-0.5z"/>
<path fill="#f25c5c" stroke="#f25c5c" stroke-width="0.25" d="M451.8 551.3L452.3 550.8L452.7 549.7L452.8 548.8L452.9 549.9L453.3 550.7L453.9 551.3ZM508.6 551.3L509.1 550.8L509.5 549.7L509.6 548.8L509.8 549.9L510.1 550.7L510.7 551.3ZM473.6 551.3L474.1 551.0L474.5 550.5L474.6 550.1L474.8 550.6L475.1 551.0L475.7 551.3Z"/>
<line x1="425.30" y1="559.40" x2="531.50" y2="559.40" class="c7"/>
<path fill="#c8900a" opacity="0.7" d="M526.6 559.4h0.5v-0.8h-0.5zM477.0 559.4h0.5v-0.7h-0.5zM458.8 559.4h0.5v-0.9h-0.5zM438.0 559.4h0.5v-0.5h-0.5zM448.8 559.4h0.5v-0.8h-0.5zM479.3 559.4h0.5v-0.5h-0.5zM467.7 559.4h0.5v-0.8h-0.5zM452.6 559.4h0.5v-0.8h-0.5zM500.5 559.4h0.5v-0.6h-0.5zM464.1 559.4h0.5v-0.6h-0.5z"/>
<path fill="#c8900a" stroke="#c8900a" stroke-width="0.25" d="M451.8 559.4L452.3 558.7L452.7 557.4L452.8 556.4L452.9 557.8L453.3 558.6L453.9 559.4ZM452.7 559.4L453.1 558.2L453.5 559.4ZM451.7 559.4L452.1 558.2L452.5 559.4ZM451.8 559.4L452.2 558.8L452.6 559.4ZM458.4 559.4L458.9 559.1L459.2 558.4L459.4 557.9L459.5 558.6L459.9 559.0L460.5 559.4ZM469.0 559.4L469.5 559.1L469.9 558.6L470.0 558.2L470.1 558.7L470.5 559.1L471.1 559.4ZM473.6 559.4L474.1 559.1L474.5 558.4L474.6 557.9L474.8 558.6L475.1 559.0L475.7 559.4ZM508.6 559.4L509.1 558.7L509.5 557.4L509.6 556.4L509.8 557.8L510.1 558.6L510.7 559.4ZM509.2 559.4L509.6 558.8L510.0 559.4ZM508.6 559.4L509.0 558.4L509.4 559.4ZM509.2 559.4L509.6 558.7L510.0 559.4Z"/>
<line x1="425.30" y1="568.40" x2="531.50" y2="568.40" class="c7"/>
<path fill="#4caf14" opacity="0.7" d="M473.6 568.4h0.5v-0.6h-0.5zM518.7 568.4h0.5v-0.6h-0.5zM465.2 568.4h0.5v-0.8h-0.5zM529.0 568.4h0.5v-0.8h-0.5zM467.9 568.4h0.5v-0.7h-0.5zM504.0 568.4h0.5v-0.5h-0.5zM502.2 568.4h0.5v-0.9h-0.5zM494.9 568.4h0.5v-0.7h-0.5zM471.5 568.4h0.5v-0.7h-0.5zM449.3 568.4h0.5v-0.8h-0.5z"/>
<path fill="#4caf14" stroke="#4caf14" stroke-width="0.25" d="M451.8 568.4L452.3 567.4L452.7 565.5L452.8 563.9L452.9 565.9L453.3 567.3L453.9 568.4ZM452.3 568.4L452.7 567.1L453.1 568.4ZM452.6 568.4L453.0 566.9L453.4 568.4ZM452.1 568.4L452.5 566.5L452.9 568.4ZM458.4 568.4L458.9 568.1L459.2 567.4L459.4 566.9L459.5 567.6L459.9 568.0L460.5 568.4ZM469.0 568.4L469.5 568.1L469.9 567.4L470.0 566.9L470.1 567.6L470.5 568.0L471.1 568.4ZM473.6 568.4L474.1 568.1L474.5 567.4L474.6 566.9L474.8 567.6L475.1 568.0L475.7 568.4ZM508.6 568.4L509.1 568.0L509.5 567.1L509.6 566.4L509.8 567.3L510.1 567.9L510.7 568.4Z"/>
<line x1="425.30" y1="577.30" x2="531.50" y2="577.30" class="c7"/>
<path fill="#16b08e" opacity="0.7" d="M446.2 577.3h0.5v-0.8h-0.5zM431.6 577.3h0.5v-0.6h-0.5zM512.5 577.3h0.5v-0.8h-0.5zM466.9 577.3h0.5v-0.7h-0.5zM500.9 577.3h0.5v-0.8h-0.5zM504.6 577.3h0.5v-0.6h-0.5zM452.0 577.3h0.5v-0.7h-0.5zM484.9 577.3h0.5v-0.6h-0.5zM530.1 577.3h0.5v-0.4h-0.5zM508.2 577.3h0.5v-0.5h-0.5zM502.5 577.3h0.5v-0.9h-0.5zM454.4 577.3h0.5v-0.6h-0.5zM481.4 577.3h0.5v-0.6h-0.5zM443.0 577.3h0.5v-0.7h-0.5z"/>
<path fill="#16b08e" stroke="#16b08e" stroke-width="0.25" d="M451.8 577.3L452.3 576.2L452.7 574.0L452.8 572.3L452.9 574.5L453.3 576.0L453.9 577.3ZM452.5 577.3L452.9 574.8L453.3 577.3ZM452.2 577.3L452.6 575.2L453.0 577.3ZM451.7 577.3L452.1 575.7L452.5 577.3ZM433.4 577.3L433.7 576.9L433.9 576.0L434.0 575.3L434.1 576.2L434.3 576.8L434.7 577.3ZM437.4 577.3L437.7 576.9L437.9 576.0L438.0 575.3L438.1 576.2L438.3 576.8L438.7 577.3ZM445.4 577.3L445.7 576.8L445.9 575.7L446.0 574.8L446.1 575.9L446.3 576.7L446.7 577.3ZM455.4 577.3L455.7 576.8L455.9 575.7L456.0 574.8L456.1 575.9L456.3 576.7L456.7 577.3ZM462.4 577.3L462.7 576.9L462.9 576.0L463.0 575.3L463.1 576.2L463.3 576.8L463.7 577.3ZM467.4 577.3L467.7 576.8L467.9 575.7L468.0 574.8L468.1 575.9L468.3 576.7L468.7 577.3ZM473.4 577.3L473.7 576.6L473.9 575.3L474.0 574.3L474.1 575.6L474.3 576.5L474.7 577.3ZM473.8 577.3L474.2 576.5L474.6 577.3ZM473.7 577.3L474.1 576.5L474.5 577.3ZM473.5 577.3L473.9 575.8L474.3 577.3ZM481.4 577.3L481.7 577.0L481.9 576.3L482.0 575.8L482.1 576.5L482.3 576.9L482.7 577.3ZM489.4 577.3L489.7 577.0L489.9 576.3L490.0 575.8L490.1 576.5L490.3 576.9L490.7 577.3ZM499.4 577.3L499.7 576.9L499.9 576.0L500.0 575.3L500.1 576.2L500.3 576.8L500.7 577.3ZM504.4 577.3L504.7 576.9L504.9 576.0L505.0 575.3L505.1 576.2L505.3 576.8L505.7 577.3ZM511.4 577.3L511.7 576.9L511.9 576.0L512.0 575.3L512.1 576.2L512.3 576.8L512.7 577.3ZM517.4 577.3L517.7 577.0L517.9 576.3L518.0 575.8L518.1 576.5L518.3 576.9L518.7 577.3ZM525.4 577.3L525.7 577.0L525.9 576.3L526.0 575.8L526.1 576.5L526.3 576.9L526.7 577.3Z"/>
<line x1="425.30" y1="585.80" x2="531.50" y2="585.80" class="c7"/>
<path fill="#18a6e2" opacity="0.7" d="M489.6 585.8h0.5v-0.6h-0.5zM481.6 585.8h0.5v-0.9h-0.5zM485.8 585.8h0.5v-0.9h-0.5zM462.7 585.8h0.5v-0.8h-0.5zM433.3 585.8h0.5v-0.5h-0.5zM498.8 585.8h0.5v-0.7h-0.5zM513.3 585.8h0.5v-0.5h-0.5zM454.4 585.8h0.5v-0.5h-0.5zM482.4 585.8h0.5v-0.3h-0.5zM465.1 585.8h0.5v-0.7h-0.5z"/>
<path fill="#18a6e2" stroke="#18a6e2" stroke-width="0.25" d="M451.8 585.8L452.3 585.1L452.7 583.8L452.8 582.8L452.9 584.1L453.3 585.0L453.9 585.8ZM453.0 585.8L453.4 584.6L453.8 585.8ZM452.1 585.8L452.5 584.5L452.9 585.8ZM452.3 585.8L452.7 585.1L453.1 585.8ZM458.4 585.8L458.9 585.5L459.2 584.8L459.4 584.3L459.5 585.0L459.9 585.4L460.5 585.8ZM469.0 585.8L469.5 585.5L469.9 585.0L470.0 584.6L470.1 585.1L470.5 585.5L471.1 585.8ZM508.6 585.8L509.1 585.2L509.5 584.2L509.6 583.3L509.8 584.4L510.1 585.2L510.7 585.8ZM433.2 585.8L433.6 585.5L433.9 585.0L434.0 584.6L434.1 585.1L434.4 585.5L434.9 585.8Z"/>
<line x1="425.30" y1="594.50" x2="531.50" y2="594.50" class="c7"/>
<path fill="#9d74f4" opacity="0.7" d="M437.8 594.5h0.5v-0.4h-0.5zM509.6 594.5h0.5v-0.7h-0.5zM453.4 594.5h0.5v-0.6h-0.5zM499.1 594.5h0.5v-0.3h-0.5zM512.3 594.5h0.5v-0.8h-0.5zM447.7 594.5h0.5v-0.7h-0.5zM499.6 594.5h0.5v-0.5h-0.5zM518.6 594.5h0.5v-0.4h-0.5z"/>
<path fill="#9d74f4" stroke="#9d74f4" stroke-width="0.25" d="M451.8 594.5L452.3 594.0L452.7 592.9L452.8 592.0L452.9 593.1L453.3 593.9L453.9 594.5ZM508.6 594.5L509.1 593.8L509.5 592.5L509.6 591.5L509.8 592.9L510.1 593.8L510.7 594.5ZM508.7 594.5L509.1 593.6L509.5 594.5ZM509.8 594.5L510.2 593.1L510.6 594.5ZM508.8 594.5L509.2 593.7L509.6 594.5Z"/>
<line x1="425.30" y1="603.50" x2="531.50" y2="603.50" class="c7"/>
<path fill="#f23ec8" opacity="0.7" d="M475.6 603.5h0.5v-0.5h-0.5zM472.2 603.5h0.5v-0.8h-0.5zM485.8 603.5h0.5v-0.7h-0.5zM530.1 603.5h0.5v-0.4h-0.5zM449.0 603.5h0.5v-0.7h-0.5zM441.3 603.5h0.5v-0.9h-0.5zM461.5 603.5h0.5v-0.6h-0.5zM471.1 603.5h0.5v-0.8h-0.5zM522.5 603.5h0.5v-0.7h-0.5zM443.5 603.5h0.5v-0.5h-0.5zM500.3 603.5h0.5v-0.4h-0.5zM519.0 603.5h0.5v-0.8h-0.5zM449.4 603.5h0.5v-0.5h-0.5zM449.6 603.5h0.5v-0.7h-0.5zM430.3 603.5h0.5v-0.7h-0.5zM432.0 603.5h0.5v-0.8h-0.5z"/>
<path fill="#f23ec8" stroke="#f23ec8" stroke-width="0.25" d="M433.9 603.5L434.2 603.0L434.4 601.9L434.5 601.0L434.6 602.1L434.8 602.9L435.2 603.5ZM443.4 603.5L443.7 603.1L443.9 602.2L444.0 601.5L444.1 602.4L444.3 603.0L444.7 603.5ZM452.2 603.5L452.5 603.1L452.7 602.2L452.8 601.5L452.9 602.4L453.1 603.0L453.5 603.5ZM465.4 603.5L465.7 603.1L465.9 602.2L466.0 601.5L466.1 602.4L466.3 603.0L466.7 603.5ZM471.4 603.5L471.7 603.1L471.9 602.2L472.0 601.5L472.1 602.4L472.3 603.0L472.7 603.5ZM479.4 603.5L479.7 603.1L479.9 602.2L480.0 601.5L480.1 602.4L480.3 603.0L480.7 603.5ZM485.4 603.5L485.7 603.0L485.9 601.9L486.0 601.0L486.1 602.1L486.3 602.9L486.7 603.5ZM491.4 603.5L491.7 603.1L491.9 602.2L492.0 601.5L492.1 602.4L492.3 603.0L492.7 603.5ZM497.4 603.5L497.7 603.0L497.9 601.9L498.0 601.0L498.1 602.1L498.3 602.9L498.7 603.5ZM504.4 603.5L504.7 603.1L504.9 602.2L505.0 601.5L505.1 602.4L505.3 603.0L505.7 603.5ZM513.4 603.5L513.7 603.2L513.9 602.5L514.0 602.0L514.1 602.7L514.3 603.1L514.7 603.5ZM519.4 603.5L519.7 603.1L519.9 602.2L520.0 601.5L520.1 602.4L520.3 603.0L520.7 603.5Z"/>
<text x="464.20" y="607.60" font-size="6.3" font-weight="bold" font-style="italic" textLength="16.1" lengthAdjust="spacingAndGlyphs" stroke="#000" stroke-width="0.15">TCF4</text>
<path d="M525.9 607.8V605.2H522.7" fill="none" stroke="#111" stroke-width="0.7"/>
<path d="M521.8 605.2l1.3 -0.9v1.8z" fill="#111"/>
<line x1="431.00" y1="610.70" x2="525.90" y2="610.70" stroke="#1a1aa0" stroke-width="0.8" stroke-dasharray="1,0.9"/>
<rect x="431.00" y="609.70" width="3.50" height="2.00" fill="#0a0a90"/>
<rect x="442.00" y="609.90" width="3.00" height="1.60" fill="#0a0a90"/>
<rect x="508.50" y="609.90" width="2.00" height="1.60" fill="#0a0a90"/>
<rect x="433.50" y="613.05" width="1.00" height="0.90" fill="#444"/>
<rect x="443.00" y="613.05" width="1.00" height="0.90" fill="#444"/>
<rect x="452.00" y="613.05" width="1.00" height="0.90" fill="#444"/>
<rect x="455.00" y="613.05" width="1.00" height="0.90" fill="#444"/>
<rect x="460.00" y="613.05" width="1.00" height="0.90" fill="#444"/>
<rect x="470.00" y="613.05" width="1.00" height="0.90" fill="#444"/>
<rect x="474.00" y="613.05" width="1.00" height="0.90" fill="#444"/>
<rect x="484.00" y="613.05" width="1.00" height="0.90" fill="#444"/>
<rect x="494.00" y="613.05" width="1.00" height="0.90" fill="#444"/>
<rect x="509.00" y="613.05" width="1.50" height="0.90" fill="#444"/>
<rect x="521.00" y="613.05" width="1.00" height="0.90" fill="#444"/>
<line x1="425.30" y1="615.20" x2="531.50" y2="615.20" stroke="#d8d8d8" stroke-width="0.6"/>
<path d="M452.8 615.2Q489.4 639.2 525.9 615.2" class="c27"/>
<path d="M459.4 615.2Q492.6 639.2 525.9 615.2" class="c27"/>
<path d="M472.7 615.2Q499.3 639.2 525.9 615.2" class="c27"/>
<path d="M500.2 615.2Q513.0 639.2 525.9 615.2" class="c27"/>
<path d="M452.8 615.2Q480.8 639.2 508.8 615.2" class="c27"/>
<path d="M465.0 615.2Q495.4 639.2 525.9 615.2" class="c27"/>
<rect x="416.7" y="615.9" width="1.6" height="10" fill="url(#gF)"/>
<text x="416.40" y="615.30" font-size="2.2" fill="#555">score</text>
<text x="419.70" y="617.40" font-size="2.2" fill="#555">0.25</text>
<text x="419.70" y="621.40" font-size="2.2" fill="#555">0.5</text>
<text x="419.70" y="625.40" font-size="2.2" fill="#555">0.75</text>
<line x1="425.30" y1="627.20" x2="531.50" y2="627.20" stroke="#777" stroke-width="0.6"/>
<line x1="427.20" y1="627.20" x2="427.20" y2="628.20" class="c16"/>
<text x="427.20" y="630.40" class="c17">52800000</text>
<line x1="447.10" y1="627.20" x2="447.10" y2="628.20" class="c16"/>
<text x="447.10" y="630.40" class="c17">52900000</text>
<line x1="465.10" y1="627.20" x2="465.10" y2="628.20" class="c16"/>
<text x="465.10" y="630.40" class="c17">53000000</text>
<line x1="483.20" y1="627.20" x2="483.20" y2="628.20" class="c16"/>
<text x="483.20" y="630.40" class="c17">53100000</text>
<line x1="503.00" y1="627.20" x2="503.00" y2="628.20" class="c16"/>
<text x="503.00" y="630.40" class="c17">53200000</text>
<text x="478.40" y="633.80" font-size="3.2" text-anchor="middle" fill="#444">chr18 position (bp)</text>
<text x="548.30" y="573.10" font-size="3.3" text-anchor="middle" fill="#333" transform="rotate(-90 548.30 573.10)" textLength="60.6" lengthAdjust="spacingAndGlyphs">RPE P-Pho CMP PE Glut GABA-int GABA</text>
<text x="554.60" y="543.50" class="c25">180</text>
<text x="555.40" y="549.30" class="c6" transform="rotate(-90 555.40 549.30)">0-180</text>
<text x="555.40" y="557.60" class="c6" transform="rotate(-90 555.40 557.60)">0-180</text>
<text x="555.40" y="566.80" class="c6" transform="rotate(-90 555.40 566.80)">0-180</text>
<text x="555.40" y="575.50" class="c6" transform="rotate(-90 555.40 575.50)">0-180</text>
<text x="555.40" y="583.90" class="c6" transform="rotate(-90 555.40 583.90)">0-180</text>
<text x="555.40" y="593.10" class="c6" transform="rotate(-90 555.40 593.10)">0-180</text>
<text x="555.40" y="601.90" class="c6" transform="rotate(-90 555.40 601.90)">0-180</text>
<text x="554.60" y="604.20" class="c25">0</text>
<line x1="555.80" y1="550.80" x2="662.00" y2="550.80" class="c7"/>
<path fill="#f25c5c" opacity="0.7" d="M613.5 550.8h0.5v-0.6h-0.5zM565.9 550.8h0.5v-0.3h-0.5zM593.3 550.8h0.5v-0.9h-0.5zM619.5 550.8h0.5v-0.8h-0.5z"/>
<path fill="#f25c5c" stroke="#f25c5c" stroke-width="0.25" d="M597.7 550.8L599.2 550.5L600.2 549.8L600.7 549.3L601.2 550.0L602.2 550.4L604.0 550.8ZM643.0 550.8L644.0 550.6L644.7 550.3L645.0 550.0L645.3 550.4L646.0 550.6L647.2 550.8Z"/>
<line x1="555.80" y1="559.10" x2="662.00" y2="559.10" class="c7"/>
<path fill="#c8900a" opacity="0.7" d="M626.6 559.1h0.5v-0.7h-0.5zM590.0 559.1h0.5v-0.6h-0.5zM586.5 559.1h0.5v-0.6h-0.5zM593.6 559.1h0.5v-0.5h-0.5zM582.2 559.1h0.5v-0.5h-0.5zM583.5 559.1h0.5v-0.3h-0.5zM588.8 559.1h0.5v-0.7h-0.5zM584.3 559.1h0.5v-0.4h-0.5zM645.6 559.1h0.5v-0.6h-0.5zM610.2 559.1h0.5v-0.5h-0.5zM650.0 559.1h0.5v-0.8h-0.5zM621.9 559.1h0.5v-0.7h-0.5z"/>
<path fill="#c8900a" stroke="#c8900a" stroke-width="0.25" d="M598.3 559.1L599.5 557.8L600.3 555.2L600.7 553.1L601.1 555.8L601.9 557.6L603.3 559.1ZM598.7 559.1L599.1 557.7L599.5 559.1ZM598.6 559.1L599.0 556.6L599.4 559.1ZM599.1 559.1L599.5 557.4L599.9 559.1ZM573.8 559.1L574.4 558.7L574.8 557.8L575.0 557.1L575.2 558.0L575.6 558.6L576.3 559.1ZM643.8 559.1L644.4 558.7L644.8 557.8L645.0 557.1L645.2 558.0L645.6 558.6L646.3 559.1ZM610.8 559.1L611.4 558.8L611.8 558.3L612.0 557.9L612.2 558.4L612.6 558.8L613.3 559.1ZM589.0 559.1L589.5 558.9L589.9 558.5L590.0 558.1L590.1 558.6L590.5 558.9L591.1 559.1ZM627.0 559.1L627.5 558.9L627.9 558.5L628.0 558.1L628.1 558.6L628.5 558.9L629.1 559.1ZM570.0 559.1L570.0 558.4L570.9 558.6L571.8 558.7L572.7 558.7L573.6 558.6L574.5 558.6L575.4 558.6L576.3 558.6L577.2 558.3L578.1 558.2L579.0 558.8L579.9 558.8L580.8 558.7L581.7 558.8L582.6 558.3L583.5 558.5L584.4 558.7L585.3 558.8L586.2 558.2L587.1 558.3L588.0 558.4L588.9 558.4L589.8 558.4L590.7 558.6L591.6 558.7L592.5 558.5L593.4 558.2L594.3 558.1L595.2 558.2L596.1 558.3L597.0 558.8L597.9 558.8L598.8 558.1L599.7 558.5L600.6 558.6L601.5 558.7L602.4 558.2L603.3 558.6L604.2 558.1L605.1 558.8L606.0 558.1L606.9 558.8L607.8 558.8L608.7 558.7L609.6 558.5L610.5 558.8L611.4 558.5L612.3 558.2L613.2 558.6L614.1 558.4L615.0 558.5L615.9 558.5L616.8 558.8L617.7 558.6L618.6 558.2L619.5 558.4L620.4 558.8L621.3 558.6L622.2 558.5L623.1 558.7L624.0 558.5L624.9 558.5L625.8 558.8L626.7 558.8L627.6 558.5L628.5 558.8L629.4 558.8L630.3 558.4L631.2 558.7L632.1 558.1L633.0 558.5L633.9 558.8L634.8 558.5L635.7 558.7L636.6 558.3L637.5 558.4L638.4 558.4L639.3 558.8L640.2 558.8L641.1 558.3L642.0 558.8L642.9 558.8L643.8 558.8L644.7 558.8L645.6 558.6L646.5 558.1L647.4 558.7L648.3 558.8L649.2 558.3L650.1 558.8L651.0 558.5L651.9 558.5L652.8 558.2L653.7 558.8L654.6 558.5L655.0 559.1Z"/>
<line x1="555.80" y1="568.30" x2="662.00" y2="568.30" class="c7"/>
<path fill="#4caf14" opacity="0.7" d="M658.6 568.3h0.5v-0.4h-0.5zM585.4 568.3h0.5v-0.9h-0.5zM627.4 568.3h0.5v-0.3h-0.5zM575.6 568.3h0.5v-0.4h-0.5zM586.6 568.3h0.5v-0.8h-0.5zM630.2 568.3h0.5v-0.9h-0.5zM626.9 568.3h0.5v-0.7h-0.5zM596.5 568.3h0.5v-0.7h-0.5zM608.2 568.3h0.5v-0.3h-0.5zM608.1 568.3h0.5v-0.5h-0.5zM612.2 568.3h0.5v-0.3h-0.5zM558.8 568.3h0.5v-0.9h-0.5z"/>
<path fill="#4caf14" stroke="#4caf14" stroke-width="0.25" d="M598.3 568.3L599.5 567.0L600.3 564.4L600.7 562.3L601.1 565.0L601.9 566.8L603.3 568.3ZM599.9 568.3L600.3 565.6L600.7 568.3ZM599.4 568.3L599.8 565.8L600.2 568.3ZM599.2 568.3L599.6 566.2L600.0 568.3ZM573.8 568.3L574.4 567.9L574.8 567.0L575.0 566.3L575.2 567.2L575.6 567.8L576.3 568.3ZM643.8 568.3L644.4 567.9L644.8 567.0L645.0 566.3L645.2 567.2L645.6 567.8L646.3 568.3ZM610.8 568.3L611.4 568.0L611.8 567.5L612.0 567.1L612.2 567.6L612.6 568.0L613.3 568.3ZM589.0 568.3L589.5 568.1L589.9 567.6L590.0 567.3L590.1 567.8L590.5 568.0L591.1 568.3ZM627.0 568.3L627.5 568.1L627.9 567.6L628.0 567.3L628.1 567.8L628.5 568.0L629.1 568.3ZM570.0 568.3L570.0 567.9L570.9 567.9L571.8 568.0L572.7 567.7L573.6 567.4L574.5 568.0L575.4 567.8L576.3 567.8L577.2 567.5L578.1 567.7L579.0 568.0L579.9 568.0L580.8 567.6L581.7 568.0L582.6 567.4L583.5 568.0L584.4 568.0L585.3 567.8L586.2 567.5L587.1 567.7L588.0 567.6L588.9 567.6L589.8 567.6L590.7 568.0L591.6 567.5L592.5 568.0L593.4 568.0L594.3 568.0L595.2 568.0L596.1 567.4L597.0 567.9L597.9 568.0L598.8 568.0L599.7 567.5L600.6 567.7L601.5 567.4L602.4 568.0L603.3 568.0L604.2 567.9L605.1 568.0L606.0 568.0L606.9 568.0L607.8 567.7L608.7 568.0L609.6 568.0L610.5 567.8L611.4 567.9L612.3 568.0L613.2 567.7L614.1 567.8L615.0 567.9L615.9 567.8L616.8 568.0L617.7 567.7L618.6 568.0L619.5 567.9L620.4 568.0L621.3 567.4L622.2 567.7L623.1 567.9L624.0 567.8L624.9 567.4L625.8 568.0L626.7 567.9L627.6 567.6L628.5 567.9L629.4 567.6L630.3 567.4L631.2 568.0L632.1 567.9L633.0 567.9L633.9 567.6L634.8 567.5L635.7 567.6L636.6 567.4L637.5 568.0L638.4 567.9L639.3 567.5L640.2 567.5L641.1 568.0L642.0 567.3L642.9 567.6L643.8 567.4L644.7 567.9L645.6 567.7L646.5 567.3L647.4 567.4L648.3 567.7L649.2 567.4L650.1 567.3L651.0 567.5L651.9 567.7L652.8 567.3L653.7 568.0L654.6 567.9L655.0 568.3Z"/>
<line x1="555.80" y1="577.00" x2="662.00" y2="577.00" class="c7"/>
<path fill="#16b08e" opacity="0.7" d="M590.1 577.0h0.5v-0.7h-0.5zM576.1 577.0h0.5v-0.6h-0.5zM646.8 577.0h0.5v-0.9h-0.5zM583.7 577.0h0.5v-0.5h-0.5zM629.5 577.0h0.5v-0.4h-0.5zM646.0 577.0h0.5v-0.4h-0.5zM614.9 577.0h0.5v-0.5h-0.5zM555.9 577.0h0.5v-0.3h-0.5z"/>
<path fill="#16b08e" stroke="#16b08e" stroke-width="0.25" d="M601.4 577.0L602.2 576.3L602.8 574.9L603.0 573.8L603.2 575.2L603.8 576.2L604.8 577.0ZM602.8 577.0L603.2 576.2L603.6 577.0ZM603.3 577.0L603.7 576.3L604.1 577.0ZM602.9 577.0L603.3 576.1L603.7 577.0ZM574.2 577.0L574.6 576.7L574.9 576.2L575.0 575.8L575.1 576.3L575.4 576.7L575.9 577.0ZM627.2 577.0L627.6 576.8L627.9 576.4L628.0 576.0L628.1 576.5L628.4 576.8L628.9 577.0ZM644.2 577.0L644.6 576.8L644.9 576.4L645.0 576.0L645.1 576.5L645.4 576.8L645.9 577.0ZM561.2 577.0L561.6 576.8L561.9 576.4L562.0 576.0L562.1 576.5L562.4 576.8L562.9 577.0Z"/>
<line x1="555.80" y1="585.40" x2="662.00" y2="585.40" class="c7"/>
<path fill="#18a6e2" opacity="0.7" d="M631.8 585.4h0.5v-0.4h-0.5zM606.9 585.4h0.5v-0.7h-0.5zM646.8 585.4h0.5v-0.9h-0.5zM600.5 585.4h0.5v-0.5h-0.5zM598.0 585.4h0.5v-0.5h-0.5zM634.6 585.4h0.5v-0.6h-0.5zM628.6 585.4h0.5v-0.4h-0.5zM638.9 585.4h0.5v-0.9h-0.5zM577.4 585.4h0.5v-0.7h-0.5zM573.0 585.4h0.5v-0.3h-0.5zM599.8 585.4h0.5v-0.4h-0.5zM633.4 585.4h0.5v-0.6h-0.5z"/>
<path fill="#18a6e2" stroke="#18a6e2" stroke-width="0.25" d="M598.3 585.4L599.5 584.1L600.3 581.5L600.7 579.4L601.1 582.1L601.9 583.9L603.3 585.4ZM598.5 585.4L598.9 583.6L599.3 585.4ZM599.5 585.4L599.9 582.4L600.3 585.4ZM600.8 585.4L601.2 584.1L601.6 585.4ZM573.8 585.4L574.4 585.0L574.8 584.1L575.0 583.4L575.2 584.3L575.6 584.9L576.3 585.4ZM643.8 585.4L644.4 585.0L644.8 584.1L645.0 583.4L645.2 584.3L645.6 584.9L646.3 585.4ZM610.8 585.4L611.4 585.1L611.8 584.6L612.0 584.2L612.2 584.7L612.6 585.1L613.3 585.4ZM589.0 585.4L589.5 585.2L589.9 584.8L590.0 584.4L590.1 584.9L590.5 585.1L591.1 585.4ZM627.0 585.4L627.5 585.2L627.9 584.8L628.0 584.4L628.1 584.9L628.5 585.1L629.1 585.4ZM570.0 585.4L570.0 584.8L570.9 584.5L571.8 585.2L572.7 585.2L573.6 585.2L574.5 585.0L575.4 584.7L576.3 584.8L577.2 584.9L578.1 584.6L579.0 585.0L579.9 585.1L580.8 584.8L581.7 585.2L582.6 585.1L583.5 585.2L584.4 585.1L585.3 585.2L586.2 584.9L587.1 585.1L588.0 584.9L588.9 584.7L589.8 585.0L590.7 585.1L591.6 584.8L592.5 584.8L593.4 584.6L594.3 584.9L595.2 584.9L596.1 584.6L597.0 584.8L597.9 584.5L598.8 585.1L599.7 584.7L600.6 584.8L601.5 585.0L602.4 585.2L603.3 585.0L604.2 585.1L605.1 584.9L606.0 584.9L606.9 584.9L607.8 585.2L608.7 585.1L609.6 584.9L610.5 584.8L611.4 584.5L612.3 584.7L613.2 585.1L614.1 585.0L615.0 584.9L615.9 584.7L616.8 585.0L617.7 584.6L618.6 584.9L619.5 585.0L620.4 585.0L621.3 585.0L622.2 584.5L623.1 585.2L624.0 585.0L624.9 585.2L625.8 584.8L626.7 585.1L627.6 585.1L628.5 585.0L629.4 584.9L630.3 584.7L631.2 585.0L632.1 585.1L633.0 585.0L633.9 584.6L634.8 585.1L635.7 585.2L636.6 584.6L637.5 584.9L638.4 585.1L639.3 585.1L640.2 584.6L641.1 584.7L642.0 585.2L642.9 584.8L643.8 585.1L644.7 585.0L645.6 584.9L646.5 585.2L647.4 584.6L648.3 585.0L649.2 585.1L650.1 584.7L651.0 585.2L651.9 585.2L652.8 584.8L653.7 585.0L654.6 584.6L655.0 585.4Z"/>
<line x1="555.80" y1="594.60" x2="662.00" y2="594.60" class="c7"/>
<path fill="#9d74f4" opacity="0.7" d="M653.2 594.6h0.5v-0.4h-0.5zM624.1 594.6h0.5v-0.3h-0.5zM653.9 594.6h0.5v-0.9h-0.5zM621.4 594.6h0.5v-0.5h-0.5zM632.7 594.6h0.5v-0.8h-0.5zM640.2 594.6h0.5v-0.3h-0.5zM609.3 594.6h0.5v-0.4h-0.5zM613.8 594.6h0.5v-0.9h-0.5zM647.7 594.6h0.5v-0.4h-0.5zM614.4 594.6h0.5v-0.5h-0.5z"/>
<path fill="#9d74f4" stroke="#9d74f4" stroke-width="0.25" d="M597.7 594.6L599.2 593.7L600.2 592.0L600.7 590.6L601.2 592.4L602.2 593.6L604.0 594.6ZM601.6 594.6L602.0 593.6L602.4 594.6ZM598.3 594.6L598.7 593.1L599.1 594.6ZM600.2 594.6L600.6 593.4L601.0 594.6ZM573.8 594.6L574.4 594.2L574.8 593.4L575.0 592.8L575.2 593.6L575.6 594.1L576.3 594.6ZM643.8 594.6L644.4 594.2L644.8 593.3L645.0 592.6L645.2 593.5L645.6 594.1L646.3 594.6ZM627.0 594.6L627.5 594.4L627.9 594.0L628.0 593.6L628.1 594.1L628.5 594.4L629.1 594.6ZM570.0 594.6L570.0 594.3L570.9 593.9L571.8 593.9L572.7 594.2L573.6 594.1L574.5 593.9L575.4 593.9L576.3 594.1L577.2 594.3L578.1 594.3L579.0 594.3L579.9 593.8L580.8 594.1L581.7 594.0L582.6 594.2L583.5 594.2L584.4 594.3L585.3 593.6L586.2 594.0L587.1 594.3L588.0 593.9L588.9 594.0L589.8 594.0L590.7 593.8L591.6 594.0L592.5 593.7L593.4 593.6L594.3 594.2L595.2 594.0L596.1 594.2L597.0 594.2L597.9 594.2L598.8 594.0L599.7 594.2L600.6 594.2L601.5 593.8L602.4 593.8L603.3 593.9L604.2 593.8L605.1 594.2L606.0 594.0L606.9 594.3L607.8 594.2L608.7 594.3L609.6 593.8L610.5 593.7L611.4 594.2L612.3 594.2L613.2 594.3L614.1 594.3L615.0 594.0L615.9 593.7L616.8 594.3L617.7 594.3L618.6 593.9L619.5 594.3L620.4 593.7L621.3 594.2L622.2 594.1L623.1 594.3L624.0 594.2L624.9 594.1L625.8 594.2L626.7 593.9L627.6 594.3L628.5 594.0L629.4 593.8L630.3 594.2L631.2 594.3L632.1 594.3L633.0 594.3L633.9 593.8L634.8 594.0L635.7 594.3L636.6 594.1L637.5 594.0L638.4 594.2L639.3 594.3L640.2 594.1L641.1 594.2L642.0 593.6L642.9 594.2L643.8 593.7L644.7 593.7L645.6 594.0L646.5 594.3L647.4 593.8L648.3 594.3L649.2 594.0L650.1 594.3L651.0 594.3L651.9 594.2L652.8 594.3L653.7 593.6L654.6 594.0L655.0 594.6Z"/>
<line x1="555.80" y1="603.40" x2="662.00" y2="603.40" class="c7"/>
<path fill="#f23ec8" opacity="0.7" d="M651.1 603.4h0.5v-0.9h-0.5zM636.3 603.4h0.5v-0.7h-0.5z"/>
<path fill="#f23ec8" stroke="#f23ec8" stroke-width="0.25" d="M600.0 603.4L600.5 603.1L600.9 602.6L601.0 602.2L601.1 602.7L601.5 603.1L602.1 603.4ZM621.0 603.4L621.5 603.1L621.9 602.6L622.0 602.2L622.1 602.7L622.5 603.1L623.1 603.4ZM651.0 603.4L651.5 603.1L651.9 602.4L652.0 601.9L652.1 602.6L652.5 603.0L653.1 603.4ZM654.0 603.4L654.5 603.1L654.9 602.6L655.0 602.2L655.1 602.7L655.5 603.1L656.1 603.4Z"/>
<text x="609.40" y="608.50" font-size="6.3" font-weight="bold" font-style="italic" textLength="13.2" lengthAdjust="spacingAndGlyphs" stroke="#000" stroke-width="0.15">HLX</text>
<path d="M602.0 607.6V605.0H605.2" fill="none" stroke="#111" stroke-width="0.7"/>
<path d="M606.1 605.0l-1.3 -0.9v1.8z" fill="#111"/>
<rect x="601.80" y="609.20" width="29.50" height="2.40" fill="#0a0a90"/>
<rect x="575.00" y="612.15" width="1.00" height="0.90" fill="#444"/>
<line x1="555.80" y1="614.30" x2="662.00" y2="614.30" stroke="#d8d8d8" stroke-width="0.6"/>
<path d="M575.5 614.3Q588.6 638.3 601.8 614.3" class="c27"/>
<rect x="548.6" y="615.0" width="1.6" height="10" fill="url(#gF)"/>
<text x="548.30" y="614.40" font-size="2.2" fill="#555">score</text>
<text x="551.60" y="616.50" font-size="2.2" fill="#555">0.25</text>
<text x="551.60" y="620.50" font-size="2.2" fill="#555">0.5</text>
<text x="551.60" y="624.50" font-size="2.2" fill="#555">0.75</text>
<line x1="555.80" y1="626.80" x2="662.00" y2="626.80" stroke="#777" stroke-width="0.6"/>
<line x1="578.00" y1="626.80" x2="578.00" y2="627.80" class="c16"/>
<text x="578.00" y="630.00" class="c17">220860000</text>
<line x1="604.00" y1="626.80" x2="604.00" y2="627.80" class="c16"/>
<text x="604.00" y="630.00" class="c17">220880000</text>
<line x1="630.00" y1="626.80" x2="630.00" y2="627.80" class="c16"/>
<text x="630.00" y="630.00" class="c17">220900000</text>
<line x1="656.00" y1="626.80" x2="656.00" y2="627.80" class="c16"/>
<text x="656.00" y="630.00" class="c17">220920000</text>
<text x="608.90" y="633.40" font-size="3.2" text-anchor="middle" fill="#444">chr1 position (bp)</text>
<text x="-0.20" y="670.20" font-size="16" font-weight="bold" stroke="#000" stroke-width="0.35">G</text>
<rect x="122.40" y="672.60" width="8.20" height="8.00" fill="#4f93d2" stroke="#333" stroke-width="0.4"/>
<text x="132.70" y="678.30" font-size="4.6" fill="#111">Primary</text>
<rect x="150.50" y="672.60" width="8.00" height="8.00" fill="#f26f6a" stroke="#333" stroke-width="0.4"/>
<text x="161.00" y="678.30" font-size="4.6" fill="#111">Recurrence</text>
<rect x="155.30" y="689.20" width="115.30" height="7.60" fill="#4f93d2" stroke="#444" stroke-width="0.6"/>
<text x="154.10" y="694.50" font-size="4.5" text-anchor="end" fill="#1a1a8c" textLength="15.6" lengthAdjust="spacingAndGlyphs">TCF4(+)</text>
<rect x="155.30" y="697.42" width="111.10" height="7.60" fill="#4f93d2" stroke="#444" stroke-width="0.6"/>
<text x="154.10" y="702.72" font-size="4.5" text-anchor="end" fill="#1a1a8c" textLength="21.0" lengthAdjust="spacingAndGlyphs">TAGLN2(+)</text>
<rect x="155.30" y="705.64" width="105.00" height="7.60" fill="#4f93d2" stroke="#444" stroke-width="0.6"/>
<text x="154.10" y="710.94" font-size="4.5" text-anchor="end" fill="#1a1a8c" textLength="18.8" lengthAdjust="spacingAndGlyphs">FOXK1(+)</text>
<rect x="155.30" y="713.86" width="103.40" height="7.60" fill="#4f93d2" stroke="#444" stroke-width="0.6"/>
<text x="154.10" y="719.16" font-size="4.5" text-anchor="end" fill="#1a1a8c" textLength="16.5" lengthAdjust="spacingAndGlyphs">FOSB(+)</text>
<rect x="155.30" y="722.08" width="100.30" height="7.60" fill="#4f93d2" stroke="#444" stroke-width="0.6"/>
<text x="154.10" y="727.38" font-size="4.5" text-anchor="end" fill="#1a1a8c" textLength="27.5" lengthAdjust="spacingAndGlyphs">PPARGC1A(+)</text>
<rect x="155.30" y="730.30" width="95.30" height="7.60" fill="#4f93d2" stroke="#444" stroke-width="0.6"/>
<text x="154.10" y="735.60" font-size="4.5" text-anchor="end" fill="#1a1a8c" textLength="19.3" lengthAdjust="spacingAndGlyphs">HOXB3(+)</text>
<rect x="155.30" y="738.52" width="92.30" height="7.60" fill="#4f93d2" stroke="#444" stroke-width="0.6"/>
<text x="154.10" y="743.82" font-size="4.5" text-anchor="end" fill="#1a1a8c" textLength="20.6" lengthAdjust="spacingAndGlyphs">GTF2F1(+)</text>
<rect x="155.30" y="746.74" width="89.20" height="7.60" fill="#4f93d2" stroke="#444" stroke-width="0.6"/>
<text x="154.10" y="752.04" font-size="4.5" text-anchor="end" fill="#1a1a8c" textLength="23.6" lengthAdjust="spacingAndGlyphs">BHLHE40(+)</text>
<rect x="155.30" y="754.96" width="86.20" height="7.60" fill="#4f93d2" stroke="#444" stroke-width="0.6"/>
<text x="154.10" y="760.26" font-size="4.5" text-anchor="end" fill="#1a1a8c" textLength="21.1" lengthAdjust="spacingAndGlyphs">AKR1A1(+)</text>
<rect x="155.30" y="763.18" width="85.10" height="7.60" fill="#4f93d2" stroke="#444" stroke-width="0.6"/>
<text x="154.10" y="768.48" font-size="4.5" text-anchor="end" fill="#1a1a8c" textLength="16.5" lengthAdjust="spacingAndGlyphs">EGR3(+)</text>
<rect x="85.50" y="771.40" width="69.80" height="7.60" fill="#f26f6a" stroke="#444" stroke-width="0.6"/>
<text x="156.80" y="776.70" font-size="4.5" fill="#d81b4a" textLength="19.9" lengthAdjust="spacingAndGlyphs">HMGB1(+)</text>
<rect x="80.70" y="779.62" width="74.60" height="7.60" fill="#f26f6a" stroke="#444" stroke-width="0.6"/>
<text x="156.80" y="784.92" font-size="4.5" fill="#d81b4a" textLength="19.5" lengthAdjust="spacingAndGlyphs">HOXC9(+)</text>
<rect x="69.60" y="787.84" width="85.70" height="7.60" fill="#f26f6a" stroke="#444" stroke-width="0.6"/>
<text x="156.80" y="793.14" font-size="4.5" fill="#d81b4a" textLength="20.2" lengthAdjust="spacingAndGlyphs">ZNF768(+)</text>
<rect x="63.30" y="796.06" width="92.00" height="7.60" fill="#f26f6a" stroke="#444" stroke-width="0.6"/>
<text x="156.80" y="801.36" font-size="4.5" fill="#d81b4a" textLength="15.1" lengthAdjust="spacingAndGlyphs">KLF2(+)</text>
<rect x="54.40" y="804.28" width="100.90" height="7.60" fill="#f26f6a" stroke="#444" stroke-width="0.6"/>
<text x="156.80" y="809.58" font-size="4.5" fill="#d81b4a" textLength="18.4" lengthAdjust="spacingAndGlyphs">DMBX1(-)</text>
<rect x="45.50" y="812.50" width="109.80" height="7.60" fill="#f26f6a" stroke="#444" stroke-width="0.6"/>
<text x="156.80" y="817.80" font-size="4.5" fill="#d81b4a" textLength="14.2" lengthAdjust="spacingAndGlyphs">SIX6(+)</text>
<rect x="43.30" y="820.72" width="112.00" height="7.60" fill="#f26f6a" stroke="#444" stroke-width="0.6"/>
<text x="156.80" y="826.02" font-size="4.5" fill="#d81b4a" textLength="21.8" lengthAdjust="spacingAndGlyphs">PSMD12(+)</text>
<rect x="35.50" y="828.94" width="119.80" height="7.60" fill="#f26f6a" stroke="#444" stroke-width="0.6"/>
<text x="156.80" y="834.24" font-size="4.5" fill="#d81b4a" textLength="20.8" lengthAdjust="spacingAndGlyphs">DMRTA1(-)</text>
<rect x="35.50" y="837.16" width="119.80" height="7.60" fill="#f26f6a" stroke="#444" stroke-width="0.6"/>
<text x="156.80" y="842.46" font-size="4.5" fill="#d81b4a" textLength="18.2" lengthAdjust="spacingAndGlyphs">FOXO1(-)</text>
<rect x="31.40" y="845.38" width="123.90" height="7.60" fill="#f26f6a" stroke="#444" stroke-width="0.6"/>
<text x="156.80" y="850.68" font-size="4.5" fill="#d81b4a" textLength="17.8" lengthAdjust="spacingAndGlyphs">FOXP2(-)</text>
<line x1="19.70" y1="854.30" x2="282.50" y2="854.30" stroke="#333" stroke-width="0.7"/>
<line x1="28.30" y1="854.30" x2="28.30" y2="855.80" stroke="#333" stroke-width="0.5"/>
<text x="28.30" y="860.30" font-size="4.3" text-anchor="middle" fill="#333">300</text>
<line x1="70.50" y1="854.30" x2="70.50" y2="855.80" stroke="#333" stroke-width="0.5"/>
<text x="70.50" y="860.30" font-size="4.3" text-anchor="middle" fill="#333">200</text>
<line x1="113.00" y1="854.30" x2="113.00" y2="855.80" stroke="#333" stroke-width="0.5"/>
<text x="113.00" y="860.30" font-size="4.3" text-anchor="middle" fill="#333">100</text>
<line x1="155.30" y1="854.30" x2="155.30" y2="855.80" stroke="#333" stroke-width="0.5"/>
<text x="155.30" y="860.30" font-size="4.3" text-anchor="middle" fill="#333">0</text>
<line x1="197.80" y1="854.30" x2="197.80" y2="855.80" stroke="#333" stroke-width="0.5"/>
<text x="197.80" y="860.30" font-size="4.3" text-anchor="middle" fill="#333">100</text>
<line x1="240.30" y1="854.30" x2="240.30" y2="855.80" stroke="#333" stroke-width="0.5"/>
<text x="240.30" y="860.30" font-size="4.3" text-anchor="middle" fill="#333">200</text>
<text x="151.50" y="866.00" font-size="5.2" text-anchor="middle" fill="#111">−log10(p_val_adj)</text>
<text x="305.60" y="670.00" font-size="16" font-weight="bold" stroke="#000" stroke-width="0.35">H</text>
<text x="486.30" y="683.30" font-size="16.24" text-anchor="middle" fill="#111">Binary Regulon Activity Matrix</text>
<line x1="348.35" y1="688.20" x2="348.35" y2="819.90" class="c12" stroke-dasharray="0.8,0.8"/>
<line x1="354.29" y1="688.20" x2="354.29" y2="819.90" class="c12" stroke-dasharray="0.8,0.8"/>
<line x1="360.23" y1="688.20" x2="360.23" y2="819.90" class="c12" stroke-dasharray="0.8,0.8"/>
<line x1="366.17" y1="688.20" x2="366.17" y2="819.90" class="c12" stroke-dasharray="0.8,0.8"/>
<line x1="372.11" y1="688.20" x2="372.11" y2="819.90" class="c12" stroke-dasharray="0.8,0.8"/>
<line x1="378.05" y1="688.20" x2="378.05" y2="819.90" class="c12" stroke-dasharray="0.8,0.8"/>
<line x1="383.99" y1="688.20" x2="383.99" y2="819.90" class="c12" stroke-dasharray="0.8,0.8"/>
<line x1="389.93" y1="688.20" x2="389.93" y2="819.90" class="c12" stroke-dasharray="0.8,0.8"/>
<line x1="395.87" y1="688.20" x2="395.87" y2="819.90" class="c12" stroke-dasharray="0.8,0.8"/>
<line x1="401.81" y1="688.20" x2="401.81" y2="819.90" class="c12" stroke-dasharray="0.8,0.8"/>
<line x1="407.75" y1="688.20" x2="407.75" y2="819.90" class="c12" stroke-dasharray="0.8,0.8"/>
<line x1="413.69" y1="688.20" x2="413.69" y2="819.90" class="c12" stroke-dasharray="0.8,0.8"/>
<line x1="419.63" y1="688.20" x2="419.63" y2="819.90" class="c12" stroke-dasharray="0.8,0.8"/>
<line x1="425.57" y1="688.20" x2="425.57" y2="819.90" class="c12" stroke-dasharray="0.8,0.8"/>
<line x1="431.51" y1="688.20" x2="431.51" y2="819.90" class="c12" stroke-dasharray="0.8,0.8"/>
<line x1="437.45" y1="688.20" x2="437.45" y2="819.90" class="c12" stroke-dasharray="0.8,0.8"/>
<line x1="443.39" y1="688.20" x2="443.39" y2="819.90" class="c12" stroke-dasharray="0.8,0.8"/>
<line x1="449.33" y1="688.20" x2="449.33" y2="819.90" class="c12" stroke-dasharray="0.8,0.8"/>
<line x1="455.27" y1="688.20" x2="455.27" y2="819.90" class="c12" stroke-dasharray="0.8,0.8"/>
<line x1="461.21" y1="688.20" x2="461.21" y2="819.90" class="c12" stroke-dasharray="0.8,0.8"/>
<line x1="467.15" y1="688.20" x2="467.15" y2="819.90" class="c12" stroke-dasharray="0.8,0.8"/>
<line x1="473.09" y1="688.20" x2="473.09" y2="819.90" class="c12" stroke-dasharray="0.8,0.8"/>
<line x1="479.03" y1="688.20" x2="479.03" y2="819.90" class="c12" stroke-dasharray="0.8,0.8"/>
<line x1="484.97" y1="688.20" x2="484.97" y2="819.90" class="c12" stroke-dasharray="0.8,0.8"/>
<line x1="490.91" y1="688.20" x2="490.91" y2="819.90" class="c12" stroke-dasharray="0.8,0.8"/>
<line x1="496.85" y1="688.20" x2="496.85" y2="819.90" class="c12" stroke-dasharray="0.8,0.8"/>
<line x1="502.79" y1="688.20" x2="502.79" y2="819.90" class="c12" stroke-dasharray="0.8,0.8"/>
<line x1="508.73" y1="688.20" x2="508.73" y2="819.90" class="c12" stroke-dasharray="0.8,0.8"/>
<line x1="514.67" y1="688.20" x2="514.67" y2="819.90" class="c12" stroke-dasharray="0.8,0.8"/>
<line x1="520.61" y1="688.20" x2="520.61" y2="819.90" class="c12" stroke-dasharray="0.8,0.8"/>
<line x1="526.55" y1="688.20" x2="526.55" y2="819.90" class="c12" stroke-dasharray="0.8,0.8"/>
<line x1="532.49" y1="688.20" x2="532.49" y2="819.90" class="c12" stroke-dasharray="0.8,0.8"/>
<line x1="538.43" y1="688.20" x2="538.43" y2="819.90" class="c12" stroke-dasharray="0.8,0.8"/>
<line x1="544.37" y1="688.20" x2="544.37" y2="819.90" class="c12" stroke-dasharray="0.8,0.8"/>
<line x1="550.31" y1="688.20" x2="550.31" y2="819.90" class="c12" stroke-dasharray="0.8,0.8"/>
<line x1="556.25" y1="688.20" x2="556.25" y2="819.90" class="c12" stroke-dasharray="0.8,0.8"/>
<line x1="562.19" y1="688.20" x2="562.19" y2="819.90" class="c12" stroke-dasharray="0.8,0.8"/>
<line x1="568.13" y1="688.20" x2="568.13" y2="819.90" class="c12" stroke-dasharray="0.8,0.8"/>
<line x1="574.07" y1="688.20" x2="574.07" y2="819.90" class="c12" stroke-dasharray="0.8,0.8"/>
<line x1="580.01" y1="688.20" x2="580.01" y2="819.90" class="c12" stroke-dasharray="0.8,0.8"/>
<line x1="585.95" y1="688.20" x2="585.95" y2="819.90" class="c12" stroke-dasharray="0.8,0.8"/>
<line x1="591.89" y1="688.20" x2="591.89" y2="819.90" class="c12" stroke-dasharray="0.8,0.8"/>
<line x1="597.83" y1="688.20" x2="597.83" y2="819.90" class="c12" stroke-dasharray="0.8,0.8"/>
<line x1="603.77" y1="688.20" x2="603.77" y2="819.90" class="c12" stroke-dasharray="0.8,0.8"/>
<line x1="609.71" y1="688.20" x2="609.71" y2="819.90" class="c12" stroke-dasharray="0.8,0.8"/>
<line x1="615.65" y1="688.20" x2="615.65" y2="819.90" class="c12" stroke-dasharray="0.8,0.8"/>
<line x1="621.59" y1="688.20" x2="621.59" y2="819.90" class="c12" stroke-dasharray="0.8,0.8"/>
<line x1="627.53" y1="688.20" x2="627.53" y2="819.90" class="c12" stroke-dasharray="0.8,0.8"/>
<line x1="633.47" y1="688.20" x2="633.47" y2="819.90" class="c12" stroke-dasharray="0.8,0.8"/>
<line x1="639.41" y1="688.20" x2="639.41" y2="819.90" class="c12" stroke-dasharray="0.8,0.8"/>
<rect x="345.4" y="688.2" width="297.8" height="131.7" fill="none" stroke="#c8c8c8" stroke-width="0.7"/>
<line x1="343.60" y1="695.20" x2="345.40" y2="695.20" class="c8"/>
<text x="342.80" y="696.80" font-size="4.5" text-anchor="end" letter-spacing="-0.05" stroke="#000" stroke-width="0.12">NEC</text>
<ellipse cx="348.35" cy="695.20" rx="2.05" ry="2.6" class="c2"/>
<ellipse cx="354.29" cy="695.20" rx="2.5" ry="3.15" class="c2"/>
<ellipse cx="360.23" cy="695.20" rx="1.35" ry="1.7" class="c26"/>
<ellipse cx="366.17" cy="695.20" rx="1.35" ry="1.7" fill="#e6f2e4" stroke="#555" stroke-width="0.35"/>
<ellipse cx="372.11" cy="695.20" rx="2.5" ry="3.15" class="c2"/>
<ellipse cx="378.05" cy="695.20" rx="2.05" ry="2.6" class="c2"/>
<circle cx="383.99" cy="695.20" r="0.55" fill="#777"/>
<ellipse cx="389.93" cy="695.20" rx="2.05" ry="2.6" class="c9"/>
<ellipse cx="395.87" cy="695.20" rx="2.05" ry="2.6" class="c2"/>
<circle cx="401.81" cy="695.20" r="0.55" fill="#777"/>
<ellipse cx="407.75" cy="695.20" rx="2.5" ry="3.15" class="c2"/>
<ellipse cx="413.69" cy="695.20" rx="2.05" ry="2.6" class="c0"/>
<ellipse cx="419.63" cy="695.20" rx="2.05" ry="2.6" class="c0"/>
<ellipse cx="425.57" cy="695.20" rx="2.5" ry="3.15" class="c2"/>
<ellipse cx="431.51" cy="695.20" rx="2.05" ry="2.6" fill="#4a80c2" stroke="#444" stroke-width="0.45"/>
<ellipse cx="437.45" cy="695.20" rx="2.05" ry="2.6" class="c2"/>
<ellipse cx="443.39" cy="695.20" rx="2.5" ry="3.15" class="c0"/>
<ellipse cx="449.33" cy="695.20" rx="2.5" ry="3.15" class="c4"/>
<circle cx="455.27" cy="695.20" r="0.55" fill="#777"/>
<ellipse cx="461.21" cy="695.20" rx="2.05" ry="2.6" class="c9"/>
<circle cx="467.15" cy="695.20" r="0.55" fill="#777"/>
<ellipse cx="473.09" cy="695.20" rx="2.05" ry="2.6" class="c2"/>
<ellipse cx="479.03" cy="695.20" rx="2.5" ry="3.15" class="c2"/>
<ellipse cx="484.97" cy="695.20" rx="2.5" ry="3.15" class="c28"/>
<ellipse cx="490.91" cy="695.20" rx="2.05" ry="2.6" class="c0"/>
<ellipse cx="496.85" cy="695.20" rx="2.5" ry="3.15" class="c4"/>
<ellipse cx="502.79" cy="695.20" rx="2.5" ry="3.15" class="c9"/>
<circle cx="508.73" cy="695.20" r="0.55" fill="#777"/>
<ellipse cx="514.67" cy="695.20" rx="1.35" ry="1.7" fill="#8fb9de" stroke="#555" stroke-width="0.35"/>
<ellipse cx="520.61" cy="695.20" rx="2.05" ry="2.6" class="c0"/>
<ellipse cx="526.55" cy="695.20" rx="2.5" ry="3.15" class="c9"/>
<ellipse cx="532.49" cy="695.20" rx="2.5" ry="3.15" class="c9"/>
<ellipse cx="538.43" cy="695.20" rx="2.5" ry="3.15" class="c4"/>
<ellipse cx="544.37" cy="695.20" rx="2.5" ry="3.15" class="c9"/>
<ellipse cx="550.31" cy="695.20" rx="2.5" ry="3.15" class="c18"/>
<ellipse cx="556.25" cy="695.20" rx="2.05" ry="2.6" class="c28"/>
<ellipse cx="562.19" cy="695.20" rx="2.5" ry="3.15" class="c18"/>
<ellipse cx="568.13" cy="695.20" rx="1.35" ry="1.7" fill="#f6a963" stroke="#555" stroke-width="0.35"/>
<ellipse cx="574.07" cy="695.20" rx="2.5" ry="3.15" class="c4"/>
<ellipse cx="580.01" cy="695.20" rx="2.5" ry="3.15" class="c0"/>
<circle cx="585.95" cy="695.20" r="0.55" fill="#777"/>
<ellipse cx="591.89" cy="695.20" rx="2.5" ry="3.15" class="c0"/>
<ellipse cx="597.83" cy="695.20" rx="2.05" ry="2.6" class="c0"/>
<ellipse cx="603.77" cy="695.20" rx="2.05" ry="2.6" class="c0"/>
<ellipse cx="609.71" cy="695.20" rx="2.5" ry="3.15" class="c0"/>
<ellipse cx="615.65" cy="695.20" rx="2.5" ry="3.15" class="c18"/>
<ellipse cx="621.59" cy="695.20" rx="2.5" ry="3.15" class="c18"/>
<ellipse cx="627.53" cy="695.20" rx="2.5" ry="3.15" class="c18"/>
<ellipse cx="633.47" cy="695.20" rx="2.5" ry="3.15" class="c18"/>
<ellipse cx="639.41" cy="695.20" rx="2.5" ry="3.15" class="c18"/>
<line x1="343.60" y1="706.01" x2="345.40" y2="706.01" class="c8"/>
<text x="342.80" y="707.61" font-size="4.5" text-anchor="end" letter-spacing="-0.05" stroke="#000" stroke-width="0.12">RPE</text>
<ellipse cx="348.35" cy="706.01" rx="2.5" ry="3.15" class="c0"/>
<ellipse cx="354.29" cy="706.01" rx="2.5" ry="3.15" class="c2"/>
<circle cx="360.23" cy="706.01" r="0.55" fill="#777"/>
<circle cx="366.17" cy="706.01" r="0.55" fill="#777"/>
<ellipse cx="372.11" cy="706.01" rx="2.05" ry="2.6" fill="#4a80c2" stroke="#444" stroke-width="0.45"/>
<ellipse cx="378.05" cy="706.01" rx="2.05" ry="2.6" class="c0"/>
<circle cx="383.99" cy="706.01" r="0.55" fill="#777"/>
<ellipse cx="389.93" cy="706.01" rx="2.05" ry="2.6" class="c4"/>
<ellipse cx="395.87" cy="706.01" rx="1.35" ry="1.7" fill="#8fb9de" stroke="#555" stroke-width="0.35"/>
<circle cx="401.81" cy="706.01" r="0.55" fill="#777"/>
<ellipse cx="407.75" cy="706.01" rx="2.5" ry="3.15" class="c0"/>
<ellipse cx="413.69" cy="706.01" rx="1.35" ry="1.7" fill="#4a80c2" stroke="#555" stroke-width="0.35"/>
<ellipse cx="419.63" cy="706.01" rx="2.05" ry="2.6" class="c0"/>
<ellipse cx="425.57" cy="706.01" rx="2.5" ry="3.15" class="c2"/>
<ellipse cx="431.51" cy="706.01" rx="2.05" ry="2.6" fill="#4a80c2" stroke="#444" stroke-width="0.45"/>
<ellipse cx="437.45" cy="706.01" rx="2.05" ry="2.6" class="c9"/>
<ellipse cx="443.39" cy="706.01" rx="2.5" ry="3.15" class="c2"/>
<ellipse cx="449.33" cy="706.01" rx="2.5" ry="3.15" class="c9"/>
<circle cx="455.27" cy="706.01" r="0.55" fill="#777"/>
<ellipse cx="461.21" cy="706.01" rx="2.05" ry="2.6" class="c9"/>
<circle cx="467.15" cy="706.01" r="0.55" fill="#777"/>
<ellipse cx="473.09" cy="706.01" rx="1.35" ry="1.7" fill="#8fb9de" stroke="#555" stroke-width="0.35"/>
<ellipse cx="479.03" cy="706.01" rx="2.5" ry="3.15" class="c2"/>
<ellipse cx="484.97" cy="706.01" rx="2.05" ry="2.6" fill="#4a80c2" stroke="#444" stroke-width="0.45"/>
<ellipse cx="490.91" cy="706.01" rx="1.35" ry="1.7" fill="#8fb9de" stroke="#555" stroke-width="0.35"/>
<ellipse cx="496.85" cy="706.01" rx="2.5" ry="3.15" class="c2"/>
<ellipse cx="502.79" cy="706.01" rx="2.5" ry="3.15" class="c2"/>
<ellipse cx="508.73" cy="706.01" rx="1.35" ry="1.7" fill="#fbeea0" stroke="#555" stroke-width="0.35"/>
<ellipse cx="514.67" cy="706.01" rx="1.35" ry="1.7" fill="#8fb9de" stroke="#555" stroke-width="0.35"/>
<ellipse cx="520.61" cy="706.01" rx="2.05" ry="2.6" class="c0"/>
<ellipse cx="526.55" cy="706.01" rx="2.5" ry="3.15" class="c4"/>
<ellipse cx="532.49" cy="706.01" rx="2.5" ry="3.15" class="c4"/>
<ellipse cx="538.43" cy="706.01" rx="2.5" ry="3.15" class="c4"/>
<ellipse cx="544.37" cy="706.01" rx="2.5" ry="3.15" class="c4"/>
<ellipse cx="550.31" cy="706.01" rx="2.5" ry="3.15" class="c4"/>
<ellipse cx="556.25" cy="706.01" rx="2.05" ry="2.6" class="c9"/>
<ellipse cx="562.19" cy="706.01" rx="1.35" ry="1.7" fill="#e6f2e4" stroke="#555" stroke-width="0.35"/>
<ellipse cx="568.13" cy="706.01" rx="1.35" ry="1.7" class="c26"/>
<ellipse cx="574.07" cy="706.01" rx="2.5" ry="3.15" class="c9"/>
<ellipse cx="580.01" cy="706.01" rx="2.5" ry="3.15" class="c9"/>
<ellipse cx="585.95" cy="706.01" rx="2.5" ry="3.15" class="c18"/>
<ellipse cx="591.89" cy="706.01" rx="2.5" ry="3.15" class="c18"/>
<ellipse cx="597.83" cy="706.01" rx="2.5" ry="3.15" class="c18"/>
<ellipse cx="603.77" cy="706.01" rx="2.5" ry="3.15" class="c18"/>
<ellipse cx="609.71" cy="706.01" rx="2.5" ry="3.15" class="c18"/>
<ellipse cx="615.65" cy="706.01" rx="2.5" ry="3.15" class="c9"/>
<ellipse cx="621.59" cy="706.01" rx="2.5" ry="3.15" class="c0"/>
<ellipse cx="627.53" cy="706.01" rx="2.5" ry="3.15" class="c0"/>
<ellipse cx="633.47" cy="706.01" rx="2.5" ry="3.15" class="c9"/>
<ellipse cx="639.41" cy="706.01" rx="2.5" ry="3.15" class="c4"/>
<line x1="343.60" y1="716.82" x2="345.40" y2="716.82" class="c8"/>
<text x="342.80" y="718.42" font-size="4.5" text-anchor="end" letter-spacing="-0.05" stroke="#000" stroke-width="0.12">RGC</text>
<ellipse cx="348.35" cy="716.82" rx="2.5" ry="3.15" class="c0"/>
<ellipse cx="354.29" cy="716.82" rx="2.5" ry="3.15" class="c0"/>
<ellipse cx="360.23" cy="716.82" rx="2.05" ry="2.6" class="c0"/>
<ellipse cx="366.17" cy="716.82" rx="1.35" ry="1.7" class="c26"/>
<ellipse cx="372.11" cy="716.82" rx="2.05" ry="2.6" class="c0"/>
<ellipse cx="378.05" cy="716.82" rx="2.05" ry="2.6" class="c0"/>
<circle cx="383.99" cy="716.82" r="0.55" fill="#777"/>
<ellipse cx="389.93" cy="716.82" rx="2.05" ry="2.6" class="c9"/>
<ellipse cx="395.87" cy="716.82" rx="2.05" ry="2.6" class="c0"/>
<circle cx="401.81" cy="716.82" r="0.55" fill="#777"/>
<ellipse cx="407.75" cy="716.82" rx="2.05" ry="2.6" class="c2"/>
<ellipse cx="413.69" cy="716.82" rx="2.05" ry="2.6" class="c0"/>
<ellipse cx="419.63" cy="716.82" rx="2.05" ry="2.6" class="c0"/>
<ellipse cx="425.57" cy="716.82" rx="2.5" ry="3.15" class="c0"/>
<ellipse cx="431.51" cy="716.82" rx="2.05" ry="2.6" class="c0"/>
<ellipse cx="437.45" cy="716.82" rx="2.05" ry="2.6" fill="#4a80c2" stroke="#444" stroke-width="0.45"/>
<ellipse cx="443.39" cy="716.82" rx="2.5" ry="3.15" class="c0"/>
<ellipse cx="449.33" cy="716.82" rx="2.05" ry="2.6" class="c0"/>
<ellipse cx="455.27" cy="716.82" rx="2.05" ry="2.6" class="c28"/>
<ellipse cx="461.21" cy="716.82" rx="2.05" ry="2.6" class="c4"/>
<circle cx="467.15" cy="716.82" r="0.55" fill="#777"/>
<ellipse cx="473.09" cy="716.82" rx="2.05" ry="2.6" class="c0"/>
<ellipse cx="479.03" cy="716.82" rx="2.5" ry="3.15" class="c2"/>
<ellipse cx="484.97" cy="716.82" rx="2.5" ry="3.15" class="c0"/>
<ellipse cx="490.91" cy="716.82" rx="2.05" ry="2.6" class="c0"/>
<ellipse cx="496.85" cy="716.82" rx="2.5" ry="3.15" class="c0"/>
<ellipse cx="502.79" cy="716.82" rx="2.5" ry="3.15" class="c4"/>
<circle cx="508.73" cy="716.82" r="0.55" fill="#777"/>
<ellipse cx="514.67" cy="716.82" rx="2.05" ry="2.6" class="c0"/>
<ellipse cx="520.61" cy="716.82" rx="2.05" ry="2.6" class="c4"/>
<ellipse cx="526.55" cy="716.82" rx="2.5" ry="3.15" class="c4"/>
<ellipse cx="532.49" cy="716.82" rx="2.5" ry="3.15" class="c4"/>
<ellipse cx="538.43" cy="716.82" rx="2.5" ry="3.15" class="c4"/>
<ellipse cx="544.37" cy="716.82" rx="2.5" ry="3.15" class="c9"/>
<ellipse cx="550.31" cy="716.82" rx="2.5" ry="3.15" class="c9"/>
<ellipse cx="556.25" cy="716.82" rx="2.05" ry="2.6" class="c18"/>
<ellipse cx="562.19" cy="716.82" rx="2.05" ry="2.6" class="c28"/>
<ellipse cx="568.13" cy="716.82" rx="1.35" ry="1.7" fill="#d93a2a" stroke="#555" stroke-width="0.35"/>
<ellipse cx="574.07" cy="716.82" rx="2.5" ry="3.15" class="c18"/>
<ellipse cx="580.01" cy="716.82" rx="2.5" ry="3.15" class="c18"/>
<ellipse cx="585.95" cy="716.82" rx="1.35" ry="1.7" fill="#e6f2e4" stroke="#555" stroke-width="0.35"/>
<ellipse cx="591.89" cy="716.82" rx="2.5" ry="3.15" class="c0"/>
<ellipse cx="597.83" cy="716.82" rx="2.05" ry="2.6" class="c0"/>
<ellipse cx="603.77" cy="716.82" rx="2.05" ry="2.6" class="c0"/>
<ellipse cx="609.71" cy="716.82" rx="2.5" ry="3.15" class="c0"/>
<ellipse cx="615.65" cy="716.82" rx="2.05" ry="2.6" class="c4"/>
<ellipse cx="621.59" cy="716.82" rx="2.5" ry="3.15" class="c0"/>
<ellipse cx="627.53" cy="716.82" rx="2.5" ry="3.15" class="c4"/>
<ellipse cx="633.47" cy="716.82" rx="2.5" ry="3.15" class="c4"/>
<ellipse cx="639.41" cy="716.82" rx="2.5" ry="3.15" class="c4"/>
<line x1="343.60" y1="727.63" x2="345.40" y2="727.63" class="c8"/>
<text x="342.80" y="729.23" font-size="4.5" text-anchor="end" letter-spacing="-0.05" stroke="#000" stroke-width="0.12">Microglia</text>
<ellipse cx="348.35" cy="727.63" rx="2.5" ry="3.15" class="c2"/>
<ellipse cx="354.29" cy="727.63" rx="2.5" ry="3.15" class="c2"/>
<ellipse cx="360.23" cy="727.63" rx="2.05" ry="2.6" class="c0"/>
<ellipse cx="366.17" cy="727.63" rx="1.35" ry="1.7" fill="#8fb9de" stroke="#555" stroke-width="0.35"/>
<ellipse cx="372.11" cy="727.63" rx="2.05" ry="2.6" fill="#4a80c2" stroke="#444" stroke-width="0.45"/>
<ellipse cx="378.05" cy="727.63" rx="2.05" ry="2.6" class="c2"/>
<circle cx="383.99" cy="727.63" r="0.55" fill="#777"/>
<ellipse cx="389.93" cy="727.63" rx="2.5" ry="3.15" class="c2"/>
<ellipse cx="395.87" cy="727.63" rx="1.35" ry="1.7" fill="#8fb9de" stroke="#555" stroke-width="0.35"/>
<circle cx="401.81" cy="727.63" r="0.55" fill="#777"/>
<ellipse cx="407.75" cy="727.63" rx="2.5" ry="3.15" fill="#4a80c2" stroke="#444" stroke-width="0.45"/>
<ellipse cx="413.69" cy="727.63" rx="2.05" ry="2.6" class="c0"/>
<ellipse cx="419.63" cy="727.63" rx="2.05" ry="2.6" class="c0"/>
<ellipse cx="425.57" cy="727.63" rx="2.5" ry="3.15" class="c2"/>
<ellipse cx="431.51" cy="727.63" rx="2.05" ry="2.6" class="c2"/>
<ellipse cx="437.45" cy="727.63" rx="2.05" ry="2.6" class="c2"/>
<ellipse cx="443.39" cy="727.63" rx="2.5" ry="3.15" fill="#4a80c2" stroke="#444" stroke-width="0.45"/>
<ellipse cx="449.33" cy="727.63" rx="2.05" ry="2.6" fill="#4a80c2" stroke="#444" stroke-width="0.45"/>
<circle cx="455.27" cy="727.63" r="0.55" fill="#777"/>
<ellipse cx="461.21" cy="727.63" rx="2.5" ry="3.15" class="c18"/>
<ellipse cx="467.15" cy="727.63" rx="1.35" ry="1.7" fill="#e6f2e4" stroke="#555" stroke-width="0.35"/>
<ellipse cx="473.09" cy="727.63" rx="2.05" ry="2.6" class="c0"/>
<ellipse cx="479.03" cy="727.63" rx="2.5" ry="3.15" fill="#4a80c2" stroke="#444" stroke-width="0.45"/>
<ellipse cx="484.97" cy="727.63" rx="2.05" ry="2.6" class="c28"/>
<ellipse cx="490.91" cy="727.63" rx="2.05" ry="2.6" class="c0"/>
<ellipse cx="496.85" cy="727.63" rx="2.5" ry="3.15" class="c0"/>
<ellipse cx="502.79" cy="727.63" rx="2.5" ry="3.15" fill="#4a80c2" stroke="#444" stroke-width="0.45"/>
<circle cx="508.73" cy="727.63" r="0.55" fill="#777"/>
<ellipse cx="514.67" cy="727.63" rx="2.05" ry="2.6" class="c9"/>
<ellipse cx="520.61" cy="727.63" rx="2.05" ry="2.6" class="c4"/>
<ellipse cx="526.55" cy="727.63" rx="2.5" ry="3.15" class="c18"/>
<ellipse cx="532.49" cy="727.63" rx="2.5" ry="3.15" class="c18"/>
<ellipse cx="538.43" cy="727.63" rx="2.5" ry="3.15" class="c18"/>
<ellipse cx="544.37" cy="727.63" rx="2.5" ry="3.15" class="c18"/>
<ellipse cx="550.31" cy="727.63" rx="2.5" ry="3.15" class="c28"/>
<circle cx="556.25" cy="727.63" r="0.55" fill="#777"/>
<circle cx="562.19" cy="727.63" r="0.55" fill="#777"/>
<circle cx="568.13" cy="727.63" r="0.55" fill="#777"/>
<ellipse cx="574.07" cy="727.63" rx="2.5" ry="3.15" class="c2"/>
<ellipse cx="580.01" cy="727.63" rx="2.05" ry="2.6" class="c2"/>
<circle cx="585.95" cy="727.63" r="0.55" fill="#777"/>
<ellipse cx="591.89" cy="727.63" rx="2.5" ry="3.15" class="c4"/>
<ellipse cx="597.83" cy="727.63" rx="1.35" ry="1.7" class="c26"/>
<ellipse cx="603.77" cy="727.63" rx="2.05" ry="2.6" class="c0"/>
<ellipse cx="609.71" cy="727.63" rx="2.5" ry="3.15" class="c0"/>
<ellipse cx="615.65" cy="727.63" rx="2.05" ry="2.6" class="c9"/>
<ellipse cx="621.59" cy="727.63" rx="2.5" ry="3.15" class="c0"/>
<ellipse cx="627.53" cy="727.63" rx="2.5" ry="3.15" class="c4"/>
<ellipse cx="633.47" cy="727.63" rx="2.5" ry="3.15" class="c0"/>
<ellipse cx="639.41" cy="727.63" rx="2.5" ry="3.15" class="c4"/>
<line x1="343.60" y1="738.44" x2="345.40" y2="738.44" class="c8"/>
<text x="342.80" y="740.04" font-size="4.5" text-anchor="end" letter-spacing="-0.05" stroke="#000" stroke-width="0.12">Progenitor-UBC</text>
<ellipse cx="348.35" cy="738.44" rx="2.5" ry="3.15" class="c0"/>
<ellipse cx="354.29" cy="738.44" rx="2.5" ry="3.15" class="c0"/>
<ellipse cx="360.23" cy="738.44" rx="2.05" ry="2.6" class="c0"/>
<ellipse cx="366.17" cy="738.44" rx="1.35" ry="1.7" fill="#e6f2e4" stroke="#555" stroke-width="0.35"/>
<ellipse cx="372.11" cy="738.44" rx="2.05" ry="2.6" class="c9"/>
<ellipse cx="378.05" cy="738.44" rx="2.5" ry="3.15" class="c18"/>
<ellipse cx="383.99" cy="738.44" rx="1.35" ry="1.7" fill="#f6a963" stroke="#555" stroke-width="0.35"/>
<ellipse cx="389.93" cy="738.44" rx="2.5" ry="3.15" class="c9"/>
<ellipse cx="395.87" cy="738.44" rx="2.5" ry="3.15" class="c9"/>
<ellipse cx="401.81" cy="738.44" rx="2.05" ry="2.6" class="c18"/>
<ellipse cx="407.75" cy="738.44" rx="2.5" ry="3.15" class="c4"/>
<ellipse cx="413.69" cy="738.44" rx="2.5" ry="3.15" class="c4"/>
<ellipse cx="419.63" cy="738.44" rx="1.35" ry="1.7" fill="#4a80c2" stroke="#555" stroke-width="0.35"/>
<ellipse cx="425.57" cy="738.44" rx="2.5" ry="3.15" class="c0"/>
<ellipse cx="431.51" cy="738.44" rx="2.5" ry="3.15" class="c0"/>
<ellipse cx="437.45" cy="738.44" rx="2.05" ry="2.6" class="c2"/>
<ellipse cx="443.39" cy="738.44" rx="2.5" ry="3.15" class="c0"/>
<ellipse cx="449.33" cy="738.44" rx="2.5" ry="3.15" class="c9"/>
<ellipse cx="455.27" cy="738.44" rx="2.5" ry="3.15" class="c28"/>
<ellipse cx="461.21" cy="738.44" rx="2.05" ry="2.6" class="c0"/>
<circle cx="467.15" cy="738.44" r="0.55" fill="#777"/>
<ellipse cx="473.09" cy="738.44" rx="2.5" ry="3.15" class="c0"/>
<ellipse cx="479.03" cy="738.44" rx="2.5" ry="3.15" class="c2"/>
<ellipse cx="484.97" cy="738.44" rx="2.05" ry="2.6" class="c0"/>
<ellipse cx="490.91" cy="738.44" rx="2.05" ry="2.6" class="c0"/>
<ellipse cx="496.85" cy="738.44" rx="2.5" ry="3.15" class="c0"/>
<ellipse cx="502.79" cy="738.44" rx="2.5" ry="3.15" class="c2"/>
<circle cx="508.73" cy="738.44" r="0.55" fill="#777"/>
<ellipse cx="514.67" cy="738.44" rx="2.05" ry="2.6" class="c4"/>
<ellipse cx="520.61" cy="738.44" rx="2.5" ry="3.15" class="c18"/>
<ellipse cx="526.55" cy="738.44" rx="2.5" ry="3.15" class="c0"/>
<ellipse cx="532.49" cy="738.44" rx="2.5" ry="3.15" class="c0"/>
<ellipse cx="538.43" cy="738.44" rx="2.5" ry="3.15" class="c0"/>
<ellipse cx="544.37" cy="738.44" rx="2.5" ry="3.15" class="c2"/>
<ellipse cx="550.31" cy="738.44" rx="2.05" ry="2.6" class="c2"/>
<circle cx="556.25" cy="738.44" r="0.55" fill="#777"/>
<circle cx="562.19" cy="738.44" r="0.55" fill="#777"/>
<ellipse cx="568.13" cy="738.44" rx="1.35" ry="1.7" fill="#e6f2e4" stroke="#555" stroke-width="0.35"/>
<ellipse cx="574.07" cy="738.44" rx="2.5" ry="3.15" class="c4"/>
<ellipse cx="580.01" cy="738.44" rx="2.5" ry="3.15" class="c9"/>
<circle cx="585.95" cy="738.44" r="0.55" fill="#777"/>
<ellipse cx="591.89" cy="738.44" rx="2.5" ry="3.15" class="c0"/>
<ellipse cx="597.83" cy="738.44" rx="2.05" ry="2.6" class="c0"/>
<ellipse cx="603.77" cy="738.44" rx="2.5" ry="3.15" class="c9"/>
<ellipse cx="609.71" cy="738.44" rx="2.5" ry="3.15" class="c4"/>
<ellipse cx="615.65" cy="738.44" rx="1.35" ry="1.7" class="c26"/>
<ellipse cx="621.59" cy="738.44" rx="2.05" ry="2.6" class="c0"/>
<ellipse cx="627.53" cy="738.44" rx="2.05" ry="2.6" class="c0"/>
<ellipse cx="633.47" cy="738.44" rx="2.05" ry="2.6" class="c0"/>
<ellipse cx="639.41" cy="738.44" rx="2.05" ry="2.6" class="c0"/>
<line x1="343.60" y1="749.25" x2="345.40" y2="749.25" class="c8"/>
<text x="342.80" y="750.85" font-size="4.5" text-anchor="end" letter-spacing="-0.05" stroke="#000" stroke-width="0.12">Progenitor-Photoreceptor</text>
<ellipse cx="348.35" cy="749.25" rx="2.5" ry="3.15" class="c0"/>
<ellipse cx="354.29" cy="749.25" rx="2.5" ry="3.15" class="c0"/>
<ellipse cx="360.23" cy="749.25" rx="2.05" ry="2.6" class="c0"/>
<ellipse cx="366.17" cy="749.25" rx="1.35" ry="1.7" class="c26"/>
<ellipse cx="372.11" cy="749.25" rx="2.5" ry="3.15" class="c0"/>
<ellipse cx="378.05" cy="749.25" rx="2.05" ry="2.6" class="c0"/>
<circle cx="383.99" cy="749.25" r="0.55" fill="#777"/>
<ellipse cx="389.93" cy="749.25" rx="2.5" ry="3.15" class="c2"/>
<ellipse cx="395.87" cy="749.25" rx="1.35" ry="1.7" fill="#8fb9de" stroke="#555" stroke-width="0.35"/>
<circle cx="401.81" cy="749.25" r="0.55" fill="#777"/>
<ellipse cx="407.75" cy="749.25" rx="2.5" ry="3.15" class="c9"/>
<ellipse cx="413.69" cy="749.25" rx="2.05" ry="2.6" class="c0"/>
<ellipse cx="419.63" cy="749.25" rx="2.05" ry="2.6" class="c0"/>
<ellipse cx="425.57" cy="749.25" rx="2.5" ry="3.15" class="c0"/>
<ellipse cx="431.51" cy="749.25" rx="2.5" ry="3.15" class="c0"/>
<ellipse cx="437.45" cy="749.25" rx="2.05" ry="2.6" class="c9"/>
<ellipse cx="443.39" cy="749.25" rx="2.5" ry="3.15" class="c2"/>
<ellipse cx="449.33" cy="749.25" rx="2.05" ry="2.6" class="c2"/>
<ellipse cx="455.27" cy="749.25" rx="1.35" ry="1.7" fill="#e6f2e4" stroke="#555" stroke-width="0.35"/>
<ellipse cx="461.21" cy="749.25" rx="2.05" ry="2.6" class="c2"/>
<ellipse cx="467.15" cy="749.25" rx="1.35" ry="1.7" fill="#e6f2e4" stroke="#555" stroke-width="0.35"/>
<ellipse cx="473.09" cy="749.25" rx="2.05" ry="2.6" class="c4"/>
<ellipse cx="479.03" cy="749.25" rx="2.5" ry="3.15" class="c9"/>
<ellipse cx="484.97" cy="749.25" rx="2.05" ry="2.6" class="c2"/>
<ellipse cx="490.91" cy="749.25" rx="2.5" ry="3.15" class="c18"/>
<ellipse cx="496.85" cy="749.25" rx="2.5" ry="3.15" class="c18"/>
<ellipse cx="502.79" cy="749.25" rx="2.5" ry="3.15" class="c18"/>
<ellipse cx="508.73" cy="749.25" rx="1.35" ry="1.7" fill="#d93a2a" stroke="#555" stroke-width="0.35"/>
<ellipse cx="514.67" cy="749.25" rx="2.5" ry="3.15" class="c18"/>
<ellipse cx="520.61" cy="749.25" rx="1.35" ry="1.7" class="c26"/>
<ellipse cx="526.55" cy="749.25" rx="2.5" ry="3.15" class="c2"/>
<ellipse cx="532.49" cy="749.25" rx="2.5" ry="3.15" class="c2"/>
<ellipse cx="538.43" cy="749.25" rx="2.5" ry="3.15" class="c0"/>
<ellipse cx="544.37" cy="749.25" rx="2.5" ry="3.15" class="c2"/>
<ellipse cx="550.31" cy="749.25" rx="2.05" ry="2.6" class="c0"/>
<circle cx="556.25" cy="749.25" r="0.55" fill="#777"/>
<circle cx="562.19" cy="749.25" r="0.55" fill="#777"/>
<circle cx="568.13" cy="749.25" r="0.55" fill="#777"/>
<ellipse cx="574.07" cy="749.25" rx="2.5" ry="3.15" class="c2"/>
<ellipse cx="580.01" cy="749.25" rx="2.5" ry="3.15" class="c2"/>
<circle cx="585.95" cy="749.25" r="0.55" fill="#777"/>
<ellipse cx="591.89" cy="749.25" rx="2.5" ry="3.15" class="c0"/>
<ellipse cx="597.83" cy="749.25" rx="2.05" ry="2.6" class="c0"/>
<ellipse cx="603.77" cy="749.25" rx="2.05" ry="2.6" class="c0"/>
<ellipse cx="609.71" cy="749.25" rx="2.5" ry="3.15" class="c0"/>
<circle cx="615.65" cy="749.25" r="0.55" fill="#777"/>
<ellipse cx="621.59" cy="749.25" rx="2.05" ry="2.6" class="c0"/>
<ellipse cx="627.53" cy="749.25" rx="2.5" ry="3.15" class="c0"/>
<ellipse cx="633.47" cy="749.25" rx="2.05" ry="2.6" class="c0"/>
<ellipse cx="639.41" cy="749.25" rx="1.35" ry="1.7" class="c26"/>
<line x1="343.60" y1="760.06" x2="345.40" y2="760.06" class="c8"/>
<text x="342.80" y="761.66" font-size="4.5" text-anchor="end" letter-spacing="-0.05" stroke="#000" stroke-width="0.12">Cycling neural progenitor</text>
<ellipse cx="348.35" cy="760.06" rx="2.5" ry="3.15" class="c0"/>
<ellipse cx="354.29" cy="760.06" rx="2.5" ry="3.15" class="c4"/>
<ellipse cx="360.23" cy="760.06" rx="2.05" ry="2.6" class="c4"/>
<ellipse cx="366.17" cy="760.06" rx="1.35" ry="1.7" fill="#e6f2e4" stroke="#555" stroke-width="0.35"/>
<ellipse cx="372.11" cy="760.06" rx="2.5" ry="3.15" class="c9"/>
<ellipse cx="378.05" cy="760.06" rx="2.05" ry="2.6" class="c4"/>
<circle cx="383.99" cy="760.06" r="0.55" fill="#777"/>
<ellipse cx="389.93" cy="760.06" rx="2.5" ry="3.15" class="c2"/>
<ellipse cx="395.87" cy="760.06" rx="2.05" ry="2.6" class="c28"/>
<circle cx="401.81" cy="760.06" r="0.55" fill="#777"/>
<ellipse cx="407.75" cy="760.06" rx="2.5" ry="3.15" class="c0"/>
<ellipse cx="413.69" cy="760.06" rx="2.5" ry="3.15" class="c0"/>
<ellipse cx="419.63" cy="760.06" rx="2.05" ry="2.6" class="c9"/>
<ellipse cx="425.57" cy="760.06" rx="2.5" ry="3.15" class="c4"/>
<ellipse cx="431.51" cy="760.06" rx="2.05" ry="2.6" class="c4"/>
<ellipse cx="437.45" cy="760.06" rx="2.05" ry="2.6" class="c9"/>
<ellipse cx="443.39" cy="760.06" rx="2.05" ry="2.6" class="c28"/>
<ellipse cx="449.33" cy="760.06" rx="2.05" ry="2.6" class="c2"/>
<circle cx="455.27" cy="760.06" r="0.55" fill="#777"/>
<ellipse cx="461.21" cy="760.06" rx="2.5" ry="3.15" class="c2"/>
<ellipse cx="467.15" cy="760.06" rx="2.5" ry="3.15" class="c18"/>
<ellipse cx="473.09" cy="760.06" rx="2.5" ry="3.15" class="c18"/>
<ellipse cx="479.03" cy="760.06" rx="2.5" ry="3.15" class="c18"/>
<ellipse cx="484.97" cy="760.06" rx="2.05" ry="2.6" class="c9"/>
<ellipse cx="490.91" cy="760.06" rx="2.05" ry="2.6" class="c0"/>
<ellipse cx="496.85" cy="760.06" rx="2.5" ry="3.15" class="c0"/>
<ellipse cx="502.79" cy="760.06" rx="2.5" ry="3.15" class="c4"/>
<circle cx="508.73" cy="760.06" r="0.55" fill="#777"/>
<ellipse cx="514.67" cy="760.06" rx="2.05" ry="2.6" class="c4"/>
<ellipse cx="520.61" cy="760.06" rx="1.35" ry="1.7" fill="#8fb9de" stroke="#555" stroke-width="0.35"/>
<ellipse cx="526.55" cy="760.06" rx="2.5" ry="3.15" class="c2"/>
<ellipse cx="532.49" cy="760.06" rx="2.5" ry="3.15" class="c2"/>
<ellipse cx="538.43" cy="760.06" rx="2.05" ry="2.6" class="c2"/>
<ellipse cx="544.37" cy="760.06" rx="2.5" ry="3.15" class="c2"/>
<ellipse cx="550.31" cy="760.06" rx="1.35" ry="1.7" fill="#8fb9de" stroke="#555" stroke-width="0.35"/>
<circle cx="556.25" cy="760.06" r="0.55" fill="#777"/>
<circle cx="562.19" cy="760.06" r="0.55" fill="#777"/>
<circle cx="568.13" cy="760.06" r="0.55" fill="#777"/>
<ellipse cx="574.07" cy="760.06" rx="2.5" ry="3.15" class="c2"/>
<ellipse cx="580.01" cy="760.06" rx="2.05" ry="2.6" class="c2"/>
<circle cx="585.95" cy="760.06" r="0.55" fill="#777"/>
<ellipse cx="591.89" cy="760.06" rx="1.35" ry="1.7" class="c26"/>
<ellipse cx="597.83" cy="760.06" rx="2.05" ry="2.6" class="c0"/>
<ellipse cx="603.77" cy="760.06" rx="1.35" ry="1.7" class="c26"/>
<ellipse cx="609.71" cy="760.06" rx="2.5" ry="3.15" class="c0"/>
<circle cx="615.65" cy="760.06" r="0.55" fill="#777"/>
<ellipse cx="621.59" cy="760.06" rx="1.35" ry="1.7" class="c26"/>
<ellipse cx="627.53" cy="760.06" rx="2.05" ry="2.6" class="c0"/>
<ellipse cx="633.47" cy="760.06" rx="1.35" ry="1.7" class="c26"/>
<ellipse cx="639.41" cy="760.06" rx="1.35" ry="1.7" class="c26"/>
<line x1="343.60" y1="770.87" x2="345.40" y2="770.87" class="c8"/>
<text x="342.80" y="772.47" font-size="4.5" text-anchor="end" letter-spacing="-0.05" stroke="#000" stroke-width="0.12">Purkinje</text>
<ellipse cx="348.35" cy="770.87" rx="2.5" ry="3.15" class="c0"/>
<ellipse cx="354.29" cy="770.87" rx="2.5" ry="3.15" class="c4"/>
<ellipse cx="360.23" cy="770.87" rx="2.05" ry="2.6" class="c4"/>
<ellipse cx="366.17" cy="770.87" rx="1.35" ry="1.7" fill="#e6f2e4" stroke="#555" stroke-width="0.35"/>
<ellipse cx="372.11" cy="770.87" rx="2.5" ry="3.15" class="c9"/>
<ellipse cx="378.05" cy="770.87" rx="2.5" ry="3.15" class="c9"/>
<ellipse cx="383.99" cy="770.87" rx="1.35" ry="1.7" fill="#d93a2a" stroke="#555" stroke-width="0.35"/>
<ellipse cx="389.93" cy="770.87" rx="2.5" ry="3.15" class="c18"/>
<ellipse cx="395.87" cy="770.87" rx="2.05" ry="2.6" class="c9"/>
<circle cx="401.81" cy="770.87" r="0.55" fill="#777"/>
<ellipse cx="407.75" cy="770.87" rx="2.5" ry="3.15" class="c9"/>
<ellipse cx="413.69" cy="770.87" rx="2.5" ry="3.15" class="c9"/>
<ellipse cx="419.63" cy="770.87" rx="2.05" ry="2.6" class="c2"/>
<ellipse cx="425.57" cy="770.87" rx="2.05" ry="2.6" class="c9"/>
<ellipse cx="431.51" cy="770.87" rx="2.05" ry="2.6" class="c4"/>
<ellipse cx="437.45" cy="770.87" rx="2.05" ry="2.6" class="c4"/>
<ellipse cx="443.39" cy="770.87" rx="2.05" ry="2.6" class="c9"/>
<ellipse cx="449.33" cy="770.87" rx="2.5" ry="3.15" class="c28"/>
<ellipse cx="455.27" cy="770.87" rx="2.5" ry="3.15" class="c28"/>
<ellipse cx="461.21" cy="770.87" rx="2.05" ry="2.6" class="c9"/>
<ellipse cx="467.15" cy="770.87" rx="1.35" ry="1.7" fill="#e6f2e4" stroke="#555" stroke-width="0.35"/>
<ellipse cx="473.09" cy="770.87" rx="2.5" ry="3.15" class="c4"/>
<ellipse cx="479.03" cy="770.87" rx="2.5" ry="3.15" class="c4"/>
<ellipse cx="484.97" cy="770.87" rx="2.05" ry="2.6" class="c4"/>
<ellipse cx="490.91" cy="770.87" rx="2.05" ry="2.6" class="c4"/>
<ellipse cx="496.85" cy="770.87" rx="2.5" ry="3.15" class="c2"/>
<ellipse cx="502.79" cy="770.87" rx="2.5" ry="3.15" class="c9"/>
<circle cx="508.73" cy="770.87" r="0.55" fill="#777"/>
<ellipse cx="514.67" cy="770.87" rx="2.05" ry="2.6" class="c9"/>
<ellipse cx="520.61" cy="770.87" rx="2.05" ry="2.6" class="c4"/>
<ellipse cx="526.55" cy="770.87" rx="2.5" ry="3.15" class="c0"/>
<ellipse cx="532.49" cy="770.87" rx="2.5" ry="3.15" class="c0"/>
<ellipse cx="538.43" cy="770.87" rx="2.5" ry="3.15" class="c0"/>
<ellipse cx="544.37" cy="770.87" rx="2.5" ry="3.15" class="c2"/>
<ellipse cx="550.31" cy="770.87" rx="2.05" ry="2.6" class="c0"/>
<circle cx="556.25" cy="770.87" r="0.55" fill="#777"/>
<circle cx="562.19" cy="770.87" r="0.55" fill="#777"/>
<circle cx="568.13" cy="770.87" r="0.55" fill="#777"/>
<ellipse cx="574.07" cy="770.87" rx="2.5" ry="3.15" class="c4"/>
<ellipse cx="580.01" cy="770.87" rx="2.5" ry="3.15" class="c4"/>
<circle cx="585.95" cy="770.87" r="0.55" fill="#777"/>
<ellipse cx="591.89" cy="770.87" rx="2.05" ry="2.6" class="c0"/>
<ellipse cx="597.83" cy="770.87" rx="2.05" ry="2.6" class="c0"/>
<ellipse cx="603.77" cy="770.87" rx="2.05" ry="2.6" class="c0"/>
<ellipse cx="609.71" cy="770.87" rx="2.5" ry="3.15" class="c0"/>
<ellipse cx="615.65" cy="770.87" rx="2.05" ry="2.6" class="c0"/>
<ellipse cx="621.59" cy="770.87" rx="2.05" ry="2.6" class="c0"/>
<ellipse cx="627.53" cy="770.87" rx="2.05" ry="2.6" class="c0"/>
<ellipse cx="633.47" cy="770.87" rx="2.05" ry="2.6" class="c0"/>
<ellipse cx="639.41" cy="770.87" rx="2.05" ry="2.6" class="c0"/>
<line x1="343.60" y1="781.68" x2="345.40" y2="781.68" class="c8"/>
<text x="342.80" y="783.28" font-size="4.5" text-anchor="end" letter-spacing="-0.05" stroke="#000" stroke-width="0.12">Glutamatergic</text>
<ellipse cx="348.35" cy="781.68" rx="2.5" ry="3.15" class="c2"/>
<ellipse cx="354.29" cy="781.68" rx="2.5" ry="3.15" class="c2"/>
<ellipse cx="360.23" cy="781.68" rx="1.35" ry="1.7" fill="#8fb9de" stroke="#555" stroke-width="0.35"/>
<circle cx="366.17" cy="781.68" r="0.55" fill="#777"/>
<ellipse cx="372.11" cy="781.68" rx="2.05" ry="2.6" class="c0"/>
<ellipse cx="378.05" cy="781.68" rx="2.05" ry="2.6" class="c0"/>
<circle cx="383.99" cy="781.68" r="0.55" fill="#777"/>
<ellipse cx="389.93" cy="781.68" rx="2.5" ry="3.15" class="c0"/>
<ellipse cx="395.87" cy="781.68" rx="2.05" ry="2.6" class="c9"/>
<circle cx="401.81" cy="781.68" r="0.55" fill="#777"/>
<ellipse cx="407.75" cy="781.68" rx="2.5" ry="3.15" class="c2"/>
<ellipse cx="413.69" cy="781.68" rx="2.5" ry="3.15" class="c2"/>
<ellipse cx="419.63" cy="781.68" rx="2.5" ry="3.15" class="c18"/>
<ellipse cx="425.57" cy="781.68" rx="2.5" ry="3.15" class="c18"/>
<ellipse cx="431.51" cy="781.68" rx="2.5" ry="3.15" class="c28"/>
<ellipse cx="437.45" cy="781.68" rx="2.5" ry="3.15" class="c18"/>
<ellipse cx="443.39" cy="781.68" rx="2.5" ry="3.15" class="c18"/>
<ellipse cx="449.33" cy="781.68" rx="2.05" ry="2.6" fill="#4a80c2" stroke="#444" stroke-width="0.45"/>
<circle cx="455.27" cy="781.68" r="0.55" fill="#777"/>
<ellipse cx="461.21" cy="781.68" rx="2.05" ry="2.6" class="c2"/>
<ellipse cx="467.15" cy="781.68" rx="1.35" ry="1.7" fill="#e6f2e4" stroke="#555" stroke-width="0.35"/>
<ellipse cx="473.09" cy="781.68" rx="2.05" ry="2.6" class="c0"/>
<ellipse cx="479.03" cy="781.68" rx="2.5" ry="3.15" class="c4"/>
<ellipse cx="484.97" cy="781.68" rx="2.05" ry="2.6" fill="#4a80c2" stroke="#444" stroke-width="0.45"/>
<ellipse cx="490.91" cy="781.68" rx="1.35" ry="1.7" fill="#8fb9de" stroke="#555" stroke-width="0.35"/>
<ellipse cx="496.85" cy="781.68" rx="2.5" ry="3.15" class="c4"/>
<ellipse cx="502.79" cy="781.68" rx="2.5" ry="3.15" class="c4"/>
<circle cx="508.73" cy="781.68" r="0.55" fill="#777"/>
<ellipse cx="514.67" cy="781.68" rx="1.35" ry="1.7" fill="#8fb9de" stroke="#555" stroke-width="0.35"/>
<ellipse cx="520.61" cy="781.68" rx="1.35" ry="1.7" fill="#4a80c2" stroke="#555" stroke-width="0.35"/>
<ellipse cx="526.55" cy="781.68" rx="2.5" ry="3.15" class="c2"/>
<ellipse cx="532.49" cy="781.68" rx="2.5" ry="3.15" class="c2"/>
<ellipse cx="538.43" cy="781.68" rx="2.05" ry="2.6" class="c2"/>
<ellipse cx="544.37" cy="781.68" rx="2.5" ry="3.15" class="c2"/>
<ellipse cx="550.31" cy="781.68" rx="1.35" ry="1.7" fill="#4a80c2" stroke="#555" stroke-width="0.35"/>
<circle cx="556.25" cy="781.68" r="0.55" fill="#777"/>
<circle cx="562.19" cy="781.68" r="0.55" fill="#777"/>
<circle cx="568.13" cy="781.68" r="0.55" fill="#777"/>
<ellipse cx="574.07" cy="781.68" rx="2.5" ry="3.15" fill="#4a80c2" stroke="#444" stroke-width="0.45"/>
<ellipse cx="580.01" cy="781.68" rx="2.5" ry="3.15" class="c2"/>
<circle cx="585.95" cy="781.68" r="0.55" fill="#777"/>
<ellipse cx="591.89" cy="781.68" rx="1.35" ry="1.7" class="c26"/>
<ellipse cx="597.83" cy="781.68" rx="1.35" ry="1.7" class="c26"/>
<ellipse cx="603.77" cy="781.68" rx="2.05" ry="2.6" class="c0"/>
<ellipse cx="609.71" cy="781.68" rx="2.5" ry="3.15" class="c0"/>
<circle cx="615.65" cy="781.68" r="0.55" fill="#777"/>
<ellipse cx="621.59" cy="781.68" rx="2.05" ry="2.6" class="c0"/>
<ellipse cx="627.53" cy="781.68" rx="2.05" ry="2.6" class="c0"/>
<ellipse cx="633.47" cy="781.68" rx="1.35" ry="1.7" class="c26"/>
<ellipse cx="639.41" cy="781.68" rx="1.35" ry="1.7" class="c26"/>
<line x1="343.60" y1="792.49" x2="345.40" y2="792.49" class="c8"/>
<text x="342.80" y="794.09" font-size="4.5" text-anchor="end" letter-spacing="-0.05" stroke="#000" stroke-width="0.12">Gluta-interneuron</text>
<ellipse cx="348.35" cy="792.49" rx="2.5" ry="3.15" class="c18"/>
<ellipse cx="354.29" cy="792.49" rx="2.5" ry="3.15" class="c18"/>
<ellipse cx="360.23" cy="792.49" rx="2.05" ry="2.6" class="c9"/>
<ellipse cx="366.17" cy="792.49" rx="2.05" ry="2.6" class="c28"/>
<ellipse cx="372.11" cy="792.49" rx="2.5" ry="3.15" class="c28"/>
<ellipse cx="378.05" cy="792.49" rx="2.05" ry="2.6" class="c0"/>
<circle cx="383.99" cy="792.49" r="0.55" fill="#777"/>
<ellipse cx="389.93" cy="792.49" rx="2.5" ry="3.15" class="c2"/>
<ellipse cx="395.87" cy="792.49" rx="2.05" ry="2.6" class="c0"/>
<ellipse cx="401.81" cy="792.49" rx="1.35" ry="1.7" fill="#fbeea0" stroke="#555" stroke-width="0.35"/>
<ellipse cx="407.75" cy="792.49" rx="2.5" ry="3.15" class="c28"/>
<ellipse cx="413.69" cy="792.49" rx="2.5" ry="3.15" class="c18"/>
<ellipse cx="419.63" cy="792.49" rx="2.05" ry="2.6" class="c4"/>
<ellipse cx="425.57" cy="792.49" rx="2.5" ry="3.15" class="c9"/>
<ellipse cx="431.51" cy="792.49" rx="2.05" ry="2.6" class="c9"/>
<ellipse cx="437.45" cy="792.49" rx="2.5" ry="3.15" class="c0"/>
<ellipse cx="443.39" cy="792.49" rx="2.5" ry="3.15" class="c0"/>
<ellipse cx="449.33" cy="792.49" rx="2.05" ry="2.6" class="c4"/>
<ellipse cx="455.27" cy="792.49" rx="1.35" ry="1.7" fill="#e6f2e4" stroke="#555" stroke-width="0.35"/>
<ellipse cx="461.21" cy="792.49" rx="2.05" ry="2.6" class="c2"/>
<ellipse cx="467.15" cy="792.49" rx="1.35" ry="1.7" fill="#fbeea0" stroke="#555" stroke-width="0.35"/>
<ellipse cx="473.09" cy="792.49" rx="2.05" ry="2.6" class="c4"/>
<ellipse cx="479.03" cy="792.49" rx="2.5" ry="3.15" class="c4"/>
<ellipse cx="484.97" cy="792.49" rx="2.05" ry="2.6" class="c9"/>
<ellipse cx="490.91" cy="792.49" rx="2.05" ry="2.6" class="c9"/>
<ellipse cx="496.85" cy="792.49" rx="2.5" ry="3.15" class="c2"/>
<ellipse cx="502.79" cy="792.49" rx="2.5" ry="3.15" class="c0"/>
<circle cx="508.73" cy="792.49" r="0.55" fill="#777"/>
<ellipse cx="514.67" cy="792.49" rx="1.35" ry="1.7" fill="#8fb9de" stroke="#555" stroke-width="0.35"/>
<ellipse cx="520.61" cy="792.49" rx="2.05" ry="2.6" class="c4"/>
<ellipse cx="526.55" cy="792.49" rx="2.5" ry="3.15" class="c2"/>
<ellipse cx="532.49" cy="792.49" rx="2.5" ry="3.15" class="c2"/>
<ellipse cx="538.43" cy="792.49" rx="2.05" ry="2.6" class="c2"/>
<ellipse cx="544.37" cy="792.49" rx="2.5" ry="3.15" class="c2"/>
<ellipse cx="550.31" cy="792.49" rx="2.05" ry="2.6" class="c0"/>
<circle cx="556.25" cy="792.49" r="0.55" fill="#777"/>
<circle cx="562.19" cy="792.49" r="0.55" fill="#777"/>
<circle cx="568.13" cy="792.49" r="0.55" fill="#777"/>
<ellipse cx="574.07" cy="792.49" rx="2.5" ry="3.15" class="c4"/>
<ellipse cx="580.01" cy="792.49" rx="2.5" ry="3.15" class="c4"/>
<circle cx="585.95" cy="792.49" r="0.55" fill="#777"/>
<ellipse cx="591.89" cy="792.49" rx="2.05" ry="2.6" class="c0"/>
<ellipse cx="597.83" cy="792.49" rx="2.05" ry="2.6" class="c0"/>
<ellipse cx="603.77" cy="792.49" rx="1.35" ry="1.7" class="c26"/>
<ellipse cx="609.71" cy="792.49" rx="2.5" ry="3.15" class="c0"/>
<circle cx="615.65" cy="792.49" r="0.55" fill="#777"/>
<ellipse cx="621.59" cy="792.49" rx="2.5" ry="3.15" class="c0"/>
<ellipse cx="627.53" cy="792.49" rx="2.5" ry="3.15" class="c0"/>
<ellipse cx="633.47" cy="792.49" rx="2.05" ry="2.6" class="c0"/>
<ellipse cx="639.41" cy="792.49" rx="2.05" ry="2.6" class="c0"/>
<line x1="343.60" y1="803.30" x2="345.40" y2="803.30" class="c8"/>
<text x="342.80" y="804.90" font-size="4.5" text-anchor="end" letter-spacing="-0.05" stroke="#000" stroke-width="0.12">GABA-interneuron</text>
<ellipse cx="348.35" cy="803.30" rx="2.5" ry="3.15" class="c0"/>
<ellipse cx="354.29" cy="803.30" rx="2.5" ry="3.15" class="c0"/>
<ellipse cx="360.23" cy="803.30" rx="2.05" ry="2.6" class="c0"/>
<ellipse cx="366.17" cy="803.30" rx="1.35" ry="1.7" fill="#e6f2e4" stroke="#555" stroke-width="0.35"/>
<ellipse cx="372.11" cy="803.30" rx="2.05" ry="2.6" class="c9"/>
<ellipse cx="378.05" cy="803.30" rx="2.05" ry="2.6" class="c28"/>
<circle cx="383.99" cy="803.30" r="0.55" fill="#777"/>
<ellipse cx="389.93" cy="803.30" rx="2.5" ry="3.15" class="c4"/>
<ellipse cx="395.87" cy="803.30" rx="2.5" ry="3.15" class="c9"/>
<ellipse cx="401.81" cy="803.30" rx="1.35" ry="1.7" fill="#f6a963" stroke="#555" stroke-width="0.35"/>
<ellipse cx="407.75" cy="803.30" rx="2.5" ry="3.15" class="c4"/>
<ellipse cx="413.69" cy="803.30" rx="2.5" ry="3.15" class="c0"/>
<ellipse cx="419.63" cy="803.30" rx="1.35" ry="1.7" class="c26"/>
<ellipse cx="425.57" cy="803.30" rx="2.5" ry="3.15" class="c4"/>
<ellipse cx="431.51" cy="803.30" rx="2.05" ry="2.6" class="c9"/>
<ellipse cx="437.45" cy="803.30" rx="2.05" ry="2.6" class="c9"/>
<ellipse cx="443.39" cy="803.30" rx="2.05" ry="2.6" class="c9"/>
<ellipse cx="449.33" cy="803.30" rx="2.05" ry="2.6" class="c4"/>
<ellipse cx="455.27" cy="803.30" rx="1.35" ry="1.7" fill="#e6f2e4" stroke="#555" stroke-width="0.35"/>
<ellipse cx="461.21" cy="803.30" rx="2.05" ry="2.6" class="c2"/>
<ellipse cx="467.15" cy="803.30" rx="1.35" ry="1.7" class="c26"/>
<ellipse cx="473.09" cy="803.30" rx="2.05" ry="2.6" class="c0"/>
<ellipse cx="479.03" cy="803.30" rx="2.5" ry="3.15" class="c4"/>
<ellipse cx="484.97" cy="803.30" rx="2.05" ry="2.6" class="c0"/>
<ellipse cx="490.91" cy="803.30" rx="2.05" ry="2.6" class="c2"/>
<ellipse cx="496.85" cy="803.30" rx="2.5" ry="3.15" class="c0"/>
<ellipse cx="502.79" cy="803.30" rx="2.5" ry="3.15" class="c2"/>
<circle cx="508.73" cy="803.30" r="0.55" fill="#777"/>
<ellipse cx="514.67" cy="803.30" rx="2.05" ry="2.6" class="c4"/>
<ellipse cx="520.61" cy="803.30" rx="2.05" ry="2.6" class="c9"/>
<ellipse cx="526.55" cy="803.30" rx="2.5" ry="3.15" class="c2"/>
<ellipse cx="532.49" cy="803.30" rx="2.5" ry="3.15" class="c2"/>
<ellipse cx="538.43" cy="803.30" rx="2.5" ry="3.15" class="c0"/>
<ellipse cx="544.37" cy="803.30" rx="2.5" ry="3.15" class="c2"/>
<ellipse cx="550.31" cy="803.30" rx="2.05" ry="2.6" class="c2"/>
<circle cx="556.25" cy="803.30" r="0.55" fill="#777"/>
<circle cx="562.19" cy="803.30" r="0.55" fill="#777"/>
<circle cx="568.13" cy="803.30" r="0.55" fill="#777"/>
<ellipse cx="574.07" cy="803.30" rx="2.5" ry="3.15" class="c2"/>
<ellipse cx="580.01" cy="803.30" rx="2.5" ry="3.15" class="c2"/>
<circle cx="585.95" cy="803.30" r="0.55" fill="#777"/>
<ellipse cx="591.89" cy="803.30" rx="2.05" ry="2.6" class="c0"/>
<ellipse cx="597.83" cy="803.30" rx="2.05" ry="2.6" class="c0"/>
<ellipse cx="603.77" cy="803.30" rx="2.05" ry="2.6" class="c0"/>
<ellipse cx="609.71" cy="803.30" rx="2.5" ry="3.15" class="c0"/>
<circle cx="615.65" cy="803.30" r="0.55" fill="#777"/>
<ellipse cx="621.59" cy="803.30" rx="2.05" ry="2.6" class="c0"/>
<ellipse cx="627.53" cy="803.30" rx="2.05" ry="2.6" class="c0"/>
<ellipse cx="633.47" cy="803.30" rx="2.05" ry="2.6" class="c0"/>
<ellipse cx="639.41" cy="803.30" rx="2.05" ry="2.6" class="c0"/>
<line x1="343.60" y1="814.11" x2="345.40" y2="814.11" class="c8"/>
<text x="342.80" y="815.71" font-size="4.5" text-anchor="end" letter-spacing="-0.05" stroke="#000" stroke-width="0.12">GABA</text>
<ellipse cx="348.35" cy="814.11" rx="2.5" ry="3.15" class="c28"/>
<ellipse cx="354.29" cy="814.11" rx="2.5" ry="3.15" class="c28"/>
<ellipse cx="360.23" cy="814.11" rx="2.05" ry="2.6" class="c18"/>
<ellipse cx="366.17" cy="814.11" rx="2.05" ry="2.6" class="c18"/>
<ellipse cx="372.11" cy="814.11" rx="2.05" ry="2.6" class="c9"/>
<ellipse cx="378.05" cy="814.11" rx="2.05" ry="2.6" class="c0"/>
<circle cx="383.99" cy="814.11" r="0.55" fill="#777"/>
<ellipse cx="389.93" cy="814.11" rx="2.5" ry="3.15" class="c2"/>
<ellipse cx="395.87" cy="814.11" rx="1.35" ry="1.7" fill="#8fb9de" stroke="#555" stroke-width="0.35"/>
<circle cx="401.81" cy="814.11" r="0.55" fill="#777"/>
<ellipse cx="407.75" cy="814.11" rx="2.5" ry="3.15" class="c9"/>
<ellipse cx="413.69" cy="814.11" rx="2.5" ry="3.15" class="c9"/>
<ellipse cx="419.63" cy="814.11" rx="2.5" ry="3.15" class="c4"/>
<ellipse cx="425.57" cy="814.11" rx="2.05" ry="2.6" class="c4"/>
<ellipse cx="431.51" cy="814.11" rx="2.5" ry="3.15" class="c2"/>
<ellipse cx="437.45" cy="814.11" rx="2.05" ry="2.6" class="c9"/>
<ellipse cx="443.39" cy="814.11" rx="2.05" ry="2.6" class="c0"/>
<ellipse cx="449.33" cy="814.11" rx="2.5" ry="3.15" class="c0"/>
<ellipse cx="455.27" cy="814.11" rx="2.05" ry="2.6" class="c4"/>
<ellipse cx="461.21" cy="814.11" rx="1.35" ry="1.7" fill="#e6f2e4" stroke="#555" stroke-width="0.35"/>
<ellipse cx="467.15" cy="814.11" rx="2.05" ry="2.6" class="c2"/>
<ellipse cx="473.09" cy="814.11" rx="1.35" ry="1.7" fill="#fbeea0" stroke="#555" stroke-width="0.35"/>
<ellipse cx="479.03" cy="814.11" rx="2.05" ry="2.6" class="c4"/>
<ellipse cx="484.97" cy="814.11" rx="2.5" ry="3.15" class="c9"/>
<ellipse cx="490.91" cy="814.11" rx="2.05" ry="2.6" class="c4"/>
<ellipse cx="496.85" cy="814.11" rx="2.5" ry="3.15" class="c0"/>
<ellipse cx="502.79" cy="814.11" rx="2.5" ry="3.15" class="c4"/>
<circle cx="508.73" cy="814.11" r="0.55" fill="#777"/>
<ellipse cx="514.67" cy="814.11" rx="2.05" ry="2.6" class="c9"/>
<ellipse cx="520.61" cy="814.11" rx="2.05" ry="2.6" class="c4"/>
<ellipse cx="526.55" cy="814.11" rx="2.5" ry="3.15" class="c2"/>
<ellipse cx="532.49" cy="814.11" rx="2.5" ry="3.15" class="c2"/>
<ellipse cx="538.43" cy="814.11" rx="2.5" ry="3.15" class="c0"/>
<ellipse cx="544.37" cy="814.11" rx="2.5" ry="3.15" class="c0"/>
<ellipse cx="550.31" cy="814.11" rx="2.05" ry="2.6" class="c0"/>
<circle cx="556.25" cy="814.11" r="0.55" fill="#777"/>
<circle cx="562.19" cy="814.11" r="0.55" fill="#777"/>
<circle cx="568.13" cy="814.11" r="0.55" fill="#777"/>
<ellipse cx="574.07" cy="814.11" rx="2.5" ry="3.15" class="c4"/>
<ellipse cx="580.01" cy="814.11" rx="2.5" ry="3.15" class="c0"/>
<circle cx="585.95" cy="814.11" r="0.55" fill="#777"/>
<ellipse cx="591.89" cy="814.11" rx="2.5" ry="3.15" class="c0"/>
<ellipse cx="597.83" cy="814.11" rx="2.05" ry="2.6" class="c0"/>
<ellipse cx="603.77" cy="814.11" rx="2.05" ry="2.6" class="c2"/>
<ellipse cx="609.71" cy="814.11" rx="2.5" ry="3.15" class="c0"/>
<circle cx="615.65" cy="814.11" r="0.55" fill="#777"/>
<ellipse cx="621.59" cy="814.11" rx="2.05" ry="2.6" class="c0"/>
<ellipse cx="627.53" cy="814.11" rx="2.5" ry="3.15" class="c0"/>
<ellipse cx="633.47" cy="814.11" rx="2.05" ry="2.6" class="c0"/>
<ellipse cx="639.41" cy="814.11" rx="2.05" ry="2.6" class="c0"/>
<line x1="348.35" y1="819.90" x2="348.35" y2="821.40" class="c13"/>
<text x="349.95" y="825.00" class="c14" transform="rotate(-45 349.95 825.00)">HOXA9(+)</text>
<line x1="354.29" y1="819.90" x2="354.29" y2="821.40" class="c13"/>
<text x="355.89" y="825.00" class="c14" transform="rotate(-45 355.89 825.00)">NR2F1(+)</text>
<line x1="360.23" y1="819.90" x2="360.23" y2="821.40" class="c13"/>
<text x="361.83" y="825.00" class="c14" transform="rotate(-45 361.83 825.00)">NEUROD1(+)</text>
<line x1="366.17" y1="819.90" x2="366.17" y2="821.40" class="c13"/>
<text x="367.77" y="825.00" class="c14" transform="rotate(-45 367.77 825.00)">NHLH1(+)</text>
<line x1="372.11" y1="819.90" x2="372.11" y2="821.40" class="c13"/>
<text x="373.71" y="825.00" class="c14" transform="rotate(-45 373.71 825.00)">OLIG2(+)</text>
<line x1="378.05" y1="819.90" x2="378.05" y2="821.40" class="c13"/>
<text x="379.65" y="825.00" class="c14" transform="rotate(-45 379.65 825.00)">DMRT1(+)</text>
<line x1="383.99" y1="819.90" x2="383.99" y2="821.40" class="c13"/>
<text x="385.59" y="825.00" class="c14" transform="rotate(-45 385.59 825.00)">MAX(+)</text>
<line x1="389.93" y1="819.90" x2="389.93" y2="821.40" class="c13"/>
<text x="391.53" y="825.00" class="c14" transform="rotate(-45 391.53 825.00)">LHX2(+)</text>
<line x1="395.87" y1="819.90" x2="395.87" y2="821.40" class="c13"/>
<text x="397.47" y="825.00" class="c14" transform="rotate(-45 397.47 825.00)">GATA3(+)</text>
<line x1="401.81" y1="819.90" x2="401.81" y2="821.40" class="c13"/>
<text x="403.41" y="825.00" class="c14" transform="rotate(-45 403.41 825.00)">EN2(+)</text>
<line x1="407.75" y1="819.90" x2="407.75" y2="821.40" class="c13"/>
<text x="409.35" y="825.00" class="c14" transform="rotate(-45 409.35 825.00)">BARHL1(+)</text>
<line x1="413.69" y1="819.90" x2="413.69" y2="821.40" class="c13"/>
<text x="415.29" y="825.00" class="c14" transform="rotate(-45 415.29 825.00)">HES6(+)</text>
<line x1="419.63" y1="819.90" x2="419.63" y2="821.40" class="c13"/>
<text x="421.23" y="825.00" class="c14" transform="rotate(-45 421.23 825.00)">TBX3(+)</text>
<line x1="425.57" y1="819.90" x2="425.57" y2="821.40" class="c13"/>
<text x="427.17" y="825.00" class="c14" transform="rotate(-45 427.17 825.00)">GSX1(+)</text>
<line x1="431.51" y1="819.90" x2="431.51" y2="821.40" class="c13"/>
<text x="433.11" y="825.00" class="c14" transform="rotate(-45 433.11 825.00)">NR2E1(+)</text>
<line x1="437.45" y1="819.90" x2="437.45" y2="821.40" class="c13"/>
<text x="439.05" y="825.00" class="c14" transform="rotate(-45 439.05 825.00)">RAX(+)</text>
<line x1="443.39" y1="819.90" x2="443.39" y2="821.40" class="c13"/>
<text x="444.99" y="825.00" class="c14" transform="rotate(-45 444.99 825.00)">SOX2(+)</text>
<line x1="449.33" y1="819.90" x2="449.33" y2="821.40" class="c13"/>
<text x="450.93" y="825.00" class="c14" transform="rotate(-45 450.93 825.00)">ZNF(+)</text>
<line x1="455.27" y1="819.90" x2="455.27" y2="821.40" class="c13"/>
<text x="456.87" y="825.00" class="c14" transform="rotate(-45 456.87 825.00)">OTX1(+)</text>
<line x1="461.21" y1="819.90" x2="461.21" y2="821.40" class="c13"/>
<text x="462.81" y="825.00" class="c14" transform="rotate(-45 462.81 825.00)">PRDM16(+)</text>
<line x1="467.15" y1="819.90" x2="467.15" y2="821.40" class="c13"/>
<text x="468.75" y="825.00" class="c14" transform="rotate(-45 468.75 825.00)">SOX9(+)</text>
<line x1="473.09" y1="819.90" x2="473.09" y2="821.40" class="c13"/>
<text x="474.69" y="825.00" class="c14" transform="rotate(-45 474.69 825.00)">NFIA(+)</text>
<line x1="479.03" y1="819.90" x2="479.03" y2="821.40" class="c13"/>
<text x="480.63" y="825.00" class="c14" transform="rotate(-45 480.63 825.00)">HEY1(+)</text>
<line x1="484.97" y1="819.90" x2="484.97" y2="821.40" class="c13"/>
<text x="486.57" y="825.00" class="c14" transform="rotate(-45 486.57 825.00)">RFX4(+)</text>
<line x1="490.91" y1="819.90" x2="490.91" y2="821.40" class="c13"/>
<text x="492.51" y="825.00" class="c14" transform="rotate(-45 492.51 825.00)">TFAP2A(+)</text>
<line x1="496.85" y1="819.90" x2="496.85" y2="821.40" class="c13"/>
<text x="498.45" y="825.00" class="c14" transform="rotate(-45 498.45 825.00)">MEIS1(+)</text>
<line x1="502.79" y1="819.90" x2="502.79" y2="821.40" class="c13"/>
<text x="504.39" y="825.00" class="c14" transform="rotate(-45 504.39 825.00)">PAX3(+)</text>
<line x1="508.73" y1="819.90" x2="508.73" y2="821.40" class="c13"/>
<text x="510.33" y="825.00" class="c14" transform="rotate(-45 510.33 825.00)">LMX1A(+)</text>
<line x1="514.67" y1="819.90" x2="514.67" y2="821.40" class="c13"/>
<text x="516.27" y="825.00" class="c14" transform="rotate(-45 516.27 825.00)">BHLHE22(+)</text>
<line x1="520.61" y1="819.90" x2="520.61" y2="821.40" class="c13"/>
<text x="522.21" y="825.00" class="c14" transform="rotate(-45 522.21 825.00)">HOXA2(+)</text>
<line x1="526.55" y1="819.90" x2="526.55" y2="821.40" class="c13"/>
<text x="528.15" y="825.00" class="c14" transform="rotate(-45 528.15 825.00)">POU3F2(+)</text>
<line x1="532.49" y1="819.90" x2="532.49" y2="821.40" class="c13"/>
<text x="534.09" y="825.00" class="c14" transform="rotate(-45 534.09 825.00)">ID4(+)</text>
<line x1="538.43" y1="819.90" x2="538.43" y2="821.40" class="c13"/>
<text x="540.03" y="825.00" class="c14" transform="rotate(-45 540.03 825.00)">IRX3(+)</text>
<line x1="544.37" y1="819.90" x2="544.37" y2="821.40" class="c13"/>
<text x="545.97" y="825.00" class="c14" transform="rotate(-45 545.97 825.00)">ESRRG(+)</text>
<line x1="550.31" y1="819.90" x2="550.31" y2="821.40" class="c13"/>
<text x="551.91" y="825.00" class="c14" transform="rotate(-45 551.91 825.00)">ELF1(+)</text>
<line x1="556.25" y1="819.90" x2="556.25" y2="821.40" class="c13"/>
<text x="557.85" y="825.00" class="c14" transform="rotate(-45 557.85 825.00)">JUN(+)</text>
<line x1="562.19" y1="819.90" x2="562.19" y2="821.40" class="c13"/>
<text x="563.79" y="825.00" class="c14" transform="rotate(-45 563.79 825.00)">POU4F1(+)</text>
<line x1="568.13" y1="819.90" x2="568.13" y2="821.40" class="c13"/>
<text x="569.73" y="825.00" class="c14" transform="rotate(-45 569.73 825.00)">RUNX1(+)</text>
<line x1="574.07" y1="819.90" x2="574.07" y2="821.40" class="c13"/>
<text x="575.67" y="825.00" class="c14" transform="rotate(-45 575.67 825.00)">ISL1(+)</text>
<line x1="580.01" y1="819.90" x2="580.01" y2="821.40" class="c13"/>
<text x="581.61" y="825.00" class="c14" transform="rotate(-45 581.61 825.00)">IRF8(+)</text>
<line x1="585.95" y1="819.90" x2="585.95" y2="821.40" class="c13"/>
<text x="587.55" y="825.00" class="c14" transform="rotate(-45 587.55 825.00)">BCL6(+)</text>
<line x1="591.89" y1="819.90" x2="591.89" y2="821.40" class="c13"/>
<text x="593.49" y="825.00" class="c14" transform="rotate(-45 593.49 825.00)">SPI1(+)</text>
<line x1="597.83" y1="819.90" x2="597.83" y2="821.40" class="c13"/>
<text x="599.43" y="825.00" class="c14" transform="rotate(-45 599.43 825.00)">MAF(+)</text>
<line x1="603.77" y1="819.90" x2="603.77" y2="821.40" class="c13"/>
<text x="605.37" y="825.00" class="c14" transform="rotate(-45 605.37 825.00)">FOXO1(+)</text>
<line x1="609.71" y1="819.90" x2="609.71" y2="821.40" class="c13"/>
<text x="611.31" y="825.00" class="c14" transform="rotate(-45 611.31 825.00)">RUNX2(+)</text>
<line x1="615.65" y1="819.90" x2="615.65" y2="821.40" class="c13"/>
<text x="617.25" y="825.00" class="c14" transform="rotate(-45 617.25 825.00)">MEF2C(+)</text>
<line x1="621.59" y1="819.90" x2="621.59" y2="821.40" class="c13"/>
<text x="623.19" y="825.00" class="c14" transform="rotate(-45 623.19 825.00)">STAT4(+)</text>
<line x1="627.53" y1="819.90" x2="627.53" y2="821.40" class="c13"/>
<text x="629.13" y="825.00" class="c14" transform="rotate(-45 629.13 825.00)">HMGA2(+)</text>
<line x1="633.47" y1="819.90" x2="633.47" y2="821.40" class="c13"/>
<text x="635.07" y="825.00" class="c14" transform="rotate(-45 635.07 825.00)">KLF4(+)</text>
<line x1="639.41" y1="819.90" x2="639.41" y2="821.40" class="c13"/>
<text x="641.01" y="825.00" class="c14" transform="rotate(-45 641.01 825.00)">CEBPD(+)</text>
<defs><linearGradient id="gH" x1="0" y1="0" x2="0" y2="1"><stop offset="0" stop-color="#d73027"/><stop offset="0.3" stop-color="#fc8d59"/><stop offset="0.55" stop-color="#ffffbf"/><stop offset="0.78" stop-color="#abd0e6"/><stop offset="1" stop-color="#4575b4"/></linearGradient></defs>
<text x="649.70" y="709.80" font-size="4.6" fill="#111">Average</text>
<text x="649.70" y="714.60" font-size="4.6" fill="#111">Expression</text>
<rect x="649.70" y="718.40" width="6.30" height="37.70" fill="url(#gH)"/>
<text x="658.50" y="724.10" font-size="3.6" fill="#222">2</text>
<text x="658.50" y="733.30" font-size="3.6" fill="#222">1</text>
<text x="658.50" y="743.30" font-size="3.6" fill="#222">0</text>
<text x="658.50" y="752.50" font-size="3.6" fill="#222">-1</text>
<text x="649.70" y="770.20" font-size="4.6" fill="#111">Percent Expressed</text>
<circle cx="653.00" cy="777.70" r="0.90" fill="#000"/>
<text x="658.70" y="779.00" font-size="3.6" fill="#222">25</text>
<circle cx="653.00" cy="785.20" r="1.60" fill="#000"/>
<text x="658.70" y="786.50" font-size="3.6" fill="#222">50</text>
<circle cx="653.00" cy="792.60" r="2.20" fill="#000"/>
<text x="658.70" y="793.90" font-size="3.6" fill="#222">75</text>
<circle cx="653.00" cy="800.70" r="2.80" fill="#000"/>
<text x="658.70" y="802.00" font-size="3.6" fill="#222">100</text>
</svg></body></html>
